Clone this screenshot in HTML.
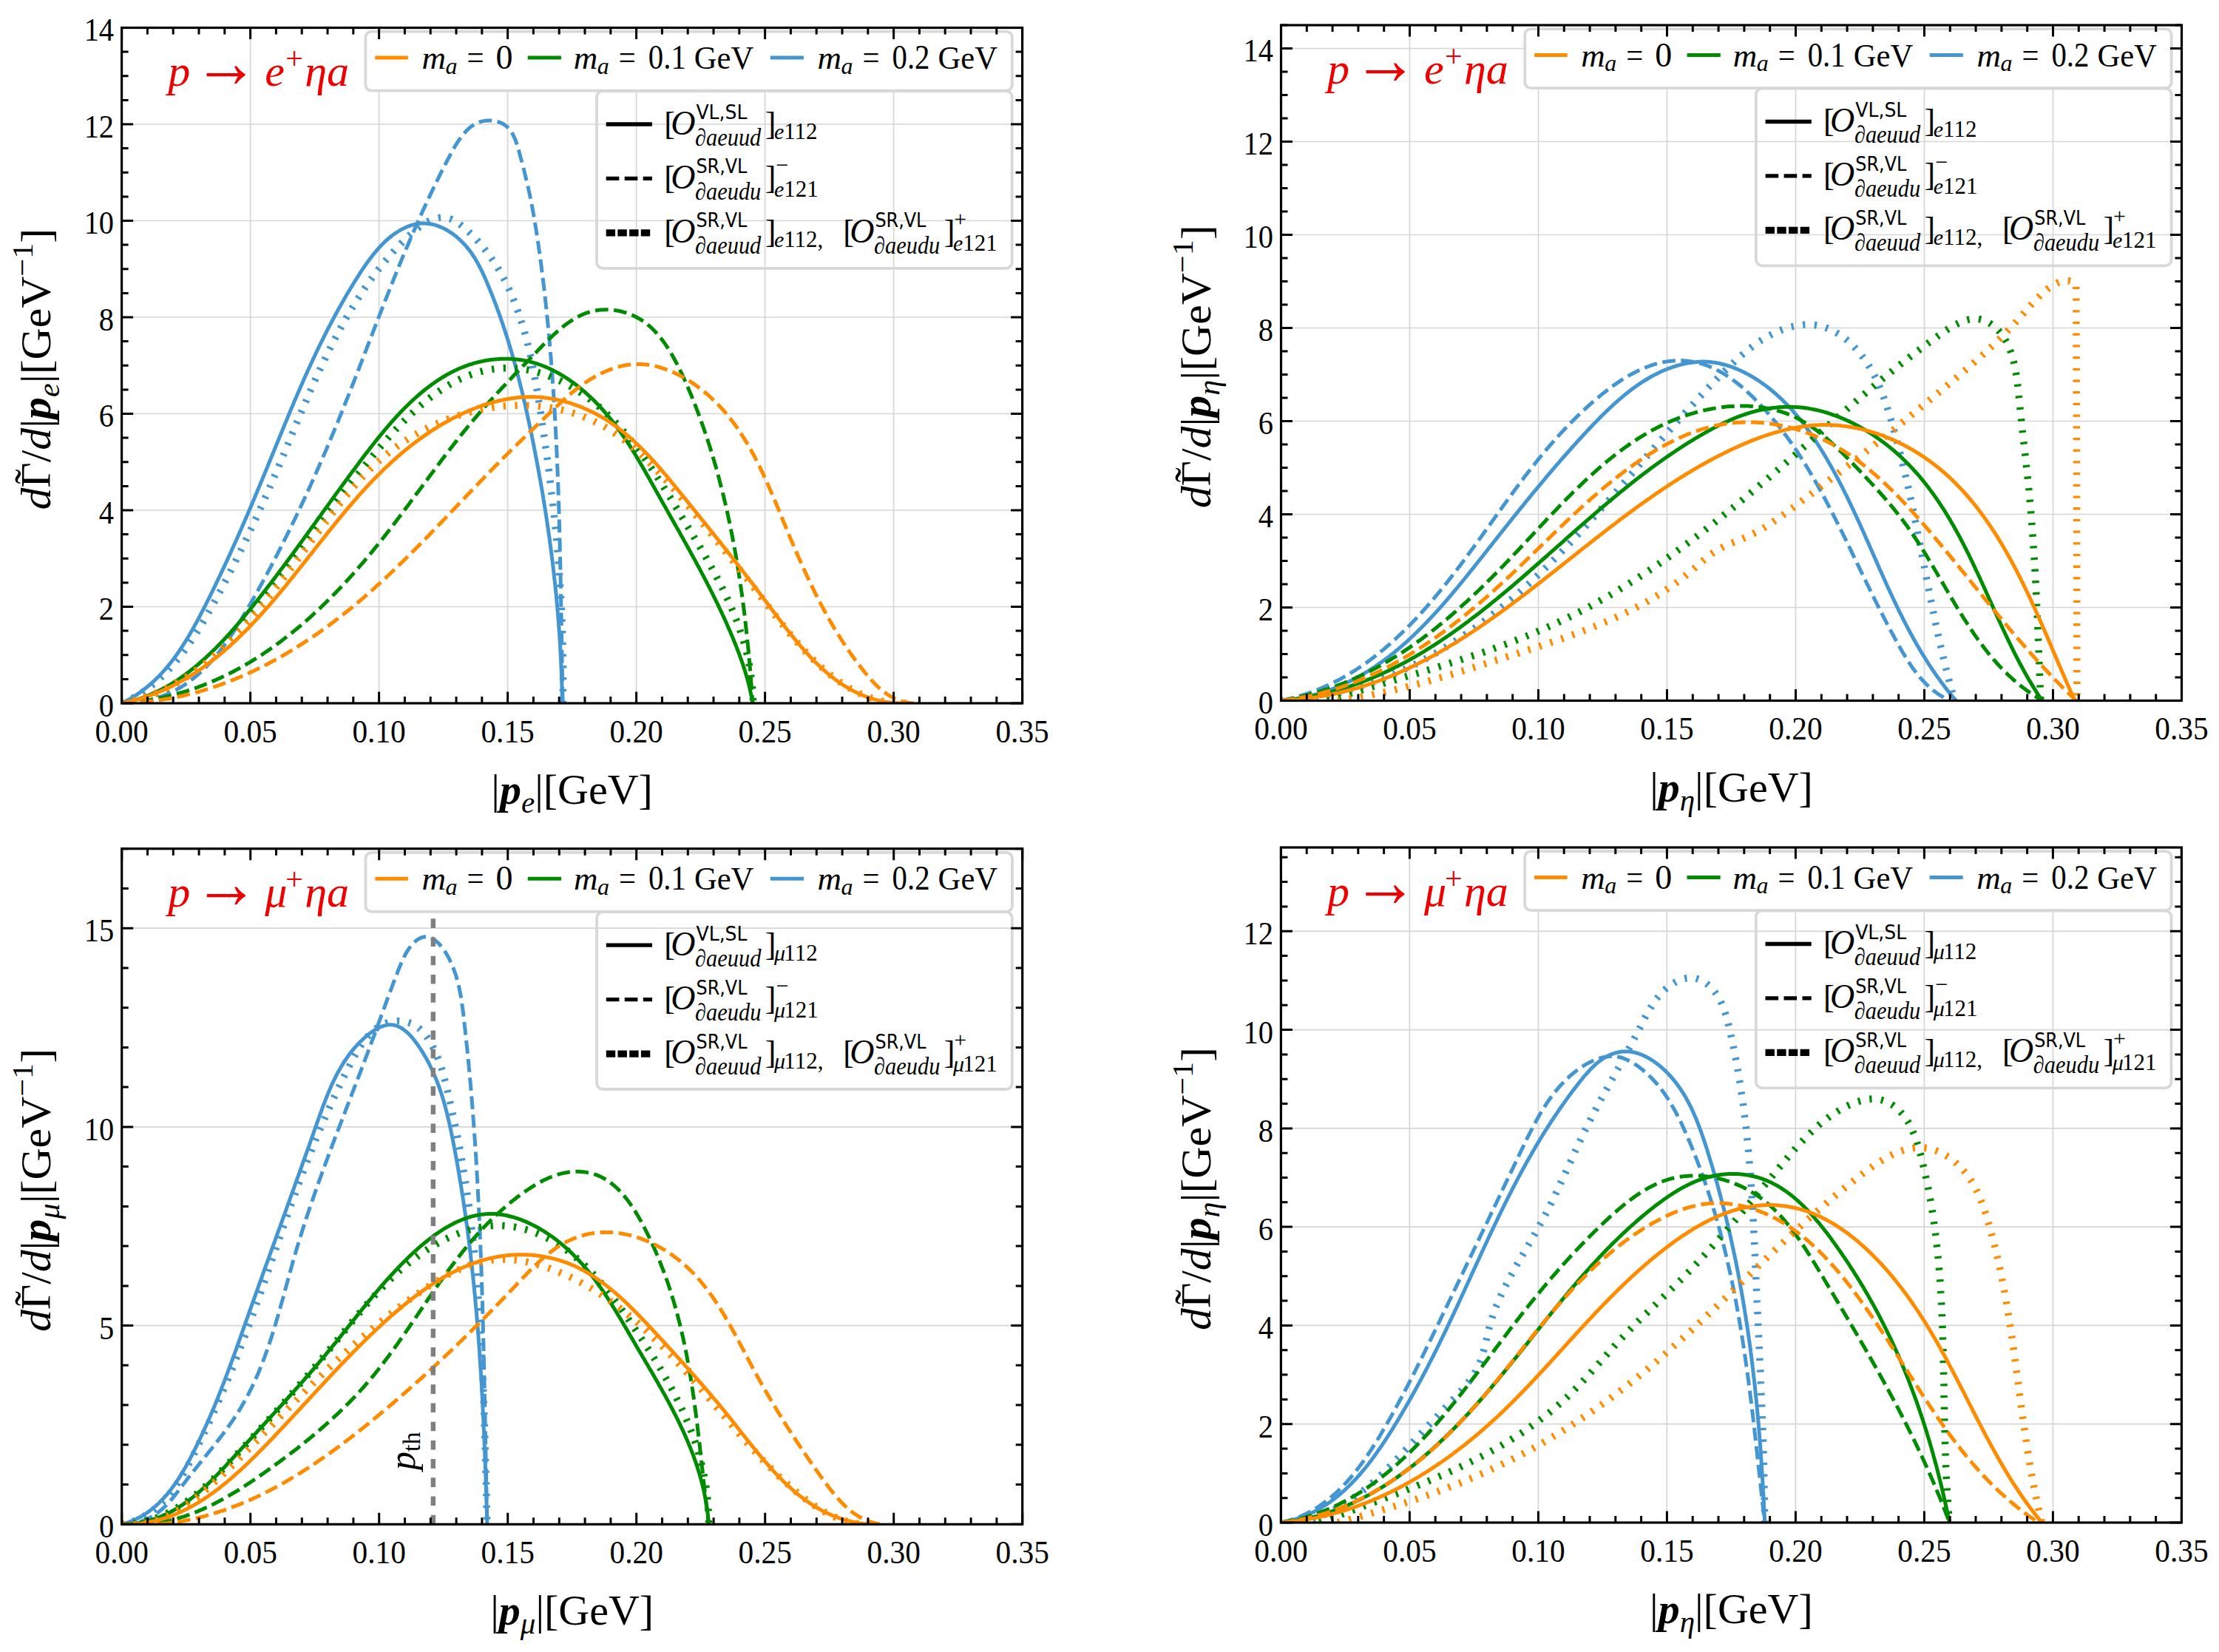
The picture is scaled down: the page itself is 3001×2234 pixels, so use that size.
<!DOCTYPE html><html><head><meta charset="utf-8"><style>html,body{margin:0;padding:0;background:#fff;}svg{display:block;}</style></head><body>
<svg xmlns="http://www.w3.org/2000/svg" width="3001" height="2234" viewBox="0 0 3001 2234">
<rect width="3001" height="2234" fill="#fff"/>
<g stroke="#d6d6d6" stroke-width="1.7"><line x1="338.6" y1="37.5" x2="338.6" y2="951.0"/><line x1="512.6" y1="37.5" x2="512.6" y2="951.0"/><line x1="686.6" y1="37.5" x2="686.6" y2="951.0"/><line x1="860.6" y1="37.5" x2="860.6" y2="951.0"/><line x1="1034.6" y1="37.5" x2="1034.6" y2="951.0"/><line x1="1208.6" y1="37.5" x2="1208.6" y2="951.0"/><line x1="164.6" y1="820.5" x2="1382.6" y2="820.5"/><line x1="164.6" y1="690.0" x2="1382.6" y2="690.0"/><line x1="164.6" y1="559.5" x2="1382.6" y2="559.5"/><line x1="164.6" y1="429.0" x2="1382.6" y2="429.0"/><line x1="164.6" y1="298.5" x2="1382.6" y2="298.5"/><line x1="164.6" y1="168.0" x2="1382.6" y2="168.0"/></g>
<clipPath id="c0"><rect x="164.6" y="37.5" width="1218.0" height="913.5"/></clipPath>
<g clip-path="url(#c0)" fill="none" stroke-linejoin="round">
<path d="M164.6,951.0 167.4,949.6 170.2,948.2 172.9,946.7 175.6,945.2 178.2,943.6 180.8,942.0 183.4,940.4 185.9,938.7 188.4,937.0 190.9,935.2 193.3,933.5 195.6,931.6 198.0,929.8 200.3,927.9 202.5,926.0 204.7,924.1 206.9,922.1 209.1,920.1 211.2,918.0 213.3,916.0 215.4,913.9 217.4,911.7 219.4,909.6 221.4,907.4 223.3,905.2 225.3,903.0 227.2,900.7 229.0,898.4 230.9,896.1 232.7,893.8 234.5,891.4 236.2,889.1 238.0,886.7 239.7,884.3 241.4,881.8 243.1,879.4 244.7,876.9 246.3,874.4 248.0,871.9 249.6,869.4 251.1,866.9 252.7,864.3 254.3,861.8 255.8,859.2 257.3,856.6 258.8,854.0 260.3,851.4 261.8,848.7 263.2,846.1 264.7,843.5 266.1,840.8 267.6,838.1 269.0,835.5 270.4,832.8 271.8,830.1 273.2,827.4 274.6,824.7 276.0,822.0 277.4,819.3 278.7,816.6 280.1,813.9 281.5,811.2 282.8,808.5 284.2,805.8 285.5,803.0 286.9,800.3 288.2,797.6 289.5,794.9 290.9,792.1 292.2,789.4 293.5,786.7 294.8,783.9 296.1,781.2 297.4,778.4 298.7,775.7 300.0,772.9 301.3,770.2 302.6,767.4 303.9,764.7 305.2,761.9 306.5,759.2 307.7,756.4 309.0,753.6 310.3,750.9 311.5,748.1 312.8,745.3 314.0,742.6 315.3,739.8 316.5,737.0 317.8,734.3 319.0,731.5 320.3,728.7 321.5,725.9 322.7,723.2 323.9,720.4 325.2,717.6 326.4,714.8 327.6,712.1 328.8,709.3 330.0,706.5 331.2,703.7 332.4,700.9 333.6,698.2 334.8,695.4 336.0,692.6 337.2,689.8 338.4,687.0 339.6,684.3 340.7,681.5 341.9,678.7 343.1,675.9 344.3,673.2 345.4,670.4 346.6,667.6 347.8,664.8 348.9,662.0 350.1,659.3 351.2,656.5 352.4,653.7 353.5,650.9 354.7,648.2 355.8,645.4 357.0,642.6 358.1,639.9 359.3,637.1 360.4,634.3 361.5,631.6 362.7,628.8 363.8,626.0 364.9,623.3 366.1,620.5 367.2,617.8 368.3,615.0 369.5,612.2 370.6,609.5 371.7,606.7 372.8,604.0 373.9,601.2 375.1,598.5 376.2,595.8 377.3,593.0 378.4,590.3 379.6,587.5 380.7,584.8 381.8,582.1 382.9,579.3 384.0,576.6 385.2,573.8 386.3,571.1 387.4,568.4 388.6,565.7 389.7,562.9 390.8,560.2 392.0,557.5 393.1,554.7 394.2,552.0 395.4,549.3 396.5,546.6 397.7,543.8 398.8,541.1 400.0,538.4 401.2,535.7 402.3,533.0 403.5,530.2 404.7,527.5 405.9,524.8 407.0,522.1 408.2,519.4 409.4,516.7 410.6,514.0 411.8,511.2 413.0,508.5 414.2,505.8 415.5,503.1 416.7,500.4 417.9,497.7 419.2,495.0 420.4,492.3 421.7,489.6 422.9,486.9 424.2,484.2 425.5,481.5 426.7,478.7 428.0,476.0 429.3,473.3 430.6,470.6 431.9,467.9 433.3,465.2 434.6,462.5 435.9,459.8 437.3,457.1 438.6,454.4 440.0,451.7 441.4,449.0 442.7,446.3 444.1,443.6 445.5,440.9 447.0,438.2 448.4,435.5 449.8,432.8 451.3,430.1 452.7,427.4 454.2,424.7 455.7,422.0 457.1,419.3 458.6,416.6 460.2,413.9 461.7,411.2 463.2,408.4 464.8,405.7 466.3,403.0 467.9,400.3 469.5,397.6 471.1,394.9 472.7,392.2 474.3,389.5 476.0,386.8 477.6,384.1 479.3,381.4 481.0,378.7 482.7,376.0 484.4,373.3 486.1,370.6 487.8,367.9 489.6,365.2 491.4,362.6 493.2,359.9 495.0,357.3 496.8,354.7 498.7,352.2 500.6,349.7 502.5,347.2 504.4,344.7 506.4,342.3 508.4,339.9 510.4,337.6 512.4,335.3 514.5,333.0 516.6,330.8 518.7,328.7 520.8,326.6 523.0,324.6 525.2,322.7 527.5,320.8 529.7,319.0 532.1,317.2 534.4,315.6 536.8,314.0 539.2,312.5 541.6,311.0 544.1,309.7 546.7,308.5 549.2,307.3 551.8,306.2 554.4,305.3 557.1,304.4 559.7,303.7 562.4,303.1 565.1,302.6 567.8,302.3 570.6,302.1 573.3,302.1 576.0,302.2 578.7,302.4 581.5,302.8 584.2,303.3 586.9,303.9 589.6,304.7 592.2,305.6 594.9,306.6 597.5,307.7 600.1,308.9 602.7,310.3 605.2,311.7 607.8,313.3 610.2,314.9 612.7,316.6 615.1,318.4 617.5,320.3 619.8,322.3 622.0,324.4 624.2,326.5 626.4,328.7 628.5,330.9 630.5,333.2 632.5,335.6 634.4,338.0 636.3,340.4 638.1,343.0 639.8,345.5 641.5,348.1 643.1,350.7 644.7,353.4 646.2,356.1 647.7,358.8 649.1,361.5 650.5,364.3 651.9,367.1 653.2,369.9 654.5,372.7 655.8,375.5 657.0,378.4 658.2,381.2 659.4,384.1 660.6,387.0 661.8,389.8 663.0,392.7 664.1,395.5 665.3,398.4 666.4,401.3 667.5,404.1 668.6,407.0 669.7,409.9 670.8,412.7 671.9,415.6 672.9,418.5 674.0,421.3 675.0,424.2 676.0,427.1 677.0,430.0 678.0,432.8 679.0,435.7 680.0,438.6 680.9,441.4 681.9,444.3 682.8,447.2 683.8,450.1 684.7,452.9 685.6,455.8 686.5,458.7 687.4,461.6 688.3,464.5 689.2,467.3 690.0,470.2 690.9,473.1 691.7,476.0 692.6,478.9 693.4,481.8 694.2,484.6 695.0,487.5 695.8,490.4 696.6,493.3 697.4,496.2 698.2,499.1 699.0,502.0 699.7,504.9 700.5,507.8 701.2,510.7 702.0,513.6 702.7,516.5 703.4,519.4 704.1,522.3 704.9,525.2 705.6,528.1 706.3,531.0 707.0,533.9 707.7,536.8 708.3,539.7 709.0,542.6 709.7,545.5 710.4,548.4 711.0,551.4 711.7,554.3 712.3,557.2 713.0,560.1 713.6,563.0 714.2,566.0 714.9,568.9 715.5,571.8 716.1,574.7 716.7,577.7 717.4,580.6 718.0,583.5 718.6,586.5 719.2,589.4 719.8,592.3 720.4,595.3 721.0,598.2 721.6,601.1 722.1,604.1 722.7,607.0 723.3,610.0 723.9,612.9 724.4,615.9 725.0,618.8 725.6,621.8 726.1,624.7 726.7,627.7 727.2,630.6 727.8,633.6 728.3,636.6 728.9,639.5 729.4,642.5 729.9,645.4 730.5,648.4 731.0,651.4 731.5,654.3 732.0,657.3 732.5,660.3 733.1,663.2 733.6,666.2 734.1,669.2 734.6,672.2 735.0,675.1 735.5,678.1 736.0,681.1 736.5,684.1 737.0,687.0 737.4,690.0 737.9,693.0 738.4,696.0 738.8,699.0 739.3,701.9 739.7,704.9 740.2,707.9 740.6,710.9 741.1,713.9 741.5,716.9 741.9,719.9 742.3,722.9 742.8,725.8 743.2,728.8 743.6,731.8 744.0,734.8 744.4,737.8 744.8,740.8 745.2,743.8 745.6,746.8 746.0,749.8 746.3,752.8 746.7,755.8 747.1,758.8 747.5,761.8 747.8,764.8 748.2,767.8 748.5,770.8 748.9,773.8 749.2,776.8 749.5,779.8 749.9,782.8 750.2,785.8 750.5,788.8 750.8,791.8 751.2,794.8 751.5,797.8 751.8,800.8 752.1,803.8 752.4,806.8 752.7,809.8 752.9,812.8 753.2,815.8 753.5,818.8 753.8,821.8 754.0,824.8 754.3,827.8 754.5,830.8 754.8,833.9 755.0,836.9 755.3,839.9 755.5,842.9 755.7,845.9 756.0,848.9 756.2,851.9 756.4,854.9 756.6,857.9 756.8,860.9 757.0,863.9 757.2,866.9 757.4,869.9 757.6,872.9 757.7,875.9 757.9,879.0 758.1,882.0 758.2,885.0 758.4,888.0 758.5,891.0 758.7,894.0 758.8,897.0 759.0,900.0 759.1,903.0 759.2,906.0 759.3,909.0 759.4,912.0 759.5,915.0 759.6,918.0 759.7,921.0 759.8,924.0 759.9,927.0 760.0,930.0 760.1,933.0 760.1,936.0 760.2,939.0 760.2,942.0 760.3,945.0 760.3,948.0 760.4,951.0" stroke="#4496d2" stroke-width="5"/>
<path d="M164.6,951.0 167.5,949.8 170.3,948.5 173.1,947.1 175.9,945.8 178.6,944.3 181.3,942.9 183.9,941.4 186.5,939.9 189.1,938.3 191.6,936.7 194.1,935.0 196.6,933.3 199.0,931.6 201.4,929.8 203.8,928.0 206.1,926.2 208.4,924.3 210.7,922.4 212.9,920.5 215.1,918.5 217.3,916.5 219.4,914.5 221.6,912.4 223.7,910.4 225.7,908.2 227.8,906.1 229.8,903.9 231.8,901.7 233.7,899.5 235.7,897.3 237.6,895.0 239.5,892.7 241.4,890.4 243.2,888.1 245.0,885.7 246.8,883.4 248.6,881.0 250.4,878.5 252.1,876.1 253.9,873.7 255.6,871.2 257.3,868.7 258.9,866.2 260.6,863.7 262.2,861.2 263.9,858.6 265.5,856.1 267.1,853.5 268.7,851.0 270.2,848.4 271.8,845.8 273.4,843.2 274.9,840.6 276.4,838.0 277.9,835.3 279.4,832.7 280.9,830.1 282.4,827.4 283.9,824.8 285.4,822.1 286.9,819.5 288.3,816.8 289.8,814.2 291.2,811.5 292.7,808.9 294.1,806.2 295.5,803.5 297.0,800.9 298.4,798.2 299.8,795.5 301.2,792.9 302.6,790.2 304.0,787.5 305.4,784.8 306.8,782.2 308.2,779.5 309.5,776.8 310.9,774.1 312.3,771.4 313.6,768.8 315.0,766.1 316.3,763.4 317.7,760.7 319.0,758.0 320.3,755.3 321.7,752.6 323.0,749.9 324.3,747.2 325.6,744.5 326.9,741.8 328.2,739.1 329.5,736.4 330.8,733.7 332.1,731.0 333.4,728.3 334.7,725.6 336.0,722.8 337.3,720.1 338.5,717.4 339.8,714.7 341.1,712.0 342.3,709.2 343.6,706.5 344.8,703.8 346.1,701.1 347.3,698.3 348.5,695.6 349.8,692.9 351.0,690.1 352.2,687.4 353.5,684.7 354.7,681.9 355.9,679.2 357.1,676.4 358.3,673.7 359.5,670.9 360.8,668.2 362.0,665.5 363.2,662.7 364.4,659.9 365.5,657.2 366.7,654.4 367.9,651.7 369.1,648.9 370.3,646.2 371.5,643.4 372.7,640.6 373.8,637.9 375.0,635.1 376.2,632.3 377.3,629.6 378.5,626.8 379.7,624.0 380.8,621.3 382.0,618.5 383.2,615.7 384.3,612.9 385.5,610.2 386.6,607.4 387.8,604.6 388.9,601.8 390.1,599.0 391.2,596.2 392.4,593.5 393.5,590.7 394.7,587.9 395.8,585.1 397.0,582.3 398.1,579.6 399.3,576.8 400.4,574.0 401.6,571.2 402.8,568.4 403.9,565.7 405.1,562.9 406.2,560.1 407.4,557.3 408.6,554.5 409.7,551.8 410.9,549.0 412.1,546.2 413.3,543.5 414.4,540.7 415.6,537.9 416.8,535.2 418.0,532.4 419.2,529.6 420.4,526.9 421.6,524.1 422.8,521.4 424.0,518.6 425.3,515.9 426.5,513.2 427.7,510.4 429.0,507.7 430.2,504.9 431.4,502.2 432.7,499.5 434.0,496.8 435.2,494.0 436.5,491.3 437.8,488.6 439.1,485.9 440.4,483.2 441.7,480.5 443.0,477.8 444.3,475.1 445.6,472.4 447.0,469.8 448.3,467.1 449.7,464.4 451.0,461.7 452.4,459.1 453.8,456.4 455.1,453.8 456.5,451.1 458.0,448.5 459.4,445.9 460.8,443.2 462.2,440.6 463.7,438.0 465.1,435.4 466.6,432.8 468.1,430.2 469.6,427.6 471.1,425.0 472.6,422.4 474.1,419.9 475.7,417.3 477.2,414.8 478.8,412.2 480.4,409.7 481.9,407.1 483.5,404.6 485.2,402.1 486.8,399.6 488.4,397.1 490.1,394.6 491.8,392.1 493.4,389.6 495.1,387.2 496.8,384.7 498.6,382.2 500.3,379.8 502.1,377.4 503.8,374.9 505.6,372.5 507.4,370.1 509.2,367.7 511.1,365.3 512.9,362.9 514.8,360.6 516.7,358.2 518.6,355.9 520.5,353.5 522.5,351.2 524.5,348.8 526.5,346.5 528.6,344.1 530.6,341.8 532.8,339.4 534.9,337.1 537.1,334.7 539.3,332.4 541.6,330.0 544.0,327.6 546.3,325.3 548.7,322.9 551.2,320.5 553.7,318.2 556.2,315.9 558.8,313.7 561.4,311.5 564.0,309.4 566.6,307.4 569.2,305.4 571.9,303.6 574.6,301.9 577.3,300.3 580.0,298.9 582.7,297.7 585.4,296.6 588.0,295.6 590.7,294.9 593.4,294.4 596.1,294.1 598.7,294.0 601.3,294.2 603.9,294.6 606.5,295.2 609.1,296.0 611.6,297.1 614.1,298.3 616.5,299.7 619.0,301.2 621.4,302.9 623.8,304.7 626.1,306.5 628.4,308.5 630.7,310.5 633.0,312.6 635.2,314.7 637.4,316.8 639.5,319.0 641.6,321.1 643.7,323.3 645.7,325.5 647.7,327.8 649.7,330.0 651.6,332.3 653.5,334.6 655.4,336.9 657.2,339.2 659.0,341.6 660.8,344.0 662.5,346.4 664.3,348.8 665.9,351.2 667.6,353.6 669.2,356.1 670.8,358.6 672.4,361.1 673.9,363.6 675.4,366.1 676.9,368.7 678.3,371.3 679.7,373.8 681.1,376.4 682.5,379.0 683.8,381.7 685.2,384.3 686.5,387.0 687.7,389.6 689.0,392.3 690.2,395.0 691.4,397.7 692.6,400.5 693.7,403.2 694.8,405.9 695.9,408.7 697.0,411.5 698.1,414.3 699.1,417.1 700.1,419.9 701.1,422.7 702.1,425.5 703.1,428.4 704.0,431.2 704.9,434.1 705.8,436.9 706.7,439.8 707.6,442.7 708.4,445.6 709.3,448.5 710.1,451.4 710.9,454.3 711.6,457.3 712.4,460.2 713.2,463.2 713.9,466.1 714.6,469.1 715.3,472.0 716.0,475.0 716.7,478.0 717.4,480.9 718.0,483.9 718.7,486.9 719.3,489.9 719.9,492.9 720.5,495.9 721.1,498.9 721.7,501.9 722.3,504.9 722.8,507.9 723.4,511.0 724.0,514.0 724.5,517.0 725.0,520.0 725.6,523.0 726.1,526.1 726.6,529.1 727.1,532.1 727.6,535.2 728.1,538.2 728.6,541.2 729.0,544.2 729.5,547.3 730.0,550.3 730.5,553.3 730.9,556.3 731.4,559.4 731.8,562.4 732.3,565.4 732.7,568.4 733.2,571.4 733.6,574.4 734.1,577.4 734.5,580.4 735.0,583.4 735.4,586.4 735.8,589.4 736.3,592.4 736.7,595.4 737.1,598.4 737.5,601.4 737.9,604.4 738.4,607.4 738.8,610.4 739.2,613.4 739.6,616.3 740.0,619.3 740.4,622.3 740.8,625.3 741.2,628.3 741.6,631.2 742.0,634.2 742.4,637.2 742.7,640.2 743.1,643.1 743.5,646.1 743.9,649.1 744.2,652.0 744.6,655.0 745.0,658.0 745.3,660.9 745.7,663.9 746.0,666.8 746.4,669.8 746.7,672.8 747.1,675.7 747.4,678.7 747.7,681.6 748.1,684.6 748.4,687.6 748.7,690.5 749.1,693.5 749.4,696.4 749.7,699.4 750.0,702.3 750.3,705.3 750.6,708.2 750.9,711.2 751.2,714.2 751.5,717.1 751.8,720.1 752.1,723.0 752.4,726.0 752.6,728.9 752.9,731.9 753.2,734.8 753.4,737.8 753.7,740.8 754.0,743.7 754.2,746.7 754.5,749.6 754.7,752.6 755.0,755.5 755.2,758.5 755.4,761.4 755.7,764.4 755.9,767.4 756.1,770.3 756.3,773.3 756.5,776.3 756.7,779.2 757.0,782.2 757.2,785.1 757.3,788.1 757.5,791.1 757.7,794.0 757.9,797.0 758.1,800.0 758.3,803.0 758.4,805.9 758.6,808.9 758.8,811.9 758.9,814.9 759.1,817.8 759.2,820.8 759.4,823.8 759.5,826.8 759.6,829.8 759.8,832.8 759.9,835.7 760.0,838.7 760.1,841.7 760.3,844.7 760.4,847.7 760.5,850.7 760.6,853.7 760.7,856.7 760.7,859.7 760.8,862.7 760.9,865.7 761.0,868.7 761.0,871.7 761.1,874.8 761.2,877.8 761.2,880.8 761.3,883.8 761.3,886.8 761.4,889.9 761.4,892.9 761.4,895.9 761.4,899.0 761.5,902.0 761.5,905.0 761.5,908.1 761.5,911.1 761.5,914.2 761.5,917.2 761.5,920.3 761.5,923.3 761.4,926.4 761.4,929.5 761.4,932.5 761.3,935.6 761.3,938.7 761.2,941.8 761.2,944.8 761.1,947.9 761.1,951.0" stroke="#4496d2" stroke-width="9.5" stroke-dasharray="3.3 12.4"/>
<path d="M164.6,951.0 168.2,950.9 171.7,950.8 175.1,950.6 178.5,950.3 181.9,950.0 185.2,949.6 188.5,949.2 191.7,948.7 194.9,948.1 198.0,947.5 201.1,946.8 204.2,946.1 207.2,945.3 210.2,944.4 213.1,943.5 216.0,942.6 218.8,941.6 221.6,940.5 224.4,939.4 227.1,938.3 229.8,937.1 232.4,935.8 235.1,934.5 237.6,933.2 240.2,931.8 242.7,930.4 245.2,928.9 247.6,927.4 250.0,925.8 252.4,924.2 254.7,922.5 257.1,920.9 259.3,919.1 261.6,917.4 263.8,915.6 266.0,913.7 268.2,911.9 270.3,910.0 272.4,908.0 274.5,906.0 276.6,904.0 278.6,902.0 280.6,899.9 282.6,897.8 284.5,895.7 286.5,893.5 288.4,891.4 290.3,889.1 292.2,886.9 294.0,884.6 295.8,882.4 297.6,880.1 299.4,877.7 301.2,875.4 303.0,873.0 304.7,870.6 306.4,868.2 308.1,865.8 309.8,863.3 311.5,860.8 313.2,858.4 314.8,855.9 316.4,853.4 318.1,850.8 319.7,848.3 321.3,845.7 322.8,843.2 324.4,840.6 326.0,838.0 327.6,835.4 329.1,832.8 330.6,830.2 332.2,827.6 333.7,825.0 335.2,822.4 336.7,819.8 338.3,817.1 339.8,814.5 341.3,811.9 342.8,809.2 344.3,806.6 345.7,804.0 347.2,801.3 348.7,798.7 350.2,796.0 351.6,793.4 353.1,790.7 354.6,788.0 356.0,785.4 357.5,782.7 358.9,780.1 360.3,777.4 361.8,774.7 363.2,772.0 364.6,769.4 366.1,766.7 367.5,764.0 368.9,761.3 370.3,758.6 371.7,755.9 373.1,753.3 374.5,750.6 375.9,747.9 377.2,745.2 378.6,742.5 380.0,739.8 381.4,737.1 382.7,734.4 384.1,731.6 385.4,728.9 386.8,726.2 388.1,723.5 389.5,720.8 390.8,718.1 392.2,715.4 393.5,712.6 394.8,709.9 396.1,707.2 397.5,704.5 398.8,701.7 400.1,699.0 401.4,696.3 402.7,693.5 404.0,690.8 405.3,688.1 406.6,685.3 407.9,682.6 409.1,679.8 410.4,677.1 411.7,674.3 413.0,671.6 414.2,668.9 415.5,666.1 416.7,663.4 418.0,660.6 419.2,657.9 420.5,655.1 421.7,652.3 423.0,649.6 424.2,646.8 425.4,644.1 426.7,641.3 427.9,638.6 429.1,635.8 430.3,633.0 431.5,630.3 432.7,627.5 433.9,624.8 435.1,622.0 436.3,619.2 437.5,616.5 438.7,613.7 439.9,610.9 441.1,608.2 442.3,605.4 443.4,602.6 444.6,599.8 445.8,597.1 446.9,594.3 448.1,591.5 449.3,588.8 450.4,586.0 451.6,583.2 452.7,580.5 453.9,577.7 455.0,574.9 456.1,572.1 457.3,569.4 458.4,566.6 459.5,563.8 460.7,561.0 461.8,558.3 462.9,555.5 464.0,552.7 465.1,549.9 466.2,547.2 467.3,544.4 468.5,541.6 469.6,538.9 470.7,536.1 471.8,533.3 472.8,530.5 473.9,527.8 475.0,525.0 476.1,522.2 477.2,519.4 478.3,516.7 479.4,513.9 480.5,511.1 481.5,508.3 482.6,505.6 483.7,502.8 484.8,500.0 485.8,497.3 486.9,494.5 488.0,491.7 489.1,488.9 490.1,486.2 491.2,483.4 492.3,480.6 493.3,477.8 494.4,475.1 495.5,472.3 496.5,469.5 497.6,466.7 498.7,464.0 499.7,461.2 500.8,458.4 501.9,455.6 503.0,452.9 504.0,450.1 505.1,447.3 506.2,444.5 507.2,441.8 508.3,439.0 509.4,436.2 510.5,433.4 511.5,430.7 512.6,427.9 513.7,425.1 514.8,422.3 515.8,419.6 516.9,416.8 518.0,414.0 519.1,411.2 520.2,408.5 521.3,405.7 522.4,402.9 523.5,400.1 524.6,397.3 525.7,394.6 526.8,391.8 527.9,389.0 529.0,386.2 530.1,383.5 531.2,380.7 532.3,377.9 533.4,375.1 534.5,372.3 535.7,369.6 536.8,366.8 537.9,364.0 539.1,361.2 540.2,358.5 541.3,355.7 542.5,352.9 543.6,350.1 544.8,347.3 545.9,344.6 547.1,341.8 548.3,339.0 549.4,336.2 550.6,333.4 551.8,330.7 553.0,327.9 554.2,325.1 555.3,322.3 556.5,319.5 557.7,316.8 559.0,314.0 560.2,311.2 561.4,308.4 562.6,305.6 563.8,302.9 565.1,300.1 566.3,297.3 567.6,294.5 568.8,291.7 570.1,288.9 571.3,286.2 572.6,283.4 573.9,280.6 575.2,277.8 576.5,275.0 577.8,272.2 579.1,269.5 580.4,266.7 581.7,263.9 583.0,261.1 584.3,258.3 585.7,255.5 587.0,252.7 588.4,250.0 589.7,247.2 591.1,244.4 592.5,241.6 593.8,238.8 595.2,236.0 596.6,233.2 598.0,230.4 599.5,227.7 600.9,224.9 602.3,222.1 603.7,219.3 605.2,216.5 606.6,213.7 608.1,210.9 609.6,208.2 611.1,205.4 612.6,202.7 614.1,200.0 615.7,197.3 617.3,194.7 618.9,192.1 620.6,189.6 622.3,187.2 624.0,184.8 625.8,182.6 627.6,180.4 629.5,178.3 631.4,176.3 633.4,174.4 635.4,172.6 637.5,171.0 639.7,169.5 642.0,168.1 644.3,166.9 646.7,165.8 649.1,164.9 651.7,164.1 654.3,163.6 657.0,163.2 659.8,163.0 662.6,162.9 665.5,163.1 668.3,163.5 671.2,164.1 673.9,164.8 676.7,165.8 679.3,167.0 681.8,168.5 684.1,170.1 686.3,172.0 688.4,174.1 690.2,176.4 691.9,178.9 693.5,181.6 694.9,184.4 696.2,187.3 697.4,190.3 698.5,193.4 699.6,196.6 700.5,199.8 701.5,203.0 702.3,206.2 703.2,209.4 704.0,212.6 704.9,215.7 705.7,218.7 706.5,221.8 707.2,224.8 708.0,227.7 708.8,230.7 709.5,233.6 710.2,236.5 710.9,239.4 711.6,242.3 712.3,245.1 713.0,248.0 713.7,250.8 714.3,253.7 714.9,256.5 715.6,259.4 716.2,262.3 716.8,265.1 717.4,268.0 718.0,270.9 718.6,273.8 719.1,276.7 719.7,279.6 720.2,282.5 720.8,285.5 721.3,288.4 721.8,291.3 722.3,294.3 722.9,297.2 723.4,300.2 723.8,303.1 724.3,306.1 724.8,309.1 725.3,312.0 725.7,315.0 726.2,318.0 726.7,321.0 727.1,323.9 727.5,326.9 728.0,329.9 728.4,332.9 728.8,335.9 729.2,338.9 729.7,341.9 730.1,344.8 730.5,347.8 730.9,350.8 731.3,353.8 731.7,356.8 732.1,359.8 732.5,362.8 732.8,365.8 733.2,368.8 733.6,371.8 734.0,374.8 734.3,377.7 734.7,380.7 735.1,383.7 735.4,386.7 735.8,389.7 736.1,392.7 736.5,395.7 736.8,398.7 737.1,401.7 737.5,404.7 737.8,407.7 738.1,410.7 738.4,413.6 738.8,416.6 739.1,419.6 739.4,422.6 739.7,425.6 740.0,428.6 740.3,431.6 740.6,434.6 740.9,437.6 741.2,440.6 741.5,443.6 741.8,446.6 742.0,449.6 742.3,452.6 742.6,455.6 742.9,458.6 743.1,461.6 743.4,464.5 743.7,467.5 743.9,470.5 744.2,473.5 744.4,476.5 744.7,479.5 744.9,482.5 745.2,485.5 745.4,488.5 745.6,491.5 745.9,494.5 746.1,497.5 746.3,500.5 746.6,503.5 746.8,506.5 747.0,509.5 747.2,512.5 747.4,515.5 747.6,518.5 747.8,521.5 748.1,524.5 748.3,527.5 748.5,530.5 748.7,533.5 748.9,536.5 749.0,539.5 749.2,542.5 749.4,545.5 749.6,548.5 749.8,551.5 750.0,554.5 750.1,557.5 750.3,560.5 750.5,563.5 750.7,566.5 750.8,569.5 751.0,572.5 751.2,575.5 751.3,578.5 751.5,581.5 751.6,584.5 751.8,587.5 751.9,590.5 752.1,593.5 752.2,596.5 752.4,599.5 752.5,602.5 752.7,605.5 752.8,608.5 752.9,611.5 753.1,614.5 753.2,617.5 753.3,620.5 753.5,623.5 753.6,626.5 753.7,629.5 753.8,632.5 754.0,635.5 754.1,638.5 754.2,641.5 754.3,644.5 754.4,647.5 754.5,650.5 754.7,653.5 754.8,656.5 754.9,659.5 755.0,662.5 755.1,665.5 755.2,668.5 755.3,671.5 755.4,674.5 755.5,677.5 755.6,680.5 755.7,683.5 755.8,686.5 755.9,689.5 756.0,692.5 756.0,695.5 756.1,698.5 756.2,701.5 756.3,704.5 756.4,707.5 756.5,710.5 756.5,713.5 756.6,716.6 756.7,719.6 756.8,722.6 756.9,725.6 756.9,728.6 757.0,731.6 757.1,734.6 757.2,737.6 757.2,740.6 757.3,743.6 757.4,746.6 757.4,749.6 757.5,752.6 757.6,755.6 757.6,758.6 757.7,761.6 757.8,764.6 757.8,767.6 757.9,770.6 758.0,773.6 758.0,776.6 758.1,779.6 758.1,782.7 758.2,785.7 758.2,788.7 758.3,791.7 758.4,794.7 758.4,797.7 758.5,800.7 758.5,803.7 758.6,806.7 758.6,809.7 758.7,812.7 758.7,815.7 758.8,818.7 758.9,821.7 758.9,824.7 759.0,827.7 759.0,830.7 759.1,833.7 759.1,836.8 759.2,839.8 759.2,842.8 759.3,845.8 759.3,848.8 759.4,851.8 759.4,854.8 759.5,857.8 759.5,860.8 759.6,863.8 759.6,866.8 759.7,869.8 759.7,872.8 759.8,875.8 759.8,878.8 759.9,881.8 759.9,884.9 760.0,887.9 760.0,890.9 760.1,893.9 760.1,896.9 760.2,899.9 760.2,902.9 760.3,905.9 760.3,908.9 760.4,911.9 760.4,914.9 760.5,917.9 760.5,920.9 760.6,923.9 760.6,926.9 760.7,930.0 760.7,933.0 760.8,936.0 760.8,939.0 760.9,942.0 761.0,945.0 761.0,948.0 761.1,951.0" stroke="#4496d2" stroke-width="5" stroke-dasharray="17.7 7.5"/>
<path d="M164.6,951.0 167.6,950.4 170.6,949.8 173.6,949.1 176.6,948.4 179.5,947.6 182.4,946.8 185.3,945.9 188.2,945.0 191.1,944.0 193.9,943.0 196.7,942.0 199.5,940.9 202.3,939.8 205.0,938.6 207.8,937.4 210.5,936.2 213.2,934.9 215.9,933.6 218.5,932.2 221.2,930.8 223.8,929.4 226.4,928.0 229.0,926.5 231.5,924.9 234.1,923.4 236.6,921.8 239.1,920.2 241.6,918.5 244.1,916.8 246.5,915.1 249.0,913.4 251.4,911.6 253.8,909.8 256.2,908.0 258.6,906.1 261.0,904.3 263.3,902.4 265.6,900.4 267.9,898.5 270.2,896.5 272.5,894.5 274.8,892.5 277.1,890.5 279.3,888.4 281.5,886.3 283.8,884.2 286.0,882.1 288.1,880.0 290.3,877.9 292.5,875.7 294.6,873.5 296.8,871.3 298.9,869.1 301.0,866.9 303.1,864.7 305.2,862.4 307.3,860.1 309.3,857.9 311.4,855.6 313.4,853.3 315.5,851.0 317.5,848.7 319.5,846.4 321.5,844.1 323.5,841.7 325.5,839.4 327.4,837.1 329.4,834.7 331.3,832.4 333.3,830.0 335.2,827.7 337.1,825.3 339.0,823.0 341.0,820.6 342.9,818.3 344.7,815.9 346.6,813.6 348.5,811.2 350.4,808.8 352.2,806.5 354.1,804.1 355.9,801.8 357.8,799.4 359.6,797.1 361.4,794.7 363.2,792.4 365.1,790.0 366.9,787.7 368.7,785.3 370.5,782.9 372.3,780.6 374.0,778.2 375.8,775.9 377.6,773.5 379.4,771.1 381.1,768.8 382.9,766.4 384.7,764.1 386.4,761.7 388.2,759.3 389.9,757.0 391.7,754.6 393.4,752.2 395.2,749.9 396.9,747.5 398.6,745.1 400.4,742.8 402.1,740.4 403.8,738.0 405.6,735.6 407.3,733.3 409.0,730.9 410.7,728.5 412.5,726.1 414.2,723.7 415.9,721.4 417.6,719.0 419.4,716.6 421.1,714.2 422.8,711.8 424.5,709.4 426.3,707.0 428.0,704.6 429.7,702.2 431.4,699.8 433.2,697.4 434.9,695.0 436.6,692.6 438.4,690.2 440.1,687.8 441.8,685.4 443.6,683.0 445.3,680.6 447.1,678.1 448.8,675.7 450.6,673.3 452.3,670.9 454.1,668.4 455.9,666.0 457.6,663.6 459.4,661.1 461.2,658.7 463.0,656.3 464.8,653.8 466.6,651.4 468.4,648.9 470.2,646.5 472.0,644.0 473.8,641.6 475.6,639.1 477.4,636.6 479.3,634.2 481.1,631.7 483.0,629.2 484.8,626.8 486.7,624.3 488.5,621.8 490.4,619.3 492.3,616.8 494.2,614.3 496.1,611.9 498.0,609.4 499.9,606.9 501.9,604.4 503.8,601.9 505.7,599.5 507.7,597.0 509.6,594.6 511.6,592.1 513.6,589.7 515.6,587.2 517.6,584.8 519.6,582.4 521.6,580.0 523.7,577.6 525.7,575.2 527.8,572.9 529.8,570.5 531.9,568.2 534.0,565.9 536.1,563.5 538.2,561.3 540.3,559.0 542.5,556.7 544.6,554.5 546.8,552.3 549.0,550.1 551.2,548.0 553.4,545.8 555.6,543.7 557.8,541.6 560.1,539.5 562.3,537.5 564.6,535.5 566.9,533.5 569.2,531.5 571.5,529.6 573.8,527.7 576.2,525.8 578.6,524.0 580.9,522.2 583.3,520.4 585.7,518.7 588.2,517.0 590.6,515.3 593.1,513.7 595.6,512.1 598.1,510.5 600.6,509.0 603.1,507.5 605.6,506.1 608.2,504.7 610.8,503.3 613.4,502.0 616.0,500.8 618.7,499.5 621.3,498.3 624.0,497.2 626.7,496.1 629.4,495.1 632.1,494.1 634.9,493.2 637.7,492.3 640.4,491.4 643.3,490.6 646.1,489.9 648.9,489.2 651.8,488.6 654.6,488.0 657.5,487.5 660.4,487.0 663.3,486.6 666.2,486.2 669.1,485.9 672.0,485.7 674.9,485.5 677.8,485.3 680.8,485.2 683.7,485.2 686.6,485.2 689.5,485.3 692.4,485.5 695.3,485.7 698.2,485.9 701.1,486.3 704.0,486.7 706.9,487.1 709.8,487.6 712.6,488.2 715.5,488.8 718.3,489.6 721.1,490.3 723.9,491.1 726.7,492.0 729.5,493.0 732.3,494.0 735.0,495.0 737.7,496.1 740.5,497.3 743.2,498.5 745.8,499.8 748.5,501.1 751.1,502.5 753.8,503.9 756.4,505.3 759.0,506.9 761.6,508.4 764.1,510.0 766.7,511.6 769.2,513.3 771.7,515.1 774.2,516.8 776.6,518.6 779.1,520.5 781.5,522.3 783.9,524.2 786.2,526.2 788.6,528.2 790.9,530.2 793.2,532.2 795.5,534.3 797.8,536.4 800.0,538.5 802.3,540.6 804.5,542.8 806.6,545.0 808.8,547.2 810.9,549.5 813.0,551.7 815.1,554.0 817.1,556.3 819.1,558.6 821.1,561.0 823.1,563.3 825.0,565.7 827.0,568.1 828.9,570.5 830.7,572.9 832.6,575.3 834.4,577.7 836.2,580.2 838.0,582.6 839.7,585.1 841.5,587.6 843.2,590.1 844.9,592.6 846.6,595.1 848.3,597.6 849.9,600.1 851.6,602.7 853.2,605.2 854.8,607.8 856.4,610.3 858.0,612.9 859.6,615.5 861.1,618.1 862.7,620.7 864.2,623.3 865.8,625.9 867.3,628.5 868.8,631.1 870.3,633.7 871.8,636.3 873.3,639.0 874.8,641.6 876.3,644.2 877.8,646.8 879.3,649.5 880.7,652.1 882.2,654.7 883.7,657.4 885.2,660.0 886.6,662.6 888.1,665.3 889.6,667.9 891.1,670.5 892.6,673.2 894.0,675.8 895.5,678.4 897.0,681.1 898.5,683.7 900.0,686.3 901.4,688.9 902.9,691.6 904.4,694.2 905.9,696.8 907.4,699.4 908.9,702.1 910.4,704.7 911.8,707.3 913.3,709.9 914.8,712.6 916.3,715.2 917.8,717.8 919.2,720.4 920.7,723.1 922.2,725.7 923.7,728.3 925.1,730.9 926.6,733.6 928.1,736.2 929.5,738.8 931.0,741.5 932.4,744.1 933.9,746.7 935.3,749.4 936.8,752.0 938.2,754.6 939.7,757.3 941.1,759.9 942.5,762.6 944.0,765.2 945.4,767.8 946.8,770.5 948.2,773.1 949.6,775.8 951.0,778.4 952.4,781.1 953.8,783.8 955.2,786.4 956.5,789.1 957.9,791.7 959.3,794.4 960.6,797.1 962.0,799.8 963.3,802.4 964.7,805.1 966.0,807.8 967.3,810.5 968.6,813.2 970.0,815.9 971.3,818.6 972.6,821.3 973.8,824.0 975.1,826.7 976.4,829.4 977.6,832.1 978.9,834.8 980.1,837.5 981.4,840.3 982.6,843.0 983.8,845.7 985.0,848.5 986.2,851.2 987.4,853.9 988.5,856.7 989.7,859.5 990.9,862.2 992.0,865.0 993.1,867.8 994.3,870.5 995.4,873.3 996.5,876.1 997.5,878.9 998.6,881.7 999.7,884.5 1000.7,887.3 1001.7,890.1 1002.7,892.9 1003.7,895.8 1004.7,898.6 1005.6,901.4 1006.5,904.3 1007.4,907.1 1008.3,910.0 1009.2,912.9 1010.0,915.8 1010.8,918.6 1011.6,921.5 1012.4,924.4 1013.1,927.4 1013.8,930.3 1014.5,933.2 1015.1,936.2 1015.7,939.1 1016.3,942.1 1016.9,945.0 1017.4,948.0 1017.9,951.0" stroke="#008c00" stroke-width="5"/>
<path d="M164.6,951.0 167.7,950.5 170.8,950.0 173.9,949.5 176.9,948.9 179.9,948.2 182.9,947.5 185.9,946.7 188.8,945.9 191.7,945.1 194.6,944.2 197.5,943.3 200.3,942.3 203.1,941.2 205.9,940.2 208.7,939.1 211.5,937.9 214.2,936.7 216.9,935.5 219.6,934.2 222.3,932.9 225.0,931.5 227.6,930.1 230.2,928.7 232.8,927.2 235.4,925.7 237.9,924.2 240.5,922.6 243.0,921.0 245.5,919.4 248.0,917.7 250.4,916.0 252.9,914.3 255.3,912.5 257.7,910.7 260.1,908.9 262.5,907.1 264.9,905.2 267.2,903.3 269.5,901.4 271.8,899.5 274.1,897.5 276.4,895.5 278.7,893.5 280.9,891.4 283.2,889.4 285.4,887.3 287.6,885.2 289.8,883.1 292.0,881.0 294.2,878.8 296.3,876.6 298.5,874.5 300.6,872.2 302.7,870.0 304.8,867.8 306.9,865.6 309.0,863.3 311.1,861.0 313.1,858.8 315.2,856.5 317.2,854.2 319.2,851.9 321.2,849.5 323.2,847.2 325.2,844.9 327.2,842.5 329.2,840.2 331.2,837.9 333.1,835.5 335.1,833.2 337.0,830.8 339.0,828.4 340.9,826.1 342.8,823.7 344.7,821.4 346.6,819.0 348.5,816.6 350.4,814.3 352.3,811.9 354.2,809.6 356.1,807.2 357.9,804.9 359.8,802.5 361.6,800.2 363.5,797.8 365.3,795.5 367.2,793.1 369.0,790.8 370.8,788.4 372.7,786.1 374.5,783.7 376.3,781.4 378.1,779.0 379.9,776.7 381.7,774.3 383.5,772.0 385.3,769.6 387.1,767.3 388.9,765.0 390.7,762.6 392.5,760.3 394.3,757.9 396.1,755.6 397.9,753.3 399.7,750.9 401.4,748.6 403.2,746.2 405.0,743.9 406.8,741.5 408.6,739.2 410.3,736.9 412.1,734.5 413.9,732.2 415.7,729.8 417.4,727.5 419.2,725.1 421.0,722.8 422.8,720.4 424.5,718.1 426.3,715.8 428.1,713.4 429.9,711.1 431.7,708.7 433.4,706.4 435.2,704.0 437.0,701.7 438.8,699.3 440.6,697.0 442.4,694.6 444.2,692.2 446.0,689.9 447.8,687.5 449.6,685.2 451.4,682.8 453.3,680.5 455.1,678.1 456.9,675.7 458.7,673.4 460.6,671.0 462.4,668.6 464.2,666.3 466.1,663.9 467.9,661.5 469.8,659.1 471.7,656.8 473.5,654.4 475.4,652.0 477.3,649.6 479.2,647.2 481.1,644.9 483.0,642.5 484.9,640.1 486.8,637.7 488.8,635.3 490.7,632.9 492.6,630.5 494.6,628.1 496.5,625.7 498.5,623.3 500.5,620.9 502.5,618.5 504.4,616.1 506.4,613.7 508.4,611.3 510.5,608.9 512.5,606.5 514.5,604.1 516.6,601.7 518.6,599.3 520.7,597.0 522.8,594.6 524.8,592.3 526.9,589.9 529.0,587.6 531.2,585.3 533.3,582.9 535.4,580.6 537.6,578.4 539.7,576.1 541.9,573.8 544.1,571.6 546.3,569.4 548.5,567.2 550.7,565.0 552.9,562.8 555.1,560.7 557.4,558.6 559.7,556.5 561.9,554.4 564.2,552.3 566.5,550.3 568.8,548.3 571.2,546.3 573.5,544.4 575.8,542.4 578.2,540.5 580.6,538.7 583.0,536.8 585.4,535.0 587.8,533.3 590.2,531.5 592.7,529.8 595.1,528.2 597.6,526.5 600.1,524.9 602.6,523.4 605.1,521.8 607.6,520.3 610.2,518.9 612.7,517.5 615.3,516.1 617.9,514.8 620.5,513.5 623.1,512.3 625.8,511.1 628.4,509.9 631.1,508.8 633.8,507.8 636.5,506.8 639.2,505.8 641.9,504.9 644.7,504.0 647.5,503.2 650.2,502.5 653.0,501.8 655.9,501.1 658.7,500.5 661.5,500.0 664.4,499.5 667.3,499.1 670.2,498.7 673.1,498.4 676.1,498.1 679.0,497.9 682.0,497.8 685.0,497.7 688.0,497.7 691.0,497.8 694.0,497.9 697.0,498.1 700.1,498.3 703.1,498.6 706.1,499.0 709.1,499.4 712.1,499.9 715.1,500.5 718.1,501.1 721.1,501.8 724.1,502.5 727.0,503.3 729.9,504.2 732.9,505.1 735.8,506.1 738.6,507.1 741.5,508.2 744.3,509.3 747.2,510.4 749.9,511.6 752.7,512.8 755.4,514.1 758.2,515.3 760.8,516.7 763.5,518.0 766.1,519.4 768.8,520.8 771.4,522.3 773.9,523.8 776.5,525.3 779.0,526.8 781.5,528.4 783.9,530.0 786.4,531.6 788.8,533.3 791.2,535.0 793.6,536.7 796.0,538.5 798.3,540.3 800.6,542.1 803.0,543.9 805.2,545.8 807.5,547.6 809.7,549.6 812.0,551.5 814.2,553.5 816.4,555.4 818.5,557.4 820.7,559.5 822.8,561.5 824.9,563.6 827.0,565.7 829.1,567.8 831.2,570.0 833.2,572.1 835.2,574.3 837.2,576.5 839.2,578.7 841.2,581.0 843.2,583.2 845.1,585.5 847.1,587.8 849.0,590.1 850.9,592.4 852.8,594.8 854.7,597.1 856.6,599.5 858.4,601.9 860.3,604.3 862.1,606.7 863.9,609.1 865.7,611.6 867.5,614.0 869.3,616.5 871.1,619.0 872.9,621.5 874.6,624.0 876.4,626.5 878.1,629.0 879.8,631.6 881.6,634.1 883.3,636.6 885.0,639.2 886.7,641.8 888.4,644.3 890.0,646.9 891.7,649.5 893.4,652.1 895.0,654.7 896.7,657.3 898.3,659.9 900.0,662.5 901.6,665.2 903.2,667.8 904.8,670.4 906.5,673.0 908.1,675.7 909.7,678.3 911.3,680.9 912.9,683.6 914.5,686.2 916.1,688.8 917.7,691.5 919.3,694.1 920.8,696.7 922.4,699.4 924.0,702.0 925.6,704.6 927.2,707.2 928.7,709.9 930.3,712.5 931.9,715.1 933.5,717.7 935.0,720.3 936.6,722.9 938.2,725.5 939.7,728.1 941.3,730.8 942.8,733.4 944.3,736.0 945.9,738.6 947.4,741.2 948.9,743.8 950.4,746.4 951.9,749.0 953.4,751.6 954.9,754.2 956.4,756.9 957.9,759.5 959.3,762.1 960.8,764.7 962.2,767.3 963.7,770.0 965.1,772.6 966.5,775.2 967.9,777.8 969.3,780.5 970.7,783.1 972.0,785.7 973.4,788.4 974.7,791.0 976.1,793.7 977.4,796.3 978.7,799.0 980.0,801.7 981.2,804.3 982.5,807.0 983.7,809.7 984.9,812.4 986.2,815.1 987.3,817.7 988.5,820.4 989.7,823.2 990.8,825.9 991.9,828.6 993.1,831.3 994.1,834.0 995.2,836.8 996.3,839.5 997.3,842.3 998.3,845.0 999.3,847.8 1000.3,850.6 1001.2,853.4 1002.1,856.2 1003.0,859.0 1003.9,861.8 1004.8,864.6 1005.6,867.4 1006.5,870.3 1007.2,873.1 1008.0,876.0 1008.8,878.8 1009.5,881.7 1010.2,884.6 1010.9,887.5 1011.5,890.4 1012.1,893.3 1012.7,896.2 1013.3,899.2 1013.8,902.1 1014.3,905.1 1014.8,908.0 1015.3,911.0 1015.7,914.0 1016.1,917.0 1016.5,920.1 1016.8,923.1 1017.2,926.1 1017.5,929.2 1017.7,932.3 1017.9,935.4 1018.1,938.5 1018.3,941.6 1018.4,944.7 1018.5,947.8 1018.6,951.0" stroke="#008c00" stroke-width="9.5" stroke-dasharray="3.3 12.4"/>
<path d="M164.6,951.0 167.8,950.8 170.9,950.5 174.1,950.3 177.2,950.0 180.4,949.7 183.5,949.3 186.6,948.9 189.7,948.5 192.8,948.1 195.8,947.7 198.9,947.2 201.9,946.7 205.0,946.2 208.0,945.6 211.0,945.1 214.0,944.5 217.0,943.8 220.0,943.2 223.0,942.5 226.0,941.8 228.9,941.1 231.9,940.4 234.8,939.6 237.7,938.8 240.6,938.0 243.5,937.2 246.4,936.3 249.3,935.5 252.2,934.6 255.0,933.6 257.9,932.7 260.7,931.7 263.5,930.8 266.4,929.8 269.2,928.7 272.0,927.7 274.7,926.6 277.5,925.5 280.3,924.4 283.0,923.3 285.8,922.1 288.5,920.9 291.3,919.8 294.0,918.5 296.7,917.3 299.4,916.1 302.1,914.8 304.7,913.5 307.4,912.2 310.1,910.9 312.7,909.5 315.3,908.2 318.0,906.8 320.6,905.4 323.2,904.0 325.8,902.5 328.4,901.1 331.0,899.6 333.5,898.1 336.1,896.6 338.6,895.1 341.2,893.5 343.7,892.0 346.2,890.4 348.7,888.8 351.2,887.2 353.7,885.6 356.2,884.0 358.7,882.3 361.2,880.6 363.6,878.9 366.1,877.2 368.5,875.5 370.9,873.8 373.4,872.1 375.8,870.3 378.2,868.5 380.6,866.7 382.9,864.9 385.3,863.1 387.7,861.3 390.0,859.4 392.4,857.6 394.7,855.7 397.1,853.8 399.4,851.9 401.7,850.0 404.0,848.1 406.3,846.2 408.6,844.2 410.9,842.3 413.1,840.3 415.4,838.3 417.6,836.3 419.9,834.3 422.1,832.3 424.3,830.2 426.6,828.2 428.8,826.2 431.0,824.1 433.2,822.0 435.3,819.9 437.5,817.8 439.7,815.7 441.8,813.6 444.0,811.5 446.1,809.4 448.3,807.2 450.4,805.1 452.5,802.9 454.6,800.7 456.7,798.6 458.8,796.4 460.9,794.2 463.0,792.0 465.1,789.8 467.1,787.5 469.2,785.3 471.2,783.1 473.3,780.8 475.3,778.6 477.3,776.3 479.3,774.0 481.4,771.8 483.4,769.5 485.3,767.2 487.3,764.9 489.3,762.6 491.3,760.3 493.2,758.0 495.2,755.7 497.2,753.4 499.1,751.0 501.0,748.7 503.0,746.4 504.9,744.0 506.8,741.7 508.7,739.3 510.6,737.0 512.5,734.6 514.4,732.2 516.3,729.9 518.1,727.5 520.0,725.1 521.9,722.7 523.7,720.3 525.6,718.0 527.4,715.6 529.3,713.2 531.1,710.8 533.0,708.4 534.8,706.0 536.6,703.6 538.4,701.2 540.3,698.8 542.1,696.3 543.9,693.9 545.7,691.5 547.5,689.1 549.3,686.7 551.1,684.3 552.9,681.9 554.7,679.4 556.5,677.0 558.3,674.6 560.1,672.2 561.9,669.8 563.7,667.3 565.5,664.9 567.3,662.5 569.1,660.1 570.9,657.7 572.7,655.3 574.5,652.8 576.3,650.4 578.1,648.0 579.8,645.6 581.6,643.2 583.4,640.8 585.2,638.4 587.0,636.0 588.8,633.6 590.6,631.2 592.4,628.8 594.2,626.4 596.0,624.0 597.8,621.6 599.6,619.2 601.4,616.8 603.2,614.4 605.1,612.1 606.9,609.7 608.7,607.3 610.5,605.0 612.4,602.6 614.2,600.2 616.0,597.9 617.9,595.6 619.7,593.2 621.6,590.9 623.4,588.5 625.3,586.2 627.1,583.9 629.0,581.6 630.9,579.3 632.8,577.0 634.7,574.7 636.6,572.4 638.5,570.1 640.4,567.8 642.3,565.6 644.2,563.3 646.1,561.1 648.1,558.8 650.0,556.6 651.9,554.3 653.9,552.1 655.9,549.9 657.8,547.7 659.8,545.5 661.8,543.3 663.8,541.1 665.8,538.9 667.8,536.7 669.8,534.5 671.8,532.3 673.8,530.1 675.9,527.9 677.9,525.8 680.0,523.6 682.0,521.4 684.1,519.2 686.1,517.0 688.2,514.9 690.3,512.7 692.4,510.5 694.4,508.3 696.5,506.1 698.6,503.9 700.8,501.7 702.9,499.5 705.0,497.3 707.1,495.1 709.3,492.9 711.4,490.7 713.5,488.4 715.7,486.2 717.8,484.0 720.0,481.7 722.2,479.5 724.4,477.2 726.5,474.9 728.7,472.6 730.9,470.4 733.1,468.1 735.3,465.8 737.6,463.6 739.8,461.4 742.0,459.1 744.3,456.9 746.6,454.8 748.9,452.6 751.2,450.5 753.5,448.5 755.8,446.4 758.2,444.5 760.5,442.5 762.9,440.6 765.3,438.8 767.7,437.0 770.2,435.3 772.7,433.7 775.2,432.1 777.7,430.6 780.2,429.1 782.8,427.8 785.4,426.5 788.0,425.3 790.6,424.2 793.3,423.2 796.0,422.3 798.7,421.5 801.5,420.8 804.3,420.2 807.1,419.7 809.9,419.3 812.8,419.1 815.6,418.9 818.5,418.8 821.4,418.8 824.3,418.9 827.2,419.1 830.0,419.4 832.9,419.8 835.8,420.3 838.6,420.8 841.5,421.5 844.3,422.3 847.1,423.1 849.8,424.1 852.6,425.1 855.3,426.3 857.9,427.5 860.5,428.8 863.1,430.2 865.6,431.6 868.1,433.2 870.6,434.8 872.9,436.6 875.2,438.4 877.5,440.3 879.7,442.2 881.9,444.2 884.0,446.3 886.1,448.5 888.2,450.7 890.2,453.0 892.1,455.3 894.0,457.7 895.9,460.1 897.7,462.6 899.5,465.1 901.3,467.7 903.0,470.3 904.6,472.9 906.3,475.6 907.9,478.3 909.5,481.0 911.0,483.7 912.5,486.5 914.0,489.3 915.5,492.1 916.9,494.9 918.3,497.7 919.7,500.6 921.1,503.4 922.4,506.2 923.7,509.1 925.0,511.9 926.3,514.7 927.6,517.5 928.8,520.3 930.0,523.1 931.2,525.9 932.4,528.7 933.6,531.5 934.7,534.3 935.9,537.1 937.0,539.9 938.1,542.6 939.2,545.4 940.3,548.2 941.4,551.0 942.4,553.8 943.5,556.6 944.5,559.3 945.6,562.1 946.6,564.9 947.6,567.7 948.6,570.6 949.6,573.4 950.6,576.2 951.6,579.0 952.6,581.8 953.6,584.7 954.5,587.5 955.5,590.3 956.4,593.2 957.3,596.0 958.2,598.8 959.2,601.7 960.1,604.5 961.0,607.4 961.8,610.2 962.7,613.1 963.6,616.0 964.4,618.8 965.3,621.7 966.1,624.6 967.0,627.5 967.8,630.3 968.6,633.2 969.4,636.1 970.2,639.0 971.0,641.9 971.8,644.8 972.6,647.7 973.3,650.6 974.1,653.5 974.8,656.4 975.6,659.3 976.3,662.2 977.1,665.1 977.8,668.0 978.5,670.9 979.2,673.9 979.9,676.8 980.6,679.7 981.3,682.6 981.9,685.6 982.6,688.5 983.3,691.4 983.9,694.4 984.6,697.3 985.2,700.3 985.8,703.2 986.5,706.1 987.1,709.1 987.7,712.0 988.3,715.0 988.9,717.9 989.5,720.9 990.1,723.9 990.6,726.8 991.2,729.8 991.8,732.7 992.3,735.7 992.9,738.7 993.4,741.6 994.0,744.6 994.5,747.6 995.0,750.5 995.5,753.5 996.0,756.5 996.5,759.5 997.0,762.4 997.5,765.4 998.0,768.4 998.5,771.4 999.0,774.3 999.4,777.3 999.9,780.3 1000.4,783.3 1000.8,786.3 1001.3,789.3 1001.7,792.3 1002.1,795.2 1002.5,798.2 1003.0,801.2 1003.4,804.2 1003.8,807.2 1004.2,810.2 1004.6,813.2 1005.0,816.2 1005.4,819.2 1005.8,822.2 1006.1,825.2 1006.5,828.2 1006.9,831.2 1007.2,834.2 1007.6,837.2 1008.0,840.2 1008.3,843.2 1008.6,846.2 1009.0,849.2 1009.3,852.2 1009.6,855.2 1010.0,858.2 1010.3,861.2 1010.6,864.2 1010.9,867.2 1011.2,870.2 1011.5,873.2 1011.8,876.1 1012.1,879.1 1012.4,882.1 1012.7,885.1 1012.9,888.1 1013.2,891.1 1013.5,894.1 1013.8,897.1 1014.0,900.1 1014.3,903.1 1014.5,906.1 1014.8,909.1 1015.0,912.1 1015.3,915.1 1015.5,918.1 1015.7,921.1 1016.0,924.1 1016.2,927.1 1016.4,930.1 1016.6,933.1 1016.9,936.1 1017.1,939.1 1017.3,942.0 1017.5,945.0 1017.7,948.0 1017.9,951.0" stroke="#008c00" stroke-width="5" stroke-dasharray="17.7 7.5"/>
<path d="M164.6,951.0 167.7,950.4 170.8,949.7 173.8,949.0 176.8,948.3 179.8,947.5 182.8,946.8 185.8,945.9 188.7,945.1 191.7,944.2 194.6,943.3 197.5,942.3 200.3,941.4 203.2,940.4 206.0,939.3 208.9,938.3 211.7,937.2 214.4,936.0 217.2,934.9 220.0,933.7 222.7,932.5 225.4,931.3 228.1,930.0 230.8,928.7 233.4,927.4 236.1,926.1 238.7,924.7 241.3,923.3 243.9,921.9 246.5,920.4 249.1,919.0 251.6,917.5 254.2,916.0 256.7,914.4 259.2,912.9 261.7,911.3 264.2,909.7 266.7,908.0 269.1,906.4 271.5,904.7 274.0,903.0 276.4,901.3 278.8,899.6 281.2,897.8 283.5,896.0 285.9,894.2 288.2,892.4 290.6,890.6 292.9,888.7 295.2,886.9 297.5,885.0 299.8,883.1 302.0,881.1 304.3,879.2 306.5,877.2 308.8,875.3 311.0,873.3 313.2,871.3 315.4,869.2 317.6,867.2 319.8,865.1 322.0,863.1 324.1,861.0 326.3,858.9 328.4,856.8 330.6,854.6 332.7,852.5 334.8,850.4 336.9,848.2 339.0,846.0 341.1,843.8 343.2,841.6 345.3,839.4 347.3,837.2 349.4,835.0 351.4,832.8 353.5,830.5 355.5,828.2 357.5,826.0 359.5,823.7 361.6,821.4 363.6,819.1 365.6,816.8 367.6,814.5 369.5,812.2 371.5,809.9 373.5,807.5 375.5,805.2 377.4,802.9 379.4,800.5 381.3,798.2 383.3,795.8 385.2,793.5 387.2,791.1 389.1,788.7 391.0,786.3 392.9,784.0 394.9,781.6 396.8,779.2 398.7,776.8 400.6,774.4 402.5,772.0 404.4,769.7 406.3,767.3 408.2,764.9 410.1,762.5 412.0,760.1 413.9,757.7 415.7,755.3 417.6,752.9 419.5,750.5 421.4,748.1 423.3,745.7 425.1,743.4 427.0,741.0 428.9,738.6 430.8,736.2 432.6,733.8 434.5,731.5 436.4,729.1 438.3,726.7 440.2,724.4 442.0,722.0 443.9,719.6 445.8,717.3 447.7,714.9 449.6,712.6 451.5,710.3 453.4,707.9 455.3,705.6 457.2,703.3 459.1,700.9 461.0,698.6 462.9,696.3 464.8,694.0 466.7,691.7 468.6,689.4 470.6,687.1 472.5,684.9 474.4,682.6 476.4,680.3 478.3,678.1 480.3,675.8 482.3,673.6 484.2,671.3 486.2,669.1 488.2,666.9 490.2,664.7 492.2,662.5 494.2,660.3 496.3,658.1 498.3,655.9 500.3,653.8 502.4,651.6 504.4,649.5 506.5,647.3 508.6,645.2 510.7,643.1 512.8,641.0 514.9,638.9 517.0,636.8 519.1,634.7 521.3,632.7 523.4,630.6 525.6,628.6 527.8,626.6 530.0,624.5 532.2,622.5 534.4,620.6 536.6,618.6 538.9,616.6 541.2,614.7 543.4,612.7 545.7,610.8 548.0,608.9 550.4,607.0 552.7,605.1 555.0,603.3 557.4,601.4 559.8,599.6 562.2,597.7 564.6,595.9 567.1,594.1 569.5,592.4 572.0,590.6 574.5,588.9 577.0,587.1 579.5,585.4 582.0,583.7 584.6,582.1 587.1,580.4 589.7,578.8 592.3,577.2 594.9,575.6 597.5,574.0 600.2,572.5 602.8,571.0 605.5,569.5 608.1,568.0 610.8,566.6 613.5,565.1 616.2,563.8 619.0,562.4 621.7,561.1 624.5,559.8 627.2,558.5 630.0,557.2 632.8,556.0 635.6,554.8 638.4,553.7 641.2,552.5 644.0,551.5 646.8,550.4 649.6,549.4 652.5,548.4 655.3,547.4 658.2,546.5 661.1,545.6 664.0,544.8 666.8,544.0 669.7,543.2 672.6,542.5 675.5,541.8 678.5,541.2 681.4,540.5 684.3,540.0 687.2,539.5 690.2,539.0 693.1,538.5 696.0,538.2 699.0,537.8 701.9,537.5 704.9,537.3 707.8,537.1 710.8,536.9 713.8,536.8 716.7,536.8 719.7,536.8 722.7,536.8 725.6,536.9 728.6,537.1 731.6,537.3 734.5,537.6 737.5,537.9 740.4,538.3 743.4,538.7 746.3,539.2 749.3,539.7 752.2,540.3 755.2,540.9 758.1,541.6 761.0,542.3 763.9,543.1 766.8,543.9 769.7,544.7 772.6,545.6 775.4,546.6 778.3,547.6 781.1,548.6 784.0,549.7 786.8,550.8 789.6,552.0 792.3,553.2 795.1,554.4 797.8,555.7 800.6,557.0 803.3,558.3 806.0,559.7 808.6,561.2 811.3,562.6 813.9,564.1 816.5,565.7 819.1,567.2 821.6,568.8 824.1,570.5 826.6,572.1 829.1,573.8 831.6,575.6 834.0,577.3 836.4,579.1 838.8,581.0 841.2,582.8 843.5,584.7 845.9,586.6 848.2,588.5 850.5,590.5 852.7,592.5 855.0,594.5 857.2,596.5 859.4,598.5 861.6,600.6 863.8,602.7 866.0,604.8 868.1,606.9 870.3,609.1 872.4,611.2 874.5,613.4 876.6,615.6 878.7,617.8 880.7,620.1 882.8,622.3 884.8,624.5 886.9,626.8 888.9,629.1 890.9,631.4 892.9,633.7 894.9,636.0 896.8,638.3 898.8,640.6 900.8,642.9 902.7,645.2 904.7,647.6 906.6,649.9 908.5,652.3 910.5,654.6 912.4,657.0 914.3,659.3 916.2,661.6 918.1,664.0 920.0,666.3 921.9,668.7 923.8,671.0 925.7,673.4 927.6,675.7 929.5,678.0 931.3,680.4 933.2,682.7 935.1,685.0 937.0,687.4 938.8,689.7 940.7,692.0 942.6,694.3 944.5,696.6 946.3,699.0 948.2,701.3 950.0,703.6 951.9,705.9 953.8,708.2 955.6,710.5 957.5,712.8 959.3,715.1 961.2,717.5 963.0,719.8 964.9,722.1 966.7,724.4 968.6,726.7 970.4,729.0 972.2,731.3 974.1,733.6 975.9,736.0 977.8,738.3 979.6,740.6 981.4,742.9 983.3,745.3 985.1,747.6 986.9,749.9 988.8,752.2 990.6,754.6 992.4,756.9 994.3,759.2 996.1,761.6 997.9,763.9 999.8,766.3 1001.6,768.6 1003.4,771.0 1005.3,773.4 1007.1,775.7 1008.9,778.1 1010.8,780.5 1012.6,782.9 1014.4,785.2 1016.3,787.6 1018.1,790.0 1019.9,792.4 1021.8,794.8 1023.6,797.2 1025.4,799.7 1027.3,802.1 1029.1,804.5 1030.9,806.9 1032.8,809.4 1034.6,811.8 1036.5,814.3 1038.3,816.8 1040.1,819.2 1042.0,821.7 1043.8,824.2 1045.7,826.6 1047.5,829.1 1049.4,831.6 1051.3,834.1 1053.1,836.5 1055.0,839.0 1056.9,841.5 1058.8,843.9 1060.7,846.4 1062.6,848.9 1064.5,851.3 1066.4,853.7 1068.3,856.2 1070.2,858.6 1072.2,861.0 1074.1,863.4 1076.1,865.8 1078.0,868.1 1080.0,870.5 1082.0,872.8 1084.0,875.2 1086.0,877.5 1088.0,879.8 1090.1,882.0 1092.1,884.3 1094.2,886.5 1096.2,888.7 1098.3,890.9 1100.4,893.1 1102.5,895.2 1104.7,897.3 1106.8,899.4 1109.0,901.4 1111.2,903.5 1113.4,905.5 1115.6,907.4 1117.8,909.4 1120.0,911.3 1122.3,913.2 1124.6,915.0 1126.9,916.8 1129.2,918.6 1131.6,920.3 1133.9,922.0 1136.3,923.7 1138.7,925.3 1141.2,926.9 1143.6,928.4 1146.1,929.9 1148.6,931.4 1151.1,932.8 1153.6,934.1 1156.2,935.4 1158.8,936.7 1161.4,937.9 1164.0,939.1 1166.7,940.2 1169.4,941.3 1172.1,942.3 1174.9,943.3 1177.6,944.2 1180.4,945.1 1183.3,945.9 1186.1,946.7 1189.0,947.4 1191.9,948.0 1194.9,948.6 1197.8,949.1 1200.8,949.6 1203.9,950.0 1206.9,950.3 1210.0,950.6 1213.2,950.8 1216.3,951.0 1219.5,951.0 1222.7,951.1 1226.0,951.0" stroke="#ff8c00" stroke-width="5"/>
<path d="M164.6,951.0 167.7,950.4 170.8,949.8 173.8,949.1 176.9,948.4 179.9,947.7 182.9,946.9 185.8,946.1 188.8,945.2 191.7,944.3 194.6,943.4 197.5,942.4 200.4,941.4 203.2,940.4 206.0,939.3 208.8,938.2 211.6,937.0 214.4,935.9 217.1,934.7 219.8,933.4 222.5,932.2 225.2,930.9 227.9,929.5 230.5,928.2 233.1,926.8 235.7,925.4 238.3,923.9 240.9,922.5 243.5,920.9 246.0,919.4 248.5,917.9 251.0,916.3 253.5,914.7 256.0,913.0 258.4,911.4 260.9,909.7 263.3,908.0 265.7,906.2 268.1,904.5 270.5,902.7 272.8,900.9 275.2,899.1 277.5,897.2 279.8,895.3 282.1,893.5 284.4,891.5 286.6,889.6 288.9,887.7 291.1,885.7 293.4,883.7 295.6,881.7 297.8,879.7 300.0,877.6 302.2,875.6 304.3,873.5 306.5,871.4 308.6,869.3 310.7,867.2 312.9,865.1 315.0,862.9 317.1,860.8 319.2,858.6 321.2,856.4 323.3,854.2 325.3,852.0 327.4,849.8 329.4,847.6 331.4,845.3 333.4,843.1 335.4,840.8 337.4,838.5 339.4,836.3 341.4,834.0 343.4,831.7 345.3,829.4 347.3,827.1 349.2,824.8 351.1,822.4 353.1,820.1 355.0,817.8 356.9,815.5 358.8,813.1 360.7,810.8 362.6,808.4 364.5,806.1 366.4,803.7 368.2,801.4 370.1,799.0 372.0,796.6 373.8,794.2 375.7,791.9 377.5,789.5 379.4,787.1 381.2,784.7 383.1,782.3 384.9,779.9 386.7,777.5 388.5,775.1 390.4,772.7 392.2,770.3 394.0,767.9 395.8,765.5 397.6,763.1 399.4,760.7 401.3,758.3 403.1,755.9 404.9,753.4 406.7,751.0 408.5,748.6 410.3,746.2 412.1,743.8 413.9,741.3 415.7,738.9 417.5,736.5 419.4,734.1 421.2,731.6 423.0,729.2 424.8,726.8 426.6,724.4 428.4,721.9 430.3,719.5 432.1,717.1 433.9,714.7 435.7,712.2 437.6,709.8 439.4,707.4 441.2,705.0 443.1,702.6 444.9,700.1 446.8,697.7 448.7,695.3 450.5,692.9 452.4,690.5 454.3,688.1 456.1,685.7 458.0,683.3 459.9,680.9 461.8,678.5 463.7,676.1 465.7,673.7 467.6,671.3 469.5,669.0 471.5,666.6 473.4,664.3 475.4,661.9 477.4,659.6 479.4,657.3 481.4,655.0 483.4,652.7 485.4,650.4 487.5,648.1 489.5,645.9 491.6,643.7 493.7,641.4 495.8,639.2 498.0,637.1 500.1,634.9 502.3,632.8 504.5,630.6 506.7,628.5 508.9,626.5 511.1,624.4 513.4,622.4 515.7,620.4 518.0,618.4 520.4,616.4 522.7,614.5 525.1,612.6 527.5,610.7 529.9,608.8 532.3,607.0 534.8,605.2 537.2,603.4 539.7,601.7 542.2,599.9 544.8,598.2 547.3,596.5 549.9,594.9 552.4,593.3 555.0,591.7 557.6,590.1 560.3,588.5 562.9,587.0 565.5,585.5 568.2,584.0 570.9,582.6 573.6,581.2 576.3,579.8 579.0,578.4 581.7,577.1 584.5,575.8 587.2,574.5 590.0,573.3 592.8,572.1 595.6,570.9 598.4,569.7 601.2,568.6 604.0,567.5 606.8,566.4 609.7,565.4 612.5,564.4 615.4,563.4 618.3,562.4 621.1,561.5 624.0,560.6 626.9,559.7 629.8,558.9 632.7,558.1 635.6,557.3 638.5,556.6 641.4,555.8 644.3,555.2 647.3,554.5 650.2,553.9 653.1,553.3 656.1,552.7 659.0,552.2 662.0,551.7 664.9,551.2 667.9,550.8 670.8,550.4 673.8,550.0 676.7,549.7 679.7,549.4 682.6,549.1 685.6,548.9 688.5,548.7 691.5,548.5 694.4,548.4 697.4,548.3 700.3,548.2 703.3,548.2 706.2,548.2 709.2,548.2 712.1,548.3 715.0,548.4 718.0,548.5 720.9,548.7 723.8,548.9 726.7,549.1 729.7,549.4 732.6,549.7 735.5,550.0 738.4,550.4 741.3,550.8 744.1,551.3 747.0,551.8 749.9,552.3 752.7,552.9 755.6,553.5 758.4,554.1 761.3,554.7 764.1,555.5 766.9,556.2 769.7,557.0 772.5,557.8 775.3,558.6 778.1,559.5 780.8,560.5 783.6,561.4 786.3,562.4 789.0,563.5 791.8,564.5 794.5,565.7 797.1,566.8 799.8,568.0 802.5,569.2 805.1,570.5 807.7,571.8 810.4,573.2 813.0,574.6 815.5,576.0 818.1,577.4 820.7,579.0 823.2,580.5 825.7,582.1 828.2,583.7 830.7,585.4 833.2,587.0 835.6,588.8 838.1,590.5 840.5,592.3 842.9,594.1 845.3,596.0 847.7,597.9 850.0,599.8 852.4,601.7 854.7,603.7 857.0,605.7 859.3,607.7 861.6,609.7 863.9,611.8 866.2,613.9 868.5,616.0 870.7,618.1 872.9,620.3 875.2,622.4 877.4,624.6 879.6,626.8 881.7,629.0 883.9,631.3 886.1,633.5 888.2,635.8 890.4,638.1 892.5,640.4 894.6,642.7 896.7,645.0 898.8,647.3 900.9,649.6 903.0,651.9 905.1,654.3 907.2,656.6 909.2,659.0 911.3,661.3 913.3,663.7 915.3,666.0 917.3,668.4 919.4,670.7 921.4,673.1 923.4,675.4 925.3,677.8 927.3,680.1 929.3,682.5 931.3,684.8 933.2,687.2 935.2,689.5 937.1,691.8 939.1,694.2 941.0,696.5 942.9,698.8 944.9,701.2 946.8,703.5 948.7,705.8 950.6,708.1 952.5,710.4 954.4,712.8 956.3,715.1 958.2,717.4 960.1,719.7 961.9,722.0 963.8,724.3 965.7,726.7 967.6,729.0 969.4,731.3 971.3,733.6 973.1,735.9 975.0,738.2 976.9,740.5 978.7,742.9 980.6,745.2 982.4,747.5 984.2,749.8 986.1,752.1 987.9,754.5 989.8,756.8 991.6,759.1 993.4,761.4 995.3,763.8 997.1,766.1 998.9,768.4 1000.8,770.8 1002.6,773.1 1004.4,775.4 1006.2,777.8 1008.1,780.1 1009.9,782.5 1011.7,784.8 1013.6,787.2 1015.4,789.5 1017.2,791.9 1019.1,794.2 1020.9,796.6 1022.7,799.0 1024.6,801.4 1026.4,803.7 1028.3,806.1 1030.1,808.5 1031.9,810.9 1033.8,813.3 1035.6,815.7 1037.5,818.1 1039.4,820.5 1041.2,822.9 1043.1,825.4 1044.9,827.8 1046.8,830.2 1048.7,832.6 1050.6,835.0 1052.5,837.4 1054.4,839.8 1056.3,842.2 1058.2,844.6 1060.1,847.0 1062.0,849.4 1063.9,851.8 1065.9,854.2 1067.8,856.5 1069.8,858.9 1071.8,861.2 1073.7,863.5 1075.7,865.9 1077.7,868.2 1079.7,870.5 1081.7,872.7 1083.8,875.0 1085.8,877.3 1087.8,879.5 1089.9,881.7 1092.0,883.9 1094.1,886.1 1096.2,888.2 1098.3,890.4 1100.4,892.5 1102.6,894.6 1104.7,896.6 1106.9,898.7 1109.1,900.7 1111.3,902.7 1113.5,904.7 1115.7,906.6 1118.0,908.5 1120.2,910.4 1122.5,912.3 1124.8,914.1 1127.2,915.9 1129.5,917.7 1131.9,919.4 1134.2,921.1 1136.6,922.7 1139.0,924.4 1141.5,926.0 1143.9,927.5 1146.4,929.0 1148.9,930.5 1151.4,932.0 1154.0,933.3 1156.5,934.7 1159.1,936.0 1161.7,937.3 1164.4,938.5 1167.0,939.6 1169.7,940.8 1172.4,941.8 1175.2,942.8 1177.9,943.8 1180.7,944.7 1183.5,945.5 1186.4,946.3 1189.2,947.1 1192.1,947.8 1195.1,948.4 1198.0,948.9 1201.0,949.4 1204.0,949.9 1207.1,950.2 1210.1,950.5 1213.3,950.8 1216.4,950.9 1219.6,951.0 1222.8,951.0 1226.0,951.0" stroke="#ff8c00" stroke-width="9.5" stroke-dasharray="3.3 12.4"/>
<path d="M164.6,951.0 167.7,950.9 170.8,950.9 173.8,950.7 176.9,950.6 180.0,950.5 183.0,950.3 186.1,950.1 189.1,949.8 192.1,949.6 195.2,949.3 198.2,949.0 201.2,948.7 204.2,948.3 207.3,948.0 210.3,947.6 213.3,947.2 216.3,946.7 219.2,946.3 222.2,945.8 225.2,945.3 228.2,944.8 231.1,944.2 234.1,943.7 237.1,943.1 240.0,942.5 242.9,941.8 245.9,941.2 248.8,940.5 251.7,939.8 254.6,939.1 257.6,938.4 260.5,937.6 263.4,936.9 266.3,936.1 269.1,935.3 272.0,934.4 274.9,933.6 277.8,932.7 280.6,931.8 283.5,930.9 286.3,930.0 289.2,929.0 292.0,928.1 294.9,927.1 297.7,926.1 300.5,925.1 303.3,924.0 306.1,923.0 308.9,921.9 311.7,920.8 314.5,919.7 317.3,918.6 320.1,917.4 322.8,916.3 325.6,915.1 328.4,913.9 331.1,912.7 333.8,911.5 336.6,910.2 339.3,909.0 342.0,907.7 344.7,906.4 347.5,905.1 350.2,903.8 352.9,902.4 355.5,901.1 358.2,899.7 360.9,898.4 363.6,897.0 366.2,895.5 368.9,894.1 371.5,892.7 374.2,891.2 376.8,889.8 379.4,888.3 382.0,886.8 384.7,885.3 387.3,883.8 389.9,882.2 392.5,880.7 395.0,879.1 397.6,877.5 400.2,875.9 402.7,874.3 405.3,872.7 407.8,871.1 410.4,869.5 412.9,867.8 415.4,866.2 418.0,864.5 420.5,862.8 423.0,861.1 425.5,859.4 428.0,857.7 430.5,856.0 432.9,854.2 435.4,852.5 437.9,850.7 440.3,848.9 442.8,847.2 445.2,845.4 447.6,843.6 450.0,841.8 452.5,839.9 454.9,838.1 457.3,836.3 459.6,834.4 462.0,832.6 464.4,830.7 466.8,828.8 469.1,827.0 471.5,825.1 473.8,823.2 476.2,821.3 478.5,819.3 480.8,817.4 483.1,815.5 485.4,813.5 487.7,811.6 490.0,809.6 492.3,807.7 494.6,805.7 496.9,803.7 499.1,801.7 501.4,799.8 503.6,797.8 505.9,795.8 508.1,793.7 510.3,791.7 512.6,789.7 514.8,787.7 517.0,785.6 519.2,783.6 521.4,781.6 523.6,779.5 525.8,777.5 528.0,775.4 530.2,773.3 532.3,771.3 534.5,769.2 536.7,767.1 538.8,765.0 541.0,762.9 543.2,760.8 545.3,758.7 547.4,756.6 549.6,754.5 551.7,752.4 553.9,750.3 556.0,748.2 558.1,746.0 560.2,743.9 562.3,741.8 564.5,739.7 566.6,737.5 568.7,735.4 570.8,733.2 572.9,731.1 575.0,729.0 577.1,726.8 579.2,724.7 581.3,722.5 583.3,720.3 585.4,718.2 587.5,716.0 589.6,713.9 591.7,711.7 593.8,709.5 595.8,707.4 597.9,705.2 600.0,703.0 602.1,700.9 604.1,698.7 606.2,696.5 608.3,694.4 610.3,692.2 612.4,690.0 614.5,687.9 616.5,685.7 618.6,683.5 620.7,681.3 622.7,679.2 624.8,677.0 626.9,674.8 628.9,672.7 631.0,670.5 633.1,668.3 635.1,666.2 637.2,664.0 639.3,661.8 641.4,659.7 643.4,657.5 645.5,655.4 647.6,653.2 649.7,651.1 651.7,648.9 653.8,646.8 655.9,644.6 658.0,642.5 660.0,640.3 662.1,638.2 664.2,636.0 666.3,633.9 668.4,631.8 670.5,629.6 672.6,627.5 674.7,625.4 676.8,623.3 678.9,621.2 681.0,619.1 683.1,616.9 685.2,614.8 687.4,612.7 689.5,610.6 691.6,608.5 693.7,606.4 695.8,604.4 698.0,602.3 700.1,600.2 702.2,598.1 704.4,596.0 706.5,593.9 708.7,591.8 710.8,589.8 712.9,587.7 715.1,585.6 717.2,583.5 719.4,581.5 721.6,579.4 723.7,577.3 725.9,575.2 728.0,573.2 730.2,571.1 732.4,569.0 734.5,567.0 736.7,564.9 738.9,562.8 741.1,560.7 743.2,558.7 745.4,556.6 747.6,554.5 749.8,552.5 752.0,550.4 754.2,548.3 756.4,546.3 758.6,544.2 760.8,542.2 763.1,540.1 765.3,538.1 767.6,536.1 769.9,534.1 772.2,532.2 774.5,530.2 776.9,528.3 779.3,526.4 781.7,524.6 784.1,522.7 786.6,520.9 789.1,519.1 791.6,517.4 794.2,515.7 796.8,514.0 799.4,512.4 802.0,510.8 804.7,509.3 807.4,507.8 810.1,506.4 812.9,505.0 815.6,503.7 818.4,502.5 821.2,501.3 824.0,500.2 826.8,499.1 829.6,498.1 832.5,497.2 835.4,496.3 838.2,495.6 841.1,494.9 844.0,494.3 846.9,493.7 849.8,493.3 852.7,492.9 855.6,492.7 858.5,492.5 861.4,492.4 864.3,492.4 867.2,492.5 870.1,492.7 873.0,493.0 875.9,493.3 878.8,493.7 881.6,494.2 884.5,494.8 887.4,495.4 890.2,496.2 893.1,497.0 895.9,497.8 898.7,498.8 901.5,499.8 904.3,500.8 907.1,501.9 909.9,503.1 912.6,504.4 915.3,505.7 918.0,507.0 920.7,508.4 923.4,509.9 926.1,511.4 928.7,512.9 931.3,514.5 933.9,516.2 936.4,517.9 939.0,519.6 941.5,521.4 943.9,523.2 946.4,525.0 948.8,526.9 951.2,528.8 953.5,530.7 955.9,532.7 958.2,534.7 960.4,536.7 962.6,538.8 964.8,540.8 967.0,542.9 969.1,545.1 971.2,547.2 973.3,549.4 975.3,551.6 977.3,553.8 979.3,556.0 981.2,558.2 983.1,560.5 985.0,562.8 986.9,565.1 988.7,567.5 990.5,569.8 992.3,572.2 994.1,574.6 995.8,577.0 997.5,579.4 999.2,581.9 1000.8,584.3 1002.5,586.8 1004.1,589.3 1005.7,591.8 1007.3,594.4 1008.8,596.9 1010.4,599.5 1011.9,602.0 1013.4,604.6 1014.8,607.2 1016.3,609.8 1017.7,612.5 1019.2,615.1 1020.6,617.8 1022.0,620.4 1023.3,623.1 1024.7,625.8 1026.1,628.5 1027.4,631.2 1028.7,633.9 1030.0,636.6 1031.3,639.3 1032.6,642.1 1033.9,644.8 1035.1,647.6 1036.4,650.3 1037.6,653.1 1038.9,655.9 1040.1,658.7 1041.3,661.5 1042.5,664.2 1043.7,667.0 1044.9,669.8 1046.1,672.7 1047.3,675.5 1048.5,678.3 1049.6,681.1 1050.8,683.9 1052.0,686.7 1053.1,689.5 1054.3,692.4 1055.5,695.2 1056.6,698.0 1057.8,700.8 1058.9,703.7 1060.1,706.5 1061.3,709.3 1062.4,712.1 1063.6,714.9 1064.8,717.8 1065.9,720.6 1067.1,723.4 1068.3,726.2 1069.4,729.0 1070.6,731.8 1071.8,734.6 1073.0,737.4 1074.2,740.2 1075.4,743.0 1076.6,745.8 1077.8,748.5 1079.0,751.3 1080.2,754.1 1081.4,756.9 1082.7,759.6 1083.9,762.4 1085.1,765.2 1086.4,767.9 1087.6,770.7 1088.9,773.4 1090.1,776.2 1091.4,778.9 1092.7,781.6 1094.0,784.3 1095.2,787.1 1096.5,789.8 1097.8,792.5 1099.2,795.2 1100.5,797.9 1101.8,800.6 1103.1,803.3 1104.5,806.0 1105.8,808.6 1107.2,811.3 1108.6,814.0 1110.0,816.6 1111.4,819.3 1112.8,821.9 1114.2,824.6 1115.6,827.2 1117.0,829.8 1118.5,832.4 1119.9,835.1 1121.4,837.7 1122.9,840.2 1124.4,842.8 1125.9,845.4 1127.4,848.0 1128.9,850.6 1130.5,853.1 1132.0,855.7 1133.6,858.2 1135.2,860.7 1136.8,863.3 1138.4,865.8 1140.0,868.3 1141.6,870.8 1143.3,873.3 1144.9,875.7 1146.6,878.2 1148.3,880.7 1150.0,883.1 1151.7,885.6 1153.5,888.0 1155.2,890.4 1157.0,892.8 1158.8,895.2 1160.6,897.6 1162.4,900.0 1164.2,902.4 1166.1,904.8 1168.0,907.1 1169.8,909.5 1171.7,911.8 1173.7,914.1 1175.6,916.4 1177.6,918.6 1179.6,920.9 1181.6,923.0 1183.7,925.2 1185.8,927.3 1188.0,929.3 1190.2,931.3 1192.4,933.2 1194.7,935.1 1197.0,936.8 1199.4,938.5 1201.9,940.1 1204.4,941.6 1206.9,943.1 1209.5,944.4 1212.2,945.6 1215.0,946.7 1217.8,947.7 1220.7,948.6 1223.7,949.3 1226.8,949.9 1230.0,950.4 1233.2,950.8 1236.5,951.0 1239.9,951.0" stroke="#ff8c00" stroke-width="5" stroke-dasharray="17.7 7.5"/>
</g>
<g stroke="#d6d6d6" stroke-width="1.7"><line x1="1906.5" y1="34.0" x2="1906.5" y2="947.5"/><line x1="2080.5" y1="34.0" x2="2080.5" y2="947.5"/><line x1="2254.5" y1="34.0" x2="2254.5" y2="947.5"/><line x1="2428.5" y1="34.0" x2="2428.5" y2="947.5"/><line x1="2602.5" y1="34.0" x2="2602.5" y2="947.5"/><line x1="2776.5" y1="34.0" x2="2776.5" y2="947.5"/><line x1="1732.5" y1="821.5" x2="2950.5" y2="821.5"/><line x1="1732.5" y1="695.5" x2="2950.5" y2="695.5"/><line x1="1732.5" y1="569.5" x2="2950.5" y2="569.5"/><line x1="1732.5" y1="443.5" x2="2950.5" y2="443.5"/><line x1="1732.5" y1="317.5" x2="2950.5" y2="317.5"/><line x1="1732.5" y1="191.5" x2="2950.5" y2="191.5"/><line x1="1732.5" y1="65.5" x2="2950.5" y2="65.5"/></g>
<clipPath id="c1"><rect x="1732.5" y="34.0" width="1218.0" height="913.5"/></clipPath>
<g clip-path="url(#c1)" fill="none" stroke-linejoin="round">
<path d="M1732.5,947.5 1735.7,947.2 1739.0,946.9 1742.2,946.5 1745.4,946.1 1748.5,945.6 1751.7,945.1 1754.8,944.6 1757.9,944.0 1760.9,943.4 1764.0,942.8 1767.0,942.1 1770.1,941.4 1773.1,940.7 1776.0,940.0 1779.0,939.2 1781.9,938.3 1784.9,937.5 1787.8,936.6 1790.6,935.6 1793.5,934.7 1796.3,933.7 1799.2,932.7 1802.0,931.6 1804.8,930.5 1807.5,929.4 1810.3,928.3 1813.0,927.1 1815.8,925.9 1818.5,924.7 1821.2,923.4 1823.8,922.1 1826.5,920.8 1829.1,919.5 1831.7,918.1 1834.3,916.7 1836.9,915.3 1839.5,913.9 1842.1,912.4 1844.6,910.9 1847.1,909.4 1849.7,907.9 1852.2,906.3 1854.6,904.7 1857.1,903.1 1859.6,901.5 1862.0,899.8 1864.4,898.1 1866.8,896.4 1869.2,894.7 1871.6,893.0 1874.0,891.2 1876.4,889.4 1878.7,887.6 1881.0,885.8 1883.4,884.0 1885.7,882.1 1888.0,880.2 1890.2,878.3 1892.5,876.4 1894.8,874.5 1897.0,872.5 1899.3,870.5 1901.5,868.6 1903.7,866.6 1905.9,864.5 1908.1,862.5 1910.3,860.5 1912.4,858.4 1914.6,856.3 1916.7,854.2 1918.9,852.1 1921.0,850.0 1923.1,847.9 1925.3,845.7 1927.4,843.6 1929.4,841.4 1931.5,839.2 1933.6,837.0 1935.7,834.8 1937.7,832.6 1939.8,830.4 1941.8,828.2 1943.9,825.9 1945.9,823.7 1947.9,821.4 1949.9,819.2 1951.9,816.9 1953.9,814.6 1955.9,812.3 1957.9,810.0 1959.9,807.7 1961.8,805.4 1963.8,803.1 1965.8,800.7 1967.7,798.4 1969.7,796.1 1971.6,793.7 1973.5,791.4 1975.5,789.0 1977.4,786.7 1979.3,784.3 1981.2,782.0 1983.1,779.6 1985.0,777.2 1986.9,774.9 1988.8,772.5 1990.7,770.1 1992.6,767.8 1994.5,765.4 1996.4,763.0 1998.3,760.7 2000.2,758.3 2002.0,755.9 2003.9,753.6 2005.8,751.2 2007.6,748.8 2009.5,746.5 2011.4,744.1 2013.2,741.7 2015.1,739.4 2017.0,737.0 2018.8,734.7 2020.7,732.3 2022.5,730.0 2024.4,727.6 2026.2,725.3 2028.1,723.0 2029.9,720.6 2031.8,718.3 2033.6,716.0 2035.5,713.6 2037.3,711.3 2039.2,709.0 2041.0,706.7 2042.9,704.4 2044.7,702.0 2046.6,699.7 2048.4,697.4 2050.3,695.1 2052.2,692.8 2054.0,690.5 2055.9,688.2 2057.7,685.9 2059.6,683.6 2061.5,681.3 2063.3,679.0 2065.2,676.7 2067.1,674.4 2068.9,672.1 2070.8,669.8 2072.7,667.5 2074.6,665.2 2076.5,662.9 2078.4,660.7 2080.3,658.4 2082.2,656.1 2084.1,653.8 2086.0,651.5 2087.9,649.3 2089.8,647.0 2091.7,644.7 2093.6,642.4 2095.5,640.2 2097.5,637.9 2099.4,635.6 2101.3,633.4 2103.3,631.1 2105.2,628.8 2107.2,626.6 2109.2,624.3 2111.1,622.0 2113.1,619.8 2115.1,617.5 2117.1,615.3 2119.1,613.0 2121.1,610.8 2123.1,608.5 2125.1,606.3 2127.1,604.0 2129.1,601.7 2131.2,599.5 2133.2,597.2 2135.2,595.0 2137.3,592.8 2139.4,590.5 2141.4,588.3 2143.5,586.0 2145.6,583.8 2147.7,581.5 2149.8,579.3 2151.9,577.0 2154.0,574.8 2156.2,572.6 2158.3,570.4 2160.5,568.2 2162.6,565.9 2164.8,563.8 2167.0,561.6 2169.2,559.4 2171.4,557.2 2173.6,555.1 2175.9,553.0 2178.1,550.8 2180.4,548.8 2182.6,546.7 2184.9,544.6 2187.2,542.6 2189.5,540.6 2191.8,538.6 2194.2,536.6 2196.5,534.6 2198.9,532.7 2201.3,530.8 2203.7,528.9 2206.1,527.1 2208.5,525.3 2211.0,523.5 2213.4,521.8 2215.9,520.0 2218.4,518.3 2220.9,516.7 2223.4,515.1 2226.0,513.5 2228.5,512.0 2231.1,510.5 2233.7,509.0 2236.3,507.6 2239.0,506.2 2241.6,504.9 2244.3,503.6 2247.0,502.3 2249.7,501.1 2252.5,500.0 2255.2,498.9 2258.0,497.8 2260.8,496.8 2263.6,495.9 2266.4,495.0 2269.3,494.1 2272.1,493.3 2275.0,492.6 2277.9,492.0 2280.8,491.4 2283.7,490.8 2286.6,490.4 2289.5,490.0 2292.4,489.7 2295.4,489.4 2298.3,489.2 2301.2,489.1 2304.2,489.1 2307.1,489.2 2310.0,489.3 2312.9,489.6 2315.9,489.9 2318.8,490.3 2321.7,490.8 2324.6,491.3 2327.5,492.0 2330.3,492.7 2333.2,493.4 2336.1,494.3 2338.9,495.2 2341.7,496.2 2344.6,497.2 2347.4,498.3 2350.1,499.5 2352.9,500.7 2355.7,502.0 2358.4,503.3 2361.1,504.7 2363.8,506.1 2366.4,507.5 2369.1,509.1 2371.7,510.6 2374.3,512.2 2376.8,513.9 2379.4,515.5 2381.9,517.2 2384.3,519.0 2386.8,520.8 2389.2,522.6 2391.6,524.4 2394.0,526.3 2396.3,528.2 2398.6,530.1 2400.9,532.1 2403.1,534.0 2405.4,536.1 2407.6,538.1 2409.8,540.2 2411.9,542.3 2414.0,544.4 2416.2,546.5 2418.2,548.7 2420.3,550.9 2422.3,553.1 2424.4,555.3 2426.3,557.6 2428.3,559.9 2430.3,562.2 2432.2,564.5 2434.1,566.9 2436.0,569.2 2437.8,571.6 2439.7,574.0 2441.5,576.4 2443.3,578.8 2445.1,581.3 2446.9,583.7 2448.6,586.2 2450.4,588.7 2452.1,591.2 2453.8,593.7 2455.5,596.2 2457.1,598.8 2458.8,601.3 2460.4,603.9 2462.0,606.5 2463.6,609.0 2465.2,611.6 2466.8,614.2 2468.3,616.8 2469.9,619.4 2471.4,622.1 2472.9,624.7 2474.4,627.3 2475.9,629.9 2477.4,632.6 2478.9,635.2 2480.3,637.9 2481.8,640.5 2483.2,643.2 2484.6,645.8 2486.0,648.5 2487.4,651.2 2488.8,653.9 2490.2,656.5 2491.6,659.2 2492.9,661.9 2494.3,664.6 2495.6,667.3 2497.0,670.0 2498.3,672.7 2499.6,675.4 2500.9,678.1 2502.2,680.8 2503.5,683.6 2504.8,686.3 2506.1,689.0 2507.4,691.7 2508.6,694.5 2509.9,697.2 2511.2,699.9 2512.4,702.7 2513.7,705.4 2514.9,708.1 2516.2,710.9 2517.4,713.6 2518.6,716.4 2519.9,719.1 2521.1,721.8 2522.3,724.6 2523.5,727.3 2524.8,730.1 2526.0,732.8 2527.2,735.6 2528.4,738.3 2529.6,741.1 2530.8,743.8 2532.0,746.6 2533.2,749.3 2534.5,752.1 2535.7,754.8 2536.9,757.6 2538.1,760.3 2539.3,763.1 2540.5,765.8 2541.7,768.6 2543.0,771.3 2544.2,774.0 2545.4,776.8 2546.6,779.5 2547.8,782.3 2549.1,785.0 2550.3,787.7 2551.5,790.4 2552.8,793.2 2554.0,795.9 2555.3,798.6 2556.5,801.3 2557.8,804.1 2559.1,806.8 2560.3,809.5 2561.6,812.2 2562.9,814.9 2564.2,817.6 2565.5,820.3 2566.8,823.0 2568.1,825.7 2569.4,828.4 2570.8,831.0 2572.1,833.7 2573.4,836.4 2574.8,839.1 2576.2,841.7 2577.5,844.4 2578.9,847.0 2580.3,849.7 2581.7,852.3 2583.1,855.0 2584.5,857.6 2586.0,860.2 2587.4,862.8 2588.9,865.4 2590.4,868.1 2591.8,870.7 2593.3,873.3 2594.8,875.8 2596.4,878.4 2597.9,881.0 2599.4,883.6 2601.0,886.1 2602.6,888.7 2604.2,891.2 2605.8,893.8 2607.4,896.3 2609.0,898.8 2610.7,901.3 2612.3,903.9 2614.0,906.4 2615.7,908.8 2617.4,911.3 2619.1,913.8 2620.9,916.3 2622.7,918.7 2624.4,921.2 2626.2,923.6 2628.1,926.1 2629.9,928.5 2631.8,930.9 2633.6,933.3 2635.5,935.7 2637.4,938.1 2639.4,940.4 2641.3,942.8 2643.3,945.2 2645.3,947.5" stroke="#4496d2" stroke-width="5"/>
<path d="M1732.5,947.5 1735.6,946.9 1738.6,946.2 1741.7,945.5 1744.7,944.8 1747.7,944.0 1750.7,943.2 1753.6,942.4 1756.6,941.5 1759.5,940.6 1762.4,939.7 1765.3,938.8 1768.2,937.8 1771.1,936.8 1773.9,935.8 1776.7,934.7 1779.5,933.6 1782.3,932.5 1785.1,931.4 1787.9,930.2 1790.6,929.0 1793.3,927.8 1796.1,926.6 1798.7,925.3 1801.4,924.0 1804.1,922.7 1806.7,921.3 1809.4,920.0 1812.0,918.6 1814.6,917.2 1817.2,915.7 1819.8,914.3 1822.3,912.8 1824.9,911.3 1827.4,909.7 1829.9,908.2 1832.4,906.6 1834.9,905.0 1837.4,903.4 1839.9,901.7 1842.3,900.1 1844.7,898.4 1847.2,896.7 1849.6,894.9 1852.0,893.2 1854.3,891.4 1856.7,889.7 1859.1,887.8 1861.4,886.0 1863.7,884.2 1866.1,882.3 1868.4,880.4 1870.7,878.6 1873.0,876.6 1875.2,874.7 1877.5,872.8 1879.7,870.8 1882.0,868.8 1884.2,866.8 1886.4,864.8 1888.6,862.8 1890.8,860.7 1893.0,858.7 1895.1,856.6 1897.3,854.5 1899.4,852.4 1901.6,850.3 1903.7,848.2 1905.8,846.0 1907.9,843.9 1910.0,841.7 1912.1,839.5 1914.2,837.4 1916.3,835.2 1918.3,832.9 1920.4,830.7 1922.4,828.5 1924.4,826.2 1926.5,824.0 1928.5,821.7 1930.5,819.4 1932.5,817.1 1934.5,814.8 1936.4,812.5 1938.4,810.2 1940.4,807.9 1942.3,805.5 1944.3,803.2 1946.2,800.9 1948.2,798.5 1950.1,796.1 1952.0,793.8 1953.9,791.4 1955.8,789.0 1957.7,786.6 1959.6,784.2 1961.5,781.8 1963.4,779.4 1965.2,777.0 1967.1,774.6 1969.0,772.1 1970.8,769.7 1972.7,767.3 1974.5,764.9 1976.3,762.4 1978.2,760.0 1980.0,757.5 1981.8,755.1 1983.6,752.6 1985.4,750.2 1987.2,747.7 1989.0,745.3 1990.8,742.8 1992.6,740.4 1994.4,737.9 1996.2,735.5 1998.0,733.0 1999.7,730.6 2001.5,728.1 2003.3,725.6 2005.0,723.2 2006.8,720.7 2008.6,718.3 2010.3,715.8 2012.1,713.4 2013.8,710.9 2015.5,708.5 2017.3,706.1 2019.0,703.6 2020.8,701.2 2022.5,698.8 2024.2,696.3 2026.0,693.9 2027.7,691.5 2029.5,689.0 2031.2,686.6 2032.9,684.2 2034.7,681.8 2036.4,679.4 2038.1,677.0 2039.9,674.6 2041.6,672.2 2043.4,669.8 2045.1,667.4 2046.9,665.0 2048.6,662.6 2050.4,660.2 2052.2,657.8 2053.9,655.5 2055.7,653.1 2057.5,650.7 2059.3,648.4 2061.0,646.0 2062.8,643.6 2064.6,641.3 2066.4,638.9 2068.3,636.6 2070.1,634.3 2071.9,631.9 2073.7,629.6 2075.6,627.3 2077.4,625.0 2079.3,622.7 2081.1,620.3 2083.0,618.0 2084.9,615.8 2086.8,613.5 2088.7,611.2 2090.6,608.9 2092.5,606.6 2094.5,604.4 2096.4,602.1 2098.4,599.8 2100.4,597.6 2102.3,595.3 2104.3,593.1 2106.3,590.9 2108.4,588.6 2110.4,586.4 2112.4,584.2 2114.5,582.0 2116.6,579.8 2118.7,577.6 2120.8,575.4 2122.9,573.2 2125.0,571.1 2127.2,568.9 2129.3,566.7 2131.5,564.6 2133.7,562.4 2135.9,560.3 2138.2,558.2 2140.4,556.1 2142.7,553.9 2145.0,551.8 2147.3,549.7 2149.6,547.7 2151.9,545.6 2154.3,543.5 2156.7,541.4 2159.1,539.4 2161.5,537.4 2163.9,535.4 2166.3,533.4 2168.8,531.4 2171.3,529.5 2173.8,527.5 2176.3,525.7 2178.8,523.8 2181.3,521.9 2183.9,520.1 2186.4,518.4 2189.0,516.6 2191.6,514.9 2194.2,513.2 2196.8,511.6 2199.5,510.0 2202.1,508.4 2204.8,506.9 2207.4,505.5 2210.1,504.0 2212.8,502.7 2215.5,501.3 2218.2,500.1 2220.9,498.9 2223.7,497.7 2226.4,496.6 2229.2,495.5 2231.9,494.5 2234.7,493.6 2237.5,492.7 2240.2,491.9 2243.0,491.2 2245.8,490.5 2248.7,489.9 2251.5,489.3 2254.3,488.9 2257.1,488.5 2260.0,488.2 2262.8,487.9 2265.6,487.7 2268.5,487.6 2271.3,487.6 2274.2,487.6 2277.0,487.8 2279.9,488.0 2282.7,488.2 2285.5,488.6 2288.3,489.0 2291.1,489.5 2293.9,490.0 2296.7,490.7 2299.5,491.4 2302.2,492.2 2304.9,493.1 2307.6,494.0 2310.3,495.0 2313.0,496.1 2315.7,497.2 2318.3,498.4 2320.9,499.7 2323.5,501.1 2326.1,502.5 2328.6,503.9 2331.2,505.4 2333.7,507.0 2336.2,508.6 2338.7,510.3 2341.2,512.0 2343.6,513.8 2346.0,515.6 2348.4,517.4 2350.8,519.3 2353.2,521.2 2355.5,523.2 2357.9,525.2 2360.2,527.2 2362.5,529.3 2364.7,531.4 2367.0,533.5 2369.2,535.6 2371.4,537.8 2373.6,540.0 2375.8,542.2 2377.9,544.4 2380.0,546.6 2382.2,548.9 2384.2,551.1 2386.3,553.4 2388.4,555.7 2390.4,558.0 2392.4,560.3 2394.4,562.6 2396.4,564.9 2398.3,567.3 2400.3,569.6 2402.2,572.0 2404.1,574.4 2406.0,576.8 2407.9,579.2 2409.7,581.6 2411.6,584.0 2413.4,586.4 2415.2,588.9 2417.0,591.3 2418.8,593.8 2420.5,596.2 2422.3,598.7 2424.0,601.2 2425.7,603.7 2427.4,606.2 2429.1,608.7 2430.8,611.2 2432.4,613.7 2434.1,616.3 2435.7,618.8 2437.4,621.4 2439.0,623.9 2440.6,626.5 2442.2,629.1 2443.7,631.6 2445.3,634.2 2446.8,636.8 2448.4,639.4 2449.9,642.0 2451.4,644.6 2453.0,647.2 2454.5,649.9 2456.0,652.5 2457.4,655.1 2458.9,657.8 2460.4,660.4 2461.8,663.0 2463.3,665.7 2464.7,668.3 2466.2,671.0 2467.6,673.7 2469.0,676.3 2470.4,679.0 2471.8,681.7 2473.2,684.3 2474.6,687.0 2476.0,689.7 2477.4,692.4 2478.8,695.1 2480.2,697.8 2481.5,700.4 2482.9,703.1 2484.2,705.8 2485.6,708.5 2486.9,711.2 2488.3,713.9 2489.6,716.6 2491.0,719.3 2492.3,722.0 2493.6,724.7 2495.0,727.4 2496.3,730.1 2497.6,732.9 2498.9,735.6 2500.2,738.3 2501.6,741.0 2502.9,743.7 2504.2,746.4 2505.5,749.1 2506.8,751.8 2508.1,754.5 2509.4,757.2 2510.7,759.9 2512.0,762.7 2513.4,765.4 2514.7,768.1 2516.0,770.8 2517.3,773.5 2518.6,776.2 2519.9,778.9 2521.2,781.6 2522.5,784.3 2523.8,787.0 2525.1,789.7 2526.5,792.4 2527.8,795.1 2529.1,797.8 2530.4,800.5 2531.7,803.2 2533.1,805.9 2534.4,808.6 2535.7,811.3 2537.1,814.0 2538.4,816.7 2539.7,819.3 2541.1,822.0 2542.4,824.7 2543.8,827.4 2545.2,830.0 2546.5,832.7 2547.9,835.4 2549.3,838.1 2550.7,840.7 2552.0,843.4 2553.4,846.0 2554.8,848.7 2556.2,851.3 2557.6,854.0 2559.1,856.6 2560.5,859.2 2561.9,861.9 2563.3,864.5 2564.8,867.1 2566.2,869.8 2567.7,872.4 2569.2,875.0 2570.6,877.6 2572.1,880.2 2573.6,882.8 2575.2,885.3 2576.7,887.9 2578.3,890.4 2579.8,892.9 2581.4,895.4 2583.1,897.9 2584.7,900.4 2586.4,902.8 2588.1,905.2 2589.9,907.6 2591.7,909.9 2593.5,912.2 2595.3,914.5 2597.2,916.8 2599.2,919.0 2601.1,921.1 2603.2,923.2 2605.2,925.3 2607.4,927.4 2609.5,929.3 2611.8,931.3 2614.0,933.2 2616.4,935.0 2618.8,936.8 2621.2,938.5 2623.7,940.1 2626.3,941.7 2629.0,943.3 2631.7,944.8 2634.4,946.2 2637.3,947.5" stroke="#4496d2" stroke-width="5" stroke-dasharray="17.7 7.5"/>
<path d="M1732.5,947.5 1735.5,947.4 1738.6,947.2 1741.6,947.1 1744.7,946.9 1747.7,946.7 1750.7,946.5 1753.7,946.2 1756.7,945.9 1759.7,945.6 1762.7,945.3 1765.7,944.9 1768.7,944.5 1771.7,944.1 1774.7,943.7 1777.7,943.3 1780.6,942.8 1783.6,942.3 1786.6,941.8 1789.5,941.3 1792.5,940.7 1795.4,940.2 1798.3,939.6 1801.3,938.9 1804.2,938.3 1807.1,937.6 1810.0,937.0 1813.0,936.3 1815.9,935.5 1818.8,934.8 1821.7,934.0 1824.5,933.2 1827.4,932.4 1830.3,931.6 1833.2,930.8 1836.0,929.9 1838.9,929.0 1841.7,928.1 1844.6,927.2 1847.4,926.3 1850.3,925.3 1853.1,924.3 1855.9,923.3 1858.7,922.3 1861.5,921.3 1864.4,920.2 1867.2,919.2 1869.9,918.1 1872.7,917.0 1875.5,915.8 1878.3,914.7 1881.0,913.6 1883.8,912.4 1886.6,911.2 1889.3,910.0 1892.0,908.8 1894.8,907.5 1897.5,906.3 1900.2,905.0 1902.9,903.7 1905.7,902.4 1908.4,901.1 1911.0,899.7 1913.7,898.4 1916.4,897.0 1919.1,895.7 1921.8,894.3 1924.4,892.8 1927.1,891.4 1929.7,890.0 1932.4,888.5 1935.0,887.1 1937.6,885.6 1940.2,884.1 1942.8,882.6 1945.4,881.1 1948.0,879.5 1950.6,878.0 1953.2,876.4 1955.8,874.8 1958.3,873.2 1960.9,871.6 1963.5,870.0 1966.0,868.4 1968.5,866.8 1971.1,865.1 1973.6,863.5 1976.1,861.8 1978.6,860.1 1981.1,858.4 1983.6,856.7 1986.1,855.0 1988.6,853.3 1991.0,851.5 1993.5,849.8 1996.0,848.0 1998.4,846.2 2000.8,844.4 2003.3,842.7 2005.7,840.9 2008.1,839.0 2010.5,837.2 2012.9,835.4 2015.3,833.5 2017.7,831.7 2020.0,829.8 2022.4,828.0 2024.8,826.1 2027.1,824.2 2029.5,822.3 2031.8,820.4 2034.1,818.5 2036.4,816.6 2038.7,814.7 2041.0,812.7 2043.3,810.8 2045.6,808.8 2047.9,806.9 2050.1,804.9 2052.4,803.0 2054.6,801.0 2056.9,799.0 2059.1,797.0 2061.3,795.0 2063.6,793.0 2065.8,791.0 2068.0,789.0 2070.2,787.0 2072.4,784.9 2074.6,782.9 2076.7,780.9 2078.9,778.8 2081.1,776.7 2083.2,774.7 2085.4,772.6 2087.5,770.5 2089.6,768.5 2091.8,766.4 2093.9,764.3 2096.0,762.2 2098.1,760.1 2100.2,758.0 2102.3,755.9 2104.4,753.8 2106.5,751.6 2108.6,749.5 2110.7,747.4 2112.8,745.2 2114.8,743.1 2116.9,741.0 2119.0,738.8 2121.0,736.6 2123.1,734.5 2125.1,732.3 2127.2,730.2 2129.2,728.0 2131.2,725.8 2133.3,723.6 2135.3,721.4 2137.3,719.2 2139.3,717.1 2141.4,714.9 2143.4,712.7 2145.4,710.5 2147.4,708.2 2149.4,706.0 2151.4,703.8 2153.4,701.6 2155.4,699.4 2157.4,697.2 2159.4,694.9 2161.4,692.7 2163.4,690.5 2165.3,688.2 2167.3,686.0 2169.3,683.7 2171.3,681.5 2173.3,679.3 2175.2,677.0 2177.2,674.8 2179.2,672.5 2181.2,670.3 2183.1,668.0 2185.1,665.7 2187.1,663.5 2189.0,661.2 2191.0,658.9 2193.0,656.7 2194.9,654.4 2196.9,652.1 2198.8,649.9 2200.8,647.6 2202.8,645.3 2204.7,643.0 2206.7,640.8 2208.7,638.5 2210.6,636.2 2212.6,633.9 2214.6,631.7 2216.5,629.4 2218.5,627.1 2220.5,624.8 2222.4,622.5 2224.4,620.3 2226.4,618.0 2228.3,615.7 2230.3,613.4 2232.3,611.1 2234.3,608.8 2236.3,606.6 2238.2,604.3 2240.2,602.0 2242.2,599.7 2244.2,597.4 2246.2,595.2 2248.2,592.9 2250.2,590.6 2252.2,588.3 2254.2,586.0 2256.2,583.8 2258.2,581.5 2260.2,579.2 2262.2,576.9 2264.2,574.7 2266.2,572.4 2268.2,570.1 2270.3,567.9 2272.3,565.6 2274.3,563.3 2276.4,561.1 2278.4,558.8 2280.5,556.5 2282.5,554.3 2284.6,552.0 2286.6,549.8 2288.7,547.5 2290.8,545.3 2292.8,543.0 2294.9,540.8 2297.0,538.5 2299.1,536.3 2301.2,534.1 2303.3,531.8 2305.4,529.6 2307.5,527.4 2309.6,525.2 2311.7,522.9 2313.9,520.7 2316.0,518.5 2318.1,516.3 2320.3,514.1 2322.4,511.9 2324.6,509.7 2326.7,507.5 2328.9,505.3 2331.1,503.1 2333.3,500.9 2335.5,498.8 2337.7,496.6 2339.9,494.5 2342.1,492.3 2344.4,490.2 2346.6,488.1 2348.9,486.1 2351.2,484.0 2353.5,482.0 2355.8,480.0 2358.1,478.0 2360.4,476.1 2362.8,474.1 2365.1,472.2 2367.5,470.4 2369.9,468.6 2372.3,466.8 2374.8,465.0 2377.2,463.3 2379.7,461.7 2382.2,460.0 2384.8,458.5 2387.3,456.9 2389.9,455.4 2392.5,454.0 2395.1,452.6 2397.7,451.3 2400.4,450.0 2403.1,448.8 2405.8,447.6 2408.5,446.5 2411.3,445.5 2414.1,444.5 2416.8,443.6 2419.6,442.8 2422.4,442.0 2425.3,441.4 2428.1,440.8 2430.9,440.2 2433.7,439.8 2436.5,439.5 2439.3,439.2 2442.2,439.1 2445.0,439.0 2447.7,439.1 2450.5,439.2 2453.3,439.5 2456.0,439.8 2458.7,440.3 2461.4,440.9 2464.1,441.6 2466.8,442.3 2469.4,443.2 2472.0,444.2 2474.6,445.3 2477.1,446.5 2479.7,447.7 2482.2,449.1 2484.6,450.5 2487.1,452.0 2489.5,453.6 2491.8,455.3 2494.2,457.0 2496.5,458.8 2498.7,460.7 2501.0,462.7 2503.2,464.7 2505.3,466.8 2507.5,468.9 2509.5,471.1 2511.6,473.3 2513.6,475.6 2515.5,478.0 2517.4,480.3 2519.3,482.8 2521.1,485.2 2522.9,487.7 2524.6,490.3 2526.3,492.8 2527.9,495.4 2529.5,498.1 2531.1,500.7 2532.5,503.4 2534.0,506.1 2535.4,508.8 2536.8,511.6 2538.1,514.3 2539.4,517.1 2540.6,519.9 2541.8,522.7 2543.0,525.6 2544.2,528.4 2545.3,531.3 2546.4,534.2 2547.5,537.1 2548.5,540.0 2549.5,542.9 2550.5,545.8 2551.5,548.7 2552.4,551.7 2553.4,554.6 2554.3,557.6 2555.2,560.5 2556.1,563.5 2557.0,566.4 2557.9,569.4 2558.7,572.3 2559.6,575.3 2560.4,578.2 2561.2,581.2 2562.1,584.1 2562.9,587.1 2563.7,590.0 2564.5,593.0 2565.3,595.9 2566.1,598.9 2566.9,601.8 2567.6,604.8 2568.4,607.7 2569.1,610.7 2569.9,613.6 2570.6,616.5 2571.4,619.5 2572.1,622.4 2572.8,625.4 2573.5,628.3 2574.2,631.2 2574.9,634.2 2575.6,637.1 2576.3,640.1 2577.0,643.0 2577.7,645.9 2578.4,648.9 2579.0,651.8 2579.7,654.7 2580.4,657.7 2581.0,660.6 2581.7,663.6 2582.3,666.5 2582.9,669.4 2583.6,672.4 2584.2,675.3 2584.8,678.2 2585.4,681.1 2586.1,684.1 2586.7,687.0 2587.3,689.9 2587.9,692.9 2588.5,695.8 2589.1,698.7 2589.7,701.7 2590.3,704.6 2590.9,707.5 2591.5,710.4 2592.1,713.4 2592.6,716.3 2593.2,719.2 2593.8,722.2 2594.4,725.1 2595.0,728.0 2595.5,730.9 2596.1,733.9 2596.7,736.8 2597.3,739.7 2597.8,742.6 2598.4,745.6 2599.0,748.5 2599.5,751.4 2600.1,754.3 2600.7,757.3 2601.2,760.2 2601.8,763.1 2602.4,766.0 2602.9,769.0 2603.5,771.9 2604.1,774.8 2604.7,777.7 2605.2,780.7 2605.8,783.6 2606.4,786.5 2606.9,789.4 2607.5,792.4 2608.1,795.3 2608.7,798.2 2609.2,801.1 2609.8,804.1 2610.4,807.0 2611.0,809.9 2611.6,812.8 2612.2,815.7 2612.8,818.7 2613.4,821.6 2614.0,824.5 2614.6,827.4 2615.2,830.4 2615.8,833.3 2616.4,836.2 2617.0,839.1 2617.6,842.1 2618.2,845.0 2618.9,847.9 2619.5,850.8 2620.1,853.8 2620.8,856.7 2621.4,859.6 2622.1,862.5 2622.7,865.5 2623.4,868.4 2624.0,871.3 2624.7,874.2 2625.4,877.2 2626.1,880.1 2626.8,883.0 2627.4,885.9 2628.1,888.9 2628.8,891.8 2629.6,894.7 2630.3,897.7 2631.0,900.6 2631.7,903.5 2632.5,906.4 2633.2,909.4 2634.0,912.3 2634.7,915.2 2635.5,918.2 2636.2,921.1 2637.0,924.0 2637.8,927.0 2638.6,929.9 2639.4,932.8 2640.2,935.8 2641.0,938.7 2641.9,941.6 2642.7,944.6 2643.6,947.5" stroke="#4496d2" stroke-width="9.5" stroke-dasharray="3.3 12.4"/>
<path d="M1732.5,947.5 1735.7,947.2 1738.8,946.9 1742.0,946.5 1745.1,946.2 1748.3,945.8 1751.4,945.4 1754.5,944.9 1757.6,944.5 1760.7,944.0 1763.7,943.5 1766.8,943.0 1769.8,942.4 1772.9,941.8 1775.9,941.2 1778.9,940.6 1781.9,940.0 1784.9,939.3 1787.9,938.7 1790.8,938.0 1793.8,937.3 1796.7,936.5 1799.7,935.8 1802.6,935.0 1805.5,934.2 1808.4,933.4 1811.3,932.5 1814.2,931.7 1817.0,930.8 1819.9,929.9 1822.7,929.0 1825.6,928.1 1828.4,927.1 1831.2,926.1 1834.0,925.1 1836.8,924.1 1839.6,923.1 1842.4,922.1 1845.2,921.0 1847.9,919.9 1850.7,918.8 1853.4,917.7 1856.2,916.6 1858.9,915.5 1861.6,914.3 1864.3,913.1 1867.0,911.9 1869.7,910.7 1872.4,909.5 1875.1,908.2 1877.7,907.0 1880.4,905.7 1883.0,904.4 1885.7,903.1 1888.3,901.8 1890.9,900.5 1893.5,899.1 1896.1,897.7 1898.8,896.4 1901.3,895.0 1903.9,893.6 1906.5,892.1 1909.1,890.7 1911.6,889.3 1914.2,887.8 1916.7,886.3 1919.3,884.8 1921.8,883.3 1924.4,881.8 1926.9,880.3 1929.4,878.7 1931.9,877.2 1934.4,875.6 1936.9,874.0 1939.4,872.5 1941.9,870.9 1944.4,869.2 1946.8,867.6 1949.3,866.0 1951.8,864.3 1954.2,862.7 1956.7,861.0 1959.1,859.3 1961.5,857.7 1964.0,856.0 1966.4,854.2 1968.8,852.5 1971.3,850.8 1973.7,849.1 1976.1,847.3 1978.5,845.6 1980.9,843.8 1983.3,842.0 1985.7,840.2 1988.0,838.4 1990.4,836.6 1992.8,834.8 1995.2,833.0 1997.5,831.2 1999.9,829.4 2002.3,827.5 2004.6,825.7 2007.0,823.8 2009.3,821.9 2011.7,820.1 2014.0,818.2 2016.4,816.3 2018.7,814.4 2021.0,812.5 2023.4,810.6 2025.7,808.7 2028.0,806.8 2030.3,804.9 2032.6,803.0 2035.0,801.0 2037.3,799.1 2039.6,797.1 2041.9,795.2 2044.2,793.3 2046.5,791.3 2048.8,789.3 2051.1,787.4 2053.4,785.4 2055.7,783.4 2058.0,781.5 2060.3,779.5 2062.6,777.5 2064.9,775.5 2067.2,773.5 2069.4,771.5 2071.7,769.5 2074.0,767.5 2076.3,765.5 2078.6,763.5 2080.9,761.5 2083.1,759.5 2085.4,757.5 2087.7,755.5 2090.0,753.5 2092.3,751.5 2094.5,749.4 2096.8,747.4 2099.1,745.4 2101.4,743.4 2103.7,741.4 2105.9,739.3 2108.2,737.3 2110.5,735.3 2112.8,733.3 2115.1,731.3 2117.3,729.2 2119.6,727.2 2121.9,725.2 2124.2,723.2 2126.5,721.2 2128.7,719.2 2131.0,717.1 2133.3,715.1 2135.6,713.1 2137.9,711.1 2140.2,709.1 2142.5,707.1 2144.8,705.1 2147.1,703.1 2149.4,701.1 2151.7,699.1 2154.0,697.1 2156.3,695.1 2158.6,693.1 2160.9,691.2 2163.2,689.2 2165.5,687.2 2167.8,685.2 2170.2,683.3 2172.5,681.3 2174.8,679.4 2177.1,677.4 2179.5,675.5 2181.8,673.5 2184.1,671.6 2186.5,669.6 2188.8,667.7 2191.2,665.8 2193.5,663.9 2195.9,662.0 2198.2,660.1 2200.6,658.2 2203.0,656.3 2205.3,654.4 2207.7,652.5 2210.1,650.6 2212.5,648.8 2214.9,646.9 2217.3,645.0 2219.6,643.2 2222.0,641.4 2224.5,639.5 2226.9,637.7 2229.3,635.9 2231.7,634.1 2234.1,632.3 2236.6,630.5 2239.0,628.7 2241.4,627.0 2243.9,625.2 2246.3,623.5 2248.8,621.7 2251.3,620.0 2253.7,618.3 2256.2,616.6 2258.7,614.9 2261.2,613.2 2263.7,611.5 2266.2,609.8 2268.7,608.1 2271.2,606.5 2273.7,604.9 2276.2,603.2 2278.8,601.6 2281.3,600.0 2283.8,598.4 2286.4,596.8 2288.9,595.3 2291.5,593.7 2294.1,592.2 2296.7,590.6 2299.3,589.1 2301.9,587.6 2304.5,586.1 2307.1,584.6 2309.7,583.2 2312.3,581.7 2315.0,580.3 2317.6,578.9 2320.2,577.5 2322.9,576.1 2325.6,574.8 2328.3,573.5 2330.9,572.2 2333.6,570.9 2336.3,569.7 2339.0,568.4 2341.8,567.3 2344.5,566.1 2347.2,565.0 2350.0,563.9 2352.7,562.9 2355.5,561.8 2358.3,560.9 2361.1,559.9 2363.9,559.0 2366.7,558.2 2369.5,557.3 2372.3,556.6 2375.1,555.8 2378.0,555.1 2380.8,554.5 2383.6,553.9 2386.5,553.3 2389.4,552.8 2392.2,552.3 2395.1,551.9 2398.0,551.5 2400.9,551.2 2403.8,550.9 2406.6,550.6 2409.5,550.4 2412.4,550.3 2415.3,550.2 2418.2,550.2 2421.1,550.2 2424.0,550.2 2426.9,550.4 2429.8,550.5 2432.7,550.7 2435.6,551.0 2438.5,551.3 2441.4,551.7 2444.3,552.1 2447.2,552.6 2450.1,553.1 2453.0,553.7 2455.8,554.3 2458.7,554.9 2461.6,555.6 2464.4,556.4 2467.3,557.2 2470.2,558.0 2473.0,558.9 2475.8,559.8 2478.7,560.8 2481.5,561.8 2484.3,562.8 2487.1,563.9 2489.9,565.0 2492.7,566.2 2495.4,567.4 2498.2,568.7 2500.9,569.9 2503.7,571.2 2506.4,572.6 2509.1,574.0 2511.8,575.4 2514.5,576.9 2517.1,578.4 2519.8,579.9 2522.4,581.4 2525.0,583.0 2527.7,584.6 2530.2,586.3 2532.8,588.0 2535.4,589.7 2537.9,591.4 2540.4,593.2 2542.9,595.0 2545.4,596.8 2547.9,598.6 2550.3,600.5 2552.7,602.4 2555.1,604.3 2557.5,606.3 2559.9,608.2 2562.2,610.2 2564.5,612.2 2566.8,614.3 2569.1,616.3 2571.3,618.4 2573.5,620.5 2575.7,622.6 2577.9,624.7 2580.0,626.9 2582.1,629.1 2584.2,631.2 2586.3,633.4 2588.3,635.7 2590.4,637.9 2592.4,640.2 2594.3,642.4 2596.3,644.7 2598.2,647.0 2600.2,649.3 2602.1,651.7 2603.9,654.0 2605.8,656.4 2607.6,658.8 2609.4,661.1 2611.2,663.6 2613.0,666.0 2614.8,668.4 2616.5,670.9 2618.3,673.3 2620.0,675.8 2621.7,678.3 2623.3,680.8 2625.0,683.3 2626.6,685.8 2628.3,688.3 2629.9,690.9 2631.5,693.4 2633.0,696.0 2634.6,698.6 2636.2,701.2 2637.7,703.8 2639.2,706.4 2640.7,709.0 2642.2,711.6 2643.7,714.3 2645.2,716.9 2646.7,719.6 2648.1,722.2 2649.6,724.9 2651.0,727.6 2652.4,730.2 2653.8,732.9 2655.2,735.6 2656.6,738.3 2658.0,741.0 2659.3,743.7 2660.7,746.5 2662.1,749.2 2663.4,751.9 2664.7,754.7 2666.1,757.4 2667.4,760.1 2668.7,762.9 2670.0,765.6 2671.3,768.4 2672.6,771.2 2673.9,773.9 2675.2,776.7 2676.5,779.5 2677.8,782.2 2679.0,785.0 2680.3,787.8 2681.6,790.6 2682.8,793.3 2684.1,796.1 2685.4,798.9 2686.6,801.7 2687.9,804.5 2689.1,807.2 2690.4,810.0 2691.6,812.8 2692.9,815.6 2694.1,818.3 2695.4,821.1 2696.6,823.9 2697.9,826.7 2699.1,829.4 2700.4,832.2 2701.7,835.0 2702.9,837.7 2704.2,840.5 2705.4,843.2 2706.7,846.0 2708.0,848.7 2709.2,851.5 2710.5,854.2 2711.8,856.9 2713.1,859.7 2714.4,862.4 2715.7,865.1 2717.0,867.8 2718.3,870.5 2719.6,873.2 2720.9,875.9 2722.2,878.6 2723.6,881.3 2724.9,884.0 2726.3,886.6 2727.6,889.3 2729.0,891.9 2730.4,894.6 2731.8,897.2 2733.2,899.8 2734.6,902.4 2736.0,905.0 2737.4,907.6 2738.8,910.2 2740.3,912.8 2741.7,915.3 2743.2,917.9 2744.7,920.4 2746.2,922.9 2747.7,925.4 2749.2,927.9 2750.7,930.4 2752.3,932.9 2753.9,935.4 2755.4,937.8 2757.0,940.3 2758.6,942.7 2760.2,945.1 2761.9,947.5" stroke="#008c00" stroke-width="5"/>
<path d="M1732.5,947.5 1735.6,947.0 1738.7,946.4 1741.8,945.8 1744.9,945.2 1748.0,944.6 1751.1,944.0 1754.1,943.3 1757.1,942.6 1760.2,941.9 1763.2,941.2 1766.2,940.4 1769.1,939.6 1772.1,938.8 1775.1,938.0 1778.0,937.2 1780.9,936.3 1783.8,935.5 1786.8,934.6 1789.6,933.7 1792.5,932.7 1795.4,931.8 1798.2,930.8 1801.1,929.8 1803.9,928.8 1806.7,927.8 1809.5,926.7 1812.3,925.6 1815.1,924.6 1817.9,923.5 1820.6,922.3 1823.4,921.2 1826.1,920.0 1828.8,918.9 1831.5,917.7 1834.2,916.4 1836.9,915.2 1839.6,914.0 1842.3,912.7 1845.0,911.4 1847.6,910.1 1850.2,908.8 1852.9,907.5 1855.5,906.1 1858.1,904.8 1860.7,903.4 1863.3,902.0 1865.9,900.6 1868.4,899.1 1871.0,897.7 1873.5,896.2 1876.1,894.7 1878.6,893.3 1881.1,891.7 1883.6,890.2 1886.1,888.7 1888.6,887.1 1891.1,885.6 1893.6,884.0 1896.1,882.4 1898.5,880.8 1901.0,879.2 1903.4,877.5 1905.9,875.9 1908.3,874.2 1910.7,872.5 1913.1,870.8 1915.5,869.1 1917.9,867.4 1920.3,865.7 1922.7,864.0 1925.1,862.2 1927.4,860.4 1929.8,858.7 1932.1,856.9 1934.5,855.1 1936.8,853.2 1939.2,851.4 1941.5,849.6 1943.8,847.7 1946.1,845.9 1948.4,844.0 1950.7,842.1 1953.0,840.2 1955.3,838.3 1957.6,836.4 1959.8,834.5 1962.1,832.5 1964.4,830.6 1966.6,828.6 1968.9,826.7 1971.1,824.7 1973.4,822.7 1975.6,820.7 1977.8,818.7 1980.0,816.7 1982.3,814.7 1984.5,812.6 1986.7,810.6 1988.9,808.5 1991.1,806.5 1993.3,804.4 1995.5,802.3 1997.7,800.3 1999.9,798.2 2002.0,796.1 2004.2,794.0 2006.4,791.8 2008.6,789.7 2010.7,787.6 2012.9,785.5 2015.0,783.3 2017.2,781.2 2019.3,779.0 2021.5,776.9 2023.6,774.7 2025.8,772.5 2027.9,770.3 2030.0,768.1 2032.2,765.9 2034.3,763.7 2036.4,761.5 2038.6,759.3 2040.7,757.1 2042.8,754.9 2044.9,752.7 2047.0,750.4 2049.1,748.2 2051.3,746.0 2053.4,743.7 2055.5,741.5 2057.6,739.2 2059.7,737.0 2061.8,734.7 2063.9,732.5 2066.0,730.2 2068.1,728.0 2070.2,725.7 2072.3,723.4 2074.4,721.2 2076.6,718.9 2078.7,716.7 2080.8,714.4 2082.9,712.1 2085.0,709.9 2087.1,707.6 2089.2,705.4 2091.3,703.1 2093.4,700.9 2095.6,698.6 2097.7,696.4 2099.8,694.2 2101.9,691.9 2104.1,689.7 2106.2,687.5 2108.3,685.3 2110.5,683.1 2112.6,680.9 2114.7,678.7 2116.9,676.5 2119.0,674.3 2121.2,672.1 2123.4,669.9 2125.5,667.8 2127.7,665.6 2129.9,663.5 2132.1,661.3 2134.2,659.2 2136.4,657.1 2138.6,655.0 2140.8,652.9 2143.0,650.8 2145.2,648.7 2147.5,646.6 2149.7,644.6 2151.9,642.5 2154.2,640.5 2156.4,638.5 2158.7,636.5 2160.9,634.5 2163.2,632.5 2165.5,630.6 2167.7,628.6 2170.0,626.7 2172.3,624.8 2174.6,622.9 2176.9,621.0 2179.3,619.1 2181.6,617.3 2183.9,615.4 2186.3,613.6 2188.6,611.8 2191.0,610.0 2193.4,608.2 2195.8,606.5 2198.2,604.8 2200.6,603.1 2203.0,601.4 2205.4,599.7 2207.9,598.0 2210.3,596.4 2212.8,594.8 2215.3,593.2 2217.7,591.7 2220.2,590.1 2222.7,588.6 2225.3,587.1 2227.8,585.6 2230.3,584.2 2232.9,582.7 2235.5,581.3 2238.0,580.0 2240.6,578.6 2243.2,577.3 2245.8,576.0 2248.5,574.7 2251.1,573.4 2253.8,572.2 2256.5,571.0 2259.1,569.8 2261.9,568.7 2264.6,567.6 2267.3,566.5 2270.0,565.4 2272.8,564.4 2275.6,563.4 2278.4,562.4 2281.2,561.5 2284.0,560.5 2286.8,559.7 2289.7,558.8 2292.6,558.0 2295.4,557.2 2298.3,556.4 2301.3,555.7 2304.2,555.0 2307.1,554.4 2310.1,553.7 2313.0,553.2 2316.0,552.6 2318.9,552.1 2321.9,551.6 2324.9,551.2 2327.9,550.8 2330.9,550.4 2333.9,550.1 2336.9,549.8 2339.9,549.6 2342.9,549.4 2345.9,549.2 2348.9,549.1 2351.9,549.0 2354.9,549.0 2357.9,549.0 2360.9,549.0 2363.9,549.1 2366.8,549.3 2369.8,549.5 2372.8,549.7 2375.8,550.0 2378.7,550.3 2381.7,550.7 2384.6,551.1 2387.5,551.6 2390.4,552.2 2393.3,552.7 2396.2,553.4 2399.1,554.0 2402.0,554.8 2404.8,555.6 2407.6,556.4 2410.5,557.3 2413.3,558.2 2416.0,559.2 2418.8,560.3 2421.5,561.4 2424.2,562.6 2426.9,563.8 2429.6,565.1 2432.2,566.4 2434.9,567.8 2437.5,569.3 2440.0,570.8 2442.6,572.3 2445.1,573.9 2447.7,575.6 2450.2,577.3 2452.6,579.0 2455.1,580.8 2457.5,582.6 2460.0,584.4 2462.4,586.3 2464.8,588.2 2467.1,590.2 2469.5,592.2 2471.8,594.2 2474.2,596.2 2476.5,598.3 2478.8,600.4 2481.1,602.5 2483.3,604.6 2485.6,606.8 2487.8,608.9 2490.1,611.1 2492.3,613.3 2494.5,615.5 2496.7,617.7 2498.9,619.9 2501.1,622.2 2503.2,624.4 2505.4,626.6 2507.6,628.9 2509.7,631.1 2511.8,633.3 2514.0,635.6 2516.1,637.8 2518.2,640.0 2520.3,642.2 2522.4,644.5 2524.5,646.7 2526.6,648.9 2528.6,651.1 2530.7,653.4 2532.8,655.6 2534.8,657.8 2536.8,660.0 2538.9,662.3 2540.9,664.5 2542.9,666.7 2544.9,669.0 2546.8,671.2 2548.8,673.5 2550.8,675.7 2552.7,678.0 2554.7,680.3 2556.6,682.6 2558.5,684.9 2560.4,687.1 2562.3,689.5 2564.1,691.8 2566.0,694.1 2567.8,696.4 2569.6,698.8 2571.5,701.2 2573.3,703.5 2575.0,705.9 2576.8,708.3 2578.6,710.7 2580.3,713.2 2582.0,715.6 2583.7,718.1 2585.4,720.5 2587.1,723.0 2588.8,725.5 2590.5,728.0 2592.1,730.5 2593.8,733.0 2595.4,735.6 2597.0,738.1 2598.6,740.6 2600.2,743.2 2601.8,745.7 2603.4,748.3 2605.0,750.9 2606.6,753.5 2608.1,756.1 2609.7,758.6 2611.2,761.2 2612.8,763.8 2614.3,766.4 2615.9,769.1 2617.4,771.7 2619.0,774.3 2620.5,776.9 2622.0,779.5 2623.6,782.1 2625.1,784.7 2626.6,787.4 2628.2,790.0 2629.7,792.6 2631.2,795.2 2632.7,797.8 2634.3,800.5 2635.8,803.1 2637.3,805.7 2638.9,808.3 2640.4,810.9 2642.0,813.5 2643.5,816.1 2645.1,818.7 2646.6,821.3 2648.2,823.9 2649.8,826.4 2651.4,829.0 2653.0,831.6 2654.6,834.1 2656.2,836.7 2657.8,839.2 2659.4,841.7 2661.0,844.2 2662.7,846.8 2664.3,849.3 2666.0,851.7 2667.7,854.2 2669.3,856.7 2671.0,859.1 2672.8,861.6 2674.5,864.0 2676.2,866.4 2678.0,868.8 2679.7,871.2 2681.5,873.6 2683.3,876.0 2685.1,878.3 2687.0,880.7 2688.8,883.0 2690.7,885.3 2692.6,887.6 2694.5,889.8 2696.4,892.1 2698.4,894.3 2700.3,896.5 2702.3,898.7 2704.3,900.9 2706.3,903.0 2708.4,905.1 2710.4,907.3 2712.5,909.3 2714.7,911.4 2716.8,913.5 2719.0,915.5 2721.1,917.5 2723.4,919.5 2725.6,921.4 2727.9,923.3 2730.2,925.2 2732.5,927.1 2734.8,929.0 2737.2,930.8 2739.6,932.6 2742.0,934.4 2744.5,936.1 2747.0,937.8 2749.5,939.5 2752.1,941.2 2754.6,942.8 2757.3,944.4 2759.9,946.0 2762.6,947.5" stroke="#008c00" stroke-width="5" stroke-dasharray="17.7 7.5"/>
<path d="M1795.1,947.5 1798.0,946.6 1800.8,945.7 1803.6,944.8 1806.5,943.9 1809.3,943.0 1812.1,942.1 1815.0,941.2 1817.8,940.3 1820.7,939.5 1823.5,938.6 1826.4,937.7 1829.3,936.8 1832.1,935.9 1835.0,935.1 1837.8,934.2 1840.7,933.3 1843.6,932.5 1846.4,931.6 1849.3,930.7 1852.2,929.9 1855.1,929.0 1857.9,928.1 1860.8,927.3 1863.7,926.4 1866.6,925.6 1869.5,924.7 1872.3,923.8 1875.2,923.0 1878.1,922.1 1881.0,921.2 1883.9,920.4 1886.8,919.5 1889.7,918.7 1892.6,917.8 1895.5,916.9 1898.3,916.1 1901.2,915.2 1904.1,914.3 1907.0,913.5 1909.9,912.6 1912.8,911.7 1915.7,910.9 1918.6,910.0 1921.5,909.1 1924.4,908.2 1927.3,907.4 1930.2,906.5 1933.1,905.6 1936.0,904.7 1938.8,903.8 1941.7,902.9 1944.6,902.0 1947.5,901.1 1950.4,900.2 1953.3,899.3 1956.2,898.4 1959.1,897.5 1961.9,896.6 1964.8,895.7 1967.7,894.7 1970.6,893.8 1973.5,892.9 1976.3,892.0 1979.2,891.0 1982.1,890.1 1985.0,889.1 1987.8,888.2 1990.7,887.2 1993.6,886.3 1996.4,885.3 1999.3,884.3 2002.2,883.3 2005.0,882.4 2007.9,881.4 2010.7,880.4 2013.6,879.4 2016.4,878.4 2019.3,877.4 2022.1,876.3 2024.9,875.3 2027.8,874.3 2030.6,873.2 2033.4,872.2 2036.3,871.2 2039.1,870.1 2041.9,869.0 2044.7,868.0 2047.5,866.9 2050.4,865.8 2053.2,864.7 2056.0,863.6 2058.8,862.5 2061.6,861.4 2064.3,860.3 2067.1,859.1 2069.9,858.0 2072.7,856.8 2075.5,855.7 2078.2,854.5 2081.0,853.3 2083.8,852.2 2086.5,851.0 2089.3,849.8 2092.0,848.6 2094.8,847.3 2097.5,846.1 2100.2,844.9 2103.0,843.6 2105.7,842.4 2108.4,841.1 2111.1,839.8 2113.8,838.5 2116.5,837.2 2119.2,835.9 2121.9,834.6 2124.6,833.3 2127.3,831.9 2129.9,830.6 2132.6,829.2 2135.3,827.9 2137.9,826.5 2140.6,825.1 2143.2,823.7 2145.9,822.3 2148.5,820.9 2151.2,819.5 2153.8,818.0 2156.4,816.6 2159.0,815.2 2161.7,813.7 2164.3,812.2 2166.9,810.8 2169.5,809.3 2172.1,807.8 2174.7,806.3 2177.3,804.8 2179.8,803.3 2182.4,801.7 2185.0,800.2 2187.6,798.7 2190.1,797.1 2192.7,795.5 2195.2,794.0 2197.8,792.4 2200.3,790.8 2202.9,789.2 2205.4,787.6 2207.9,786.0 2210.5,784.4 2213.0,782.8 2215.5,781.2 2218.0,779.5 2220.5,777.9 2223.0,776.2 2225.5,774.6 2228.0,772.9 2230.5,771.3 2233.0,769.6 2235.5,767.9 2238.0,766.2 2240.5,764.5 2243.0,762.8 2245.4,761.1 2247.9,759.4 2250.4,757.7 2252.8,755.9 2255.3,754.2 2257.7,752.5 2260.2,750.7 2262.6,749.0 2265.1,747.2 2267.5,745.5 2269.9,743.7 2272.4,741.9 2274.8,740.1 2277.2,738.4 2279.6,736.6 2282.0,734.8 2284.5,733.0 2286.9,731.2 2289.3,729.4 2291.7,727.5 2294.1,725.7 2296.5,723.9 2298.9,722.1 2301.3,720.2 2303.6,718.4 2306.0,716.5 2308.4,714.7 2310.8,712.8 2313.2,711.0 2315.5,709.1 2317.9,707.3 2320.3,705.4 2322.6,703.5 2325.0,701.6 2327.3,699.8 2329.7,697.9 2332.0,696.0 2334.4,694.1 2336.7,692.2 2339.1,690.3 2341.4,688.4 2343.7,686.5 2346.1,684.6 2348.4,682.7 2350.7,680.8 2353.0,678.8 2355.4,676.9 2357.7,675.0 2360.0,673.1 2362.3,671.1 2364.6,669.2 2366.9,667.3 2369.2,665.3 2371.6,663.4 2373.9,661.5 2376.2,659.5 2378.5,657.6 2380.7,655.6 2383.0,653.7 2385.3,651.7 2387.6,649.8 2389.9,647.8 2392.2,645.8 2394.5,643.9 2396.8,641.9 2399.0,640.0 2401.3,638.0 2403.6,636.0 2405.9,634.1 2408.1,632.1 2410.4,630.1 2412.7,628.1 2414.9,626.2 2417.2,624.2 2419.4,622.2 2421.7,620.3 2424.0,618.3 2426.2,616.3 2428.5,614.3 2430.7,612.3 2433.0,610.4 2435.2,608.4 2437.5,606.4 2439.7,604.4 2442.0,602.5 2444.2,600.5 2446.4,598.5 2448.7,596.5 2450.9,594.5 2453.2,592.6 2455.4,590.6 2457.6,588.6 2459.9,586.6 2462.1,584.7 2464.4,582.7 2466.6,580.7 2468.8,578.7 2471.1,576.7 2473.3,574.8 2475.6,572.8 2477.8,570.8 2480.0,568.9 2482.3,566.9 2484.5,564.9 2486.8,562.9 2489.0,561.0 2491.3,559.0 2493.5,557.0 2495.8,555.1 2498.0,553.1 2500.3,551.1 2502.5,549.2 2504.8,547.2 2507.1,545.3 2509.3,543.3 2511.6,541.3 2513.9,539.4 2516.2,537.4 2518.4,535.5 2520.7,533.5 2523.0,531.6 2525.3,529.6 2527.6,527.7 2529.9,525.8 2532.2,523.8 2534.5,521.9 2536.8,519.9 2539.1,518.0 2541.5,516.1 2543.8,514.1 2546.1,512.2 2548.5,510.3 2550.8,508.4 2553.1,506.5 2555.5,504.5 2557.9,502.6 2560.2,500.7 2562.6,498.8 2565.0,496.9 2567.3,495.0 2569.7,493.1 2572.1,491.2 2574.5,489.3 2576.9,487.4 2579.4,485.5 2581.8,483.6 2584.2,481.7 2586.6,479.9 2589.1,478.0 2591.5,476.1 2594.0,474.2 2596.5,472.4 2599.0,470.5 2601.4,468.7 2603.9,466.8 2606.4,465.0 2608.9,463.1 2611.5,461.3 2614.0,459.4 2616.5,457.6 2619.1,455.8 2621.6,453.9 2624.2,452.1 2626.8,450.3 2629.3,448.5 2631.9,446.8 2634.5,445.1 2637.1,443.5 2639.7,441.9 2642.3,440.4 2644.8,439.0 2647.4,437.7 2650.0,436.4 2652.6,435.3 2655.1,434.3 2657.7,433.4 2660.3,432.6 2662.8,432.0 2665.3,431.5 2667.9,431.2 2670.4,431.1 2672.8,431.1 2675.3,431.3 2677.8,431.7 2680.2,432.3 2682.6,433.0 2685.0,434.0 2687.3,435.0 2689.6,436.3 2691.9,437.7 2694.1,439.2 2696.2,440.8 2698.3,442.6 2700.4,444.5 2702.3,446.5 2704.2,448.6 2706.1,450.9 2707.8,453.1 2709.4,455.5 2711.0,458.0 2712.5,460.5 2713.9,463.1 2715.2,465.7 2716.4,468.4 2717.6,471.2 2718.7,474.0 2719.7,476.9 2720.7,479.8 2721.6,482.8 2722.4,485.8 2723.2,488.8 2723.9,491.9 2724.6,495.0 2725.2,498.2 2725.8,501.3 2726.4,504.5 2726.9,507.7 2727.4,510.9 2727.8,514.2 2728.3,517.4 2728.7,520.7 2729.1,523.9 2729.4,527.2 2729.8,530.4 2730.1,533.7 2730.4,536.9 2730.8,540.2 2731.1,543.4 2731.4,546.6 2731.7,549.7 2732.1,552.9 2732.4,556.0 2732.7,559.1 2733.0,562.3 2733.4,565.3 2733.7,568.4 2734.0,571.5 2734.4,574.5 2734.7,577.6 2735.0,580.6 2735.3,583.6 2735.7,586.6 2736.0,589.6 2736.3,592.5 2736.7,595.5 2737.0,598.4 2737.3,601.4 2737.6,604.3 2738.0,607.3 2738.3,610.2 2738.6,613.1 2739.0,616.0 2739.3,618.9 2739.6,621.8 2739.9,624.7 2740.2,627.6 2740.5,630.5 2740.9,633.4 2741.2,636.3 2741.5,639.2 2741.8,642.0 2742.1,644.9 2742.4,647.8 2742.7,650.7 2743.0,653.6 2743.3,656.5 2743.6,659.4 2743.9,662.3 2744.1,665.2 2744.4,668.1 2744.7,671.0 2745.0,673.9 2745.2,676.8 2745.5,679.7 2745.8,682.7 2746.0,685.6 2746.3,688.5 2746.5,691.5 2746.8,694.4 2747.0,697.4 2747.3,700.4 2747.5,703.3 2747.7,706.3 2748.0,709.3 2748.2,712.3 2748.4,715.2 2748.6,718.2 2748.9,721.2 2749.1,724.2 2749.3,727.2 2749.5,730.2 2749.7,733.2 2749.9,736.2 2750.1,739.3 2750.3,742.3 2750.5,745.3 2750.7,748.3 2750.9,751.3 2751.1,754.4 2751.3,757.4 2751.5,760.4 2751.6,763.5 2751.8,766.5 2752.0,769.5 2752.2,772.6 2752.3,775.6 2752.5,778.7 2752.7,781.7 2752.9,784.7 2753.0,787.8 2753.2,790.8 2753.3,793.9 2753.5,796.9 2753.6,800.0 2753.8,803.0 2754.0,806.1 2754.1,809.1 2754.3,812.2 2754.4,815.2 2754.5,818.3 2754.7,821.3 2754.8,824.4 2755.0,827.4 2755.1,830.5 2755.2,833.5 2755.4,836.6 2755.5,839.6 2755.6,842.7 2755.8,845.7 2755.9,848.7 2756.0,851.8 2756.2,854.8 2756.3,857.9 2756.4,860.9 2756.5,863.9 2756.7,867.0 2756.8,870.0 2756.9,873.0 2757.0,876.0 2757.2,879.1 2757.3,882.1 2757.4,885.1 2757.5,888.1 2757.6,891.1 2757.7,894.1 2757.9,897.1 2758.0,900.1 2758.1,903.1 2758.2,906.1 2758.3,909.1 2758.4,912.1 2758.6,915.0 2758.7,918.0 2758.8,921.0 2758.9,924.0 2759.0,926.9 2759.1,929.9 2759.2,932.8 2759.3,935.8 2759.5,938.7 2759.6,941.6 2759.7,944.6 2759.8,947.5" stroke="#008c00" stroke-width="9.5" stroke-dasharray="3.3 12.4"/>
<path d="M1732.5,947.5 1735.7,947.4 1738.9,947.2 1742.1,947.0 1745.3,946.8 1748.4,946.5 1751.6,946.3 1754.8,946.0 1757.9,945.7 1761.0,945.3 1764.1,945.0 1767.2,944.6 1770.3,944.2 1773.4,943.8 1776.5,943.4 1779.5,942.9 1782.6,942.4 1785.6,941.9 1788.6,941.4 1791.6,940.8 1794.6,940.3 1797.6,939.7 1800.6,939.1 1803.6,938.5 1806.6,937.8 1809.5,937.2 1812.5,936.5 1815.4,935.8 1818.3,935.0 1821.2,934.3 1824.1,933.5 1827.0,932.8 1829.9,932.0 1832.8,931.1 1835.7,930.3 1838.5,929.4 1841.4,928.6 1844.2,927.7 1847.1,926.8 1849.9,925.8 1852.7,924.9 1855.5,923.9 1858.3,923.0 1861.1,922.0 1863.9,921.0 1866.7,919.9 1869.4,918.9 1872.2,917.8 1874.9,916.7 1877.7,915.6 1880.4,914.5 1883.2,913.4 1885.9,912.3 1888.6,911.1 1891.3,909.9 1894.0,908.8 1896.7,907.6 1899.4,906.3 1902.0,905.1 1904.7,903.9 1907.4,902.6 1910.0,901.3 1912.7,900.1 1915.3,898.8 1918.0,897.4 1920.6,896.1 1923.2,894.8 1925.8,893.4 1928.4,892.1 1931.0,890.7 1933.6,889.3 1936.2,887.9 1938.8,886.5 1941.4,885.0 1944.0,883.6 1946.5,882.1 1949.1,880.7 1951.7,879.2 1954.2,877.7 1956.8,876.2 1959.3,874.7 1961.8,873.2 1964.4,871.6 1966.9,870.1 1969.4,868.6 1971.9,867.0 1974.4,865.4 1976.9,863.8 1979.4,862.2 1981.9,860.6 1984.4,859.0 1986.9,857.4 1989.4,855.8 1991.9,854.1 1994.4,852.5 1996.8,850.8 1999.3,849.2 2001.8,847.5 2004.2,845.8 2006.7,844.1 2009.1,842.4 2011.6,840.7 2014.0,839.0 2016.5,837.3 2018.9,835.6 2021.4,833.8 2023.8,832.1 2026.2,830.3 2028.7,828.6 2031.1,826.8 2033.5,825.0 2035.9,823.3 2038.4,821.5 2040.8,819.7 2043.2,817.9 2045.6,816.1 2048.0,814.3 2050.4,812.5 2052.8,810.7 2055.2,808.9 2057.6,807.1 2060.0,805.2 2062.4,803.4 2064.8,801.6 2067.2,799.7 2069.6,797.9 2072.0,796.0 2074.4,794.2 2076.8,792.3 2079.2,790.5 2081.5,788.6 2083.9,786.7 2086.3,784.9 2088.7,783.0 2091.1,781.1 2093.5,779.3 2095.8,777.4 2098.2,775.5 2100.6,773.6 2103.0,771.7 2105.4,769.9 2107.7,768.0 2110.1,766.1 2112.5,764.2 2114.9,762.3 2117.3,760.4 2119.7,758.5 2122.0,756.6 2124.4,754.7 2126.8,752.9 2129.2,751.0 2131.6,749.1 2134.0,747.2 2136.3,745.3 2138.7,743.4 2141.1,741.5 2143.5,739.6 2145.9,737.7 2148.3,735.9 2150.7,734.0 2153.1,732.1 2155.5,730.2 2157.9,728.3 2160.3,726.5 2162.7,724.6 2165.1,722.7 2167.5,720.9 2169.9,719.0 2172.3,717.1 2174.7,715.3 2177.1,713.4 2179.5,711.6 2182.0,709.7 2184.4,707.9 2186.8,706.0 2189.2,704.2 2191.7,702.3 2194.1,700.5 2196.5,698.7 2199.0,696.9 2201.4,695.1 2203.9,693.2 2206.3,691.4 2208.8,689.6 2211.2,687.8 2213.7,686.0 2216.1,684.3 2218.6,682.5 2221.1,680.7 2223.6,679.0 2226.0,677.2 2228.5,675.4 2231.0,673.7 2233.5,672.0 2236.0,670.2 2238.5,668.5 2241.0,666.8 2243.5,665.1 2246.0,663.4 2248.5,661.7 2251.1,660.0 2253.6,658.3 2256.1,656.6 2258.7,655.0 2261.2,653.3 2263.8,651.7 2266.3,650.0 2268.9,648.4 2271.4,646.8 2274.0,645.2 2276.6,643.6 2279.2,642.0 2281.8,640.4 2284.4,638.9 2287.0,637.3 2289.6,635.7 2292.2,634.2 2294.8,632.7 2297.4,631.2 2300.0,629.7 2302.7,628.2 2305.3,626.7 2308.0,625.2 2310.6,623.8 2313.3,622.3 2316.0,620.9 2318.7,619.4 2321.3,618.0 2324.0,616.6 2326.7,615.2 2329.5,613.9 2332.2,612.5 2334.9,611.2 2337.6,609.8 2340.4,608.5 2343.1,607.2 2345.8,605.9 2348.6,604.7 2351.4,603.4 2354.1,602.2 2356.9,601.0 2359.7,599.8 2362.5,598.6 2365.3,597.5 2368.1,596.3 2370.9,595.2 2373.7,594.1 2376.5,593.1 2379.3,592.0 2382.1,591.0 2384.9,590.0 2387.8,589.0 2390.6,588.1 2393.5,587.2 2396.3,586.3 2399.1,585.4 2402.0,584.6 2404.8,583.8 2407.7,583.0 2410.6,582.3 2413.4,581.6 2416.3,580.9 2419.2,580.2 2422.0,579.6 2424.9,579.0 2427.8,578.5 2430.7,578.0 2433.6,577.5 2436.5,577.0 2439.3,576.6 2442.2,576.2 2445.1,575.9 2448.0,575.6 2450.9,575.3 2453.8,575.1 2456.7,574.9 2459.6,574.7 2462.5,574.6 2465.4,574.6 2468.3,574.5 2471.2,574.6 2474.1,574.6 2477.0,574.7 2479.9,574.9 2482.8,575.1 2485.8,575.3 2488.7,575.5 2491.6,575.9 2494.5,576.2 2497.3,576.6 2500.2,577.0 2503.1,577.5 2506.0,578.0 2508.9,578.5 2511.8,579.1 2514.6,579.8 2517.5,580.4 2520.4,581.1 2523.2,581.9 2526.1,582.6 2528.9,583.4 2531.7,584.3 2534.6,585.2 2537.4,586.1 2540.2,587.0 2543.0,588.0 2545.8,589.0 2548.6,590.1 2551.3,591.2 2554.1,592.3 2556.8,593.4 2559.6,594.6 2562.3,595.8 2565.0,597.1 2567.7,598.4 2570.4,599.7 2573.1,601.0 2575.7,602.4 2578.4,603.8 2581.0,605.3 2583.6,606.7 2586.2,608.2 2588.8,609.7 2591.4,611.3 2593.9,612.9 2596.5,614.5 2599.0,616.1 2601.5,617.8 2604.0,619.5 2606.4,621.2 2608.9,622.9 2611.3,624.7 2613.7,626.5 2616.1,628.3 2618.4,630.1 2620.8,632.0 2623.1,633.9 2625.4,635.8 2627.7,637.8 2630.0,639.7 2632.2,641.7 2634.4,643.7 2636.6,645.7 2638.8,647.8 2641.0,649.9 2643.1,652.0 2645.2,654.1 2647.3,656.2 2649.4,658.4 2651.5,660.6 2653.6,662.7 2655.6,665.0 2657.6,667.2 2659.6,669.5 2661.6,671.7 2663.5,674.0 2665.5,676.3 2667.4,678.7 2669.3,681.0 2671.2,683.4 2673.1,685.7 2675.0,688.1 2676.8,690.6 2678.6,693.0 2680.4,695.4 2682.2,697.9 2684.0,700.4 2685.8,702.8 2687.5,705.3 2689.3,707.9 2691.0,710.4 2692.7,712.9 2694.4,715.5 2696.1,718.1 2697.8,720.6 2699.4,723.2 2701.1,725.8 2702.7,728.5 2704.3,731.1 2705.9,733.7 2707.5,736.4 2709.1,739.0 2710.6,741.7 2712.2,744.4 2713.7,747.1 2715.2,749.8 2716.8,752.5 2718.3,755.2 2719.8,757.9 2721.2,760.6 2722.7,763.4 2724.2,766.1 2725.6,768.9 2727.1,771.6 2728.5,774.4 2729.9,777.2 2731.3,779.9 2732.7,782.7 2734.1,785.5 2735.5,788.3 2736.9,791.1 2738.2,793.9 2739.6,796.7 2740.9,799.5 2742.3,802.3 2743.6,805.1 2744.9,807.9 2746.2,810.7 2747.5,813.6 2748.8,816.4 2750.1,819.2 2751.4,822.0 2752.7,824.8 2754.0,827.7 2755.2,830.5 2756.5,833.3 2757.7,836.1 2759.0,839.0 2760.2,841.8 2761.5,844.6 2762.7,847.4 2763.9,850.2 2765.1,853.0 2766.3,855.8 2767.6,858.7 2768.8,861.5 2770.0,864.3 2771.2,867.1 2772.3,869.8 2773.5,872.6 2774.7,875.4 2775.9,878.2 2777.1,881.0 2778.3,883.7 2779.4,886.5 2780.6,889.2 2781.8,892.0 2782.9,894.7 2784.1,897.4 2785.3,900.2 2786.4,902.9 2787.6,905.6 2788.7,908.3 2789.9,911.0 2791.1,913.6 2792.2,916.3 2793.4,919.0 2794.5,921.6 2795.7,924.3 2796.8,926.9 2798.0,929.5 2799.1,932.1 2800.3,934.7 2801.4,937.3 2802.6,939.9 2803.8,942.4 2804.9,945.0 2806.1,947.5" stroke="#ff8c00" stroke-width="5"/>
<path d="M1732.5,947.5 1735.6,947.1 1738.7,946.7 1741.8,946.3 1744.8,945.9 1747.9,945.4 1750.9,944.9 1754.0,944.4 1757.0,943.9 1760.0,943.3 1763.0,942.8 1766.0,942.2 1769.0,941.5 1772.0,940.9 1775.0,940.2 1777.9,939.5 1780.9,938.8 1783.8,938.1 1786.7,937.3 1789.6,936.5 1792.5,935.7 1795.4,934.9 1798.3,934.1 1801.2,933.2 1804.1,932.3 1806.9,931.4 1809.8,930.5 1812.6,929.6 1815.5,928.6 1818.3,927.6 1821.1,926.6 1823.9,925.6 1826.7,924.5 1829.5,923.5 1832.3,922.4 1835.0,921.3 1837.8,920.2 1840.5,919.0 1843.3,917.9 1846.0,916.7 1848.7,915.5 1851.5,914.3 1854.2,913.1 1856.9,911.8 1859.6,910.6 1862.2,909.3 1864.9,908.0 1867.6,906.7 1870.2,905.3 1872.9,904.0 1875.5,902.6 1878.2,901.3 1880.8,899.9 1883.4,898.5 1886.0,897.0 1888.6,895.6 1891.2,894.1 1893.8,892.7 1896.4,891.2 1898.9,889.7 1901.5,888.2 1904.1,886.6 1906.6,885.1 1909.1,883.5 1911.7,882.0 1914.2,880.4 1916.7,878.8 1919.2,877.2 1921.7,875.5 1924.2,873.9 1926.7,872.3 1929.2,870.6 1931.7,868.9 1934.2,867.2 1936.6,865.5 1939.1,863.8 1941.5,862.1 1944.0,860.4 1946.4,858.6 1948.8,856.9 1951.3,855.1 1953.7,853.3 1956.1,851.5 1958.5,849.7 1960.9,847.9 1963.3,846.1 1965.7,844.3 1968.0,842.4 1970.4,840.6 1972.8,838.7 1975.1,836.8 1977.5,835.0 1979.8,833.1 1982.2,831.2 1984.5,829.3 1986.9,827.4 1989.2,825.4 1991.5,823.5 1993.8,821.6 1996.1,819.6 1998.4,817.7 2000.7,815.7 2003.0,813.8 2005.3,811.8 2007.6,809.8 2009.9,807.8 2012.1,805.8 2014.4,803.8 2016.7,801.8 2018.9,799.8 2021.2,797.8 2023.4,795.7 2025.7,793.7 2027.9,791.7 2030.1,789.6 2032.4,787.6 2034.6,785.5 2036.8,783.5 2039.0,781.4 2041.2,779.4 2043.5,777.3 2045.7,775.2 2047.9,773.2 2050.0,771.1 2052.2,769.0 2054.4,766.9 2056.6,764.8 2058.8,762.7 2061.0,760.6 2063.1,758.5 2065.3,756.4 2067.5,754.3 2069.7,752.2 2071.8,750.1 2074.0,748.0 2076.2,745.9 2078.3,743.8 2080.5,741.7 2082.7,739.6 2084.8,737.5 2087.0,735.4 2089.2,733.3 2091.3,731.2 2093.5,729.1 2095.7,727.0 2097.9,724.8 2100.0,722.7 2102.2,720.6 2104.4,718.5 2106.6,716.4 2108.7,714.3 2110.9,712.3 2113.1,710.2 2115.3,708.1 2117.5,706.0 2119.7,703.9 2121.9,701.8 2124.1,699.7 2126.3,697.7 2128.6,695.6 2130.8,693.5 2133.0,691.5 2135.2,689.4 2137.5,687.4 2139.7,685.3 2142.0,683.3 2144.2,681.2 2146.5,679.2 2148.8,677.2 2151.1,675.1 2153.3,673.1 2155.6,671.1 2157.9,669.1 2160.3,667.1 2162.6,665.1 2164.9,663.2 2167.2,661.2 2169.6,659.2 2171.9,657.3 2174.3,655.3 2176.7,653.4 2179.1,651.4 2181.5,649.5 2183.9,647.6 2186.3,645.7 2188.7,643.8 2191.2,641.9 2193.6,640.0 2196.1,638.2 2198.5,636.3 2201.0,634.5 2203.5,632.7 2206.0,630.9 2208.5,629.1 2211.0,627.3 2213.6,625.5 2216.1,623.8 2218.6,622.1 2221.2,620.3 2223.8,618.7 2226.3,617.0 2228.9,615.3 2231.5,613.7 2234.1,612.1 2236.7,610.5 2239.3,608.9 2242.0,607.4 2244.6,605.9 2247.2,604.4 2249.9,602.9 2252.6,601.5 2255.2,600.0 2257.9,598.7 2260.6,597.3 2263.3,596.0 2266.0,594.6 2268.7,593.4 2271.4,592.1 2274.1,590.9 2276.9,589.7 2279.6,588.5 2282.4,587.4 2285.1,586.3 2287.9,585.2 2290.6,584.2 2293.4,583.2 2296.2,582.3 2299.0,581.3 2301.8,580.4 2304.6,579.6 2307.4,578.8 2310.2,578.0 2313.1,577.3 2315.9,576.6 2318.7,575.9 2321.6,575.3 2324.4,574.7 2327.3,574.2 2330.1,573.7 2333.0,573.2 2335.9,572.8 2338.8,572.4 2341.6,572.1 2344.5,571.8 2347.4,571.5 2350.3,571.3 2353.2,571.2 2356.1,571.0 2359.0,570.9 2361.9,570.9 2364.8,570.9 2367.7,570.9 2370.6,571.0 2373.5,571.1 2376.4,571.2 2379.4,571.4 2382.3,571.6 2385.2,571.9 2388.1,572.2 2391.0,572.5 2393.8,572.9 2396.7,573.3 2399.6,573.7 2402.5,574.2 2405.4,574.7 2408.3,575.2 2411.1,575.8 2414.0,576.5 2416.8,577.1 2419.7,577.8 2422.5,578.6 2425.4,579.3 2428.2,580.1 2431.0,581.0 2433.8,581.8 2436.6,582.7 2439.4,583.7 2442.2,584.7 2445.0,585.7 2447.7,586.7 2450.5,587.8 2453.2,588.9 2455.9,590.0 2458.7,591.2 2461.4,592.4 2464.0,593.7 2466.7,594.9 2469.4,596.3 2472.0,597.6 2474.7,599.0 2477.3,600.4 2479.9,601.8 2482.5,603.3 2485.0,604.8 2487.6,606.3 2490.2,607.8 2492.7,609.4 2495.2,611.0 2497.7,612.6 2500.2,614.3 2502.7,616.0 2505.2,617.7 2507.6,619.4 2510.1,621.2 2512.5,623.0 2514.9,624.8 2517.3,626.6 2519.7,628.5 2522.1,630.4 2524.5,632.3 2526.8,634.2 2529.2,636.1 2531.5,638.1 2533.8,640.1 2536.1,642.1 2538.5,644.1 2540.7,646.1 2543.0,648.2 2545.3,650.3 2547.6,652.4 2549.8,654.5 2552.0,656.6 2554.3,658.7 2556.5,660.9 2558.7,663.0 2560.9,665.2 2563.1,667.4 2565.3,669.6 2567.4,671.8 2569.6,674.1 2571.8,676.3 2573.9,678.6 2576.0,680.8 2578.2,683.1 2580.3,685.4 2582.4,687.7 2584.5,690.0 2586.6,692.3 2588.7,694.6 2590.7,696.9 2592.8,699.2 2594.9,701.6 2596.9,703.9 2599.0,706.3 2601.0,708.6 2603.0,711.0 2605.1,713.3 2607.1,715.7 2609.1,718.0 2611.1,720.4 2613.1,722.7 2615.1,725.1 2617.1,727.5 2619.0,729.8 2621.0,732.2 2623.0,734.6 2624.9,736.9 2626.9,739.3 2628.9,741.6 2630.8,744.0 2632.7,746.3 2634.7,748.7 2636.6,751.1 2638.5,753.4 2640.5,755.8 2642.4,758.1 2644.3,760.4 2646.2,762.8 2648.1,765.1 2650.0,767.5 2651.9,769.8 2653.8,772.2 2655.7,774.5 2657.6,776.8 2659.5,779.2 2661.4,781.5 2663.3,783.8 2665.2,786.2 2667.0,788.5 2668.9,790.8 2670.8,793.1 2672.7,795.5 2674.6,797.8 2676.4,800.1 2678.3,802.4 2680.2,804.7 2682.1,807.0 2683.9,809.3 2685.8,811.7 2687.7,814.0 2689.6,816.3 2691.4,818.6 2693.3,820.9 2695.2,823.2 2697.1,825.5 2699.0,827.7 2700.9,830.0 2702.7,832.3 2704.6,834.6 2706.5,836.9 2708.4,839.2 2710.3,841.5 2712.2,843.7 2714.1,846.0 2716.0,848.3 2717.9,850.6 2719.8,852.8 2721.7,855.1 2723.7,857.3 2725.6,859.6 2727.5,861.9 2729.4,864.1 2731.4,866.4 2733.3,868.6 2735.3,870.9 2737.2,873.1 2739.2,875.3 2741.1,877.6 2743.1,879.8 2745.1,882.0 2747.0,884.3 2749.0,886.5 2751.0,888.7 2753.0,890.9 2755.0,893.2 2757.0,895.4 2759.0,897.6 2761.1,899.8 2763.1,902.0 2765.1,904.2 2767.2,906.4 2769.2,908.6 2771.3,910.8 2773.4,913.0 2775.5,915.1 2777.5,917.3 2779.6,919.5 2781.8,921.7 2783.9,923.8 2786.0,926.0 2788.1,928.2 2790.3,930.3 2792.4,932.5 2794.6,934.7 2796.8,936.8 2799.0,938.9 2801.2,941.1 2803.4,943.2 2805.6,945.4 2807.8,947.5" stroke="#ff8c00" stroke-width="5" stroke-dasharray="17.7 7.5"/>
<path d="M1809.1,947.5 1812.1,947.1 1815.1,946.7 1818.1,946.2 1821.1,945.8 1824.1,945.3 1827.1,944.8 1830.1,944.3 1833.1,943.8 1836.1,943.3 1839.0,942.8 1842.0,942.2 1845.0,941.7 1848.0,941.1 1850.9,940.6 1853.9,940.0 1856.8,939.4 1859.8,938.8 1862.7,938.2 1865.7,937.5 1868.6,936.9 1871.5,936.3 1874.5,935.6 1877.4,935.0 1880.3,934.3 1883.3,933.6 1886.2,932.9 1889.1,932.2 1892.0,931.5 1894.9,930.8 1897.8,930.1 1900.7,929.3 1903.6,928.6 1906.5,927.9 1909.4,927.1 1912.3,926.3 1915.2,925.6 1918.1,924.8 1921.0,924.0 1923.9,923.2 1926.8,922.4 1929.7,921.6 1932.6,920.8 1935.4,920.0 1938.3,919.2 1941.2,918.4 1944.1,917.5 1946.9,916.7 1949.8,915.8 1952.7,915.0 1955.6,914.1 1958.4,913.3 1961.3,912.4 1964.2,911.6 1967.0,910.7 1969.9,909.8 1972.8,908.9 1975.6,908.0 1978.5,907.2 1981.4,906.3 1984.2,905.4 1987.1,904.5 1989.9,903.6 1992.8,902.7 1995.7,901.8 1998.5,900.9 2001.4,899.9 2004.3,899.0 2007.1,898.1 2010.0,897.2 2012.8,896.3 2015.7,895.4 2018.6,894.4 2021.4,893.5 2024.3,892.6 2027.2,891.7 2030.0,890.8 2032.9,889.8 2035.8,888.9 2038.6,888.0 2041.5,887.1 2044.4,886.1 2047.3,885.2 2050.1,884.3 2053.0,883.4 2055.9,882.4 2058.8,881.5 2061.6,880.6 2064.5,879.7 2067.4,878.7 2070.3,877.8 2073.1,876.9 2076.0,875.9 2078.9,875.0 2081.8,874.0 2084.6,873.1 2087.5,872.1 2090.4,871.2 2093.3,870.2 2096.1,869.3 2099.0,868.3 2101.9,867.3 2104.7,866.3 2107.6,865.4 2110.4,864.4 2113.3,863.4 2116.1,862.4 2119.0,861.4 2121.8,860.4 2124.7,859.3 2127.5,858.3 2130.4,857.3 2133.2,856.2 2136.0,855.2 2138.8,854.1 2141.7,853.0 2144.5,852.0 2147.3,850.9 2150.1,849.8 2152.9,848.7 2155.7,847.6 2158.5,846.4 2161.3,845.3 2164.0,844.2 2166.8,843.0 2169.6,841.8 2172.3,840.7 2175.1,839.5 2177.8,838.3 2180.6,837.1 2183.3,835.8 2186.0,834.6 2188.8,833.3 2191.5,832.1 2194.2,830.8 2196.9,829.5 2199.6,828.2 2202.3,826.9 2204.9,825.6 2207.6,824.2 2210.3,822.8 2212.9,821.5 2215.6,820.1 2218.2,818.7 2220.8,817.2 2223.4,815.8 2226.0,814.3 2228.6,812.9 2231.2,811.4 2233.8,809.8 2236.3,808.3 2238.9,806.8 2241.4,805.2 2244.0,803.6 2246.5,802.0 2249.0,800.4 2251.5,798.8 2254.0,797.1 2256.5,795.4 2259.0,793.7 2261.4,792.0 2263.9,790.3 2266.3,788.5 2268.7,786.7 2271.1,784.9 2273.5,783.1 2275.9,781.3 2278.3,779.4 2280.6,777.5 2283.0,775.6 2285.3,773.7 2287.6,771.7 2289.9,769.8 2292.2,767.8 2294.5,765.8 2296.8,763.8 2299.1,761.8 2301.4,759.8 2303.7,757.8 2306.0,755.9 2308.4,754.0 2310.7,752.1 2313.1,750.3 2315.5,748.5 2318.0,746.8 2320.5,745.2 2323.0,743.6 2325.6,742.1 2328.2,740.7 2330.9,739.4 2333.5,738.1 2336.3,736.9 2339.0,735.7 2341.8,734.5 2344.6,733.4 2347.4,732.3 2350.1,731.2 2352.9,730.1 2355.7,728.9 2358.5,727.7 2361.2,726.5 2364.0,725.3 2366.7,724.0 2369.4,722.7 2372.1,721.3 2374.7,719.9 2377.4,718.4 2380.0,716.9 2382.6,715.4 2385.2,713.9 2387.7,712.3 2390.3,710.7 2392.8,709.1 2395.4,707.4 2397.9,705.7 2400.4,704.0 2402.9,702.3 2405.4,700.6 2407.8,698.8 2410.3,697.1 2412.8,695.3 2415.2,693.5 2417.7,691.7 2420.1,689.9 2422.5,688.1 2425.0,686.3 2427.4,684.5 2429.8,682.7 2432.2,680.9 2434.6,679.0 2437.0,677.2 2439.5,675.4 2441.9,673.6 2444.3,671.8 2446.7,670.0 2449.1,668.2 2451.5,666.4 2453.9,664.6 2456.2,662.8 2458.6,660.9 2461.0,659.1 2463.4,657.3 2465.8,655.5 2468.2,653.7 2470.6,651.9 2472.9,650.1 2475.3,648.2 2477.7,646.4 2480.1,644.6 2482.4,642.8 2484.8,641.0 2487.2,639.1 2489.5,637.3 2491.9,635.5 2494.3,633.7 2496.6,631.8 2499.0,630.0 2501.3,628.2 2503.7,626.3 2506.1,624.5 2508.4,622.7 2510.8,620.8 2513.1,619.0 2515.5,617.1 2517.9,615.3 2520.2,613.4 2522.6,611.6 2524.9,609.7 2527.3,607.8 2529.6,606.0 2532.0,604.1 2534.4,602.3 2536.7,600.4 2539.1,598.5 2541.4,596.6 2543.8,594.8 2546.1,592.9 2548.5,591.0 2550.9,589.1 2553.2,587.2 2555.6,585.3 2557.9,583.4 2560.3,581.5 2562.7,579.6 2565.0,577.7 2567.4,575.8 2569.8,573.8 2572.1,571.9 2574.5,570.0 2576.9,568.1 2579.2,566.1 2581.6,564.2 2584.0,562.3 2586.3,560.3 2588.7,558.4 2591.0,556.4 2593.4,554.5 2595.8,552.6 2598.1,550.6 2600.5,548.7 2602.8,546.7 2605.2,544.8 2607.5,542.9 2609.8,540.9 2612.2,539.0 2614.5,537.0 2616.8,535.1 2619.1,533.2 2621.5,531.2 2623.8,529.3 2626.1,527.4 2628.4,525.5 2630.7,523.5 2633.0,521.6 2635.2,519.7 2637.5,517.8 2639.8,515.9 2642.0,514.0 2644.3,512.1 2646.5,510.2 2648.8,508.3 2651.0,506.4 2653.2,504.5 2655.5,502.6 2657.7,500.7 2659.9,498.8 2662.1,496.9 2664.3,495.0 2666.5,493.1 2668.7,491.2 2670.9,489.3 2673.1,487.3 2675.2,485.4 2677.4,483.5 2679.6,481.5 2681.8,479.5 2683.9,477.6 2686.1,475.6 2688.3,473.6 2690.4,471.5 2692.6,469.5 2694.8,467.5 2696.9,465.4 2699.1,463.3 2701.3,461.2 2703.4,459.1 2705.6,457.0 2707.7,454.8 2709.9,452.6 2712.1,450.4 2714.2,448.2 2716.4,445.9 2718.6,443.7 2720.7,441.4 2722.9,439.1 2725.1,436.7 2727.3,434.3 2729.5,431.9 2731.6,429.5 2733.8,427.0 2736.0,424.6 2738.2,422.1 2740.4,419.6 2742.6,417.1 2744.8,414.6 2747.0,412.2 2749.3,409.8 2751.5,407.4 2753.7,405.1 2755.9,402.8 2758.1,400.6 2760.4,398.4 2762.6,396.4 2764.8,394.4 2767.1,392.5 2769.3,390.7 2771.6,389.0 2773.8,387.4 2776.1,386.0 2778.3,384.6 2780.6,383.5 2782.9,382.4 2785.1,381.5 2787.4,380.8 2789.7,380.3 2792.0,379.9 2794.2,379.7 2796.5,379.7 2798.8,379.9 2801.1,380.4 2803.3,381.3 2805.6,382.5 2807.8,384.3 2807.8,384.3 2808.5,632.5 2808.9,947.5" stroke="#ff8c00" stroke-width="9.5" stroke-dasharray="3.3 12.4"/>
</g>
<g stroke="#d6d6d6" stroke-width="1.7"><line x1="164.7" y1="1792.6" x2="1382.7" y2="1792.6"/><line x1="164.7" y1="1523.9" x2="1382.7" y2="1523.9"/><line x1="164.7" y1="1255.2" x2="1382.7" y2="1255.2"/></g>
<clipPath id="c2"><rect x="164.7" y="1147.7" width="1218.0" height="913.6"/></clipPath>
<g clip-path="url(#c2)" fill="none" stroke-linejoin="round">
<path d="M164.7,2061.3 167.7,2060.5 170.6,2059.6 173.5,2058.7 176.3,2057.6 179.0,2056.5 181.7,2055.4 184.4,2054.1 187.0,2052.8 189.6,2051.5 192.1,2050.0 194.6,2048.5 197.0,2047.0 199.4,2045.3 201.8,2043.7 204.1,2041.9 206.3,2040.1 208.5,2038.3 210.7,2036.4 212.9,2034.5 215.0,2032.5 217.0,2030.4 219.1,2028.4 221.1,2026.2 223.0,2024.0 225.0,2021.8 226.9,2019.6 228.7,2017.3 230.6,2015.0 232.4,2012.6 234.1,2010.2 235.9,2007.8 237.6,2005.3 239.3,2002.8 241.0,2000.3 242.6,1997.8 244.2,1995.2 245.8,1992.6 247.4,1990.0 248.9,1987.3 250.5,1984.7 252.0,1982.0 253.5,1979.3 254.9,1976.6 256.4,1973.9 257.8,1971.2 259.2,1968.5 260.6,1965.7 262.0,1963.0 263.4,1960.2 264.8,1957.5 266.1,1954.7 267.5,1952.0 268.8,1949.2 270.1,1946.5 271.4,1943.7 272.7,1940.9 274.0,1938.2 275.3,1935.4 276.5,1932.6 277.8,1929.8 279.0,1927.1 280.3,1924.3 281.5,1921.5 282.7,1918.7 283.9,1915.9 285.1,1913.1 286.3,1910.3 287.5,1907.5 288.7,1904.8 289.8,1902.0 291.0,1899.2 292.1,1896.4 293.3,1893.6 294.4,1890.8 295.5,1888.0 296.6,1885.2 297.7,1882.4 298.8,1879.5 299.9,1876.7 301.0,1873.9 302.1,1871.1 303.2,1868.3 304.3,1865.5 305.3,1862.7 306.4,1859.9 307.4,1857.1 308.5,1854.3 309.5,1851.4 310.6,1848.6 311.6,1845.8 312.7,1843.0 313.7,1840.2 314.7,1837.4 315.7,1834.5 316.8,1831.7 317.8,1828.9 318.8,1826.1 319.8,1823.3 320.8,1820.5 321.8,1817.6 322.8,1814.8 323.8,1812.0 324.8,1809.2 325.8,1806.4 326.8,1803.6 327.8,1800.7 328.8,1797.9 329.8,1795.1 330.8,1792.3 331.8,1789.5 332.8,1786.7 333.8,1783.9 334.8,1781.1 335.8,1778.2 336.8,1775.4 337.8,1772.6 338.8,1769.8 339.8,1767.0 340.8,1764.2 341.8,1761.4 342.8,1758.6 343.8,1755.8 344.8,1753.0 345.8,1750.2 346.8,1747.4 347.8,1744.6 348.8,1741.8 349.8,1739.0 350.8,1736.2 351.8,1733.4 352.8,1730.6 353.8,1727.8 354.8,1725.0 355.8,1722.2 356.8,1719.4 357.8,1716.6 358.8,1713.8 359.8,1711.0 360.9,1708.2 361.9,1705.4 362.9,1702.6 363.9,1699.8 364.9,1697.0 365.9,1694.2 366.9,1691.4 367.9,1688.6 368.9,1685.8 369.9,1683.0 371.0,1680.2 372.0,1677.3 373.0,1674.5 374.0,1671.7 375.0,1668.9 376.0,1666.1 377.0,1663.3 378.1,1660.5 379.1,1657.7 380.1,1654.9 381.1,1652.1 382.1,1649.2 383.1,1646.4 384.1,1643.6 385.2,1640.8 386.2,1638.0 387.2,1635.2 388.2,1632.3 389.2,1629.5 390.2,1626.7 391.3,1623.9 392.3,1621.0 393.3,1618.2 394.3,1615.4 395.3,1612.6 396.4,1609.7 397.4,1606.9 398.4,1604.0 399.4,1601.2 400.4,1598.4 401.4,1595.5 402.5,1592.7 403.5,1589.8 404.5,1587.0 405.5,1584.1 406.5,1581.3 407.6,1578.4 408.6,1575.6 409.6,1572.7 410.6,1569.9 411.7,1567.0 412.7,1564.1 413.7,1561.3 414.7,1558.4 415.7,1555.5 416.8,1552.6 417.8,1549.8 418.8,1546.9 419.8,1544.0 420.8,1541.1 421.9,1538.2 422.9,1535.3 423.9,1532.4 424.9,1529.5 425.9,1526.6 427.0,1523.7 428.0,1520.8 429.0,1517.9 430.0,1515.0 431.1,1512.1 432.1,1509.2 433.1,1506.3 434.2,1503.4 435.2,1500.5 436.3,1497.6 437.4,1494.7 438.5,1491.8 439.6,1488.9 440.7,1486.1 441.8,1483.2 443.0,1480.4 444.2,1477.5 445.3,1474.7 446.6,1471.9 447.8,1469.1 449.0,1466.3 450.3,1463.6 451.6,1460.8 453.0,1458.1 454.3,1455.4 455.7,1452.7 457.1,1450.0 458.6,1447.4 460.1,1444.8 461.6,1442.2 463.2,1439.6 464.7,1437.0 466.4,1434.5 468.1,1432.0 469.8,1429.6 471.5,1427.1 473.3,1424.7 475.1,1422.3 477.0,1420.0 479.0,1417.7 480.9,1415.4 483.0,1413.2 485.1,1411.0 487.2,1408.8 489.4,1406.7 491.6,1404.6 493.9,1402.6 496.2,1400.6 498.6,1398.6 501.0,1396.8 503.5,1395.1 506.0,1393.4 508.5,1391.9 511.0,1390.5 513.5,1389.3 516.1,1388.2 518.6,1387.3 521.1,1386.6 523.6,1386.1 526.1,1385.8 528.6,1385.7 531.0,1385.9 533.4,1386.3 535.7,1387.0 538.1,1387.8 540.4,1388.9 542.6,1390.1 544.8,1391.6 547.0,1393.2 549.2,1394.9 551.3,1396.8 553.4,1398.8 555.4,1400.9 557.4,1403.2 559.3,1405.5 561.2,1407.9 563.1,1410.4 564.9,1412.9 566.7,1415.5 568.4,1418.1 570.1,1420.7 571.8,1423.3 573.4,1426.0 574.9,1428.7 576.5,1431.3 578.0,1434.0 579.4,1436.7 580.8,1439.5 582.2,1442.2 583.5,1445.0 584.8,1447.7 586.0,1450.5 587.3,1453.3 588.4,1456.1 589.6,1458.9 590.7,1461.7 591.8,1464.5 592.9,1467.4 593.9,1470.2 594.9,1473.1 595.9,1476.0 596.9,1478.9 597.8,1481.7 598.7,1484.6 599.6,1487.5 600.4,1490.5 601.2,1493.4 602.1,1496.3 602.8,1499.2 603.6,1502.2 604.4,1505.1 605.1,1508.1 605.8,1511.0 606.5,1514.0 607.2,1516.9 607.9,1519.9 608.5,1522.9 609.2,1525.8 609.8,1528.8 610.4,1531.8 611.0,1534.8 611.6,1537.7 612.2,1540.7 612.8,1543.7 613.4,1546.7 614.0,1549.7 614.5,1552.7 615.1,1555.6 615.6,1558.6 616.2,1561.6 616.7,1564.6 617.3,1567.6 617.8,1570.5 618.4,1573.5 618.9,1576.5 619.4,1579.5 619.9,1582.5 620.4,1585.4 620.9,1588.4 621.4,1591.4 621.9,1594.4 622.4,1597.4 622.9,1600.3 623.4,1603.3 623.9,1606.3 624.4,1609.3 624.8,1612.3 625.3,1615.2 625.8,1618.2 626.2,1621.2 626.7,1624.2 627.1,1627.2 627.6,1630.1 628.0,1633.1 628.4,1636.1 628.9,1639.1 629.3,1642.1 629.7,1645.0 630.1,1648.0 630.5,1651.0 631.0,1654.0 631.4,1656.9 631.8,1659.9 632.2,1662.9 632.5,1665.9 632.9,1668.9 633.3,1671.8 633.7,1674.8 634.1,1677.8 634.4,1680.8 634.8,1683.8 635.2,1686.7 635.5,1689.7 635.9,1692.7 636.3,1695.7 636.6,1698.7 636.9,1701.6 637.3,1704.6 637.6,1707.6 638.0,1710.6 638.3,1713.5 638.6,1716.5 638.9,1719.5 639.3,1722.5 639.6,1725.5 639.9,1728.4 640.2,1731.4 640.5,1734.4 640.8,1737.4 641.1,1740.4 641.4,1743.3 641.7,1746.3 642.0,1749.3 642.3,1752.3 642.6,1755.3 642.8,1758.3 643.1,1761.2 643.4,1764.2 643.6,1767.2 643.9,1770.2 644.2,1773.2 644.4,1776.1 644.7,1779.1 644.9,1782.1 645.2,1785.1 645.4,1788.1 645.7,1791.1 645.9,1794.0 646.2,1797.0 646.4,1800.0 646.6,1803.0 646.9,1806.0 647.1,1809.0 647.3,1812.0 647.5,1814.9 647.8,1817.9 648.0,1820.9 648.2,1823.9 648.4,1826.9 648.6,1829.9 648.8,1832.9 649.0,1835.9 649.2,1838.8 649.4,1841.8 649.6,1844.8 649.8,1847.8 650.0,1850.8 650.2,1853.8 650.4,1856.8 650.6,1859.8 650.7,1862.8 650.9,1865.8 651.1,1868.7 651.3,1871.7 651.4,1874.7 651.6,1877.7 651.8,1880.7 651.9,1883.7 652.1,1886.7 652.3,1889.7 652.4,1892.7 652.6,1895.7 652.7,1898.7 652.9,1901.7 653.0,1904.7 653.2,1907.7 653.3,1910.7 653.5,1913.7 653.6,1916.7 653.8,1919.7 653.9,1922.7 654.0,1925.7 654.2,1928.7 654.3,1931.7 654.5,1934.7 654.6,1937.7 654.7,1940.7 654.8,1943.7 655.0,1946.7 655.1,1949.7 655.2,1952.7 655.3,1955.7 655.5,1958.7 655.6,1961.7 655.7,1964.7 655.8,1967.7 655.9,1970.7 656.0,1973.8 656.2,1976.8 656.3,1979.8 656.4,1982.8 656.5,1985.8 656.6,1988.8 656.7,1991.8 656.8,1994.8 656.9,1997.9 657.0,2000.9 657.1,2003.9 657.2,2006.9 657.3,2009.9 657.4,2012.9 657.5,2015.9 657.6,2019.0 657.7,2022.0 657.8,2025.0 657.9,2028.0 658.0,2031.0 658.1,2034.1 658.2,2037.1 658.2,2040.1 658.3,2043.1 658.4,2046.2 658.5,2049.2 658.6,2052.2 658.7,2055.2 658.8,2058.3 658.9,2061.3" stroke="#4496d2" stroke-width="5"/>
<path d="M164.7,2061.3 167.8,2060.6 170.9,2059.9 173.9,2059.1 176.8,2058.2 179.7,2057.2 182.5,2056.2 185.2,2055.0 187.9,2053.8 190.6,2052.6 193.2,2051.2 195.7,2049.8 198.2,2048.3 200.7,2046.8 203.0,2045.2 205.4,2043.5 207.7,2041.8 209.9,2040.0 212.1,2038.2 214.3,2036.3 216.4,2034.3 218.5,2032.3 220.5,2030.3 222.5,2028.2 224.4,2026.0 226.4,2023.8 228.2,2021.6 230.1,2019.3 231.9,2017.0 233.7,2014.7 235.4,2012.3 237.2,2009.9 238.9,2007.4 240.5,2004.9 242.2,2002.4 243.8,1999.9 245.4,1997.3 246.9,1994.7 248.5,1992.1 250.0,1989.5 251.5,1986.8 253.0,1984.1 254.4,1981.4 255.9,1978.7 257.3,1976.0 258.7,1973.3 260.1,1970.6 261.5,1967.8 262.9,1965.1 264.3,1962.3 265.7,1959.5 267.0,1956.8 268.4,1954.0 269.7,1951.3 271.0,1948.5 272.4,1945.7 273.7,1943.0 275.0,1940.2 276.3,1937.4 277.6,1934.7 278.9,1931.9 280.2,1929.1 281.5,1926.4 282.8,1923.6 284.0,1920.8 285.3,1918.0 286.6,1915.3 287.8,1912.5 289.1,1909.7 290.3,1906.9 291.5,1904.2 292.8,1901.4 294.0,1898.6 295.2,1895.8 296.4,1893.1 297.6,1890.3 298.8,1887.5 300.0,1884.7 301.2,1881.9 302.4,1879.2 303.5,1876.4 304.7,1873.6 305.9,1870.8 307.0,1868.0 308.2,1865.2 309.3,1862.4 310.5,1859.6 311.6,1856.9 312.7,1854.1 313.9,1851.3 315.0,1848.5 316.1,1845.7 317.2,1842.9 318.3,1840.1 319.4,1837.3 320.5,1834.5 321.6,1831.7 322.7,1828.9 323.8,1826.1 324.9,1823.3 325.9,1820.5 327.0,1817.7 328.1,1814.9 329.1,1812.1 330.2,1809.3 331.3,1806.5 332.3,1803.7 333.4,1800.9 334.4,1798.1 335.4,1795.3 336.5,1792.5 337.5,1789.7 338.5,1786.9 339.6,1784.1 340.6,1781.3 341.6,1778.5 342.6,1775.7 343.6,1772.9 344.6,1770.1 345.6,1767.3 346.6,1764.4 347.6,1761.6 348.6,1758.8 349.6,1756.0 350.6,1753.2 351.6,1750.4 352.6,1747.6 353.6,1744.8 354.6,1741.9 355.5,1739.1 356.5,1736.3 357.5,1733.5 358.5,1730.7 359.5,1727.9 360.4,1725.1 361.4,1722.2 362.4,1719.4 363.4,1716.6 364.3,1713.8 365.3,1711.0 366.3,1708.1 367.2,1705.3 368.2,1702.5 369.2,1699.7 370.2,1696.9 371.1,1694.1 372.1,1691.2 373.1,1688.4 374.0,1685.6 375.0,1682.8 376.0,1680.0 377.0,1677.1 377.9,1674.3 378.9,1671.5 379.9,1668.7 380.9,1665.9 381.8,1663.0 382.8,1660.2 383.8,1657.4 384.8,1654.6 385.8,1651.7 386.8,1648.9 387.7,1646.1 388.7,1643.3 389.7,1640.5 390.7,1637.6 391.7,1634.8 392.7,1632.0 393.7,1629.2 394.7,1626.4 395.7,1623.5 396.8,1620.7 397.8,1617.9 398.8,1615.1 399.8,1612.3 400.8,1609.4 401.9,1606.6 402.9,1603.8 403.9,1601.0 405.0,1598.2 406.0,1595.3 407.1,1592.5 408.1,1589.7 409.2,1586.9 410.2,1584.1 411.3,1581.2 412.4,1578.4 413.4,1575.6 414.5,1572.8 415.6,1570.0 416.7,1567.2 417.8,1564.3 418.9,1561.5 420.0,1558.7 421.1,1555.9 422.2,1553.1 423.3,1550.3 424.5,1547.5 425.6,1544.7 426.7,1541.8 427.9,1539.0 429.0,1536.2 430.2,1533.4 431.4,1530.6 432.5,1527.8 433.7,1525.0 434.9,1522.2 436.1,1519.4 437.3,1516.5 438.5,1513.7 439.7,1510.9 440.9,1508.1 442.2,1505.3 443.4,1502.5 444.7,1499.7 445.9,1496.9 447.2,1494.1 448.4,1491.3 449.7,1488.5 451.0,1485.7 452.3,1482.9 453.6,1480.1 454.9,1477.3 456.2,1474.5 457.6,1471.7 458.9,1468.9 460.2,1466.1 461.6,1463.3 463.0,1460.5 464.3,1457.7 465.7,1454.9 467.1,1452.1 468.5,1449.4 469.9,1446.6 471.4,1443.8 472.8,1441.0 474.2,1438.2 475.7,1435.4 477.2,1432.6 478.7,1429.9 480.2,1427.1 481.7,1424.4 483.2,1421.7 484.8,1419.1 486.4,1416.5 488.1,1413.9 489.7,1411.4 491.5,1408.9 493.2,1406.6 495.0,1404.2 496.9,1402.0 498.8,1399.8 500.7,1397.8 502.7,1395.8 504.8,1393.9 506.9,1392.1 509.1,1390.5 511.3,1388.9 513.6,1387.5 516.0,1386.2 518.5,1385.0 521.0,1384.0 523.6,1383.1 526.2,1382.3 528.9,1381.7 531.6,1381.2 534.4,1380.9 537.1,1380.7 539.8,1380.7 542.6,1380.9 545.3,1381.2 548.0,1381.6 550.7,1382.3 553.3,1383.1 555.9,1384.0 558.5,1385.2 560.9,1386.5 563.3,1388.0 565.6,1389.7 567.9,1391.5 570.0,1393.6 572.1,1395.7 574.0,1398.0 575.9,1400.4 577.8,1402.9 579.5,1405.5 581.2,1408.2 582.8,1410.9 584.4,1413.7 585.8,1416.6 587.2,1419.4 588.6,1422.3 589.9,1425.2 591.1,1428.1 592.3,1431.0 593.4,1433.9 594.5,1436.9 595.5,1439.9 596.5,1442.8 597.5,1445.8 598.4,1448.8 599.3,1451.8 600.1,1454.8 600.9,1457.8 601.7,1460.8 602.5,1463.9 603.2,1466.9 603.9,1469.9 604.7,1472.9 605.4,1475.9 606.0,1478.9 606.7,1481.8 607.4,1484.8 608.1,1487.8 608.7,1490.7 609.4,1493.7 610.1,1496.6 610.7,1499.6 611.4,1502.5 612.0,1505.4 612.7,1508.3 613.3,1511.2 613.9,1514.2 614.6,1517.1 615.2,1520.0 615.8,1522.9 616.4,1525.8 617.0,1528.7 617.6,1531.6 618.2,1534.6 618.8,1537.5 619.3,1540.4 619.9,1543.3 620.5,1546.2 621.0,1549.2 621.6,1552.1 622.1,1555.0 622.7,1558.0 623.2,1560.9 623.7,1563.8 624.2,1566.8 624.7,1569.7 625.3,1572.6 625.8,1575.6 626.3,1578.5 626.7,1581.5 627.2,1584.4 627.7,1587.4 628.2,1590.3 628.7,1593.3 629.1,1596.2 629.6,1599.2 630.0,1602.1 630.5,1605.1 630.9,1608.1 631.4,1611.0 631.8,1614.0 632.2,1616.9 632.6,1619.9 633.0,1622.9 633.5,1625.8 633.9,1628.8 634.3,1631.8 634.7,1634.7 635.0,1637.7 635.4,1640.7 635.8,1643.7 636.2,1646.6 636.6,1649.6 636.9,1652.6 637.3,1655.6 637.6,1658.5 638.0,1661.5 638.3,1664.5 638.7,1667.5 639.0,1670.5 639.3,1673.5 639.7,1676.4 640.0,1679.4 640.3,1682.4 640.6,1685.4 640.9,1688.4 641.3,1691.4 641.6,1694.4 641.9,1697.4 642.1,1700.4 642.4,1703.4 642.7,1706.4 643.0,1709.4 643.3,1712.4 643.6,1715.3 643.8,1718.3 644.1,1721.3 644.4,1724.3 644.6,1727.3 644.9,1730.3 645.1,1733.4 645.4,1736.4 645.6,1739.4 645.9,1742.4 646.1,1745.4 646.3,1748.4 646.6,1751.4 646.8,1754.4 647.0,1757.4 647.2,1760.4 647.4,1763.4 647.7,1766.4 647.9,1769.4 648.1,1772.4 648.3,1775.5 648.5,1778.5 648.7,1781.5 648.9,1784.5 649.1,1787.5 649.2,1790.5 649.4,1793.5 649.6,1796.5 649.8,1799.6 650.0,1802.6 650.1,1805.6 650.3,1808.6 650.5,1811.6 650.6,1814.6 650.8,1817.6 651.0,1820.7 651.1,1823.7 651.3,1826.7 651.4,1829.7 651.6,1832.7 651.7,1835.7 651.9,1838.8 652.0,1841.8 652.2,1844.8 652.3,1847.8 652.4,1850.8 652.6,1853.9 652.7,1856.9 652.8,1859.9 653.0,1862.9 653.1,1865.9 653.2,1868.9 653.3,1872.0 653.5,1875.0 653.6,1878.0 653.7,1881.0 653.8,1884.0 653.9,1887.0 654.0,1890.1 654.1,1893.1 654.2,1896.1 654.4,1899.1 654.5,1902.1 654.6,1905.1 654.7,1908.2 654.8,1911.2 654.9,1914.2 655.0,1917.2 655.1,1920.2 655.2,1923.2 655.2,1926.3 655.3,1929.3 655.4,1932.3 655.5,1935.3 655.6,1938.3 655.7,1941.3 655.8,1944.3 655.9,1947.3 656.0,1950.4 656.0,1953.4 656.1,1956.4 656.2,1959.4 656.3,1962.4 656.4,1965.4 656.5,1968.4 656.5,1971.4 656.6,1974.4 656.7,1977.4 656.8,1980.4 656.9,1983.4 656.9,1986.4 657.0,1989.5 657.1,1992.5 657.2,1995.5 657.2,1998.5 657.3,2001.5 657.4,2004.5 657.5,2007.5 657.6,2010.5 657.6,2013.5 657.7,2016.5 657.8,2019.5 657.9,2022.4 657.9,2025.4 658.0,2028.4 658.1,2031.4 658.2,2034.4 658.2,2037.4 658.3,2040.4 658.4,2043.4 658.5,2046.4 658.5,2049.4 658.6,2052.3 658.7,2055.3 658.8,2058.3 658.9,2061.3" stroke="#4496d2" stroke-width="9.5" stroke-dasharray="3.3 12.4"/>
<path d="M164.7,2061.3 168.4,2061.2 172.1,2061.0 175.6,2060.6 179.0,2060.2 182.2,2059.6 185.4,2058.9 188.5,2058.1 191.5,2057.2 194.3,2056.1 197.1,2055.0 199.8,2053.8 202.5,2052.5 205.0,2051.1 207.5,2049.6 209.9,2048.1 212.2,2046.4 214.5,2044.7 216.7,2042.9 218.9,2041.1 221.0,2039.2 223.1,2037.2 225.1,2035.2 227.0,2033.1 229.0,2031.0 230.9,2028.8 232.8,2026.6 234.7,2024.4 236.5,2022.1 238.3,2019.8 240.1,2017.5 241.9,2015.1 243.7,2012.8 245.5,2010.4 247.3,2008.0 249.1,2005.6 251.0,2003.2 252.8,2000.8 254.6,1998.4 256.5,1996.1 258.4,1993.7 260.3,1991.3 262.2,1988.9 264.1,1986.5 266.0,1984.1 267.9,1981.7 269.8,1979.3 271.7,1976.9 273.7,1974.5 275.6,1972.1 277.5,1969.7 279.5,1967.3 281.4,1964.9 283.3,1962.5 285.3,1960.1 287.2,1957.7 289.1,1955.3 291.0,1952.9 292.9,1950.4 294.8,1948.0 296.7,1945.6 298.6,1943.1 300.4,1940.7 302.3,1938.2 304.1,1935.7 305.9,1933.3 307.7,1930.8 309.5,1928.3 311.3,1925.8 313.0,1923.3 314.7,1920.8 316.4,1918.3 318.1,1915.7 319.8,1913.2 321.4,1910.6 323.0,1908.1 324.6,1905.5 326.1,1902.9 327.6,1900.3 329.1,1897.7 330.6,1895.1 332.1,1892.5 333.5,1889.9 334.9,1887.2 336.3,1884.6 337.6,1881.9 339.0,1879.3 340.3,1876.6 341.6,1873.9 342.8,1871.2 344.1,1868.5 345.3,1865.8 346.5,1863.1 347.7,1860.4 348.9,1857.7 350.1,1854.9 351.2,1852.2 352.3,1849.4 353.4,1846.7 354.5,1843.9 355.6,1841.1 356.6,1838.4 357.7,1835.6 358.7,1832.8 359.7,1830.0 360.7,1827.2 361.7,1824.4 362.7,1821.6 363.7,1818.8 364.6,1816.0 365.5,1813.1 366.5,1810.3 367.4,1807.5 368.3,1804.6 369.2,1801.8 370.1,1798.9 371.0,1796.1 371.8,1793.2 372.7,1790.4 373.5,1787.5 374.4,1784.6 375.2,1781.8 376.1,1778.9 376.9,1776.0 377.7,1773.1 378.5,1770.2 379.3,1767.4 380.1,1764.5 381.0,1761.6 381.8,1758.7 382.6,1755.8 383.4,1752.9 384.1,1750.0 384.9,1747.1 385.7,1744.2 386.5,1741.3 387.3,1738.4 388.1,1735.5 388.9,1732.6 389.7,1729.7 390.5,1726.8 391.3,1723.9 392.1,1721.0 392.9,1718.1 393.7,1715.2 394.5,1712.3 395.3,1709.4 396.1,1706.5 397.0,1703.6 397.8,1700.7 398.6,1697.8 399.5,1694.9 400.3,1692.0 401.2,1689.1 402.0,1686.2 402.9,1683.3 403.8,1680.4 404.7,1677.5 405.6,1674.7 406.5,1671.8 407.4,1668.9 408.3,1666.0 409.2,1663.1 410.1,1660.2 411.0,1657.4 411.9,1654.5 412.9,1651.6 413.8,1648.7 414.8,1645.9 415.7,1643.0 416.7,1640.1 417.6,1637.3 418.6,1634.4 419.6,1631.5 420.5,1628.7 421.5,1625.8 422.5,1623.0 423.5,1620.1 424.5,1617.2 425.5,1614.4 426.5,1611.5 427.5,1608.7 428.5,1605.8 429.5,1603.0 430.5,1600.1 431.5,1597.3 432.5,1594.5 433.6,1591.6 434.6,1588.8 435.6,1585.9 436.7,1583.1 437.7,1580.3 438.7,1577.4 439.8,1574.6 440.8,1571.8 441.9,1568.9 442.9,1566.1 444.0,1563.3 445.0,1560.5 446.1,1557.6 447.1,1554.8 448.2,1552.0 449.2,1549.2 450.3,1546.4 451.4,1543.5 452.4,1540.7 453.5,1537.9 454.6,1535.1 455.6,1532.3 456.7,1529.5 457.8,1526.7 458.8,1523.9 459.9,1521.1 461.0,1518.3 462.1,1515.5 463.1,1512.7 464.2,1509.9 465.3,1507.1 466.4,1504.3 467.4,1501.5 468.5,1498.7 469.6,1495.9 470.7,1493.1 471.7,1490.4 472.8,1487.6 473.9,1484.8 475.0,1482.0 476.0,1479.2 477.1,1476.4 478.2,1473.7 479.2,1470.9 480.3,1468.1 481.4,1465.4 482.4,1462.6 483.5,1459.8 484.5,1457.0 485.6,1454.3 486.7,1451.5 487.7,1448.8 488.8,1446.0 489.8,1443.2 490.9,1440.5 491.9,1437.7 493.0,1435.0 494.0,1432.2 495.0,1429.5 496.1,1426.7 497.1,1424.0 498.1,1421.2 499.2,1418.5 500.2,1415.7 501.2,1413.0 502.2,1410.3 503.2,1407.5 504.3,1404.8 505.3,1402.0 506.3,1399.3 507.3,1396.6 508.3,1393.8 509.3,1391.1 510.3,1388.3 511.3,1385.6 512.3,1382.8 513.3,1380.0 514.3,1377.3 515.3,1374.5 516.4,1371.7 517.4,1368.9 518.4,1366.0 519.5,1363.2 520.5,1360.4 521.6,1357.5 522.6,1354.6 523.7,1351.7 524.8,1348.8 525.9,1345.9 526.9,1342.9 528.1,1340.0 529.2,1337.0 530.3,1334.0 531.4,1330.9 532.6,1327.9 533.8,1324.8 535.0,1321.7 536.2,1318.5 537.4,1315.4 538.6,1312.2 539.9,1309.0 541.2,1305.8 542.5,1302.7 543.9,1299.6 545.3,1296.5 546.7,1293.6 548.2,1290.7 549.8,1287.8 551.5,1285.1 553.2,1282.6 555.0,1280.1 556.8,1277.8 558.8,1275.7 560.8,1273.8 562.9,1272.0 565.0,1270.5 567.1,1269.2 569.3,1268.2 571.5,1267.4 573.7,1267.0 575.9,1266.8 578.1,1266.9 580.2,1267.4 582.3,1268.1 584.4,1269.0 586.5,1270.2 588.5,1271.6 590.5,1273.3 592.4,1275.1 594.3,1277.0 596.2,1279.2 598.0,1281.4 599.8,1283.8 601.5,1286.3 603.1,1288.9 604.7,1291.5 606.2,1294.2 607.6,1296.9 608.9,1299.7 610.2,1302.4 611.5,1305.2 612.6,1308.0 613.7,1310.8 614.7,1313.7 615.7,1316.5 616.7,1319.4 617.5,1322.3 618.4,1325.2 619.1,1328.1 619.9,1331.0 620.6,1334.0 621.2,1336.9 621.8,1339.9 622.4,1342.9 622.9,1345.8 623.5,1348.8 623.9,1351.8 624.4,1354.8 624.8,1357.8 625.3,1360.8 625.7,1363.9 626.1,1366.9 626.4,1369.9 626.8,1372.9 627.2,1376.0 627.5,1379.0 627.8,1382.0 628.2,1385.0 628.5,1388.1 628.9,1391.1 629.2,1394.1 629.5,1397.1 629.9,1400.2 630.2,1403.2 630.5,1406.2 630.8,1409.2 631.1,1412.3 631.5,1415.3 631.8,1418.3 632.1,1421.3 632.4,1424.3 632.7,1427.4 633.0,1430.4 633.3,1433.4 633.6,1436.4 633.9,1439.4 634.1,1442.4 634.4,1445.5 634.7,1448.5 635.0,1451.5 635.3,1454.5 635.5,1457.5 635.8,1460.5 636.1,1463.5 636.4,1466.6 636.6,1469.6 636.9,1472.6 637.1,1475.6 637.4,1478.6 637.7,1481.6 637.9,1484.6 638.1,1487.6 638.4,1490.7 638.6,1493.7 638.9,1496.7 639.1,1499.7 639.4,1502.7 639.6,1505.7 639.8,1508.7 640.0,1511.7 640.3,1514.7 640.5,1517.7 640.7,1520.7 640.9,1523.7 641.2,1526.7 641.4,1529.8 641.6,1532.8 641.8,1535.8 642.0,1538.8 642.2,1541.8 642.4,1544.8 642.6,1547.8 642.8,1550.8 643.0,1553.8 643.2,1556.8 643.4,1559.8 643.6,1562.8 643.8,1565.8 644.0,1568.8 644.2,1571.8 644.3,1574.8 644.5,1577.8 644.7,1580.8 644.9,1583.8 645.0,1586.8 645.2,1589.8 645.4,1592.8 645.6,1595.8 645.7,1598.8 645.9,1601.8 646.1,1604.8 646.2,1607.8 646.4,1610.8 646.5,1613.8 646.7,1616.8 646.8,1619.8 647.0,1622.8 647.1,1625.8 647.3,1628.8 647.4,1631.8 647.6,1634.8 647.7,1637.8 647.9,1640.8 648.0,1643.8 648.2,1646.8 648.3,1649.8 648.4,1652.8 648.6,1655.8 648.7,1658.8 648.8,1661.8 649.0,1664.8 649.1,1667.7 649.2,1670.7 649.3,1673.7 649.5,1676.7 649.6,1679.7 649.7,1682.7 649.8,1685.7 649.9,1688.7 650.0,1691.7 650.2,1694.7 650.3,1697.7 650.4,1700.7 650.5,1703.7 650.6,1706.7 650.7,1709.7 650.8,1712.7 650.9,1715.7 651.0,1718.7 651.1,1721.7 651.2,1724.7 651.3,1727.7 651.4,1730.7 651.5,1733.7 651.6,1736.6 651.7,1739.6 651.8,1742.6 651.9,1745.6 652.0,1748.6 652.1,1751.6 652.2,1754.6 652.3,1757.6 652.4,1760.6 652.5,1763.6 652.5,1766.6 652.6,1769.6 652.7,1772.6 652.8,1775.6 652.9,1778.6 653.0,1781.6 653.0,1784.6 653.1,1787.6 653.2,1790.6 653.3,1793.6 653.4,1796.6 653.4,1799.6 653.5,1802.6 653.6,1805.6 653.7,1808.6 653.7,1811.5 653.8,1814.5 653.9,1817.5 653.9,1820.5 654.0,1823.5 654.1,1826.5 654.2,1829.5 654.2,1832.5 654.3,1835.5 654.4,1838.5 654.4,1841.5 654.5,1844.5 654.6,1847.5 654.6,1850.5 654.7,1853.5 654.8,1856.5 654.8,1859.5 654.9,1862.5 654.9,1865.5 655.0,1868.5 655.1,1871.5 655.1,1874.5 655.2,1877.5 655.3,1880.5 655.3,1883.5 655.4,1886.5 655.4,1889.5 655.5,1892.5 655.6,1895.6 655.6,1898.6 655.7,1901.6 655.7,1904.6 655.8,1907.6 655.8,1910.6 655.9,1913.6 656.0,1916.6 656.0,1919.6 656.1,1922.6 656.1,1925.6 656.2,1928.6 656.2,1931.6 656.3,1934.6 656.4,1937.6 656.4,1940.6 656.5,1943.6 656.5,1946.7 656.6,1949.7 656.6,1952.7 656.7,1955.7 656.8,1958.7 656.8,1961.7 656.9,1964.7 656.9,1967.7 657.0,1970.7 657.0,1973.8 657.1,1976.8 657.2,1979.8 657.2,1982.8 657.3,1985.8 657.3,1988.8 657.4,1991.8 657.5,1994.8 657.5,1997.9 657.6,2000.9 657.6,2003.9 657.7,2006.9 657.8,2009.9 657.8,2012.9 657.9,2016.0 657.9,2019.0 658.0,2022.0 658.1,2025.0 658.1,2028.0 658.2,2031.1 658.3,2034.1 658.3,2037.1 658.4,2040.1 658.5,2043.2 658.5,2046.2 658.6,2049.2 658.7,2052.2 658.7,2055.2 658.8,2058.3 658.9,2061.3" stroke="#4496d2" stroke-width="5" stroke-dasharray="17.7 7.5"/>
<path d="M164.7,2061.3 168.1,2061.2 171.4,2061.1 174.6,2060.9 177.9,2060.6 181.0,2060.3 184.2,2059.8 187.3,2059.4 190.4,2058.8 193.4,2058.2 196.4,2057.5 199.4,2056.8 202.3,2056.0 205.2,2055.2 208.0,2054.3 210.9,2053.3 213.7,2052.3 216.4,2051.2 219.1,2050.1 221.8,2048.9 224.5,2047.7 227.2,2046.4 229.8,2045.1 232.4,2043.7 234.9,2042.3 237.4,2040.8 240.0,2039.3 242.4,2037.8 244.9,2036.2 247.3,2034.6 249.7,2032.9 252.1,2031.2 254.5,2029.5 256.9,2027.7 259.2,2025.9 261.5,2024.1 263.8,2022.2 266.1,2020.4 268.3,2018.4 270.6,2016.5 272.8,2014.5 275.0,2012.5 277.2,2010.5 279.4,2008.5 281.6,2006.4 283.7,2004.3 285.9,2002.2 288.0,2000.1 290.1,1997.9 292.2,1995.8 294.4,1993.6 296.5,1991.5 298.5,1989.3 300.6,1987.1 302.7,1984.9 304.8,1982.7 306.9,1980.4 308.9,1978.2 311.0,1976.0 313.1,1973.7 315.1,1971.5 317.2,1969.3 319.2,1967.0 321.3,1964.8 323.4,1962.6 325.4,1960.3 327.5,1958.1 329.5,1955.9 331.6,1953.7 333.7,1951.4 335.7,1949.2 337.8,1947.0 339.8,1944.8 341.9,1942.5 343.9,1940.3 346.0,1938.1 348.0,1935.8 350.1,1933.6 352.1,1931.4 354.2,1929.2 356.2,1927.0 358.3,1924.7 360.3,1922.5 362.4,1920.3 364.4,1918.0 366.4,1915.8 368.5,1913.6 370.5,1911.4 372.5,1909.1 374.6,1906.9 376.6,1904.7 378.6,1902.4 380.7,1900.2 382.7,1898.0 384.7,1895.8 386.7,1893.5 388.7,1891.3 390.7,1889.0 392.7,1886.8 394.7,1884.6 396.7,1882.3 398.7,1880.1 400.7,1877.8 402.7,1875.6 404.7,1873.3 406.7,1871.1 408.7,1868.8 410.7,1866.6 412.6,1864.3 414.6,1862.1 416.6,1859.8 418.6,1857.6 420.5,1855.3 422.5,1853.0 424.4,1850.8 426.4,1848.5 428.3,1846.2 430.3,1843.9 432.2,1841.6 434.1,1839.4 436.1,1837.1 438.0,1834.8 439.9,1832.5 441.8,1830.2 443.7,1827.9 445.6,1825.6 447.5,1823.3 449.4,1821.0 451.3,1818.7 453.2,1816.4 455.1,1814.1 456.9,1811.7 458.8,1809.4 460.7,1807.1 462.5,1804.8 464.4,1802.4 466.3,1800.1 468.1,1797.8 470.0,1795.4 471.8,1793.1 473.7,1790.8 475.6,1788.4 477.4,1786.1 479.3,1783.7 481.1,1781.4 483.0,1779.1 484.9,1776.7 486.7,1774.4 488.6,1772.1 490.5,1769.7 492.4,1767.4 494.3,1765.1 496.2,1762.7 498.1,1760.4 500.0,1758.1 501.9,1755.8 503.8,1753.4 505.7,1751.1 507.7,1748.8 509.6,1746.5 511.6,1744.2 513.5,1741.9 515.5,1739.6 517.5,1737.3 519.5,1735.0 521.5,1732.7 523.5,1730.5 525.6,1728.2 527.6,1725.9 529.7,1723.7 531.8,1721.4 533.9,1719.2 536.0,1716.9 538.1,1714.7 540.2,1712.5 542.4,1710.3 544.6,1708.1 546.7,1705.9 549.0,1703.7 551.2,1701.5 553.4,1699.3 555.7,1697.2 558.0,1695.0 560.3,1692.9 562.6,1690.8 564.9,1688.7 567.2,1686.7 569.6,1684.6 572.0,1682.6 574.3,1680.7 576.8,1678.7 579.2,1676.8 581.6,1674.9 584.1,1673.0 586.5,1671.2 589.0,1669.4 591.5,1667.7 594.0,1666.0 596.5,1664.4 599.0,1662.7 601.6,1661.2 604.1,1659.6 606.7,1658.2 609.3,1656.8 611.9,1655.4 614.5,1654.1 617.1,1652.8 619.7,1651.6 622.4,1650.5 625.0,1649.4 627.7,1648.3 630.3,1647.4 633.0,1646.5 635.7,1645.7 638.4,1644.9 641.1,1644.2 643.8,1643.6 646.6,1643.1 649.3,1642.6 652.1,1642.2 654.8,1641.9 657.6,1641.7 660.4,1641.5 663.1,1641.4 665.9,1641.5 668.7,1641.6 671.5,1641.8 674.3,1642.0 677.2,1642.4 680.0,1642.8 682.8,1643.3 685.6,1643.8 688.4,1644.5 691.2,1645.2 694.0,1645.9 696.8,1646.8 699.6,1647.7 702.4,1648.7 705.2,1649.7 708.0,1650.8 710.8,1651.9 713.5,1653.1 716.3,1654.4 719.0,1655.7 721.7,1657.1 724.4,1658.5 727.1,1660.0 729.8,1661.5 732.4,1663.1 735.1,1664.7 737.7,1666.3 740.3,1668.0 742.8,1669.7 745.4,1671.5 747.9,1673.3 750.4,1675.1 752.8,1677.0 755.3,1678.9 757.7,1680.9 760.1,1682.8 762.4,1684.8 764.7,1686.8 767.0,1688.9 769.3,1690.9 771.5,1693.0 773.7,1695.1 775.8,1697.2 778.0,1699.4 780.1,1701.6 782.2,1703.8 784.2,1706.0 786.3,1708.2 788.3,1710.5 790.2,1712.8 792.2,1715.1 794.1,1717.4 796.0,1719.7 797.9,1722.1 799.8,1724.4 801.6,1726.8 803.5,1729.2 805.3,1731.6 807.1,1734.1 808.8,1736.5 810.6,1739.0 812.3,1741.4 814.1,1743.9 815.8,1746.4 817.5,1748.9 819.1,1751.4 820.8,1753.9 822.4,1756.5 824.1,1759.0 825.7,1761.6 827.3,1764.1 828.9,1766.7 830.5,1769.3 832.1,1771.9 833.7,1774.5 835.3,1777.1 836.8,1779.7 838.4,1782.3 840.0,1784.9 841.5,1787.5 843.0,1790.1 844.6,1792.7 846.1,1795.4 847.7,1798.0 849.2,1800.6 850.7,1803.3 852.2,1805.9 853.8,1808.5 855.3,1811.1 856.8,1813.8 858.4,1816.4 859.9,1819.0 861.4,1821.6 863.0,1824.2 864.5,1826.9 866.1,1829.5 867.6,1832.1 869.1,1834.7 870.7,1837.3 872.2,1839.9 873.7,1842.5 875.3,1845.1 876.8,1847.7 878.3,1850.4 879.9,1853.0 881.4,1855.6 882.9,1858.2 884.4,1860.8 885.9,1863.4 887.4,1866.0 888.9,1868.6 890.4,1871.3 891.9,1873.9 893.4,1876.5 894.9,1879.1 896.3,1881.7 897.8,1884.4 899.3,1887.0 900.7,1889.6 902.1,1892.2 903.6,1894.9 905.0,1897.5 906.4,1900.2 907.8,1902.8 909.2,1905.5 910.6,1908.1 911.9,1910.8 913.3,1913.4 914.6,1916.1 916.0,1918.7 917.3,1921.4 918.6,1924.1 919.9,1926.8 921.1,1929.5 922.4,1932.2 923.7,1934.9 924.9,1937.6 926.1,1940.3 927.3,1943.0 928.5,1945.7 929.7,1948.4 930.8,1951.2 932.0,1953.9 933.1,1956.6 934.2,1959.4 935.3,1962.1 936.3,1964.9 937.4,1967.7 938.4,1970.5 939.4,1973.3 940.4,1976.1 941.4,1978.9 942.3,1981.7 943.2,1984.5 944.1,1987.3 945.0,1990.2 945.9,1993.0 946.7,1995.9 947.5,1998.7 948.3,2001.6 949.0,2004.5 949.8,2007.4 950.5,2010.3 951.2,2013.2 951.9,2016.1 952.5,2019.1 953.1,2022.0 953.7,2025.0 954.2,2027.9 954.8,2030.9 955.3,2033.9 955.8,2036.9 956.2,2039.9 956.6,2042.9 957.0,2045.9 957.4,2049.0 957.7,2052.1 958.0,2055.1 958.3,2058.2 958.5,2061.3" stroke="#008c00" stroke-width="5"/>
<path d="M164.7,2061.3 168.0,2061.2 171.2,2061.0 174.5,2060.8 177.6,2060.5 180.8,2060.1 183.9,2059.6 187.0,2059.1 190.0,2058.6 193.0,2057.9 196.0,2057.3 198.9,2056.5 201.9,2055.7 204.7,2054.8 207.6,2053.9 210.4,2052.9 213.2,2051.9 216.0,2050.8 218.7,2049.7 221.4,2048.5 224.1,2047.3 226.7,2046.0 229.4,2044.7 232.0,2043.3 234.6,2041.9 237.1,2040.4 239.6,2038.9 242.2,2037.4 244.6,2035.8 247.1,2034.2 249.5,2032.6 252.0,2030.9 254.4,2029.1 256.8,2027.4 259.1,2025.6 261.5,2023.8 263.8,2021.9 266.1,2020.0 268.4,2018.1 270.7,2016.2 272.9,2014.2 275.2,2012.3 277.4,2010.2 279.6,2008.2 281.8,2006.2 284.0,2004.1 286.2,2002.0 288.4,1999.9 290.6,1997.8 292.7,1995.7 294.8,1993.5 297.0,1991.3 299.1,1989.2 301.2,1987.0 303.3,1984.8 305.4,1982.6 307.5,1980.4 309.6,1978.2 311.7,1976.0 313.7,1973.7 315.8,1971.5 317.9,1969.3 319.9,1967.1 322.0,1964.9 324.1,1962.6 326.1,1960.4 328.2,1958.2 330.2,1956.0 332.3,1953.8 334.3,1951.5 336.4,1949.3 338.4,1947.1 340.4,1944.9 342.5,1942.7 344.5,1940.4 346.5,1938.2 348.6,1936.0 350.6,1933.8 352.6,1931.6 354.6,1929.3 356.6,1927.1 358.7,1924.9 360.7,1922.7 362.7,1920.4 364.7,1918.2 366.7,1916.0 368.7,1913.8 370.7,1911.5 372.7,1909.3 374.7,1907.1 376.7,1904.8 378.7,1902.6 380.7,1900.4 382.6,1898.1 384.6,1895.9 386.6,1893.6 388.6,1891.4 390.6,1889.1 392.5,1886.9 394.5,1884.7 396.5,1882.4 398.5,1880.1 400.4,1877.9 402.4,1875.6 404.3,1873.4 406.3,1871.1 408.3,1868.9 410.2,1866.6 412.2,1864.3 414.1,1862.0 416.1,1859.8 418.0,1857.5 420.0,1855.2 421.9,1852.9 423.9,1850.6 425.8,1848.4 427.7,1846.1 429.7,1843.8 431.6,1841.5 433.6,1839.2 435.5,1836.9 437.4,1834.6 439.4,1832.2 441.3,1829.9 443.2,1827.6 445.1,1825.3 447.1,1823.0 449.0,1820.6 450.9,1818.3 452.8,1816.0 454.7,1813.6 456.7,1811.3 458.6,1808.9 460.5,1806.6 462.4,1804.2 464.3,1801.9 466.3,1799.5 468.2,1797.2 470.1,1794.8 472.0,1792.5 474.0,1790.1 475.9,1787.8 477.8,1785.4 479.8,1783.1 481.7,1780.8 483.7,1778.4 485.6,1776.1 487.6,1773.8 489.6,1771.4 491.6,1769.1 493.5,1766.8 495.5,1764.5 497.5,1762.2 499.6,1760.0 501.6,1757.7 503.6,1755.4 505.6,1753.2 507.7,1750.9 509.8,1748.7 511.8,1746.5 513.9,1744.3 516.0,1742.1 518.1,1739.9 520.2,1737.7 522.4,1735.5 524.5,1733.4 526.7,1731.3 528.9,1729.1 531.1,1727.0 533.3,1725.0 535.5,1722.9 537.8,1720.8 540.0,1718.8 542.3,1716.8 544.6,1714.8 546.9,1712.8 549.2,1710.9 551.6,1708.9 553.9,1707.0 556.3,1705.1 558.7,1703.3 561.2,1701.4 563.6,1699.6 566.1,1697.8 568.6,1696.0 571.1,1694.2 573.7,1692.5 576.2,1690.8 578.8,1689.2 581.4,1687.5 584.0,1685.9 586.6,1684.3 589.3,1682.8 591.9,1681.3 594.6,1679.8 597.3,1678.3 600.0,1676.9 602.7,1675.6 605.5,1674.3 608.2,1673.0 611.0,1671.7 613.8,1670.5 616.6,1669.4 619.3,1668.3 622.2,1667.2 625.0,1666.2 627.8,1665.2 630.6,1664.3 633.5,1663.4 636.3,1662.6 639.1,1661.9 642.0,1661.2 644.9,1660.5 647.7,1659.9 650.6,1659.4 653.5,1658.9 656.3,1658.5 659.2,1658.1 662.1,1657.8 665.0,1657.6 667.9,1657.4 670.7,1657.3 673.6,1657.3 676.5,1657.3 679.4,1657.4 682.2,1657.6 685.1,1657.8 688.0,1658.1 690.8,1658.4 693.7,1658.9 696.5,1659.3 699.4,1659.9 702.2,1660.5 705.0,1661.2 707.8,1661.9 710.6,1662.6 713.4,1663.5 716.2,1664.4 719.0,1665.3 721.7,1666.3 724.5,1667.3 727.2,1668.4 729.9,1669.6 732.6,1670.8 735.3,1672.0 737.9,1673.3 740.6,1674.6 743.2,1676.0 745.8,1677.4 748.4,1678.9 751.0,1680.4 753.5,1681.9 756.0,1683.5 758.5,1685.1 761.0,1686.8 763.4,1688.5 765.9,1690.2 768.3,1692.0 770.6,1693.8 773.0,1695.7 775.3,1697.6 777.6,1699.5 779.9,1701.4 782.2,1703.4 784.4,1705.4 786.7,1707.4 788.9,1709.5 791.1,1711.5 793.2,1713.7 795.4,1715.8 797.5,1718.0 799.6,1720.2 801.7,1722.4 803.8,1724.6 805.8,1726.9 807.9,1729.1 809.9,1731.4 811.9,1733.8 813.9,1736.1 815.9,1738.5 817.8,1740.8 819.8,1743.2 821.7,1745.6 823.6,1748.1 825.5,1750.5 827.4,1752.9 829.3,1755.4 831.2,1757.9 833.0,1760.4 834.9,1762.9 836.7,1765.4 838.5,1767.9 840.3,1770.4 842.2,1773.0 843.9,1775.5 845.7,1778.0 847.5,1780.6 849.3,1783.1 851.0,1785.7 852.8,1788.3 854.5,1790.8 856.3,1793.4 858.0,1796.0 859.7,1798.5 861.4,1801.1 863.1,1803.6 864.8,1806.2 866.5,1808.8 868.2,1811.3 869.9,1813.9 871.6,1816.5 873.3,1819.0 874.9,1821.6 876.6,1824.2 878.2,1826.7 879.8,1829.3 881.4,1831.9 883.1,1834.5 884.7,1837.0 886.2,1839.6 887.8,1842.2 889.4,1844.8 891.0,1847.3 892.5,1849.9 894.0,1852.5 895.6,1855.1 897.1,1857.7 898.6,1860.3 900.1,1862.9 901.5,1865.5 903.0,1868.1 904.4,1870.7 905.9,1873.3 907.3,1876.0 908.7,1878.6 910.1,1881.2 911.5,1883.8 912.9,1886.5 914.2,1889.1 915.5,1891.8 916.9,1894.4 918.2,1897.1 919.4,1899.7 920.7,1902.4 922.0,1905.1 923.2,1907.7 924.4,1910.4 925.6,1913.1 926.8,1915.8 928.0,1918.5 929.1,1921.2 930.3,1923.9 931.4,1926.6 932.5,1929.4 933.6,1932.1 934.6,1934.8 935.7,1937.6 936.7,1940.3 937.7,1943.1 938.7,1945.9 939.6,1948.6 940.6,1951.4 941.5,1954.2 942.4,1957.0 943.2,1959.8 944.1,1962.7 944.9,1965.5 945.7,1968.3 946.5,1971.2 947.3,1974.0 948.0,1976.9 948.7,1979.7 949.4,1982.6 950.1,1985.5 950.8,1988.4 951.4,1991.3 952.0,1994.2 952.6,1997.2 953.1,2000.1 953.6,2003.1 954.1,2006.0 954.6,2009.0 955.1,2012.0 955.5,2015.0 955.9,2018.0 956.2,2021.0 956.6,2024.0 956.9,2027.1 957.2,2030.1 957.4,2033.2 957.7,2036.3 957.9,2039.3 958.0,2042.4 958.2,2045.6 958.3,2048.7 958.4,2051.8 958.5,2055.0 958.5,2058.1 958.5,2061.3" stroke="#008c00" stroke-width="9.5" stroke-dasharray="3.3 12.4"/>
<path d="M164.7,2061.3 167.9,2061.5 171.1,2061.7 174.3,2061.8 177.4,2061.9 180.5,2061.9 183.7,2061.9 186.8,2061.8 189.8,2061.7 192.9,2061.5 196.0,2061.3 199.0,2061.1 202.0,2060.8 205.0,2060.5 208.0,2060.1 211.0,2059.7 214.0,2059.2 216.9,2058.7 219.9,2058.2 222.8,2057.6 225.7,2057.0 228.6,2056.3 231.5,2055.6 234.4,2054.9 237.2,2054.2 240.1,2053.4 242.9,2052.5 245.7,2051.7 248.6,2050.8 251.4,2049.8 254.1,2048.9 256.9,2047.9 259.7,2046.8 262.4,2045.8 265.2,2044.7 267.9,2043.6 270.6,2042.4 273.3,2041.3 276.0,2040.1 278.7,2038.8 281.4,2037.6 284.1,2036.3 286.8,2035.0 289.4,2033.7 292.1,2032.3 294.7,2030.9 297.3,2029.5 299.9,2028.1 302.5,2026.7 305.2,2025.2 307.7,2023.7 310.3,2022.2 312.9,2020.7 315.5,2019.2 318.1,2017.6 320.6,2016.1 323.2,2014.5 325.7,2012.9 328.3,2011.3 330.8,2009.6 333.3,2008.0 335.8,2006.3 338.4,2004.7 340.9,2003.0 343.4,2001.3 345.9,1999.6 348.4,1997.9 350.9,1996.1 353.4,1994.4 355.8,1992.7 358.3,1990.9 360.8,1989.2 363.3,1987.4 365.8,1985.6 368.2,1983.9 370.7,1982.1 373.1,1980.3 375.6,1978.5 378.0,1976.7 380.5,1974.9 382.9,1973.1 385.4,1971.3 387.8,1969.5 390.2,1967.6 392.6,1965.8 395.0,1963.9 397.5,1962.1 399.9,1960.2 402.3,1958.4 404.6,1956.5 407.0,1954.6 409.4,1952.7 411.8,1950.8 414.1,1948.9 416.5,1947.0 418.8,1945.1 421.2,1943.1 423.5,1941.2 425.8,1939.3 428.1,1937.3 430.4,1935.3 432.7,1933.4 435.0,1931.4 437.3,1929.4 439.6,1927.4 441.8,1925.4 444.1,1923.4 446.3,1921.4 448.6,1919.3 450.8,1917.3 453.0,1915.2 455.2,1913.2 457.4,1911.1 459.6,1909.0 461.7,1907.0 463.9,1904.9 466.1,1902.7 468.2,1900.6 470.3,1898.5 472.4,1896.4 474.5,1894.2 476.6,1892.1 478.7,1889.9 480.8,1887.7 482.8,1885.5 484.9,1883.3 486.9,1881.1 488.9,1878.9 490.9,1876.7 492.9,1874.5 494.8,1872.2 496.8,1869.9 498.8,1867.7 500.7,1865.4 502.6,1863.1 504.5,1860.8 506.4,1858.5 508.3,1856.2 510.2,1853.8 512.0,1851.5 513.9,1849.2 515.7,1846.8 517.5,1844.4 519.3,1842.1 521.1,1839.7 522.9,1837.3 524.7,1834.9 526.5,1832.5 528.3,1830.1 530.1,1827.7 531.8,1825.3 533.6,1822.9 535.3,1820.4 537.1,1818.0 538.8,1815.6 540.5,1813.1 542.2,1810.7 543.9,1808.2 545.7,1805.8 547.4,1803.3 549.1,1800.8 550.8,1798.4 552.5,1795.9 554.2,1793.4 555.8,1791.0 557.5,1788.5 559.2,1786.0 560.9,1783.5 562.6,1781.1 564.3,1778.6 566.0,1776.1 567.6,1773.6 569.3,1771.1 571.0,1768.7 572.7,1766.2 574.4,1763.7 576.1,1761.2 577.8,1758.7 579.4,1756.3 581.1,1753.8 582.8,1751.3 584.5,1748.8 586.2,1746.4 587.9,1743.9 589.7,1741.4 591.4,1739.0 593.1,1736.5 594.8,1734.1 596.6,1731.6 598.3,1729.2 600.0,1726.7 601.8,1724.3 603.6,1721.9 605.3,1719.5 607.1,1717.0 608.9,1714.6 610.7,1712.2 612.5,1709.8 614.3,1707.4 616.1,1705.0 617.9,1702.6 619.8,1700.3 621.6,1697.9 623.5,1695.6 625.3,1693.2 627.2,1690.9 629.1,1688.5 631.0,1686.2 633.0,1683.9 634.9,1681.6 636.8,1679.3 638.8,1677.0 640.8,1674.7 642.8,1672.5 644.8,1670.2 646.8,1668.0 648.8,1665.7 650.9,1663.5 652.9,1661.3 655.0,1659.1 657.1,1656.9 659.2,1654.8 661.4,1652.6 663.5,1650.5 665.7,1648.3 667.9,1646.2 670.1,1644.1 672.3,1642.0 674.5,1639.9 676.8,1637.9 679.1,1635.8 681.4,1633.8 683.7,1631.8 686.1,1629.8 688.4,1627.8 690.8,1625.8 693.2,1623.9 695.7,1622.0 698.1,1620.0 700.6,1618.1 703.1,1616.3 705.7,1614.4 708.2,1612.6 710.8,1610.8 713.4,1609.0 716.0,1607.3 718.6,1605.6 721.3,1603.9 723.9,1602.3 726.6,1600.7 729.3,1599.2 732.0,1597.8 734.7,1596.3 737.5,1595.0 740.2,1593.7 743.0,1592.5 745.8,1591.4 748.5,1590.3 751.3,1589.3 754.1,1588.4 757.0,1587.6 759.8,1586.9 762.6,1586.2 765.4,1585.7 768.3,1585.2 771.1,1584.8 774.0,1584.6 776.8,1584.4 779.6,1584.3 782.4,1584.3 785.2,1584.5 788.0,1584.7 790.8,1585.0 793.5,1585.4 796.3,1585.9 798.9,1586.5 801.6,1587.2 804.2,1588.0 806.8,1588.9 809.3,1589.9 811.8,1591.0 814.3,1592.2 816.7,1593.5 819.1,1594.9 821.4,1596.4 823.7,1597.9 825.9,1599.6 828.1,1601.3 830.3,1603.1 832.4,1605.0 834.5,1606.9 836.6,1608.9 838.6,1611.0 840.6,1613.1 842.5,1615.3 844.4,1617.6 846.3,1619.9 848.2,1622.3 850.0,1624.7 851.8,1627.2 853.5,1629.7 855.2,1632.2 856.9,1634.8 858.6,1637.4 860.3,1640.1 861.9,1642.7 863.5,1645.5 865.0,1648.2 866.6,1650.9 868.1,1653.7 869.6,1656.5 871.0,1659.3 872.5,1662.1 873.9,1665.0 875.3,1667.8 876.7,1670.6 878.1,1673.4 879.4,1676.3 880.7,1679.1 882.0,1682.0 883.3,1684.8 884.6,1687.6 885.9,1690.5 887.1,1693.3 888.3,1696.2 889.5,1699.0 890.7,1701.9 891.9,1704.7 893.0,1707.6 894.1,1710.5 895.2,1713.3 896.3,1716.2 897.4,1719.0 898.5,1721.9 899.5,1724.8 900.6,1727.6 901.6,1730.5 902.6,1733.4 903.6,1736.3 904.5,1739.1 905.5,1742.0 906.4,1744.9 907.3,1747.8 908.3,1750.7 909.1,1753.6 910.0,1756.4 910.9,1759.3 911.7,1762.2 912.6,1765.1 913.4,1768.0 914.2,1770.9 915.0,1773.8 915.8,1776.7 916.6,1779.6 917.3,1782.5 918.1,1785.4 918.8,1788.3 919.6,1791.2 920.3,1794.2 921.0,1797.1 921.7,1800.0 922.3,1802.9 923.0,1805.8 923.7,1808.7 924.3,1811.7 924.9,1814.6 925.6,1817.5 926.2,1820.4 926.8,1823.4 927.4,1826.3 928.0,1829.2 928.5,1832.1 929.1,1835.1 929.6,1838.0 930.2,1840.9 930.7,1843.9 931.3,1846.8 931.8,1849.8 932.3,1852.7 932.8,1855.6 933.3,1858.6 933.8,1861.5 934.3,1864.5 934.7,1867.4 935.2,1870.4 935.7,1873.3 936.1,1876.3 936.6,1879.2 937.0,1882.2 937.4,1885.1 937.9,1888.1 938.3,1891.1 938.7,1894.0 939.1,1897.0 939.5,1899.9 939.9,1902.9 940.3,1905.9 940.7,1908.8 941.1,1911.8 941.5,1914.8 941.9,1917.7 942.2,1920.7 942.6,1923.7 943.0,1926.6 943.3,1929.6 943.7,1932.6 944.0,1935.6 944.4,1938.5 944.7,1941.5 945.1,1944.5 945.4,1947.5 945.8,1950.5 946.1,1953.4 946.5,1956.4 946.8,1959.4 947.1,1962.4 947.5,1965.4 947.8,1968.4 948.1,1971.3 948.5,1974.3 948.8,1977.3 949.1,1980.3 949.4,1983.3 949.8,1986.3 950.1,1989.3 950.4,1992.3 950.8,1995.3 951.1,1998.3 951.4,2001.3 951.8,2004.2 952.1,2007.2 952.4,2010.2 952.8,2013.2 953.1,2016.2 953.4,2019.2 953.8,2022.2 954.1,2025.2 954.5,2028.2 954.8,2031.2 955.2,2034.2 955.5,2037.2 955.9,2040.3 956.2,2043.3 956.6,2046.3 957.0,2049.3 957.4,2052.3 957.7,2055.3 958.1,2058.3 958.5,2061.3" stroke="#008c00" stroke-width="5" stroke-dasharray="17.7 7.5"/>
<path d="M164.7,2061.3 167.9,2061.4 171.0,2061.4 174.2,2061.3 177.3,2061.2 180.4,2061.1 183.4,2060.8 186.5,2060.6 189.5,2060.3 192.6,2059.9 195.6,2059.4 198.5,2059.0 201.5,2058.4 204.4,2057.8 207.4,2057.2 210.3,2056.5 213.2,2055.8 216.0,2055.0 218.9,2054.2 221.7,2053.3 224.6,2052.4 227.4,2051.4 230.1,2050.4 232.9,2049.4 235.7,2048.3 238.4,2047.2 241.1,2046.0 243.8,2044.8 246.5,2043.6 249.2,2042.3 251.8,2041.0 254.5,2039.6 257.1,2038.2 259.7,2036.8 262.3,2035.3 264.9,2033.8 267.5,2032.3 270.0,2030.8 272.5,2029.2 275.1,2027.6 277.6,2025.9 280.1,2024.2 282.6,2022.5 285.0,2020.8 287.5,2019.1 289.9,2017.3 292.3,2015.5 294.8,2013.7 297.2,2011.8 299.6,2009.9 301.9,2008.0 304.3,2006.1 306.6,2004.2 309.0,2002.2 311.3,2000.3 313.6,1998.3 315.9,1996.3 318.2,1994.2 320.5,1992.2 322.8,1990.2 325.1,1988.1 327.3,1986.0 329.6,1983.9 331.8,1981.8 334.0,1979.7 336.2,1977.6 338.4,1975.5 340.6,1973.3 342.8,1971.2 345.0,1969.0 347.1,1966.9 349.3,1964.7 351.4,1962.5 353.6,1960.4 355.7,1958.2 357.8,1956.0 359.9,1953.9 362.0,1951.7 364.1,1949.5 366.2,1947.3 368.3,1945.2 370.4,1943.0 372.4,1940.8 374.5,1938.6 376.5,1936.5 378.6,1934.3 380.6,1932.1 382.7,1930.0 384.7,1927.8 386.7,1925.6 388.8,1923.5 390.8,1921.3 392.8,1919.1 394.8,1917.0 396.8,1914.8 398.8,1912.6 400.8,1910.5 402.8,1908.3 404.8,1906.2 406.8,1904.0 408.8,1901.8 410.8,1899.7 412.8,1897.5 414.8,1895.4 416.8,1893.2 418.8,1891.0 420.8,1888.9 422.7,1886.7 424.7,1884.6 426.7,1882.4 428.7,1880.3 430.7,1878.1 432.7,1876.0 434.7,1873.8 436.7,1871.6 438.7,1869.5 440.7,1867.3 442.7,1865.2 444.8,1863.0 446.8,1860.9 448.8,1858.7 450.8,1856.6 452.8,1854.4 454.9,1852.3 456.9,1850.1 459.0,1848.0 461.0,1845.8 463.1,1843.7 465.2,1841.5 467.2,1839.4 469.3,1837.2 471.4,1835.1 473.5,1832.9 475.6,1830.8 477.7,1828.6 479.8,1826.5 481.9,1824.4 484.1,1822.2 486.2,1820.1 488.4,1817.9 490.5,1815.8 492.7,1813.6 494.9,1811.5 497.1,1809.3 499.3,1807.2 501.5,1805.0 503.8,1802.9 506.0,1800.8 508.2,1798.6 510.5,1796.5 512.8,1794.4 515.1,1792.2 517.4,1790.1 519.7,1788.0 522.0,1785.9 524.3,1783.8 526.6,1781.7 529.0,1779.7 531.3,1777.6 533.7,1775.5 536.1,1773.5 538.5,1771.5 540.9,1769.4 543.3,1767.4 545.7,1765.4 548.1,1763.5 550.5,1761.5 553.0,1759.6 555.4,1757.6 557.9,1755.7 560.4,1753.8 562.9,1751.9 565.4,1750.1 567.9,1748.3 570.4,1746.4 572.9,1744.6 575.5,1742.9 578.0,1741.1 580.6,1739.4 583.1,1737.7 585.7,1736.0 588.3,1734.4 590.9,1732.7 593.5,1731.2 596.1,1729.6 598.8,1728.0 601.4,1726.5 604.0,1725.0 606.7,1723.6 609.3,1722.2 612.0,1720.8 614.7,1719.4 617.4,1718.1 620.1,1716.8 622.8,1715.5 625.5,1714.3 628.3,1713.1 631.0,1712.0 633.7,1710.8 636.5,1709.8 639.3,1708.7 642.0,1707.7 644.8,1706.8 647.6,1705.8 650.4,1705.0 653.2,1704.1 656.0,1703.3 658.9,1702.6 661.7,1701.9 664.6,1701.2 667.4,1700.6 670.3,1700.0 673.2,1699.5 676.0,1699.0 678.9,1698.6 681.8,1698.2 684.7,1697.8 687.6,1697.5 690.5,1697.3 693.4,1697.1 696.4,1696.9 699.3,1696.8 702.2,1696.7 705.1,1696.7 708.0,1696.7 711.0,1696.8 713.9,1696.9 716.8,1697.1 719.7,1697.3 722.6,1697.6 725.5,1697.9 728.4,1698.3 731.3,1698.7 734.2,1699.1 737.0,1699.6 739.9,1700.2 742.8,1700.7 745.6,1701.4 748.4,1702.1 751.3,1702.8 754.1,1703.6 756.9,1704.4 759.7,1705.3 762.4,1706.2 765.2,1707.2 767.9,1708.2 770.7,1709.3 773.4,1710.4 776.0,1711.6 778.7,1712.8 781.4,1714.1 784.0,1715.4 786.6,1716.7 789.2,1718.1 791.8,1719.5 794.3,1721.0 796.9,1722.5 799.4,1724.1 801.9,1725.7 804.4,1727.3 806.9,1729.0 809.4,1730.7 811.8,1732.4 814.2,1734.2 816.7,1736.0 819.1,1737.8 821.5,1739.7 823.8,1741.6 826.2,1743.5 828.5,1745.4 830.9,1747.4 833.2,1749.4 835.5,1751.4 837.8,1753.4 840.1,1755.5 842.4,1757.6 844.6,1759.7 846.9,1761.8 849.1,1763.9 851.3,1766.1 853.6,1768.3 855.8,1770.4 858.0,1772.6 860.1,1774.8 862.3,1777.0 864.5,1779.3 866.7,1781.5 868.8,1783.7 870.9,1786.0 873.1,1788.2 875.2,1790.5 877.3,1792.7 879.4,1795.0 881.5,1797.3 883.6,1799.5 885.7,1801.8 887.8,1804.0 889.9,1806.3 892.0,1808.6 894.0,1810.8 896.1,1813.0 898.2,1815.3 900.2,1817.5 902.3,1819.8 904.3,1822.0 906.3,1824.2 908.4,1826.4 910.4,1828.6 912.4,1830.9 914.4,1833.1 916.4,1835.3 918.5,1837.5 920.5,1839.7 922.5,1841.9 924.5,1844.2 926.4,1846.4 928.4,1848.6 930.4,1850.8 932.4,1853.0 934.4,1855.2 936.3,1857.4 938.3,1859.7 940.3,1861.9 942.2,1864.1 944.2,1866.3 946.1,1868.6 948.1,1870.8 950.0,1873.0 951.9,1875.3 953.9,1877.5 955.8,1879.8 957.8,1882.0 959.7,1884.3 961.6,1886.5 963.5,1888.8 965.4,1891.1 967.4,1893.4 969.3,1895.7 971.2,1897.9 973.1,1900.2 975.0,1902.6 976.9,1904.9 978.8,1907.2 980.7,1909.5 982.6,1911.9 984.5,1914.2 986.4,1916.6 988.3,1918.9 990.2,1921.3 992.1,1923.7 994.0,1926.1 995.9,1928.5 997.7,1930.9 999.6,1933.3 1001.5,1935.7 1003.4,1938.1 1005.3,1940.5 1007.2,1942.9 1009.1,1945.3 1011.0,1947.7 1012.9,1950.1 1014.9,1952.5 1016.8,1954.9 1018.7,1957.3 1020.6,1959.7 1022.6,1962.0 1024.5,1964.4 1026.5,1966.8 1028.4,1969.1 1030.4,1971.5 1032.4,1973.8 1034.4,1976.1 1036.4,1978.4 1038.4,1980.7 1040.4,1983.0 1042.4,1985.2 1044.4,1987.5 1046.5,1989.7 1048.5,1991.9 1050.6,1994.1 1052.7,1996.3 1054.8,1998.5 1056.9,2000.6 1059.0,2002.7 1061.2,2004.8 1063.3,2006.8 1065.5,2008.9 1067.7,2010.9 1069.9,2012.9 1072.1,2014.9 1074.3,2016.8 1076.6,2018.7 1078.9,2020.6 1081.2,2022.4 1083.5,2024.2 1085.8,2026.0 1088.1,2027.8 1090.5,2029.5 1092.9,2031.2 1095.3,2032.8 1097.7,2034.4 1100.2,2036.0 1102.7,2037.5 1105.2,2039.0 1107.7,2040.5 1110.2,2041.9 1112.8,2043.2 1115.4,2044.6 1118.0,2045.9 1120.7,2047.1 1123.3,2048.3 1126.0,2049.5 1128.8,2050.6 1131.5,2051.6 1134.3,2052.6 1137.1,2053.6 1139.9,2054.5 1142.8,2055.4 1145.7,2056.2 1148.6,2057.0 1151.6,2057.7 1154.6,2058.3 1157.6,2058.9 1160.6,2059.5 1163.7,2059.9 1166.8,2060.4 1169.9,2060.7 1173.1,2061.1 1176.3,2061.3" stroke="#ff8c00" stroke-width="5"/>
<path d="M164.7,2061.3 168.0,2061.6 171.3,2061.8 174.5,2061.9 177.7,2061.9 180.9,2061.8 184.0,2061.7 187.1,2061.4 190.1,2061.1 193.1,2060.7 196.1,2060.2 199.1,2059.6 202.0,2059.0 204.8,2058.2 207.7,2057.5 210.5,2056.6 213.3,2055.7 216.0,2054.7 218.8,2053.7 221.5,2052.6 224.1,2051.4 226.8,2050.2 229.4,2048.9 232.0,2047.6 234.6,2046.2 237.1,2044.7 239.6,2043.3 242.1,2041.8 244.6,2040.2 247.1,2038.6 249.5,2037.0 252.0,2035.3 254.4,2033.6 256.8,2031.8 259.2,2030.1 261.5,2028.3 263.9,2026.4 266.2,2024.6 268.6,2022.7 270.9,2020.8 273.2,2018.9 275.5,2017.0 277.8,2015.0 280.1,2013.1 282.4,2011.1 284.6,2009.1 286.9,2007.1 289.2,2005.1 291.4,2003.1 293.7,2001.0 295.9,1999.0 298.1,1996.9 300.3,1994.9 302.5,1992.8 304.7,1990.7 306.9,1988.6 309.1,1986.5 311.3,1984.4 313.5,1982.3 315.7,1980.2 317.8,1978.0 320.0,1975.9 322.2,1973.8 324.3,1971.6 326.5,1969.5 328.6,1967.3 330.8,1965.2 332.9,1963.0 335.0,1960.8 337.2,1958.7 339.3,1956.5 341.4,1954.4 343.5,1952.2 345.7,1950.0 347.8,1947.9 349.9,1945.7 352.0,1943.6 354.1,1941.4 356.2,1939.2 358.3,1937.1 360.4,1934.9 362.5,1932.8 364.6,1930.6 366.7,1928.5 368.8,1926.3 370.9,1924.1 373.0,1922.0 375.1,1919.8 377.2,1917.7 379.3,1915.5 381.3,1913.4 383.4,1911.2 385.5,1909.1 387.6,1907.0 389.7,1904.8 391.8,1902.7 393.9,1900.5 396.0,1898.4 398.1,1896.3 400.2,1894.1 402.3,1892.0 404.3,1889.9 406.4,1887.8 408.5,1885.6 410.6,1883.5 412.7,1881.4 414.8,1879.3 416.9,1877.2 419.1,1875.1 421.2,1873.0 423.3,1870.9 425.4,1868.8 427.5,1866.7 429.6,1864.6 431.8,1862.5 433.9,1860.4 436.0,1858.3 438.1,1856.2 440.3,1854.2 442.4,1852.1 444.6,1850.0 446.7,1848.0 448.9,1845.9 451.0,1843.8 453.2,1841.8 455.4,1839.7 457.5,1837.7 459.7,1835.7 461.9,1833.6 464.1,1831.6 466.3,1829.6 468.5,1827.5 470.7,1825.5 472.9,1823.5 475.1,1821.5 477.3,1819.5 479.6,1817.5 481.8,1815.5 484.1,1813.5 486.3,1811.6 488.6,1809.6 490.8,1807.6 493.1,1805.7 495.4,1803.7 497.7,1801.7 500.0,1799.8 502.3,1797.9 504.6,1795.9 506.9,1794.0 509.2,1792.1 511.5,1790.1 513.9,1788.2 516.2,1786.3 518.6,1784.4 520.9,1782.5 523.3,1780.6 525.7,1778.7 528.1,1776.9 530.5,1775.0 532.9,1773.1 535.3,1771.3 537.7,1769.4 540.1,1767.6 542.6,1765.7 545.0,1763.9 547.5,1762.0 549.9,1760.2 552.4,1758.4 554.9,1756.6 557.4,1754.8 559.9,1753.0 562.4,1751.2 564.9,1749.4 567.4,1747.7 570.0,1745.9 572.5,1744.2 575.1,1742.4 577.7,1740.7 580.3,1739.0 582.8,1737.4 585.4,1735.7 588.1,1734.1 590.7,1732.5 593.3,1730.9 595.9,1729.4 598.6,1727.9 601.2,1726.4 603.9,1724.9 606.6,1723.5 609.3,1722.1 611.9,1720.8 614.7,1719.5 617.4,1718.2 620.1,1717.0 622.8,1715.8 625.6,1714.6 628.3,1713.5 631.1,1712.5 633.8,1711.5 636.6,1710.5 639.4,1709.6 642.2,1708.8 645.0,1708.0 647.8,1707.2 650.6,1706.5 653.5,1705.9 656.3,1705.3 659.2,1704.8 662.0,1704.4 664.9,1704.0 667.8,1703.7 670.7,1703.4 673.6,1703.2 676.5,1703.1 679.4,1703.1 682.3,1703.1 685.2,1703.2 688.1,1703.3 691.1,1703.5 694.0,1703.7 697.0,1704.0 699.9,1704.4 702.8,1704.8 705.8,1705.3 708.7,1705.8 711.7,1706.3 714.6,1707.0 717.5,1707.6 720.5,1708.3 723.4,1709.1 726.3,1709.9 729.2,1710.7 732.1,1711.6 735.0,1712.5 737.9,1713.4 740.8,1714.4 743.7,1715.4 746.5,1716.5 749.4,1717.6 752.2,1718.7 755.0,1719.8 757.8,1721.0 760.6,1722.2 763.4,1723.4 766.1,1724.6 768.9,1725.9 771.6,1727.2 774.3,1728.5 777.0,1729.9 779.7,1731.2 782.3,1732.6 785.0,1734.0 787.6,1735.5 790.2,1736.9 792.8,1738.4 795.4,1739.9 798.0,1741.4 800.6,1742.9 803.1,1744.5 805.6,1746.1 808.2,1747.6 810.7,1749.3 813.1,1750.9 815.6,1752.6 818.1,1754.2 820.5,1755.9 823.0,1757.6 825.4,1759.4 827.8,1761.1 830.2,1762.9 832.6,1764.6 835.0,1766.4 837.4,1768.2 839.7,1770.1 842.1,1771.9 844.4,1773.8 846.7,1775.7 849.0,1777.6 851.3,1779.5 853.6,1781.4 855.9,1783.3 858.1,1785.3 860.4,1787.2 862.7,1789.2 864.9,1791.2 867.1,1793.2 869.3,1795.2 871.6,1797.3 873.8,1799.3 875.9,1801.4 878.1,1803.4 880.3,1805.5 882.5,1807.6 884.6,1809.7 886.8,1811.8 888.9,1813.9 891.1,1816.1 893.2,1818.2 895.3,1820.4 897.4,1822.5 899.5,1824.7 901.6,1826.9 903.7,1829.0 905.8,1831.2 907.9,1833.4 910.0,1835.7 912.0,1837.9 914.1,1840.1 916.1,1842.3 918.2,1844.6 920.2,1846.8 922.3,1849.1 924.3,1851.3 926.4,1853.6 928.4,1855.9 930.4,1858.1 932.4,1860.4 934.4,1862.7 936.4,1865.0 938.4,1867.3 940.4,1869.6 942.4,1871.9 944.4,1874.2 946.4,1876.5 948.4,1878.8 950.4,1881.1 952.4,1883.4 954.4,1885.7 956.3,1888.0 958.3,1890.4 960.3,1892.7 962.3,1895.0 964.2,1897.3 966.2,1899.6 968.2,1901.9 970.1,1904.3 972.1,1906.6 974.1,1908.9 976.0,1911.2 978.0,1913.5 980.0,1915.8 981.9,1918.2 983.9,1920.5 985.9,1922.8 987.8,1925.1 989.8,1927.4 991.8,1929.7 993.7,1932.0 995.7,1934.3 997.7,1936.5 999.6,1938.8 1001.6,1941.1 1003.6,1943.4 1005.6,1945.6 1007.6,1947.9 1009.5,1950.2 1011.5,1952.4 1013.5,1954.6 1015.5,1956.9 1017.5,1959.1 1019.6,1961.3 1021.6,1963.5 1023.6,1965.7 1025.6,1967.9 1027.7,1970.1 1029.7,1972.3 1031.8,1974.5 1033.8,1976.6 1035.9,1978.8 1038.0,1980.9 1040.0,1983.1 1042.1,1985.2 1044.2,1987.3 1046.3,1989.4 1048.5,1991.5 1050.6,1993.5 1052.7,1995.6 1054.9,1997.7 1057.0,1999.7 1059.2,2001.7 1061.4,2003.7 1063.6,2005.7 1065.8,2007.7 1068.0,2009.7 1070.2,2011.6 1072.5,2013.6 1074.8,2015.5 1077.0,2017.4 1079.3,2019.3 1081.6,2021.2 1083.9,2023.1 1086.3,2024.9 1088.6,2026.7 1091.0,2028.5 1093.4,2030.3 1095.7,2032.1 1098.2,2033.8 1100.6,2035.5 1103.1,2037.2 1105.5,2038.8 1108.0,2040.4 1110.6,2041.9 1113.1,2043.4 1115.7,2044.9 1118.3,2046.3 1120.9,2047.7 1123.5,2049.0 1126.2,2050.2 1128.9,2051.4 1131.6,2052.6 1134.4,2053.7 1137.2,2054.7 1140.0,2055.6 1142.8,2056.5 1145.7,2057.4 1148.6,2058.1 1151.5,2058.8 1154.5,2059.4 1157.5,2059.9 1160.6,2060.4 1163.6,2060.7 1166.8,2061.0 1169.9,2061.2 1173.1,2061.3 1176.3,2061.3" stroke="#ff8c00" stroke-width="9.5" stroke-dasharray="3.3 12.4"/>
<path d="M164.7,2061.3 167.8,2061.5 171.0,2061.7 174.1,2061.8 177.2,2062.0 180.3,2062.1 183.4,2062.1 186.5,2062.1 189.6,2062.1 192.6,2062.1 195.7,2062.1 198.8,2062.0 201.8,2061.9 204.9,2061.7 207.9,2061.6 210.9,2061.4 214.0,2061.1 217.0,2060.9 220.0,2060.6 223.0,2060.3 226.0,2060.0 229.0,2059.6 232.0,2059.2 234.9,2058.8 237.9,2058.4 240.9,2057.9 243.8,2057.5 246.7,2056.9 249.7,2056.4 252.6,2055.8 255.5,2055.3 258.5,2054.7 261.4,2054.0 264.3,2053.4 267.2,2052.7 270.0,2052.0 272.9,2051.3 275.8,2050.5 278.7,2049.7 281.5,2048.9 284.4,2048.1 287.2,2047.3 290.1,2046.4 292.9,2045.5 295.7,2044.6 298.6,2043.7 301.4,2042.8 304.2,2041.8 307.0,2040.8 309.8,2039.8 312.5,2038.8 315.3,2037.7 318.1,2036.7 320.9,2035.6 323.6,2034.5 326.4,2033.4 329.1,2032.2 331.9,2031.1 334.6,2029.9 337.3,2028.7 340.0,2027.5 342.8,2026.2 345.5,2025.0 348.2,2023.7 350.9,2022.4 353.5,2021.1 356.2,2019.8 358.9,2018.5 361.6,2017.1 364.2,2015.8 366.9,2014.4 369.5,2013.0 372.2,2011.6 374.8,2010.1 377.5,2008.7 380.1,2007.2 382.7,2005.8 385.3,2004.3 387.9,2002.8 390.5,2001.3 393.1,1999.7 395.7,1998.2 398.3,1996.6 400.9,1995.1 403.4,1993.5 406.0,1991.9 408.6,1990.3 411.1,1988.7 413.7,1987.0 416.2,1985.4 418.7,1983.8 421.3,1982.1 423.8,1980.4 426.3,1978.7 428.8,1977.0 431.3,1975.3 433.8,1973.6 436.3,1971.9 438.8,1970.2 441.3,1968.4 443.8,1966.7 446.2,1964.9 448.7,1963.1 451.2,1961.3 453.6,1959.6 456.1,1957.8 458.5,1956.0 461.0,1954.1 463.4,1952.3 465.8,1950.5 468.2,1948.7 470.6,1946.8 473.1,1945.0 475.5,1943.1 477.9,1941.3 480.3,1939.4 482.6,1937.5 485.0,1935.6 487.4,1933.8 489.8,1931.9 492.2,1930.0 494.5,1928.1 496.9,1926.2 499.2,1924.3 501.6,1922.4 503.9,1920.5 506.2,1918.5 508.6,1916.6 510.9,1914.7 513.2,1912.8 515.5,1910.8 517.9,1908.9 520.2,1907.0 522.5,1905.0 524.8,1903.1 527.0,1901.1 529.3,1899.2 531.6,1897.3 533.9,1895.3 536.2,1893.4 538.4,1891.4 540.7,1889.5 543.0,1887.5 545.2,1885.5 547.5,1883.6 549.7,1881.6 551.9,1879.6 554.2,1877.7 556.4,1875.7 558.6,1873.7 560.9,1871.7 563.1,1869.7 565.3,1867.8 567.5,1865.8 569.7,1863.8 571.9,1861.8 574.1,1859.8 576.3,1857.8 578.5,1855.8 580.7,1853.8 582.9,1851.8 585.1,1849.8 587.3,1847.7 589.5,1845.7 591.6,1843.7 593.8,1841.7 596.0,1839.7 598.2,1837.6 600.3,1835.6 602.5,1833.5 604.6,1831.5 606.8,1829.5 609.0,1827.4 611.1,1825.4 613.3,1823.3 615.4,1821.2 617.6,1819.2 619.7,1817.1 621.8,1815.0 624.0,1813.0 626.1,1810.9 628.2,1808.8 630.4,1806.7 632.5,1804.6 634.6,1802.5 636.8,1800.4 638.9,1798.3 641.0,1796.2 643.1,1794.1 645.3,1792.0 647.4,1789.9 649.5,1787.8 651.6,1785.6 653.7,1783.5 655.9,1781.4 658.0,1779.2 660.1,1777.1 662.2,1774.9 664.3,1772.8 666.4,1770.6 668.5,1768.5 670.6,1766.3 672.7,1764.1 674.9,1762.0 677.0,1759.8 679.1,1757.6 681.2,1755.4 683.3,1753.2 685.4,1751.0 687.5,1748.8 689.6,1746.6 691.7,1744.4 693.8,1742.2 695.9,1740.0 698.0,1737.7 700.1,1735.5 702.2,1733.3 704.4,1731.0 706.5,1728.8 708.6,1726.6 710.7,1724.4 712.9,1722.1 715.0,1719.9 717.2,1717.8 719.3,1715.6 721.5,1713.4 723.7,1711.3 725.9,1709.2 728.1,1707.1 730.4,1705.1 732.6,1703.0 734.9,1701.0 737.2,1699.1 739.5,1697.1 741.8,1695.3 744.2,1693.4 746.6,1691.6 749.0,1689.9 751.5,1688.1 754.0,1686.5 756.5,1684.9 759.0,1683.3 761.6,1681.8 764.2,1680.4 766.8,1679.0 769.5,1677.7 772.2,1676.5 774.9,1675.3 777.7,1674.2 780.5,1673.2 783.3,1672.2 786.1,1671.3 788.9,1670.5 791.8,1669.7 794.7,1669.0 797.5,1668.4 800.4,1667.9 803.3,1667.5 806.2,1667.1 809.1,1666.8 812.0,1666.6 815.0,1666.5 817.9,1666.4 820.8,1666.4 823.7,1666.5 826.6,1666.6 829.6,1666.8 832.5,1667.1 835.4,1667.4 838.3,1667.8 841.2,1668.3 844.1,1668.8 847.0,1669.4 849.9,1670.0 852.8,1670.7 855.7,1671.5 858.5,1672.3 861.4,1673.2 864.2,1674.1 867.0,1675.1 869.8,1676.2 872.6,1677.3 875.4,1678.4 878.2,1679.6 880.9,1680.9 883.7,1682.2 886.4,1683.5 889.0,1684.9 891.7,1686.4 894.3,1687.8 897.0,1689.4 899.6,1690.9 902.1,1692.6 904.7,1694.2 907.2,1695.9 909.7,1697.6 912.1,1699.4 914.5,1701.2 916.9,1703.1 919.3,1704.9 921.6,1706.9 923.9,1708.8 926.2,1710.8 928.4,1712.8 930.6,1714.8 932.7,1716.9 934.9,1719.0 936.9,1721.1 939.0,1723.3 941.0,1725.5 943.0,1727.7 945.0,1729.9 947.0,1732.2 948.9,1734.5 950.8,1736.8 952.7,1739.1 954.5,1741.5 956.3,1743.8 958.1,1746.2 959.9,1748.7 961.6,1751.1 963.4,1753.5 965.1,1756.0 966.8,1758.5 968.4,1761.0 970.1,1763.5 971.7,1766.1 973.4,1768.6 975.0,1771.2 976.5,1773.8 978.1,1776.4 979.7,1779.0 981.2,1781.6 982.7,1784.3 984.3,1786.9 985.8,1789.5 987.3,1792.2 988.8,1794.9 990.2,1797.5 991.7,1800.2 993.2,1802.9 994.6,1805.6 996.1,1808.3 997.5,1811.0 998.9,1813.7 1000.4,1816.4 1001.8,1819.1 1003.2,1821.8 1004.7,1824.5 1006.1,1827.2 1007.5,1829.9 1008.9,1832.6 1010.3,1835.3 1011.8,1838.0 1013.2,1840.7 1014.6,1843.4 1016.1,1846.1 1017.5,1848.8 1018.9,1851.4 1020.4,1854.1 1021.8,1856.8 1023.3,1859.4 1024.7,1862.1 1026.2,1864.7 1027.7,1867.4 1029.1,1870.0 1030.6,1872.6 1032.1,1875.2 1033.6,1877.8 1035.1,1880.5 1036.6,1883.1 1038.1,1885.7 1039.6,1888.3 1041.1,1890.8 1042.6,1893.4 1044.1,1896.0 1045.7,1898.6 1047.2,1901.2 1048.8,1903.7 1050.3,1906.3 1051.8,1908.8 1053.4,1911.4 1055.0,1913.9 1056.5,1916.5 1058.1,1919.0 1059.7,1921.6 1061.3,1924.1 1062.8,1926.6 1064.4,1929.2 1066.0,1931.7 1067.7,1934.2 1069.3,1936.7 1070.9,1939.2 1072.5,1941.7 1074.1,1944.2 1075.8,1946.7 1077.4,1949.2 1079.1,1951.7 1080.7,1954.2 1082.4,1956.7 1084.0,1959.2 1085.7,1961.7 1087.4,1964.2 1089.1,1966.7 1090.8,1969.1 1092.5,1971.6 1094.2,1974.1 1095.9,1976.6 1097.6,1979.0 1099.3,1981.5 1101.1,1984.0 1102.8,1986.4 1104.6,1988.9 1106.3,1991.4 1108.1,1993.8 1109.8,1996.3 1111.6,1998.7 1113.4,2001.2 1115.2,2003.6 1117.0,2006.1 1118.8,2008.5 1120.6,2010.9 1122.5,2013.4 1124.3,2015.7 1126.2,2018.1 1128.1,2020.5 1130.0,2022.8 1132.0,2025.1 1134.0,2027.3 1136.0,2029.5 1138.0,2031.7 1140.1,2033.8 1142.2,2035.9 1144.3,2037.9 1146.5,2039.9 1148.8,2041.8 1151.0,2043.6 1153.4,2045.4 1155.7,2047.1 1158.2,2048.7 1160.6,2050.3 1163.2,2051.7 1165.8,2053.1 1168.4,2054.4 1171.1,2055.6 1173.9,2056.7 1176.7,2057.8 1179.6,2058.7 1182.6,2059.5 1185.7,2060.2 1188.8,2060.8 1192.0,2061.3" stroke="#ff8c00" stroke-width="5" stroke-dasharray="17.7 7.5"/>
</g>
<g stroke="#d6d6d6" stroke-width="1.7"><line x1="1906.4" y1="1146.0" x2="1906.4" y2="2059.0"/><line x1="2080.4" y1="1146.0" x2="2080.4" y2="2059.0"/><line x1="2254.4" y1="1146.0" x2="2254.4" y2="2059.0"/><line x1="2428.4" y1="1146.0" x2="2428.4" y2="2059.0"/><line x1="2602.4" y1="1146.0" x2="2602.4" y2="2059.0"/><line x1="2776.4" y1="1146.0" x2="2776.4" y2="2059.0"/><line x1="1732.4" y1="1925.7" x2="2950.4" y2="1925.7"/><line x1="1732.4" y1="1792.4" x2="2950.4" y2="1792.4"/><line x1="1732.4" y1="1659.1" x2="2950.4" y2="1659.1"/><line x1="1732.4" y1="1525.9" x2="2950.4" y2="1525.9"/><line x1="1732.4" y1="1392.6" x2="2950.4" y2="1392.6"/><line x1="1732.4" y1="1259.3" x2="2950.4" y2="1259.3"/></g>
<clipPath id="c3"><rect x="1732.4" y="1146.0" width="1218.0" height="913.0"/></clipPath>
<g clip-path="url(#c3)" fill="none" stroke-linejoin="round">
<path d="M1732.4,2059.0 1735.5,2058.5 1738.5,2057.9 1741.5,2057.2 1744.5,2056.5 1747.4,2055.7 1750.4,2054.9 1753.2,2054.0 1756.1,2053.1 1758.9,2052.1 1761.7,2051.1 1764.4,2050.0 1767.2,2048.9 1769.9,2047.7 1772.5,2046.5 1775.2,2045.2 1777.8,2043.9 1780.4,2042.6 1782.9,2041.2 1785.5,2039.7 1788.0,2038.2 1790.5,2036.7 1792.9,2035.1 1795.3,2033.5 1797.7,2031.9 1800.1,2030.2 1802.4,2028.4 1804.8,2026.7 1807.1,2024.9 1809.4,2023.0 1811.6,2021.1 1813.8,2019.2 1816.0,2017.3 1818.2,2015.3 1820.4,2013.3 1822.5,2011.3 1824.7,2009.2 1826.8,2007.1 1828.8,2005.0 1830.9,2002.8 1832.9,2000.7 1835.0,1998.5 1837.0,1996.2 1838.9,1994.0 1840.9,1991.7 1842.8,1989.4 1844.8,1987.1 1846.7,1984.7 1848.6,1982.4 1850.5,1980.0 1852.3,1977.6 1854.2,1975.2 1856.0,1972.7 1857.8,1970.3 1859.6,1967.8 1861.4,1965.3 1863.1,1962.8 1864.9,1960.3 1866.6,1957.8 1868.4,1955.3 1870.1,1952.7 1871.8,1950.2 1873.5,1947.6 1875.2,1945.0 1876.8,1942.4 1878.5,1939.9 1880.1,1937.3 1881.8,1934.7 1883.4,1932.1 1885.0,1929.5 1886.6,1926.8 1888.2,1924.2 1889.8,1921.6 1891.4,1919.0 1892.9,1916.4 1894.5,1913.8 1896.1,1911.1 1897.6,1908.5 1899.1,1905.9 1900.7,1903.3 1902.2,1900.6 1903.7,1898.0 1905.2,1895.4 1906.7,1892.7 1908.2,1890.1 1909.7,1887.5 1911.1,1884.8 1912.6,1882.2 1914.1,1879.5 1915.5,1876.9 1917.0,1874.3 1918.4,1871.6 1919.8,1869.0 1921.3,1866.3 1922.7,1863.6 1924.1,1861.0 1925.5,1858.3 1926.9,1855.7 1928.3,1853.0 1929.7,1850.3 1931.1,1847.7 1932.4,1845.0 1933.8,1842.3 1935.2,1839.7 1936.5,1837.0 1937.9,1834.3 1939.2,1831.7 1940.6,1829.0 1941.9,1826.3 1943.3,1823.6 1944.6,1820.9 1945.9,1818.3 1947.2,1815.6 1948.5,1812.9 1949.9,1810.2 1951.2,1807.5 1952.5,1804.8 1953.8,1802.1 1955.1,1799.4 1956.4,1796.7 1957.6,1794.0 1958.9,1791.3 1960.2,1788.6 1961.5,1785.9 1962.8,1783.2 1964.0,1780.5 1965.3,1777.8 1966.6,1775.1 1967.8,1772.4 1969.1,1769.7 1970.4,1767.0 1971.6,1764.3 1972.9,1761.6 1974.1,1758.9 1975.4,1756.1 1976.6,1753.4 1977.9,1750.7 1979.1,1748.0 1980.4,1745.3 1981.6,1742.6 1982.8,1739.8 1984.1,1737.1 1985.3,1734.4 1986.6,1731.7 1987.8,1729.0 1989.1,1726.3 1990.3,1723.5 1991.5,1720.8 1992.8,1718.1 1994.0,1715.4 1995.3,1712.7 1996.5,1709.9 1997.8,1707.2 1999.0,1704.5 2000.3,1701.8 2001.5,1699.1 2002.8,1696.4 2004.0,1693.6 2005.3,1690.9 2006.5,1688.2 2007.8,1685.5 2009.0,1682.8 2010.3,1680.1 2011.6,1677.3 2012.8,1674.6 2014.1,1671.9 2015.4,1669.2 2016.6,1666.5 2017.9,1663.8 2019.2,1661.1 2020.5,1658.4 2021.8,1655.7 2023.1,1653.0 2024.4,1650.3 2025.7,1647.6 2027.0,1644.9 2028.3,1642.2 2029.6,1639.5 2030.9,1636.8 2032.2,1634.1 2033.6,1631.4 2034.9,1628.7 2036.2,1626.0 2037.6,1623.3 2038.9,1620.6 2040.3,1618.0 2041.6,1615.3 2043.0,1612.6 2044.4,1609.9 2045.7,1607.2 2047.1,1604.6 2048.5,1601.9 2049.9,1599.2 2051.3,1596.6 2052.7,1593.9 2054.1,1591.2 2055.6,1588.6 2057.0,1585.9 2058.4,1583.3 2059.9,1580.6 2061.3,1578.0 2062.8,1575.3 2064.2,1572.7 2065.7,1570.0 2067.2,1567.4 2068.7,1564.8 2070.2,1562.1 2071.7,1559.5 2073.2,1556.9 2074.8,1554.3 2076.3,1551.6 2077.8,1549.0 2079.4,1546.4 2081.0,1543.8 2082.5,1541.2 2084.1,1538.6 2085.7,1536.0 2087.3,1533.4 2088.9,1530.8 2090.6,1528.2 2092.2,1525.6 2093.8,1523.1 2095.5,1520.5 2097.2,1517.9 2098.8,1515.3 2100.5,1512.8 2102.2,1510.2 2104.0,1507.7 2105.7,1505.1 2107.4,1502.6 2109.2,1500.0 2110.9,1497.5 2112.7,1495.0 2114.5,1492.4 2116.3,1489.9 2118.1,1487.4 2119.9,1484.9 2121.7,1482.3 2123.6,1479.8 2125.4,1477.3 2127.3,1474.8 2129.2,1472.4 2131.1,1469.9 2133.0,1467.4 2135.0,1464.9 2136.9,1462.4 2138.9,1460.0 2140.8,1457.5 2142.8,1455.1 2144.9,1452.8 2146.9,1450.5 2149.0,1448.2 2151.1,1445.9 2153.2,1443.8 2155.4,1441.7 2157.6,1439.7 2159.8,1437.7 2162.1,1435.9 2164.4,1434.1 2166.7,1432.5 2169.1,1430.9 2171.5,1429.5 2174.0,1428.1 2176.5,1426.9 2179.1,1425.8 2181.6,1424.9 2184.2,1424.0 2186.8,1423.3 2189.5,1422.8 2192.1,1422.3 2194.8,1422.0 2197.5,1421.9 2200.1,1421.9 2202.8,1422.0 2205.5,1422.3 2208.2,1422.8 2210.9,1423.3 2213.5,1424.0 2216.2,1424.9 2218.8,1425.8 2221.5,1426.9 2224.1,1428.1 2226.7,1429.4 2229.2,1430.8 2231.8,1432.2 2234.3,1433.8 2236.8,1435.5 2239.2,1437.2 2241.6,1439.0 2244.0,1440.9 2246.3,1442.8 2248.6,1444.8 2250.8,1446.9 2253.0,1448.9 2255.2,1451.1 2257.2,1453.2 2259.3,1455.5 2261.2,1457.7 2263.2,1460.0 2265.1,1462.3 2266.9,1464.7 2268.7,1467.0 2270.4,1469.5 2272.1,1471.9 2273.8,1474.4 2275.4,1476.9 2277.0,1479.4 2278.6,1482.0 2280.1,1484.6 2281.5,1487.2 2283.0,1489.9 2284.4,1492.5 2285.7,1495.2 2287.1,1497.9 2288.4,1500.7 2289.7,1503.4 2290.9,1506.2 2292.1,1509.0 2293.3,1511.8 2294.5,1514.6 2295.6,1517.5 2296.7,1520.3 2297.8,1523.2 2298.9,1526.1 2300.0,1528.9 2301.0,1531.8 2302.0,1534.7 2303.0,1537.7 2304.0,1540.6 2305.0,1543.5 2306.0,1546.4 2306.9,1549.4 2307.9,1552.3 2308.8,1555.2 2309.7,1558.2 2310.6,1561.1 2311.5,1564.1 2312.4,1567.0 2313.3,1569.9 2314.2,1572.9 2315.1,1575.8 2316.0,1578.8 2316.8,1581.7 2317.7,1584.6 2318.5,1587.6 2319.4,1590.5 2320.2,1593.4 2321.0,1596.4 2321.9,1599.3 2322.7,1602.2 2323.5,1605.2 2324.3,1608.1 2325.1,1611.0 2325.9,1614.0 2326.7,1616.9 2327.4,1619.8 2328.2,1622.8 2329.0,1625.7 2329.7,1628.6 2330.5,1631.6 2331.2,1634.5 2332.0,1637.4 2332.7,1640.4 2333.4,1643.3 2334.2,1646.2 2334.9,1649.2 2335.6,1652.1 2336.3,1655.0 2337.0,1657.9 2337.7,1660.9 2338.3,1663.8 2339.0,1666.7 2339.7,1669.7 2340.4,1672.6 2341.0,1675.5 2341.7,1678.5 2342.3,1681.4 2342.9,1684.3 2343.6,1687.3 2344.2,1690.2 2344.8,1693.1 2345.5,1696.0 2346.1,1699.0 2346.7,1701.9 2347.3,1704.8 2347.9,1707.8 2348.5,1710.7 2349.0,1713.6 2349.6,1716.6 2350.2,1719.5 2350.8,1722.4 2351.3,1725.4 2351.9,1728.3 2352.4,1731.2 2353.0,1734.2 2353.5,1737.1 2354.0,1740.0 2354.6,1743.0 2355.1,1745.9 2355.6,1748.8 2356.1,1751.8 2356.6,1754.7 2357.1,1757.6 2357.6,1760.6 2358.1,1763.5 2358.6,1766.5 2359.1,1769.4 2359.6,1772.3 2360.0,1775.3 2360.5,1778.2 2361.0,1781.2 2361.4,1784.1 2361.9,1787.0 2362.3,1790.0 2362.8,1792.9 2363.2,1795.9 2363.7,1798.8 2364.1,1801.8 2364.5,1804.7 2364.9,1807.7 2365.3,1810.6 2365.8,1813.5 2366.2,1816.5 2366.6,1819.4 2367.0,1822.4 2367.4,1825.3 2367.7,1828.3 2368.1,1831.2 2368.5,1834.2 2368.9,1837.2 2369.2,1840.1 2369.6,1843.1 2370.0,1846.0 2370.3,1849.0 2370.7,1851.9 2371.0,1854.9 2371.4,1857.9 2371.7,1860.8 2372.1,1863.8 2372.4,1866.7 2372.7,1869.7 2373.1,1872.7 2373.4,1875.6 2373.7,1878.6 2374.0,1881.6 2374.3,1884.5 2374.6,1887.5 2374.9,1890.5 2375.2,1893.4 2375.5,1896.4 2375.8,1899.4 2376.1,1902.4 2376.4,1905.3 2376.7,1908.3 2376.9,1911.3 2377.2,1914.3 2377.5,1917.3 2377.7,1920.2 2378.0,1923.2 2378.3,1926.2 2378.5,1929.2 2378.8,1932.2 2379.0,1935.2 2379.3,1938.2 2379.5,1941.2 2379.7,1944.2 2380.0,1947.1 2380.2,1950.1 2380.4,1953.1 2380.7,1956.1 2380.9,1959.1 2381.1,1962.1 2381.3,1965.1 2381.5,1968.1 2381.7,1971.1 2381.9,1974.2 2382.1,1977.2 2382.3,1980.2 2382.5,1983.2 2382.7,1986.2 2382.9,1989.2 2383.1,1992.2 2383.3,1995.2 2383.5,1998.3 2383.7,2001.3 2383.9,2004.3 2384.0,2007.3 2384.2,2010.4 2384.4,2013.4 2384.5,2016.4 2384.7,2019.4 2384.9,2022.5 2385.0,2025.5 2385.2,2028.5 2385.3,2031.6 2385.5,2034.6 2385.6,2037.7 2385.8,2040.7 2385.9,2043.8 2386.1,2046.8 2386.2,2049.8 2386.4,2052.9 2386.5,2055.9 2386.6,2059.0" stroke="#4496d2" stroke-width="5"/>
<path d="M1732.4,2059.0 1735.4,2058.3 1738.4,2057.5 1741.4,2056.7 1744.3,2055.8 1747.2,2054.9 1750.1,2053.9 1752.9,2052.9 1755.7,2051.8 1758.4,2050.7 1761.1,2049.5 1763.8,2048.2 1766.5,2047.0 1769.1,2045.6 1771.7,2044.2 1774.3,2042.8 1776.8,2041.3 1779.3,2039.8 1781.8,2038.3 1784.2,2036.7 1786.6,2035.0 1789.0,2033.3 1791.4,2031.6 1793.7,2029.9 1796.0,2028.1 1798.3,2026.2 1800.5,2024.3 1802.7,2022.4 1804.9,2020.5 1807.1,2018.5 1809.3,2016.5 1811.4,2014.4 1813.5,2012.4 1815.6,2010.2 1817.6,2008.1 1819.6,2005.9 1821.7,2003.7 1823.6,2001.5 1825.6,1999.3 1827.6,1997.0 1829.5,1994.7 1831.4,1992.4 1833.3,1990.0 1835.1,1987.6 1837.0,1985.2 1838.8,1982.8 1840.6,1980.4 1842.4,1977.9 1844.2,1975.5 1845.9,1973.0 1847.7,1970.5 1849.4,1968.0 1851.1,1965.4 1852.8,1962.9 1854.5,1960.3 1856.2,1957.7 1857.8,1955.1 1859.5,1952.5 1861.1,1949.9 1862.7,1947.3 1864.3,1944.7 1865.9,1942.1 1867.5,1939.4 1869.0,1936.8 1870.6,1934.1 1872.2,1931.5 1873.7,1928.8 1875.2,1926.2 1876.7,1923.5 1878.3,1920.8 1879.8,1918.2 1881.3,1915.5 1882.7,1912.9 1884.2,1910.2 1885.7,1907.5 1887.2,1904.9 1888.6,1902.2 1890.1,1899.5 1891.5,1896.9 1892.9,1894.2 1894.4,1891.5 1895.8,1888.8 1897.2,1886.2 1898.6,1883.5 1900.0,1880.8 1901.4,1878.2 1902.8,1875.5 1904.2,1872.8 1905.6,1870.1 1907.0,1867.5 1908.3,1864.8 1909.7,1862.1 1911.1,1859.4 1912.4,1856.8 1913.8,1854.1 1915.1,1851.4 1916.5,1848.7 1917.8,1846.0 1919.2,1843.4 1920.5,1840.7 1921.8,1838.0 1923.1,1835.3 1924.5,1832.6 1925.8,1830.0 1927.1,1827.3 1928.4,1824.6 1929.7,1821.9 1931.0,1819.2 1932.4,1816.6 1933.7,1813.9 1935.0,1811.2 1936.3,1808.5 1937.6,1805.8 1938.9,1803.2 1940.2,1800.5 1941.5,1797.8 1942.8,1795.1 1944.1,1792.4 1945.4,1789.7 1946.7,1787.1 1948.0,1784.4 1949.2,1781.7 1950.5,1779.0 1951.8,1776.3 1953.1,1773.7 1954.4,1771.0 1955.7,1768.3 1957.0,1765.6 1958.3,1762.9 1959.6,1760.2 1960.9,1757.6 1962.2,1754.9 1963.5,1752.2 1964.8,1749.5 1966.0,1746.8 1967.3,1744.1 1968.6,1741.5 1969.9,1738.8 1971.2,1736.1 1972.5,1733.4 1973.8,1730.7 1975.1,1728.0 1976.4,1725.3 1977.7,1722.6 1978.9,1720.0 1980.2,1717.3 1981.5,1714.6 1982.8,1711.9 1984.1,1709.2 1985.4,1706.5 1986.7,1703.8 1988.0,1701.1 1989.3,1698.4 1990.6,1695.7 1991.9,1693.0 1993.1,1690.3 1994.4,1687.6 1995.7,1684.9 1997.0,1682.2 1998.3,1679.5 1999.6,1676.8 2000.9,1674.1 2002.2,1671.4 2003.5,1668.7 2004.8,1666.0 2006.1,1663.3 2007.4,1660.6 2008.7,1657.9 2010.0,1655.2 2011.3,1652.5 2012.6,1649.7 2013.9,1647.0 2015.2,1644.3 2016.4,1641.6 2017.7,1638.9 2019.0,1636.1 2020.3,1633.4 2021.7,1630.7 2023.0,1628.0 2024.3,1625.2 2025.6,1622.5 2026.9,1619.8 2028.2,1617.0 2029.5,1614.3 2030.8,1611.6 2032.1,1608.8 2033.4,1606.1 2034.7,1603.4 2036.0,1600.6 2037.3,1597.9 2038.6,1595.1 2039.9,1592.4 2041.3,1589.6 2042.6,1586.9 2043.9,1584.1 2045.2,1581.4 2046.5,1578.6 2047.8,1575.8 2049.2,1573.1 2050.5,1570.3 2051.8,1567.5 2053.1,1564.8 2054.4,1562.0 2055.8,1559.2 2057.1,1556.4 2058.4,1553.7 2059.8,1550.9 2061.1,1548.1 2062.4,1545.3 2063.8,1542.6 2065.1,1539.8 2066.5,1537.0 2067.9,1534.3 2069.3,1531.5 2070.7,1528.8 2072.1,1526.1 2073.5,1523.4 2074.9,1520.7 2076.4,1518.0 2077.8,1515.3 2079.3,1512.6 2080.8,1510.0 2082.3,1507.3 2083.9,1504.7 2085.4,1502.1 2087.0,1499.5 2088.6,1497.0 2090.3,1494.4 2091.9,1491.9 2093.6,1489.4 2095.3,1487.0 2097.1,1484.5 2098.8,1482.1 2100.6,1479.8 2102.4,1477.4 2104.3,1475.1 2106.2,1472.8 2108.1,1470.5 2110.1,1468.3 2112.1,1466.1 2114.1,1464.0 2116.2,1461.8 2118.3,1459.7 2120.5,1457.7 2122.6,1455.7 2124.9,1453.7 2127.2,1451.8 2129.5,1449.9 2131.8,1448.1 2134.2,1446.3 2136.7,1444.5 2139.2,1442.9 2141.7,1441.2 2144.3,1439.7 2146.9,1438.2 2149.5,1436.8 2152.2,1435.5 2154.9,1434.2 2157.6,1433.1 2160.3,1432.1 2163.1,1431.2 2165.8,1430.4 2168.6,1429.7 2171.4,1429.2 2174.1,1428.8 2176.9,1428.6 2179.7,1428.5 2182.5,1428.5 2185.2,1428.8 2188.0,1429.2 2190.7,1429.7 2193.5,1430.5 2196.2,1431.4 2198.9,1432.5 2201.5,1433.7 2204.2,1435.0 2206.8,1436.4 2209.3,1438.0 2211.9,1439.6 2214.4,1441.3 2216.8,1443.1 2219.2,1444.9 2221.5,1446.8 2223.8,1448.7 2226.1,1450.6 2228.3,1452.6 2230.4,1454.7 2232.5,1456.7 2234.6,1458.9 2236.6,1461.0 2238.6,1463.2 2240.6,1465.5 2242.5,1467.8 2244.4,1470.1 2246.2,1472.4 2248.0,1474.8 2249.8,1477.2 2251.5,1479.7 2253.2,1482.2 2254.8,1484.7 2256.5,1487.2 2258.1,1489.8 2259.7,1492.3 2261.2,1495.0 2262.7,1497.6 2264.2,1500.2 2265.7,1502.9 2267.1,1505.6 2268.5,1508.3 2269.9,1511.0 2271.3,1513.8 2272.7,1516.5 2274.0,1519.3 2275.3,1522.1 2276.6,1524.9 2277.9,1527.7 2279.1,1530.5 2280.4,1533.3 2281.6,1536.1 2282.8,1538.9 2284.0,1541.8 2285.2,1544.6 2286.4,1547.4 2287.6,1550.3 2288.7,1553.1 2289.9,1556.0 2291.0,1558.8 2292.1,1561.6 2293.2,1564.5 2294.3,1567.3 2295.4,1570.2 2296.5,1573.0 2297.6,1575.9 2298.7,1578.7 2299.7,1581.6 2300.7,1584.4 2301.8,1587.3 2302.8,1590.1 2303.8,1593.0 2304.8,1595.9 2305.8,1598.7 2306.8,1601.6 2307.8,1604.5 2308.7,1607.3 2309.7,1610.2 2310.6,1613.1 2311.6,1615.9 2312.5,1618.8 2313.4,1621.7 2314.3,1624.6 2315.2,1627.4 2316.1,1630.3 2317.0,1633.2 2317.8,1636.1 2318.7,1639.0 2319.6,1641.8 2320.4,1644.7 2321.2,1647.6 2322.1,1650.5 2322.9,1653.4 2323.7,1656.3 2324.5,1659.2 2325.3,1662.1 2326.1,1665.0 2326.9,1667.9 2327.6,1670.8 2328.4,1673.7 2329.1,1676.6 2329.9,1679.5 2330.6,1682.4 2331.4,1685.3 2332.1,1688.2 2332.8,1691.1 2333.5,1694.0 2334.2,1696.9 2334.9,1699.8 2335.6,1702.7 2336.3,1705.6 2336.9,1708.6 2337.6,1711.5 2338.2,1714.4 2338.9,1717.3 2339.5,1720.2 2340.2,1723.1 2340.8,1726.1 2341.4,1729.0 2342.1,1731.9 2342.7,1734.8 2343.3,1737.8 2343.9,1740.7 2344.5,1743.6 2345.0,1746.6 2345.6,1749.5 2346.2,1752.4 2346.8,1755.3 2347.3,1758.3 2347.9,1761.2 2348.4,1764.2 2349.0,1767.1 2349.5,1770.0 2350.1,1773.0 2350.6,1775.9 2351.1,1778.9 2351.6,1781.8 2352.1,1784.7 2352.6,1787.7 2353.1,1790.6 2353.6,1793.6 2354.1,1796.5 2354.6,1799.5 2355.1,1802.4 2355.6,1805.4 2356.1,1808.3 2356.5,1811.3 2357.0,1814.2 2357.4,1817.2 2357.9,1820.1 2358.4,1823.1 2358.8,1826.1 2359.2,1829.0 2359.7,1832.0 2360.1,1834.9 2360.5,1837.9 2361.0,1840.9 2361.4,1843.8 2361.8,1846.8 2362.2,1849.8 2362.6,1852.7 2363.1,1855.7 2363.5,1858.7 2363.9,1861.6 2364.3,1864.6 2364.7,1867.6 2365.0,1870.5 2365.4,1873.5 2365.8,1876.5 2366.2,1879.4 2366.6,1882.4 2367.0,1885.4 2367.3,1888.4 2367.7,1891.3 2368.1,1894.3 2368.5,1897.3 2368.8,1900.3 2369.2,1903.3 2369.5,1906.2 2369.9,1909.2 2370.3,1912.2 2370.6,1915.2 2371.0,1918.2 2371.3,1921.1 2371.7,1924.1 2372.0,1927.1 2372.4,1930.1 2372.7,1933.1 2373.0,1936.1 2373.4,1939.1 2373.7,1942.1 2374.1,1945.0 2374.4,1948.0 2374.7,1951.0 2375.1,1954.0 2375.4,1957.0 2375.7,1960.0 2376.1,1963.0 2376.4,1966.0 2376.7,1969.0 2377.1,1972.0 2377.4,1975.0 2377.7,1978.0 2378.0,1980.9 2378.4,1983.9 2378.7,1986.9 2379.0,1989.9 2379.3,1992.9 2379.7,1995.9 2380.0,1998.9 2380.3,2001.9 2380.7,2004.9 2381.0,2007.9 2381.3,2010.9 2381.6,2013.9 2382.0,2016.9 2382.3,2019.9 2382.6,2022.9 2383.0,2025.9 2383.3,2028.9 2383.6,2032.0 2383.9,2035.0 2384.3,2038.0 2384.6,2041.0 2384.9,2044.0 2385.3,2047.0 2385.6,2050.0 2386.0,2053.0 2386.3,2056.0 2386.6,2059.0" stroke="#4496d2" stroke-width="5" stroke-dasharray="17.7 7.5"/>
<path d="M1760.2,2059.0 1763.3,2058.2 1766.3,2057.3 1769.3,2056.4 1772.3,2055.5 1775.2,2054.5 1778.1,2053.5 1781.0,2052.4 1783.9,2051.3 1786.7,2050.2 1789.5,2049.0 1792.2,2047.8 1795.0,2046.5 1797.7,2045.2 1800.4,2043.9 1803.1,2042.5 1805.7,2041.1 1808.3,2039.7 1810.9,2038.2 1813.5,2036.7 1816.0,2035.2 1818.5,2033.6 1821.0,2032.0 1823.5,2030.4 1826.0,2028.8 1828.4,2027.1 1830.8,2025.4 1833.2,2023.7 1835.6,2021.9 1838.0,2020.1 1840.3,2018.3 1842.7,2016.5 1845.0,2014.6 1847.3,2012.7 1849.6,2010.8 1851.8,2008.9 1854.1,2007.0 1856.3,2005.0 1858.5,2003.0 1860.8,2001.0 1863.0,1999.0 1865.1,1997.0 1867.3,1994.9 1869.5,1992.9 1871.6,1990.8 1873.8,1988.7 1875.9,1986.6 1878.1,1984.5 1880.2,1982.4 1882.3,1980.2 1884.4,1978.1 1886.5,1975.9 1888.6,1973.7 1890.7,1971.5 1892.8,1969.4 1894.8,1967.2 1896.9,1965.0 1899.0,1962.8 1901.0,1960.5 1903.1,1958.3 1905.2,1956.1 1907.2,1953.9 1909.3,1951.7 1911.4,1949.4 1913.4,1947.2 1915.5,1945.0 1917.5,1942.8 1919.6,1940.5 1921.7,1938.3 1923.7,1936.1 1925.8,1933.9 1927.9,1931.7 1929.9,1929.5 1932.0,1927.3 1934.1,1925.1 1936.2,1922.9 1938.3,1920.7 1940.4,1918.5 1942.5,1916.3 1944.6,1914.1 1946.6,1911.9 1948.7,1909.7 1950.8,1907.6 1952.9,1905.4 1955.0,1903.2 1957.1,1901.0 1959.2,1898.8 1961.2,1896.6 1963.3,1894.4 1965.4,1892.2 1967.5,1890.1 1969.5,1887.8 1971.6,1885.6 1973.6,1883.4 1975.6,1881.2 1977.6,1878.9 1979.5,1876.7 1981.4,1874.4 1983.3,1872.1 1985.2,1869.8 1987.0,1867.5 1988.7,1865.1 1990.4,1862.7 1992.0,1860.3 1993.6,1857.8 1995.1,1855.3 1996.5,1852.8 1997.8,1850.2 1999.1,1847.6 2000.3,1845.0 2001.4,1842.3 2002.5,1839.6 2003.4,1836.8 2004.3,1834.0 2005.2,1831.2 2006.0,1828.4 2006.8,1825.5 2007.5,1822.6 2008.2,1819.7 2008.9,1816.8 2009.6,1813.9 2010.3,1811.0 2011.0,1808.0 2011.7,1805.1 2012.3,1802.2 2013.1,1799.2 2013.8,1796.3 2014.6,1793.4 2015.4,1790.5 2016.2,1787.6 2017.1,1784.7 2018.0,1781.9 2019.0,1779.0 2020.0,1776.2 2021.0,1773.4 2022.0,1770.5 2023.1,1767.7 2024.2,1764.9 2025.4,1762.2 2026.6,1759.4 2027.8,1756.6 2029.0,1753.9 2030.2,1751.1 2031.5,1748.4 2032.8,1745.7 2034.1,1743.0 2035.5,1740.3 2036.8,1737.6 2038.2,1734.9 2039.6,1732.2 2041.0,1729.5 2042.4,1726.8 2043.8,1724.2 2045.3,1721.5 2046.8,1718.9 2048.2,1716.2 2049.7,1713.6 2051.2,1710.9 2052.7,1708.3 2054.2,1705.7 2055.7,1703.0 2057.2,1700.4 2058.7,1697.8 2060.3,1695.2 2061.8,1692.6 2063.3,1690.0 2064.8,1687.4 2066.4,1684.8 2067.9,1682.2 2069.4,1679.6 2070.9,1677.0 2072.4,1674.4 2073.9,1671.8 2075.4,1669.2 2076.8,1666.6 2078.3,1664.0 2079.8,1661.4 2081.2,1658.7 2082.6,1656.1 2084.1,1653.5 2085.5,1650.9 2086.9,1648.3 2088.2,1645.7 2089.6,1643.1 2091.0,1640.5 2092.3,1637.8 2093.7,1635.2 2095.0,1632.6 2096.3,1629.9 2097.6,1627.3 2099.0,1624.6 2100.3,1621.9 2101.6,1619.3 2102.9,1616.6 2104.1,1613.9 2105.4,1611.2 2106.7,1608.4 2108.0,1605.7 2109.3,1603.0 2110.5,1600.3 2111.8,1597.5 2113.1,1594.8 2114.3,1592.0 2115.6,1589.3 2116.9,1586.5 2118.1,1583.8 2119.4,1581.0 2120.6,1578.2 2121.9,1575.5 2123.1,1572.7 2124.4,1569.9 2125.7,1567.2 2126.9,1564.4 2128.2,1561.7 2129.4,1558.9 2130.7,1556.1 2132.0,1553.4 2133.3,1550.6 2134.5,1547.9 2135.8,1545.1 2137.1,1542.4 2138.4,1539.7 2139.7,1536.9 2140.9,1534.2 2142.2,1531.5 2143.5,1528.8 2144.9,1526.1 2146.2,1523.4 2147.5,1520.8 2148.8,1518.1 2150.2,1515.4 2151.5,1512.8 2152.8,1510.2 2154.2,1507.5 2155.6,1504.9 2156.9,1502.3 2158.3,1499.7 2159.7,1497.1 2161.0,1494.5 2162.4,1491.9 2163.8,1489.3 2165.2,1486.7 2166.6,1484.2 2168.0,1481.6 2169.4,1479.0 2170.8,1476.4 2172.2,1473.9 2173.7,1471.3 2175.1,1468.7 2176.5,1466.1 2177.9,1463.6 2179.4,1461.0 2180.8,1458.4 2182.2,1455.8 2183.7,1453.3 2185.1,1450.7 2186.5,1448.1 2188.0,1445.5 2189.4,1442.9 2190.8,1440.3 2192.3,1437.7 2193.7,1435.1 2195.2,1432.4 2196.6,1429.8 2198.1,1427.2 2199.5,1424.5 2200.9,1421.8 2202.4,1419.2 2203.8,1416.5 2205.3,1413.8 2206.7,1411.1 2208.1,1408.4 2209.6,1405.6 2211.0,1402.9 2212.5,1400.1 2213.9,1397.3 2215.3,1394.6 2216.7,1391.7 2218.2,1388.9 2219.6,1386.1 2221.0,1383.3 2222.5,1380.4 2223.9,1377.6 2225.4,1374.8 2226.9,1372.0 2228.5,1369.2 2230.0,1366.5 2231.6,1363.8 2233.3,1361.1 2234.9,1358.5 2236.7,1355.9 2238.4,1353.3 2240.3,1350.8 2242.2,1348.4 2244.1,1346.1 2246.1,1343.8 2248.2,1341.6 2250.4,1339.4 2252.6,1337.4 2254.9,1335.4 2257.3,1333.6 2259.7,1331.8 2262.2,1330.2 2264.7,1328.7 2267.2,1327.4 2269.8,1326.2 2272.4,1325.1 2275.0,1324.2 2277.6,1323.5 2280.3,1322.9 2282.9,1322.6 2285.5,1322.4 2288.1,1322.4 2290.6,1322.7 2293.2,1323.1 2295.7,1323.8 2298.1,1324.7 2300.5,1325.7 2302.9,1326.9 2305.2,1328.3 2307.4,1329.8 2309.6,1331.5 2311.7,1333.3 2313.7,1335.3 2315.7,1337.4 2317.6,1339.5 2319.4,1341.8 2321.1,1344.2 2322.7,1346.6 2324.2,1349.1 2325.7,1351.7 2327.0,1354.4 2328.3,1357.1 2329.5,1359.9 2330.6,1362.7 2331.7,1365.5 2332.7,1368.4 2333.7,1371.4 2334.6,1374.3 2335.4,1377.3 2336.3,1380.4 2337.1,1383.4 2337.8,1386.4 2338.5,1389.5 2339.3,1392.6 2340.0,1395.7 2340.7,1398.7 2341.3,1401.8 2342.0,1404.8 2342.7,1407.9 2343.3,1411.0 2344.0,1414.0 2344.6,1417.1 2345.2,1420.1 2345.8,1423.2 2346.4,1426.2 2347.0,1429.3 2347.6,1432.3 2348.2,1435.3 2348.7,1438.4 2349.3,1441.4 2349.8,1444.4 2350.3,1447.5 2350.9,1450.5 2351.4,1453.5 2351.9,1456.6 2352.4,1459.6 2352.9,1462.6 2353.4,1465.6 2353.9,1468.6 2354.3,1471.7 2354.8,1474.7 2355.2,1477.7 2355.7,1480.7 2356.1,1483.7 2356.5,1486.7 2357.0,1489.7 2357.4,1492.7 2357.8,1495.7 2358.2,1498.7 2358.6,1501.7 2359.0,1504.7 2359.3,1507.7 2359.7,1510.7 2360.1,1513.7 2360.4,1516.7 2360.8,1519.7 2361.1,1522.7 2361.5,1525.7 2361.8,1528.6 2362.1,1531.6 2362.4,1534.6 2362.7,1537.6 2363.0,1540.6 2363.3,1543.6 2363.6,1546.5 2363.9,1549.5 2364.2,1552.5 2364.5,1555.5 2364.8,1558.5 2365.0,1561.4 2365.3,1564.4 2365.6,1567.4 2365.8,1570.4 2366.1,1573.3 2366.3,1576.3 2366.5,1579.3 2366.8,1582.3 2367.0,1585.2 2367.2,1588.2 2367.5,1591.2 2367.7,1594.1 2367.9,1597.1 2368.1,1600.1 2368.3,1603.1 2368.5,1606.0 2368.7,1609.0 2368.9,1612.0 2369.1,1614.9 2369.3,1617.9 2369.5,1620.9 2369.7,1623.8 2369.8,1626.8 2370.0,1629.8 2370.2,1632.7 2370.4,1635.7 2370.5,1638.7 2370.7,1641.7 2370.8,1644.6 2371.0,1647.6 2371.2,1650.6 2371.3,1653.5 2371.5,1656.5 2371.6,1659.5 2371.8,1662.5 2371.9,1665.4 2372.1,1668.4 2372.2,1671.4 2372.4,1674.4 2372.5,1677.3 2372.6,1680.3 2372.8,1683.3 2372.9,1686.3 2373.1,1689.2 2373.2,1692.2 2373.3,1695.2 2373.5,1698.2 2373.6,1701.2 2373.7,1704.1 2373.9,1707.1 2374.0,1710.1 2374.1,1713.1 2374.3,1716.1 2374.4,1719.1 2374.5,1722.1 2374.7,1725.0 2374.8,1728.0 2375.0,1731.0 2375.1,1734.0 2375.2,1737.0 2375.4,1740.0 2375.5,1743.0 2375.6,1746.0 2375.8,1749.0 2375.9,1752.0 2376.1,1755.0 2376.2,1758.0 2376.3,1761.0 2376.5,1764.0 2376.6,1767.0 2376.8,1770.0 2376.9,1773.1 2377.0,1776.1 2377.2,1779.1 2377.3,1782.1 2377.5,1785.1 2377.6,1788.1 2377.7,1791.1 2377.9,1794.1 2378.0,1797.2 2378.2,1800.2 2378.3,1803.2 2378.5,1806.2 2378.6,1809.2 2378.7,1812.2 2378.9,1815.3 2379.0,1818.3 2379.2,1821.3 2379.3,1824.3 2379.4,1827.4 2379.6,1830.4 2379.7,1833.4 2379.9,1836.4 2380.0,1839.4 2380.1,1842.5 2380.3,1845.5 2380.4,1848.5 2380.5,1851.5 2380.7,1854.6 2380.8,1857.6 2380.9,1860.6 2381.1,1863.6 2381.2,1866.7 2381.3,1869.7 2381.5,1872.7 2381.6,1875.7 2381.7,1878.8 2381.9,1881.8 2382.0,1884.8 2382.1,1887.8 2382.2,1890.9 2382.4,1893.9 2382.5,1896.9 2382.6,1899.9 2382.7,1903.0 2382.9,1906.0 2383.0,1909.0 2383.1,1912.0 2383.2,1915.0 2383.3,1918.1 2383.4,1921.1 2383.5,1924.1 2383.7,1927.1 2383.8,1930.1 2383.9,1933.2 2384.0,1936.2 2384.1,1939.2 2384.2,1942.2 2384.3,1945.2 2384.4,1948.2 2384.5,1951.3 2384.6,1954.3 2384.7,1957.3 2384.8,1960.3 2384.9,1963.3 2384.9,1966.3 2385.0,1969.3 2385.1,1972.3 2385.2,1975.3 2385.3,1978.3 2385.4,1981.3 2385.4,1984.4 2385.5,1987.4 2385.6,1990.4 2385.7,1993.4 2385.7,1996.4 2385.8,1999.4 2385.9,2002.4 2385.9,2005.3 2386.0,2008.3 2386.0,2011.3 2386.1,2014.3 2386.2,2017.3 2386.2,2020.3 2386.3,2023.3 2386.3,2026.3 2386.3,2029.3 2386.4,2032.2 2386.4,2035.2 2386.5,2038.2 2386.5,2041.2 2386.5,2044.1 2386.6,2047.1 2386.6,2050.1 2386.6,2053.1 2386.6,2056.0 2386.6,2059.0" stroke="#4496d2" stroke-width="9.5" stroke-dasharray="3.3 12.4"/>
<path d="M1732.4,2059.0 1735.5,2058.7 1738.6,2058.4 1741.7,2058.0 1744.7,2057.6 1747.8,2057.1 1750.8,2056.7 1753.8,2056.2 1756.8,2055.6 1759.8,2055.1 1762.8,2054.5 1765.8,2053.9 1768.7,2053.2 1771.7,2052.5 1774.6,2051.8 1777.5,2051.1 1780.5,2050.3 1783.3,2049.5 1786.2,2048.7 1789.1,2047.8 1792.0,2047.0 1794.8,2046.0 1797.7,2045.1 1800.5,2044.1 1803.3,2043.2 1806.1,2042.1 1808.9,2041.1 1811.7,2040.0 1814.5,2038.9 1817.2,2037.8 1820.0,2036.7 1822.7,2035.5 1825.4,2034.3 1828.1,2033.1 1830.8,2031.9 1833.5,2030.6 1836.2,2029.3 1838.9,2028.0 1841.5,2026.7 1844.2,2025.3 1846.8,2023.9 1849.4,2022.5 1852.1,2021.1 1854.7,2019.7 1857.3,2018.2 1859.8,2016.7 1862.4,2015.2 1865.0,2013.7 1867.5,2012.1 1870.0,2010.6 1872.6,2009.0 1875.1,2007.4 1877.6,2005.8 1880.1,2004.1 1882.6,2002.5 1885.1,2000.8 1887.5,1999.1 1890.0,1997.4 1892.4,1995.6 1894.9,1993.9 1897.3,1992.1 1899.7,1990.3 1902.1,1988.5 1904.5,1986.7 1906.9,1984.9 1909.3,1983.0 1911.6,1981.2 1914.0,1979.3 1916.3,1977.4 1918.7,1975.5 1921.0,1973.6 1923.3,1971.6 1925.6,1969.7 1927.9,1967.7 1930.2,1965.8 1932.5,1963.8 1934.7,1961.8 1937.0,1959.8 1939.2,1957.7 1941.5,1955.7 1943.7,1953.7 1945.9,1951.6 1948.1,1949.5 1950.4,1947.4 1952.5,1945.4 1954.7,1943.3 1956.9,1941.1 1959.1,1939.0 1961.2,1936.9 1963.4,1934.8 1965.5,1932.6 1967.7,1930.5 1969.8,1928.3 1971.9,1926.1 1974.0,1923.9 1976.1,1921.8 1978.2,1919.6 1980.3,1917.4 1982.3,1915.2 1984.4,1912.9 1986.5,1910.7 1988.5,1908.5 1990.5,1906.3 1992.6,1904.0 1994.6,1901.8 1996.6,1899.5 1998.6,1897.3 2000.6,1895.0 2002.6,1892.8 2004.6,1890.5 2006.6,1888.2 2008.6,1886.0 2010.5,1883.7 2012.5,1881.4 2014.5,1879.1 2016.4,1876.8 2018.4,1874.5 2020.3,1872.2 2022.2,1869.9 2024.2,1867.6 2026.1,1865.3 2028.0,1863.0 2029.9,1860.7 2031.8,1858.4 2033.7,1856.0 2035.7,1853.7 2037.6,1851.4 2039.5,1849.0 2041.3,1846.7 2043.2,1844.4 2045.1,1842.0 2047.0,1839.7 2048.9,1837.4 2050.8,1835.0 2052.7,1832.7 2054.5,1830.3 2056.4,1828.0 2058.3,1825.6 2060.2,1823.3 2062.0,1821.0 2063.9,1818.6 2065.8,1816.3 2067.6,1813.9 2069.5,1811.6 2071.4,1809.2 2073.2,1806.9 2075.1,1804.5 2077.0,1802.2 2078.8,1799.8 2080.7,1797.5 2082.6,1795.1 2084.4,1792.8 2086.3,1790.4 2088.2,1788.1 2090.1,1785.7 2091.9,1783.4 2093.8,1781.1 2095.7,1778.7 2097.6,1776.4 2099.5,1774.0 2101.3,1771.7 2103.2,1769.4 2105.1,1767.1 2107.0,1764.7 2108.9,1762.4 2110.8,1760.1 2112.7,1757.8 2114.6,1755.5 2116.6,1753.1 2118.5,1750.8 2120.4,1748.5 2122.3,1746.2 2124.3,1743.9 2126.2,1741.6 2128.1,1739.4 2130.1,1737.1 2132.0,1734.8 2134.0,1732.5 2136.0,1730.2 2137.9,1728.0 2139.9,1725.7 2141.9,1723.4 2143.9,1721.2 2145.9,1718.9 2147.9,1716.7 2149.9,1714.5 2151.9,1712.2 2153.9,1710.0 2156.0,1707.8 2158.0,1705.6 2160.1,1703.4 2162.1,1701.2 2164.2,1699.0 2166.3,1696.8 2168.3,1694.6 2170.4,1692.4 2172.5,1690.2 2174.7,1688.1 2176.8,1685.9 2178.9,1683.8 2181.0,1681.6 2183.2,1679.5 2185.4,1677.4 2187.5,1675.3 2189.7,1673.2 2191.9,1671.1 2194.1,1669.0 2196.3,1666.9 2198.6,1664.8 2200.8,1662.7 2203.0,1660.7 2205.3,1658.6 2207.6,1656.6 2209.9,1654.6 2212.2,1652.5 2214.5,1650.5 2216.8,1648.5 2219.1,1646.5 2221.5,1644.5 2223.8,1642.6 2226.2,1640.6 2228.6,1638.6 2231.0,1636.7 2233.4,1634.8 2235.9,1632.9 2238.3,1630.9 2240.8,1629.1 2243.3,1627.2 2245.7,1625.4 2248.3,1623.5 2250.8,1621.7 2253.3,1620.0 2255.8,1618.2 2258.4,1616.5 2261.0,1614.8 2263.5,1613.2 2266.1,1611.6 2268.8,1610.0 2271.4,1608.4 2274.0,1606.9 2276.7,1605.5 2279.3,1604.1 2282.0,1602.7 2284.7,1601.4 2287.4,1600.1 2290.1,1598.9 2292.8,1597.8 2295.6,1596.7 2298.3,1595.6 2301.1,1594.6 2303.9,1593.7 2306.6,1592.9 2309.4,1592.1 2312.3,1591.3 2315.1,1590.7 2317.9,1590.1 2320.7,1589.5 2323.6,1589.0 2326.4,1588.6 2329.3,1588.3 2332.1,1588.0 2335.0,1587.8 2337.8,1587.6 2340.7,1587.5 2343.5,1587.5 2346.4,1587.5 2349.2,1587.6 2352.1,1587.8 2354.9,1588.0 2357.7,1588.3 2360.5,1588.7 2363.3,1589.1 2366.1,1589.6 2368.9,1590.2 2371.6,1590.8 2374.4,1591.5 2377.1,1592.2 2379.8,1593.0 2382.5,1593.9 2385.2,1594.9 2387.8,1595.9 2390.4,1597.0 2393.0,1598.1 2395.6,1599.3 2398.1,1600.6 2400.7,1601.9 2403.2,1603.3 2405.6,1604.7 2408.1,1606.2 2410.5,1607.8 2412.9,1609.4 2415.3,1611.0 2417.7,1612.7 2420.1,1614.5 2422.4,1616.3 2424.7,1618.1 2427.0,1620.0 2429.2,1622.0 2431.5,1624.0 2433.7,1626.0 2435.9,1628.0 2438.1,1630.1 2440.3,1632.3 2442.4,1634.4 2444.5,1636.6 2446.6,1638.9 2448.7,1641.1 2450.8,1643.4 2452.9,1645.7 2454.9,1648.1 2456.9,1650.5 2459.0,1652.8 2461.0,1655.3 2462.9,1657.7 2464.9,1660.1 2466.8,1662.6 2468.8,1665.1 2470.7,1667.6 2472.6,1670.1 2474.5,1672.6 2476.4,1675.1 2478.2,1677.7 2480.1,1680.2 2481.9,1682.8 2483.7,1685.3 2485.5,1687.9 2487.3,1690.4 2489.1,1693.0 2490.9,1695.6 2492.6,1698.1 2494.4,1700.7 2496.1,1703.3 2497.9,1705.8 2499.6,1708.4 2501.3,1711.0 2502.9,1713.6 2504.6,1716.2 2506.3,1718.8 2507.9,1721.4 2509.6,1724.0 2511.2,1726.6 2512.8,1729.2 2514.4,1731.8 2516.0,1734.4 2517.6,1737.0 2519.2,1739.6 2520.7,1742.2 2522.3,1744.9 2523.8,1747.5 2525.3,1750.1 2526.8,1752.7 2528.3,1755.4 2529.8,1758.0 2531.3,1760.7 2532.8,1763.3 2534.2,1765.9 2535.7,1768.6 2537.1,1771.3 2538.6,1773.9 2540.0,1776.6 2541.4,1779.2 2542.8,1781.9 2544.1,1784.6 2545.5,1787.2 2546.9,1789.9 2548.2,1792.6 2549.6,1795.3 2550.9,1798.0 2552.2,1800.6 2553.5,1803.3 2554.8,1806.0 2556.1,1808.7 2557.4,1811.4 2558.7,1814.1 2559.9,1816.8 2561.2,1819.6 2562.4,1822.3 2563.6,1825.0 2564.9,1827.7 2566.1,1830.4 2567.3,1833.1 2568.5,1835.9 2569.7,1838.6 2570.8,1841.3 2572.0,1844.1 2573.1,1846.8 2574.3,1849.6 2575.4,1852.3 2576.6,1855.1 2577.7,1857.8 2578.8,1860.6 2579.9,1863.4 2581.0,1866.1 2582.1,1868.9 2583.1,1871.7 2584.2,1874.4 2585.2,1877.2 2586.3,1880.0 2587.3,1882.8 2588.4,1885.6 2589.4,1888.4 2590.4,1891.2 2591.4,1893.9 2592.4,1896.7 2593.4,1899.6 2594.4,1902.4 2595.3,1905.2 2596.3,1908.0 2597.2,1910.8 2598.2,1913.6 2599.1,1916.5 2600.1,1919.3 2601.0,1922.1 2601.9,1924.9 2602.8,1927.8 2603.7,1930.6 2604.6,1933.5 2605.5,1936.3 2606.4,1939.2 2607.2,1942.0 2608.1,1944.9 2609.0,1947.7 2609.8,1950.6 2610.6,1953.5 2611.5,1956.3 2612.3,1959.2 2613.1,1962.1 2613.9,1965.0 2614.7,1967.9 2615.5,1970.8 2616.3,1973.6 2617.1,1976.5 2617.9,1979.4 2618.7,1982.3 2619.4,1985.2 2620.2,1988.2 2620.9,1991.1 2621.7,1994.0 2622.4,1996.9 2623.1,1999.8 2623.9,2002.7 2624.6,2005.7 2625.3,2008.6 2626.0,2011.5 2626.7,2014.5 2627.4,2017.4 2628.1,2020.4 2628.8,2023.3 2629.4,2026.3 2630.1,2029.2 2630.8,2032.2 2631.4,2035.2 2632.1,2038.1 2632.7,2041.1 2633.4,2044.1 2634.0,2047.1 2634.6,2050.0 2635.3,2053.0 2635.9,2056.0 2636.5,2059.0" stroke="#008c00" stroke-width="5"/>
<path d="M1732.4,2059.0 1735.5,2058.5 1738.6,2058.0 1741.6,2057.4 1744.6,2056.8 1747.7,2056.2 1750.7,2055.5 1753.6,2054.8 1756.6,2054.1 1759.5,2053.4 1762.5,2052.6 1765.4,2051.8 1768.3,2050.9 1771.1,2050.0 1774.0,2049.1 1776.8,2048.2 1779.7,2047.2 1782.5,2046.2 1785.3,2045.2 1788.0,2044.2 1790.8,2043.1 1793.5,2042.0 1796.3,2040.8 1799.0,2039.7 1801.7,2038.5 1804.4,2037.3 1807.0,2036.0 1809.7,2034.7 1812.3,2033.4 1814.9,2032.1 1817.5,2030.8 1820.1,2029.4 1822.7,2028.0 1825.3,2026.6 1827.8,2025.1 1830.3,2023.7 1832.9,2022.2 1835.4,2020.7 1837.9,2019.1 1840.3,2017.6 1842.8,2016.0 1845.3,2014.4 1847.7,2012.7 1850.1,2011.1 1852.5,2009.4 1854.9,2007.7 1857.3,2006.0 1859.7,2004.3 1862.1,2002.5 1864.4,2000.8 1866.7,1999.0 1869.1,1997.2 1871.4,1995.3 1873.7,1993.5 1876.0,1991.6 1878.3,1989.7 1880.5,1987.8 1882.8,1985.9 1885.0,1984.0 1887.3,1982.0 1889.5,1980.0 1891.7,1978.0 1893.9,1976.0 1896.1,1974.0 1898.3,1972.0 1900.5,1969.9 1902.6,1967.9 1904.8,1965.8 1906.9,1963.7 1909.1,1961.6 1911.2,1959.5 1913.3,1957.3 1915.4,1955.2 1917.5,1953.0 1919.6,1950.8 1921.7,1948.6 1923.8,1946.4 1925.8,1944.2 1927.9,1942.0 1930.0,1939.8 1932.0,1937.5 1934.0,1935.3 1936.1,1933.0 1938.1,1930.7 1940.1,1928.5 1942.1,1926.2 1944.1,1923.9 1946.1,1921.5 1948.1,1919.2 1950.0,1916.9 1952.0,1914.6 1954.0,1912.2 1955.9,1909.9 1957.9,1907.5 1959.8,1905.1 1961.8,1902.7 1963.7,1900.4 1965.6,1898.0 1967.6,1895.6 1969.5,1893.2 1971.4,1890.8 1973.3,1888.4 1975.2,1886.0 1977.1,1883.6 1979.0,1881.1 1980.9,1878.7 1982.8,1876.3 1984.6,1873.9 1986.5,1871.4 1988.4,1869.0 1990.3,1866.5 1992.1,1864.1 1994.0,1861.7 1995.9,1859.2 1997.7,1856.8 1999.6,1854.3 2001.4,1851.9 2003.3,1849.4 2005.1,1847.0 2006.9,1844.5 2008.8,1842.1 2010.6,1839.7 2012.4,1837.2 2014.3,1834.8 2016.1,1832.3 2017.9,1829.9 2019.8,1827.5 2021.6,1825.0 2023.4,1822.6 2025.2,1820.2 2027.1,1817.8 2028.9,1815.3 2030.7,1812.9 2032.5,1810.5 2034.3,1808.1 2036.2,1805.7 2038.0,1803.3 2039.8,1800.9 2041.6,1798.5 2043.4,1796.1 2045.3,1793.8 2047.1,1791.4 2048.9,1789.0 2050.7,1786.7 2052.5,1784.3 2054.4,1782.0 2056.2,1779.6 2058.0,1777.3 2059.9,1775.0 2061.7,1772.6 2063.5,1770.3 2065.4,1768.0 2067.2,1765.7 2069.0,1763.4 2070.9,1761.1 2072.7,1758.8 2074.6,1756.5 2076.5,1754.2 2078.3,1751.9 2080.2,1749.6 2082.1,1747.3 2083.9,1745.1 2085.8,1742.8 2087.7,1740.5 2089.6,1738.3 2091.5,1736.0 2093.4,1733.8 2095.3,1731.5 2097.2,1729.3 2099.1,1727.0 2101.0,1724.8 2103.0,1722.6 2104.9,1720.4 2106.9,1718.1 2108.8,1715.9 2110.8,1713.7 2112.7,1711.5 2114.7,1709.3 2116.7,1707.1 2118.7,1704.9 2120.7,1702.7 2122.7,1700.5 2124.7,1698.3 2126.7,1696.1 2128.8,1693.9 2130.8,1691.7 2132.9,1689.6 2134.9,1687.4 2137.0,1685.2 2139.1,1683.1 2141.2,1680.9 2143.3,1678.7 2145.4,1676.6 2147.5,1674.4 2149.6,1672.3 2151.8,1670.1 2154.0,1668.0 2156.1,1665.8 2158.3,1663.7 2160.5,1661.6 2162.7,1659.4 2164.9,1657.3 2167.1,1655.2 2169.4,1653.0 2171.6,1650.9 2173.9,1648.8 2176.2,1646.7 2178.5,1644.6 2180.8,1642.5 2183.1,1640.4 2185.5,1638.4 2187.8,1636.3 2190.2,1634.3 2192.6,1632.3 2194.9,1630.3 2197.4,1628.4 2199.8,1626.5 2202.2,1624.6 2204.7,1622.7 2207.1,1620.9 2209.6,1619.1 2212.1,1617.3 2214.6,1615.6 2217.2,1613.9 2219.7,1612.2 2222.3,1610.6 2224.8,1609.1 2227.4,1607.6 2230.1,1606.1 2232.7,1604.7 2235.3,1603.4 2238.0,1602.1 2240.7,1600.8 2243.4,1599.7 2246.1,1598.5 2248.8,1597.5 2251.6,1596.5 2254.3,1595.6 2257.1,1594.7 2259.9,1593.9 2262.7,1593.2 2265.6,1592.6 2268.4,1592.0 2271.3,1591.5 2274.2,1591.1 2277.1,1590.7 2280.0,1590.4 2282.9,1590.2 2285.8,1590.0 2288.8,1589.9 2291.7,1589.9 2294.6,1589.9 2297.6,1590.0 2300.5,1590.2 2303.4,1590.4 2306.4,1590.7 2309.3,1591.0 2312.2,1591.4 2315.2,1591.9 2318.1,1592.4 2321.0,1593.0 2323.9,1593.6 2326.8,1594.3 2329.6,1595.1 2332.5,1595.9 2335.4,1596.8 2338.2,1597.7 2341.0,1598.7 2343.8,1599.7 2346.6,1600.8 2349.3,1601.9 2352.1,1603.1 2354.8,1604.3 2357.4,1605.6 2360.1,1606.9 2362.7,1608.3 2365.3,1609.8 2367.9,1611.2 2370.4,1612.8 2372.9,1614.3 2375.4,1616.0 2377.8,1617.6 2380.2,1619.3 2382.6,1621.1 2384.9,1622.9 2387.2,1624.7 2389.5,1626.6 2391.8,1628.5 2394.0,1630.4 2396.1,1632.4 2398.3,1634.4 2400.4,1636.5 2402.5,1638.6 2404.6,1640.7 2406.6,1642.9 2408.7,1645.1 2410.7,1647.3 2412.6,1649.5 2414.6,1651.8 2416.5,1654.1 2418.4,1656.4 2420.3,1658.8 2422.2,1661.2 2424.0,1663.6 2425.8,1666.0 2427.7,1668.4 2429.4,1670.9 2431.2,1673.4 2433.0,1675.9 2434.7,1678.4 2436.4,1680.9 2438.2,1683.5 2439.9,1686.0 2441.6,1688.6 2443.2,1691.2 2444.9,1693.8 2446.6,1696.4 2448.2,1699.0 2449.8,1701.6 2451.5,1704.2 2453.1,1706.9 2454.7,1709.5 2456.3,1712.2 2457.9,1714.8 2459.5,1717.5 2461.1,1720.1 2462.7,1722.8 2464.3,1725.4 2465.9,1728.1 2467.4,1730.7 2469.0,1733.3 2470.6,1736.0 2472.2,1738.6 2473.7,1741.3 2475.3,1743.9 2476.9,1746.5 2478.5,1749.1 2480.0,1751.8 2481.6,1754.4 2483.1,1757.0 2484.7,1759.6 2486.3,1762.2 2487.8,1764.9 2489.4,1767.5 2490.9,1770.1 2492.5,1772.7 2494.0,1775.3 2495.6,1777.9 2497.1,1780.5 2498.6,1783.1 2500.2,1785.7 2501.7,1788.3 2503.2,1790.9 2504.8,1793.5 2506.3,1796.1 2507.8,1798.7 2509.3,1801.3 2510.9,1803.9 2512.4,1806.5 2513.9,1809.1 2515.4,1811.7 2516.9,1814.3 2518.4,1816.9 2519.9,1819.5 2521.4,1822.1 2522.9,1824.7 2524.4,1827.3 2525.9,1829.9 2527.4,1832.5 2528.8,1835.1 2530.3,1837.7 2531.8,1840.3 2533.3,1842.9 2534.7,1845.5 2536.2,1848.1 2537.7,1850.7 2539.1,1853.3 2540.6,1855.9 2542.0,1858.5 2543.5,1861.1 2544.9,1863.7 2546.4,1866.3 2547.8,1868.9 2549.2,1871.5 2550.6,1874.1 2552.1,1876.7 2553.5,1879.3 2554.9,1881.9 2556.3,1884.5 2557.7,1887.2 2559.1,1889.8 2560.5,1892.4 2561.9,1895.0 2563.3,1897.6 2564.7,1900.3 2566.1,1902.9 2567.5,1905.5 2568.8,1908.2 2570.2,1910.8 2571.6,1913.4 2572.9,1916.1 2574.3,1918.7 2575.6,1921.4 2577.0,1924.0 2578.3,1926.7 2579.7,1929.3 2581.0,1932.0 2582.3,1934.7 2583.6,1937.3 2585.0,1940.0 2586.3,1942.7 2587.6,1945.3 2588.9,1948.0 2590.2,1950.7 2591.5,1953.4 2592.8,1956.1 2594.0,1958.8 2595.3,1961.5 2596.6,1964.2 2597.9,1966.9 2599.1,1969.6 2600.4,1972.3 2601.6,1975.0 2602.9,1977.7 2604.1,1980.5 2605.4,1983.2 2606.6,1985.9 2607.8,1988.7 2609.0,1991.4 2610.2,1994.2 2611.5,1996.9 2612.7,1999.7 2613.9,2002.5 2615.0,2005.2 2616.2,2008.0 2617.4,2010.8 2618.6,2013.6 2619.7,2016.4 2620.9,2019.2 2622.1,2022.0 2623.2,2024.8 2624.4,2027.6 2625.5,2030.4 2626.6,2033.3 2627.7,2036.1 2628.9,2038.9 2630.0,2041.8 2631.1,2044.6 2632.2,2047.5 2633.3,2050.4 2634.4,2053.2 2635.4,2056.1 2636.5,2059.0" stroke="#008c00" stroke-width="5" stroke-dasharray="17.7 7.5"/>
<path d="M1784.6,2059.0 1787.4,2057.9 1790.1,2056.9 1792.9,2055.9 1795.7,2054.8 1798.5,2053.8 1801.3,2052.7 1804.1,2051.7 1806.9,2050.7 1809.7,2049.6 1812.5,2048.6 1815.3,2047.5 1818.1,2046.5 1820.9,2045.5 1823.7,2044.4 1826.5,2043.4 1829.3,2042.4 1832.1,2041.3 1835.0,2040.3 1837.8,2039.2 1840.6,2038.2 1843.4,2037.2 1846.2,2036.1 1849.1,2035.1 1851.9,2034.0 1854.7,2033.0 1857.5,2031.9 1860.3,2030.9 1863.2,2029.8 1866.0,2028.7 1868.8,2027.7 1871.6,2026.6 1874.5,2025.5 1877.3,2024.5 1880.1,2023.4 1882.9,2022.3 1885.8,2021.2 1888.6,2020.2 1891.4,2019.1 1894.2,2018.0 1897.0,2016.9 1899.8,2015.8 1902.7,2014.7 1905.5,2013.6 1908.3,2012.4 1911.1,2011.3 1913.9,2010.2 1916.7,2009.1 1919.5,2007.9 1922.3,2006.8 1925.1,2005.6 1927.9,2004.5 1930.7,2003.3 1933.4,2002.2 1936.2,2001.0 1939.0,1999.8 1941.8,1998.6 1944.5,1997.4 1947.3,1996.2 1950.1,1995.0 1952.8,1993.8 1955.6,1992.6 1958.3,1991.4 1961.1,1990.1 1963.8,1988.9 1966.6,1987.6 1969.3,1986.3 1972.0,1985.1 1974.7,1983.8 1977.5,1982.5 1980.2,1981.2 1982.9,1979.9 1985.6,1978.6 1988.3,1977.3 1991.0,1975.9 1993.6,1974.6 1996.3,1973.2 1999.0,1971.9 2001.6,1970.5 2004.3,1969.1 2006.9,1967.7 2009.6,1966.3 2012.2,1964.9 2014.8,1963.5 2017.5,1962.0 2020.1,1960.6 2022.7,1959.1 2025.3,1957.6 2027.9,1956.2 2030.4,1954.7 2033.0,1953.1 2035.6,1951.6 2038.1,1950.1 2040.7,1948.5 2043.2,1947.0 2045.8,1945.4 2048.3,1943.8 2050.8,1942.2 2053.3,1940.6 2055.8,1939.0 2058.3,1937.4 2060.7,1935.7 2063.2,1934.0 2065.7,1932.4 2068.1,1930.7 2070.5,1929.0 2073.0,1927.2 2075.4,1925.5 2077.8,1923.7 2080.2,1922.0 2082.5,1920.2 2084.9,1918.4 2087.3,1916.6 2089.6,1914.8 2092.0,1912.9 2094.3,1911.0 2096.6,1909.2 2098.9,1907.3 2101.2,1905.4 2103.5,1903.4 2105.7,1901.5 2108.0,1899.5 2110.2,1897.6 2112.5,1895.6 2114.7,1893.6 2116.9,1891.5 2119.1,1889.5 2121.2,1887.4 2123.4,1885.3 2125.6,1883.2 2127.7,1881.1 2129.8,1879.0 2131.9,1876.8 2134.0,1874.7 2136.1,1872.5 2138.2,1870.3 2140.3,1868.1 2142.4,1865.9 2144.4,1863.7 2146.5,1861.4 2148.5,1859.2 2150.6,1857.0 2152.6,1854.7 2154.6,1852.4 2156.7,1850.2 2158.7,1847.9 2160.7,1845.6 2162.7,1843.4 2164.8,1841.1 2166.8,1838.8 2168.8,1836.5 2170.8,1834.3 2172.9,1832.0 2174.9,1829.7 2176.9,1827.4 2178.9,1825.2 2181.0,1822.9 2183.0,1820.6 2185.1,1818.4 2187.1,1816.2 2189.2,1813.9 2191.2,1811.7 2193.3,1809.5 2195.4,1807.3 2197.5,1805.1 2199.6,1802.9 2201.7,1800.7 2203.8,1798.6 2205.9,1796.4 2208.0,1794.3 2210.1,1792.1 2212.3,1790.0 2214.4,1787.9 2216.5,1785.8 2218.7,1783.6 2220.8,1781.5 2223.0,1779.4 2225.1,1777.3 2227.3,1775.3 2229.4,1773.2 2231.6,1771.1 2233.8,1769.0 2235.9,1766.9 2238.1,1764.9 2240.2,1762.8 2242.4,1760.7 2244.6,1758.6 2246.7,1756.6 2248.9,1754.5 2251.0,1752.4 2253.2,1750.4 2255.3,1748.3 2257.5,1746.2 2259.6,1744.1 2261.7,1742.0 2263.9,1740.0 2266.0,1737.9 2268.1,1735.8 2270.2,1733.7 2272.3,1731.6 2274.4,1729.5 2276.5,1727.4 2278.6,1725.2 2280.7,1723.1 2282.7,1721.0 2284.8,1718.9 2286.8,1716.7 2288.9,1714.6 2290.9,1712.4 2293.0,1710.3 2295.0,1708.1 2297.0,1706.0 2299.1,1703.8 2301.1,1701.6 2303.1,1699.4 2305.1,1697.3 2307.1,1695.1 2309.1,1692.9 2311.1,1690.7 2313.1,1688.5 2315.1,1686.3 2317.1,1684.1 2319.1,1681.9 2321.0,1679.7 2323.0,1677.4 2325.0,1675.2 2326.9,1673.0 2328.9,1670.8 2330.9,1668.5 2332.8,1666.3 2334.8,1664.0 2336.7,1661.8 2338.7,1659.5 2340.6,1657.3 2342.6,1655.0 2344.5,1652.8 2346.5,1650.5 2348.4,1648.2 2350.3,1645.9 2352.3,1643.7 2354.2,1641.4 2356.1,1639.1 2358.1,1636.8 2360.0,1634.5 2361.9,1632.2 2363.9,1629.9 2365.8,1627.6 2367.7,1625.3 2369.7,1623.0 2371.6,1620.7 2373.5,1618.4 2375.5,1616.1 2377.4,1613.8 2379.3,1611.4 2381.3,1609.1 2383.2,1606.8 2385.1,1604.5 2387.1,1602.1 2389.0,1599.8 2390.9,1597.4 2392.9,1595.1 2394.8,1592.8 2396.8,1590.4 2398.7,1588.1 2400.6,1585.7 2402.6,1583.4 2404.5,1581.0 2406.5,1578.6 2408.5,1576.3 2410.4,1573.9 2412.4,1571.6 2414.4,1569.2 2416.3,1566.9 2418.3,1564.5 2420.3,1562.2 2422.3,1559.9 2424.3,1557.5 2426.3,1555.2 2428.4,1552.9 2430.4,1550.6 2432.5,1548.4 2434.6,1546.1 2436.6,1543.9 2438.7,1541.7 2440.8,1539.5 2443.0,1537.3 2445.1,1535.1 2447.3,1533.0 2449.5,1530.9 2451.7,1528.8 2453.9,1526.7 2456.1,1524.7 2458.4,1522.7 2460.7,1520.7 2463.0,1518.8 2465.3,1516.9 2467.7,1515.0 2470.1,1513.2 2472.5,1511.4 2474.9,1509.6 2477.4,1507.9 2479.9,1506.2 2482.4,1504.6 2484.9,1503.0 2487.5,1501.5 2490.1,1500.0 2492.8,1498.5 2495.5,1497.1 2498.2,1495.7 2500.9,1494.4 2503.7,1493.2 2506.5,1492.0 2509.3,1490.9 2512.1,1489.9 2515.0,1489.0 2517.8,1488.2 2520.7,1487.5 2523.5,1486.9 2526.4,1486.5 2529.2,1486.2 2532.1,1486.1 2534.9,1486.1 2537.6,1486.3 2540.4,1486.6 2543.1,1487.2 2545.8,1487.9 2548.5,1488.8 2551.1,1489.8 2553.6,1491.0 2556.1,1492.4 2558.5,1493.8 2560.9,1495.4 2563.1,1497.1 2565.3,1498.9 2567.4,1500.8 2569.5,1502.8 2571.4,1504.9 2573.3,1507.0 2575.0,1509.3 2576.7,1511.5 2578.3,1513.9 2579.9,1516.3 2581.4,1518.8 2582.8,1521.4 2584.1,1524.0 2585.4,1526.6 2586.7,1529.3 2587.8,1532.1 2589.0,1534.9 2590.1,1537.7 2591.1,1540.6 2592.1,1543.4 2593.0,1546.4 2594.0,1549.3 2594.9,1552.3 2595.7,1555.3 2596.5,1558.3 2597.4,1561.3 2598.1,1564.3 2598.9,1567.3 2599.7,1570.4 2600.4,1573.4 2601.1,1576.4 2601.8,1579.4 2602.5,1582.4 2603.2,1585.5 2603.9,1588.5 2604.5,1591.5 2605.2,1594.5 2605.8,1597.5 2606.4,1600.5 2607.1,1603.6 2607.7,1606.6 2608.2,1609.6 2608.8,1612.6 2609.4,1615.6 2609.9,1618.6 2610.5,1621.6 2611.0,1624.6 2611.5,1627.6 2612.0,1630.6 2612.5,1633.6 2613.0,1636.6 2613.5,1639.6 2614.0,1642.6 2614.4,1645.6 2614.9,1648.6 2615.3,1651.6 2615.7,1654.6 2616.1,1657.6 2616.6,1660.6 2616.9,1663.6 2617.3,1666.6 2617.7,1669.6 2618.1,1672.6 2618.4,1675.6 2618.8,1678.6 2619.1,1681.6 2619.5,1684.6 2619.8,1687.6 2620.1,1690.5 2620.4,1693.5 2620.7,1696.5 2621.0,1699.5 2621.3,1702.5 2621.6,1705.5 2621.9,1708.5 2622.1,1711.4 2622.4,1714.4 2622.6,1717.4 2622.9,1720.4 2623.1,1723.4 2623.3,1726.4 2623.6,1729.3 2623.8,1732.3 2624.0,1735.3 2624.2,1738.3 2624.4,1741.3 2624.6,1744.2 2624.7,1747.2 2624.9,1750.2 2625.1,1753.2 2625.3,1756.2 2625.4,1759.1 2625.6,1762.1 2625.7,1765.1 2625.9,1768.1 2626.0,1771.1 2626.2,1774.0 2626.3,1777.0 2626.4,1780.0 2626.5,1783.0 2626.7,1786.0 2626.8,1788.9 2626.9,1791.9 2627.0,1794.9 2627.1,1797.9 2627.2,1800.8 2627.3,1803.8 2627.4,1806.8 2627.5,1809.8 2627.6,1812.8 2627.7,1815.7 2627.7,1818.7 2627.8,1821.7 2627.9,1824.7 2628.0,1827.7 2628.0,1830.6 2628.1,1833.6 2628.2,1836.6 2628.2,1839.6 2628.3,1842.6 2628.4,1845.5 2628.4,1848.5 2628.5,1851.5 2628.5,1854.5 2628.6,1857.5 2628.7,1860.4 2628.7,1863.4 2628.8,1866.4 2628.8,1869.4 2628.9,1872.4 2628.9,1875.4 2629.0,1878.4 2629.0,1881.3 2629.1,1884.3 2629.1,1887.3 2629.2,1890.3 2629.2,1893.3 2629.3,1896.3 2629.3,1899.3 2629.4,1902.3 2629.5,1905.2 2629.5,1908.2 2629.6,1911.2 2629.6,1914.2 2629.7,1917.2 2629.8,1920.2 2629.8,1923.2 2629.9,1926.2 2630.0,1929.2 2630.0,1932.2 2630.1,1935.2 2630.2,1938.2 2630.2,1941.2 2630.3,1944.2 2630.4,1947.2 2630.5,1950.2 2630.6,1953.2 2630.7,1956.2 2630.8,1959.2 2630.9,1962.2 2631.0,1965.2 2631.1,1968.2 2631.2,1971.2 2631.3,1974.2 2631.4,1977.2 2631.5,1980.3 2631.6,1983.3 2631.8,1986.3 2631.9,1989.3 2632.0,1992.3 2632.2,1995.3 2632.3,1998.4 2632.5,2001.4 2632.6,2004.4 2632.8,2007.4 2633.0,2010.4 2633.2,2013.5 2633.3,2016.5 2633.5,2019.5 2633.7,2022.5 2633.9,2025.6 2634.1,2028.6 2634.3,2031.6 2634.5,2034.7 2634.8,2037.7 2635.0,2040.7 2635.2,2043.8 2635.5,2046.8 2635.7,2049.9 2636.0,2052.9 2636.2,2056.0 2636.5,2059.0" stroke="#008c00" stroke-width="9.5" stroke-dasharray="3.3 12.4"/>
<path d="M1732.4,2059.0 1735.5,2058.8 1738.5,2058.5 1741.6,2058.2 1744.6,2057.9 1747.7,2057.6 1750.7,2057.2 1753.7,2056.8 1756.7,2056.4 1759.7,2056.0 1762.7,2055.5 1765.7,2055.0 1768.7,2054.5 1771.7,2054.0 1774.7,2053.4 1777.6,2052.9 1780.6,2052.3 1783.6,2051.7 1786.5,2051.0 1789.4,2050.3 1792.4,2049.7 1795.3,2049.0 1798.2,2048.2 1801.1,2047.5 1804.0,2046.7 1806.9,2045.9 1809.8,2045.1 1812.7,2044.2 1815.5,2043.4 1818.4,2042.5 1821.3,2041.6 1824.1,2040.7 1827.0,2039.7 1829.8,2038.8 1832.6,2037.8 1835.4,2036.8 1838.2,2035.8 1841.0,2034.7 1843.8,2033.7 1846.6,2032.6 1849.4,2031.5 1852.2,2030.4 1855.0,2029.3 1857.7,2028.1 1860.5,2026.9 1863.2,2025.7 1865.9,2024.5 1868.7,2023.3 1871.4,2022.1 1874.1,2020.8 1876.8,2019.5 1879.5,2018.2 1882.2,2016.9 1884.9,2015.6 1887.5,2014.2 1890.2,2012.9 1892.9,2011.5 1895.5,2010.1 1898.2,2008.7 1900.8,2007.2 1903.4,2005.8 1906.0,2004.3 1908.6,2002.8 1911.2,2001.4 1913.8,1999.8 1916.4,1998.3 1919.0,1996.8 1921.6,1995.2 1924.1,1993.7 1926.7,1992.1 1929.2,1990.5 1931.8,1988.9 1934.3,1987.2 1936.8,1985.6 1939.3,1983.9 1941.8,1982.3 1944.3,1980.6 1946.8,1978.9 1949.3,1977.2 1951.8,1975.5 1954.2,1973.7 1956.7,1972.0 1959.1,1970.2 1961.6,1968.5 1964.0,1966.7 1966.4,1964.9 1968.8,1963.1 1971.2,1961.3 1973.6,1959.4 1976.0,1957.6 1978.4,1955.7 1980.8,1953.9 1983.1,1952.0 1985.5,1950.1 1987.8,1948.2 1990.2,1946.3 1992.5,1944.4 1994.8,1942.5 1997.1,1940.5 1999.4,1938.6 2001.7,1936.6 2004.0,1934.6 2006.3,1932.7 2008.5,1930.7 2010.8,1928.7 2013.1,1926.7 2015.3,1924.7 2017.5,1922.6 2019.7,1920.6 2022.0,1918.6 2024.2,1916.5 2026.4,1914.5 2028.6,1912.4 2030.7,1910.3 2032.9,1908.3 2035.1,1906.2 2037.2,1904.1 2039.4,1902.0 2041.5,1899.9 2043.7,1897.8 2045.8,1895.7 2047.9,1893.5 2050.0,1891.4 2052.2,1889.3 2054.3,1887.1 2056.4,1885.0 2058.5,1882.8 2060.5,1880.7 2062.6,1878.5 2064.7,1876.3 2066.8,1874.2 2068.9,1872.0 2070.9,1869.8 2073.0,1867.6 2075.0,1865.4 2077.1,1863.2 2079.1,1861.0 2081.2,1858.8 2083.2,1856.6 2085.3,1854.4 2087.3,1852.2 2089.4,1850.0 2091.4,1847.8 2093.4,1845.6 2095.5,1843.4 2097.5,1841.1 2099.5,1838.9 2101.5,1836.7 2103.6,1834.5 2105.6,1832.3 2107.6,1830.0 2109.6,1827.8 2111.7,1825.6 2113.7,1823.3 2115.7,1821.1 2117.7,1818.9 2119.8,1816.7 2121.8,1814.4 2123.8,1812.2 2125.8,1810.0 2127.9,1807.7 2129.9,1805.5 2131.9,1803.3 2134.0,1801.1 2136.0,1798.9 2138.0,1796.6 2140.1,1794.4 2142.1,1792.2 2144.2,1790.0 2146.2,1787.8 2148.3,1785.6 2150.3,1783.4 2152.4,1781.2 2154.5,1779.0 2156.5,1776.8 2158.6,1774.6 2160.7,1772.4 2162.8,1770.2 2164.9,1768.0 2167.0,1765.8 2169.1,1763.7 2171.2,1761.5 2173.3,1759.3 2175.4,1757.2 2177.5,1755.0 2179.7,1752.9 2181.8,1750.7 2183.9,1748.6 2186.1,1746.5 2188.2,1744.3 2190.4,1742.2 2192.6,1740.1 2194.8,1738.0 2197.0,1735.9 2199.2,1733.8 2201.4,1731.7 2203.6,1729.6 2205.8,1727.6 2208.0,1725.5 2210.3,1723.4 2212.5,1721.4 2214.8,1719.4 2217.0,1717.3 2219.3,1715.3 2221.6,1713.3 2223.9,1711.3 2226.2,1709.3 2228.6,1707.3 2230.9,1705.3 2233.2,1703.4 2235.6,1701.4 2238.0,1699.5 2240.3,1697.5 2242.7,1695.6 2245.1,1693.7 2247.6,1691.8 2250.0,1689.9 2252.4,1688.0 2254.9,1686.1 2257.4,1684.3 2259.8,1682.4 2262.3,1680.6 2264.8,1678.8 2267.3,1677.0 2269.9,1675.2 2272.4,1673.4 2275.0,1671.7 2277.5,1670.0 2280.1,1668.3 2282.7,1666.6 2285.3,1665.0 2287.9,1663.3 2290.5,1661.7 2293.1,1660.2 2295.8,1658.6 2298.4,1657.1 2301.1,1655.6 2303.7,1654.2 2306.4,1652.8 2309.1,1651.4 2311.8,1650.0 2314.5,1648.7 2317.2,1647.4 2319.9,1646.2 2322.6,1645.0 2325.4,1643.8 2328.1,1642.7 2330.9,1641.6 2333.6,1640.6 2336.4,1639.6 2339.2,1638.6 2342.0,1637.7 2344.8,1636.8 2347.6,1636.0 2350.4,1635.2 2353.2,1634.5 2356.0,1633.8 2358.8,1633.2 2361.7,1632.6 2364.5,1632.1 2367.4,1631.6 2370.2,1631.2 2373.1,1630.8 2375.9,1630.5 2378.8,1630.2 2381.6,1630.0 2384.5,1629.8 2387.3,1629.7 2390.2,1629.6 2393.0,1629.6 2395.9,1629.6 2398.7,1629.7 2401.6,1629.8 2404.4,1630.0 2407.2,1630.3 2410.1,1630.5 2412.9,1630.9 2415.7,1631.3 2418.5,1631.7 2421.3,1632.2 2424.1,1632.7 2426.9,1633.3 2429.7,1634.0 2432.4,1634.6 2435.2,1635.4 2437.9,1636.2 2440.7,1637.0 2443.4,1637.9 2446.1,1638.9 2448.8,1639.9 2451.5,1640.9 2454.2,1642.0 2456.8,1643.2 2459.5,1644.3 2462.1,1645.6 2464.7,1646.9 2467.3,1648.2 2469.9,1649.5 2472.5,1650.9 2475.1,1652.4 2477.7,1653.9 2480.2,1655.4 2482.7,1656.9 2485.3,1658.5 2487.8,1660.2 2490.3,1661.9 2492.7,1663.6 2495.2,1665.3 2497.6,1667.1 2500.1,1668.9 2502.5,1670.7 2504.9,1672.6 2507.3,1674.5 2509.7,1676.4 2512.0,1678.4 2514.4,1680.4 2516.7,1682.4 2519.0,1684.5 2521.3,1686.5 2523.6,1688.6 2525.9,1690.8 2528.1,1692.9 2530.4,1695.1 2532.6,1697.3 2534.8,1699.5 2537.0,1701.7 2539.2,1704.0 2541.3,1706.2 2543.5,1708.5 2545.6,1710.8 2547.7,1713.2 2549.8,1715.5 2551.9,1717.9 2553.9,1720.2 2556.0,1722.6 2558.0,1725.0 2560.0,1727.4 2562.0,1729.8 2564.0,1732.3 2565.9,1734.7 2567.8,1737.2 2569.8,1739.6 2571.6,1742.1 2573.5,1744.5 2575.4,1747.0 2577.2,1749.5 2579.1,1752.0 2580.9,1754.5 2582.7,1757.0 2584.4,1759.5 2586.2,1762.0 2587.9,1764.6 2589.7,1767.1 2591.4,1769.6 2593.1,1772.2 2594.8,1774.7 2596.5,1777.3 2598.1,1779.8 2599.8,1782.4 2601.4,1785.0 2603.0,1787.5 2604.6,1790.1 2606.2,1792.7 2607.8,1795.3 2609.4,1797.9 2610.9,1800.5 2612.5,1803.1 2614.0,1805.7 2615.6,1808.3 2617.1,1810.9 2618.6,1813.5 2620.1,1816.1 2621.6,1818.8 2623.1,1821.4 2624.5,1824.0 2626.0,1826.6 2627.4,1829.3 2628.9,1831.9 2630.3,1834.6 2631.8,1837.2 2633.2,1839.8 2634.6,1842.5 2636.0,1845.1 2637.4,1847.8 2638.8,1850.4 2640.2,1853.1 2641.6,1855.8 2643.0,1858.4 2644.4,1861.1 2645.8,1863.7 2647.2,1866.4 2648.5,1869.1 2649.9,1871.7 2651.3,1874.4 2652.6,1877.0 2654.0,1879.7 2655.4,1882.4 2656.7,1885.0 2658.1,1887.7 2659.4,1890.4 2660.8,1893.0 2662.1,1895.7 2663.5,1898.4 2664.8,1901.0 2666.2,1903.7 2667.6,1906.3 2668.9,1909.0 2670.3,1911.7 2671.6,1914.3 2673.0,1917.0 2674.3,1919.6 2675.7,1922.3 2677.1,1924.9 2678.5,1927.6 2679.8,1930.2 2681.2,1932.8 2682.6,1935.5 2684.0,1938.1 2685.4,1940.8 2686.8,1943.4 2688.2,1946.0 2689.6,1948.6 2691.0,1951.3 2692.4,1953.9 2693.8,1956.5 2695.3,1959.1 2696.7,1961.7 2698.1,1964.3 2699.6,1966.9 2701.1,1969.5 2702.5,1972.1 2704.0,1974.7 2705.5,1977.3 2707.0,1979.9 2708.5,1982.4 2710.0,1985.0 2711.5,1987.6 2713.1,1990.1 2714.6,1992.7 2716.2,1995.2 2717.7,1997.7 2719.3,2000.3 2720.9,2002.8 2722.5,2005.3 2724.1,2007.8 2725.8,2010.4 2727.4,2012.9 2729.0,2015.4 2730.7,2017.8 2732.4,2020.3 2734.1,2022.8 2735.8,2025.3 2737.5,2027.7 2739.3,2030.2 2741.0,2032.6 2742.8,2035.1 2744.6,2037.5 2746.4,2039.9 2748.2,2042.3 2750.0,2044.7 2751.9,2047.1 2753.8,2049.5 2755.7,2051.9 2757.6,2054.3 2759.5,2056.6 2761.4,2059.0" stroke="#ff8c00" stroke-width="5"/>
<path d="M1732.4,2059.0 1735.5,2058.6 1738.6,2058.3 1741.7,2057.8 1744.8,2057.4 1747.8,2056.9 1750.9,2056.4 1753.9,2055.9 1756.9,2055.3 1759.9,2054.7 1762.9,2054.1 1765.9,2053.5 1768.9,2052.8 1771.8,2052.1 1774.8,2051.4 1777.7,2050.6 1780.6,2049.8 1783.5,2049.0 1786.4,2048.2 1789.3,2047.3 1792.2,2046.5 1795.0,2045.5 1797.9,2044.6 1800.7,2043.6 1803.5,2042.7 1806.3,2041.6 1809.1,2040.6 1811.9,2039.5 1814.7,2038.5 1817.4,2037.3 1820.2,2036.2 1822.9,2035.1 1825.6,2033.9 1828.4,2032.7 1831.1,2031.4 1833.8,2030.2 1836.4,2028.9 1839.1,2027.6 1841.8,2026.3 1844.4,2025.0 1847.0,2023.6 1849.7,2022.2 1852.3,2020.8 1854.9,2019.4 1857.5,2018.0 1860.0,2016.5 1862.6,2015.0 1865.2,2013.5 1867.7,2012.0 1870.2,2010.5 1872.8,2008.9 1875.3,2007.3 1877.8,2005.7 1880.3,2004.1 1882.8,2002.5 1885.2,2000.8 1887.7,1999.1 1890.1,1997.4 1892.6,1995.7 1895.0,1994.0 1897.4,1992.3 1899.8,1990.5 1902.2,1988.7 1904.6,1986.9 1907.0,1985.1 1909.4,1983.3 1911.7,1981.5 1914.1,1979.6 1916.4,1977.7 1918.8,1975.9 1921.1,1974.0 1923.4,1972.0 1925.7,1970.1 1928.0,1968.2 1930.3,1966.2 1932.5,1964.2 1934.8,1962.3 1937.0,1960.3 1939.3,1958.2 1941.5,1956.2 1943.7,1954.2 1945.9,1952.1 1948.2,1950.1 1950.4,1948.0 1952.5,1945.9 1954.7,1943.8 1956.9,1941.7 1959.0,1939.6 1961.2,1937.5 1963.3,1935.3 1965.5,1933.2 1967.6,1931.0 1969.7,1928.9 1971.8,1926.7 1973.9,1924.5 1976.0,1922.3 1978.1,1920.1 1980.2,1917.9 1982.2,1915.6 1984.3,1913.4 1986.3,1911.2 1988.4,1908.9 1990.4,1906.7 1992.4,1904.4 1994.4,1902.1 1996.5,1899.9 1998.5,1897.6 2000.5,1895.3 2002.4,1893.0 2004.4,1890.7 2006.4,1888.4 2008.4,1886.1 2010.3,1883.7 2012.3,1881.4 2014.2,1879.1 2016.2,1876.7 2018.1,1874.4 2020.1,1872.1 2022.0,1869.7 2023.9,1867.4 2025.9,1865.0 2027.8,1862.7 2029.7,1860.3 2031.6,1857.9 2033.5,1855.6 2035.5,1853.2 2037.4,1850.8 2039.3,1848.5 2041.2,1846.1 2043.1,1843.7 2045.0,1841.4 2046.9,1839.0 2048.8,1836.6 2050.7,1834.2 2052.6,1831.8 2054.5,1829.5 2056.4,1827.1 2058.3,1824.7 2060.1,1822.3 2062.0,1820.0 2063.9,1817.6 2065.8,1815.2 2067.7,1812.9 2069.6,1810.5 2071.5,1808.1 2073.4,1805.8 2075.3,1803.4 2077.2,1801.1 2079.1,1798.7 2081.1,1796.4 2083.0,1794.0 2084.9,1791.7 2086.8,1789.3 2088.7,1787.0 2090.7,1784.7 2092.6,1782.3 2094.5,1780.0 2096.5,1777.7 2098.4,1775.4 2100.4,1773.1 2102.3,1770.8 2104.3,1768.5 2106.2,1766.2 2108.2,1764.0 2110.2,1761.7 2112.2,1759.4 2114.1,1757.2 2116.1,1754.9 2118.1,1752.7 2120.1,1750.5 2122.2,1748.2 2124.2,1746.0 2126.2,1743.8 2128.2,1741.6 2130.3,1739.4 2132.3,1737.3 2134.4,1735.1 2136.5,1732.9 2138.6,1730.8 2140.7,1728.7 2142.8,1726.5 2144.9,1724.4 2147.0,1722.3 2149.1,1720.2 2151.2,1718.1 2153.4,1716.1 2155.6,1714.0 2157.7,1712.0 2159.9,1709.9 2162.1,1707.9 2164.3,1705.9 2166.5,1703.9 2168.8,1701.9 2171.0,1700.0 2173.3,1698.0 2175.5,1696.1 2177.8,1694.2 2180.1,1692.3 2182.4,1690.4 2184.7,1688.5 2187.1,1686.6 2189.4,1684.8 2191.8,1683.0 2194.1,1681.1 2196.5,1679.4 2198.9,1677.6 2201.4,1675.8 2203.8,1674.1 2206.3,1672.3 2208.7,1670.6 2211.2,1668.9 2213.7,1667.3 2216.2,1665.6 2218.8,1664.0 2221.3,1662.3 2223.9,1660.7 2226.5,1659.2 2229.1,1657.6 2231.7,1656.1 2234.3,1654.5 2237.0,1653.0 2239.7,1651.6 2242.4,1650.1 2245.1,1648.7 2247.8,1647.3 2250.5,1645.9 2253.3,1644.6 2256.0,1643.3 2258.8,1642.1 2261.6,1640.8 2264.4,1639.7 2267.2,1638.5 2270.0,1637.4 2272.9,1636.4 2275.7,1635.4 2278.5,1634.4 2281.4,1633.5 2284.3,1632.7 2287.1,1631.9 2290.0,1631.1 2292.9,1630.5 2295.8,1629.8 2298.7,1629.3 2301.6,1628.8 2304.5,1628.3 2307.4,1627.9 2310.3,1627.6 2313.3,1627.4 2316.2,1627.2 2319.1,1627.1 2322.0,1627.0 2324.9,1627.0 2327.9,1627.1 2330.8,1627.2 2333.7,1627.4 2336.6,1627.7 2339.5,1628.0 2342.4,1628.4 2345.3,1628.8 2348.2,1629.2 2351.1,1629.8 2353.9,1630.4 2356.8,1631.0 2359.7,1631.7 2362.5,1632.4 2365.3,1633.2 2368.1,1634.0 2371.0,1634.9 2373.7,1635.8 2376.5,1636.8 2379.3,1637.8 2382.0,1638.9 2384.8,1640.0 2387.5,1641.1 2390.2,1642.3 2392.8,1643.6 2395.5,1644.8 2398.1,1646.2 2400.7,1647.5 2403.3,1648.9 2405.9,1650.3 2408.5,1651.8 2411.0,1653.3 2413.5,1654.8 2416.0,1656.4 2418.5,1658.0 2421.0,1659.6 2423.4,1661.3 2425.8,1663.0 2428.2,1664.7 2430.6,1666.5 2433.0,1668.3 2435.4,1670.1 2437.7,1672.0 2440.0,1673.9 2442.4,1675.8 2444.7,1677.7 2446.9,1679.7 2449.2,1681.7 2451.4,1683.7 2453.7,1685.8 2455.9,1687.8 2458.1,1689.9 2460.3,1692.0 2462.4,1694.2 2464.6,1696.3 2466.7,1698.5 2468.9,1700.7 2471.0,1703.0 2473.1,1705.2 2475.1,1707.5 2477.2,1709.7 2479.3,1712.0 2481.3,1714.4 2483.3,1716.7 2485.4,1719.0 2487.4,1721.4 2489.4,1723.8 2491.3,1726.2 2493.3,1728.6 2495.3,1731.0 2497.2,1733.4 2499.1,1735.9 2501.0,1738.3 2503.0,1740.8 2504.9,1743.3 2506.7,1745.8 2508.6,1748.3 2510.5,1750.8 2512.3,1753.3 2514.2,1755.8 2516.0,1758.3 2517.8,1760.8 2519.6,1763.4 2521.4,1765.9 2523.2,1768.4 2525.0,1771.0 2526.8,1773.5 2528.6,1776.1 2530.3,1778.6 2532.1,1781.2 2533.8,1783.7 2535.5,1786.3 2537.3,1788.9 2539.0,1791.4 2540.7,1794.0 2542.4,1796.5 2544.1,1799.1 2545.8,1801.7 2547.5,1804.2 2549.2,1806.8 2550.8,1809.3 2552.5,1811.9 2554.2,1814.5 2555.8,1817.0 2557.5,1819.6 2559.1,1822.2 2560.8,1824.7 2562.4,1827.3 2564.1,1829.9 2565.7,1832.4 2567.3,1835.0 2568.9,1837.5 2570.6,1840.1 2572.2,1842.7 2573.8,1845.2 2575.4,1847.8 2577.1,1850.3 2578.7,1852.9 2580.3,1855.4 2581.9,1858.0 2583.5,1860.5 2585.2,1863.0 2586.8,1865.6 2588.4,1868.1 2590.0,1870.6 2591.6,1873.2 2593.2,1875.7 2594.9,1878.2 2596.5,1880.7 2598.1,1883.3 2599.7,1885.8 2601.4,1888.3 2603.0,1890.8 2604.6,1893.3 2606.3,1895.8 2607.9,1898.2 2609.6,1900.7 2611.2,1903.2 2612.9,1905.7 2614.5,1908.1 2616.2,1910.6 2617.9,1913.1 2619.5,1915.5 2621.2,1918.0 2622.9,1920.4 2624.6,1922.8 2626.3,1925.3 2628.0,1927.7 2629.7,1930.1 2631.4,1932.5 2633.1,1934.9 2634.9,1937.3 2636.6,1939.7 2638.3,1942.0 2640.1,1944.4 2641.9,1946.8 2643.6,1949.1 2645.4,1951.5 2647.2,1953.8 2649.0,1956.2 2650.8,1958.5 2652.6,1960.8 2654.5,1963.1 2656.3,1965.4 2658.2,1967.7 2660.0,1970.0 2661.9,1972.2 2663.8,1974.5 2665.7,1976.7 2667.6,1979.0 2669.5,1981.2 2671.5,1983.4 2673.4,1985.6 2675.4,1987.8 2677.3,1990.0 2679.3,1992.2 2681.3,1994.4 2683.3,1996.5 2685.4,1998.7 2687.4,2000.8 2689.5,2002.9 2691.6,2005.1 2693.7,2007.2 2695.8,2009.3 2697.9,2011.3 2700.0,2013.4 2702.2,2015.5 2704.3,2017.5 2706.5,2019.5 2708.7,2021.5 2711.0,2023.5 2713.2,2025.5 2715.5,2027.5 2717.8,2029.5 2720.0,2031.4 2722.4,2033.4 2724.7,2035.3 2727.1,2037.2 2729.4,2039.1 2731.8,2041.0 2734.2,2042.9 2736.7,2044.7 2739.1,2046.5 2741.6,2048.4 2744.1,2050.2 2746.6,2052.0 2749.2,2053.8 2751.7,2055.5 2754.3,2057.3 2756.9,2059.0" stroke="#ff8c00" stroke-width="5" stroke-dasharray="17.7 7.5"/>
<path d="M1809.0,2059.0 1811.9,2058.2 1814.9,2057.4 1817.8,2056.6 1820.8,2055.9 1823.7,2055.1 1826.7,2054.3 1829.6,2053.5 1832.5,2052.6 1835.5,2051.8 1838.4,2051.0 1841.3,2050.2 1844.2,2049.4 1847.2,2048.5 1850.1,2047.7 1853.0,2046.9 1855.9,2046.0 1858.8,2045.2 1861.7,2044.3 1864.6,2043.5 1867.5,2042.6 1870.4,2041.7 1873.3,2040.9 1876.2,2040.0 1879.0,2039.1 1881.9,2038.2 1884.8,2037.3 1887.7,2036.4 1890.5,2035.5 1893.4,2034.6 1896.2,2033.7 1899.1,2032.7 1902.0,2031.8 1904.8,2030.9 1907.6,2029.9 1910.5,2029.0 1913.3,2028.0 1916.2,2027.1 1919.0,2026.1 1921.8,2025.1 1924.6,2024.1 1927.5,2023.1 1930.3,2022.1 1933.1,2021.1 1935.9,2020.1 1938.7,2019.1 1941.5,2018.1 1944.3,2017.1 1947.1,2016.0 1949.9,2015.0 1952.7,2013.9 1955.5,2012.9 1958.3,2011.8 1961.0,2010.7 1963.8,2009.7 1966.6,2008.6 1969.3,2007.5 1972.1,2006.4 1974.9,2005.3 1977.6,2004.1 1980.4,2003.0 1983.1,2001.9 1985.9,2000.7 1988.6,1999.6 1991.4,1998.4 1994.1,1997.2 1996.8,1996.1 1999.6,1994.9 2002.3,1993.7 2005.0,1992.5 2007.7,1991.3 2010.4,1990.0 2013.1,1988.8 2015.8,1987.6 2018.6,1986.3 2021.3,1985.1 2023.9,1983.8 2026.6,1982.5 2029.3,1981.2 2032.0,1979.9 2034.7,1978.6 2037.4,1977.3 2040.1,1976.0 2042.7,1974.7 2045.4,1973.3 2048.1,1972.0 2050.7,1970.6 2053.4,1969.2 2056.0,1967.9 2058.7,1966.5 2061.3,1965.1 2064.0,1963.6 2066.6,1962.2 2069.2,1960.8 2071.9,1959.3 2074.5,1957.9 2077.1,1956.4 2079.8,1954.9 2082.4,1953.5 2085.0,1952.0 2087.6,1950.4 2090.2,1948.9 2092.8,1947.4 2095.4,1945.9 2098.0,1944.3 2100.6,1942.7 2103.2,1941.2 2105.8,1939.6 2108.3,1938.0 2110.9,1936.4 2113.5,1934.8 2116.1,1933.2 2118.6,1931.6 2121.2,1929.9 2123.7,1928.3 2126.3,1926.6 2128.8,1925.0 2131.4,1923.3 2133.9,1921.6 2136.4,1919.9 2139.0,1918.2 2141.5,1916.5 2144.0,1914.8 2146.5,1913.1 2149.0,1911.4 2151.5,1909.6 2154.0,1907.9 2156.5,1906.1 2159.0,1904.4 2161.5,1902.6 2164.0,1900.8 2166.5,1899.1 2168.9,1897.3 2171.4,1895.5 2173.8,1893.7 2176.3,1891.9 2178.7,1890.1 2181.2,1888.2 2183.6,1886.4 2186.1,1884.6 2188.5,1882.7 2190.9,1880.9 2193.3,1879.0 2195.7,1877.2 2198.1,1875.3 2200.5,1873.4 2202.9,1871.6 2205.3,1869.7 2207.7,1867.8 2210.1,1865.9 2212.5,1864.0 2214.8,1862.1 2217.2,1860.2 2219.5,1858.3 2221.9,1856.4 2224.2,1854.4 2226.6,1852.5 2228.9,1850.6 2231.2,1848.6 2233.5,1846.7 2235.9,1844.8 2238.2,1842.8 2240.5,1840.9 2242.7,1838.9 2245.0,1836.9 2247.3,1835.0 2249.6,1833.0 2251.9,1831.0 2254.1,1829.1 2256.4,1827.1 2258.6,1825.1 2260.9,1823.1 2263.1,1821.1 2265.3,1819.1 2267.6,1817.1 2269.8,1815.1 2272.0,1813.1 2274.2,1811.1 2276.4,1809.1 2278.6,1807.1 2280.8,1805.1 2283.0,1803.1 2285.2,1801.1 2287.4,1799.1 2289.5,1797.0 2291.7,1795.0 2293.9,1793.0 2296.0,1791.0 2298.2,1788.9 2300.4,1786.9 2302.5,1784.9 2304.7,1782.8 2306.8,1780.8 2309.0,1778.8 2311.1,1776.7 2313.3,1774.7 2315.4,1772.6 2317.5,1770.6 2319.7,1768.5 2321.8,1766.5 2324.0,1764.4 2326.1,1762.4 2328.2,1760.3 2330.3,1758.3 2332.5,1756.2 2334.6,1754.1 2336.7,1752.1 2338.8,1750.0 2341.0,1748.0 2343.1,1745.9 2345.2,1743.8 2347.3,1741.8 2349.5,1739.7 2351.6,1737.6 2353.7,1735.6 2355.8,1733.5 2358.0,1731.4 2360.1,1729.4 2362.2,1727.3 2364.3,1725.2 2366.5,1723.2 2368.6,1721.1 2370.7,1719.0 2372.9,1716.9 2375.0,1714.9 2377.1,1712.8 2379.3,1710.7 2381.4,1708.7 2383.5,1706.6 2385.7,1704.5 2387.8,1702.5 2390.0,1700.4 2392.1,1698.3 2394.3,1696.3 2396.4,1694.2 2398.6,1692.1 2400.8,1690.1 2402.9,1688.0 2405.1,1685.9 2407.3,1683.9 2409.5,1681.8 2411.7,1679.8 2413.9,1677.7 2416.0,1675.6 2418.2,1673.6 2420.4,1671.5 2422.7,1669.5 2424.9,1667.4 2427.1,1665.4 2429.3,1663.3 2431.5,1661.3 2433.8,1659.2 2436.0,1657.2 2438.3,1655.1 2440.5,1653.1 2442.8,1651.1 2445.0,1649.0 2447.3,1647.0 2449.6,1645.0 2451.9,1642.9 2454.2,1640.9 2456.5,1638.9 2458.8,1636.8 2461.1,1634.8 2463.4,1632.8 2465.7,1630.8 2468.1,1628.8 2470.4,1626.8 2472.7,1624.8 2475.1,1622.8 2477.5,1620.7 2479.8,1618.7 2482.2,1616.7 2484.6,1614.8 2487.0,1612.8 2489.4,1610.8 2491.9,1608.8 2494.3,1606.8 2496.7,1604.8 2499.2,1602.9 2501.6,1600.9 2504.1,1598.9 2506.6,1597.0 2509.1,1595.0 2511.6,1593.0 2514.1,1591.1 2516.6,1589.1 2519.1,1587.2 2521.7,1585.3 2524.2,1583.4 2526.8,1581.5 2529.3,1579.7 2531.9,1577.9 2534.5,1576.1 2537.1,1574.4 2539.7,1572.7 2542.3,1571.0 2544.9,1569.4 2547.5,1567.8 2550.1,1566.3 2552.7,1564.8 2555.4,1563.4 2558.0,1562.1 2560.6,1560.8 2563.3,1559.6 2565.9,1558.5 2568.6,1557.5 2571.2,1556.5 2573.9,1555.6 2576.5,1554.8 2579.2,1554.1 2581.9,1553.5 2584.5,1552.9 2587.2,1552.5 2589.9,1552.2 2592.5,1552.0 2595.2,1551.9 2597.9,1551.9 2600.6,1552.0 2603.2,1552.2 2605.9,1552.6 2608.6,1553.1 2611.2,1553.7 2613.9,1554.5 2616.5,1555.3 2619.2,1556.3 2621.8,1557.4 2624.4,1558.6 2627.0,1559.9 2629.5,1561.3 2632.1,1562.8 2634.6,1564.3 2637.0,1566.0 2639.4,1567.8 2641.8,1569.6 2644.1,1571.5 2646.4,1573.5 2648.6,1575.6 2650.8,1577.7 2652.9,1579.9 2655.0,1582.2 2656.9,1584.5 2658.9,1586.8 2660.7,1589.2 2662.5,1591.7 2664.2,1594.2 2665.8,1596.7 2667.4,1599.3 2668.9,1601.9 2670.4,1604.6 2671.8,1607.3 2673.2,1610.0 2674.5,1612.7 2675.8,1615.5 2677.0,1618.3 2678.2,1621.1 2679.3,1624.0 2680.4,1626.9 2681.5,1629.8 2682.5,1632.7 2683.5,1635.6 2684.5,1638.5 2685.5,1641.5 2686.4,1644.4 2687.3,1647.4 2688.2,1650.4 2689.1,1653.3 2689.9,1656.3 2690.8,1659.3 2691.6,1662.2 2692.4,1665.2 2693.2,1668.2 2694.0,1671.1 2694.8,1674.1 2695.6,1677.1 2696.4,1680.0 2697.1,1683.0 2697.9,1686.0 2698.6,1688.9 2699.3,1691.9 2700.0,1694.9 2700.7,1697.8 2701.4,1700.8 2702.1,1703.8 2702.7,1706.7 2703.4,1709.7 2704.0,1712.6 2704.7,1715.6 2705.3,1718.6 2705.9,1721.5 2706.5,1724.5 2707.2,1727.5 2707.7,1730.4 2708.3,1733.4 2708.9,1736.3 2709.5,1739.3 2710.0,1742.3 2710.6,1745.2 2711.1,1748.2 2711.7,1751.2 2712.2,1754.1 2712.7,1757.1 2713.3,1760.0 2713.8,1763.0 2714.3,1766.0 2714.8,1768.9 2715.3,1771.9 2715.8,1774.8 2716.2,1777.8 2716.7,1780.8 2717.2,1783.7 2717.7,1786.7 2718.1,1789.6 2718.6,1792.6 2719.0,1795.6 2719.5,1798.5 2719.9,1801.5 2720.3,1804.4 2720.8,1807.4 2721.2,1810.4 2721.6,1813.3 2722.1,1816.3 2722.5,1819.2 2722.9,1822.2 2723.3,1825.2 2723.7,1828.1 2724.1,1831.1 2724.5,1834.0 2724.9,1837.0 2725.3,1839.9 2725.7,1842.9 2726.1,1845.9 2726.5,1848.8 2726.9,1851.8 2727.3,1854.7 2727.7,1857.7 2728.1,1860.7 2728.5,1863.6 2728.9,1866.6 2729.3,1869.5 2729.7,1872.5 2730.0,1875.4 2730.4,1878.4 2730.8,1881.4 2731.2,1884.3 2731.6,1887.3 2732.0,1890.2 2732.4,1893.2 2732.8,1896.1 2733.2,1899.1 2733.6,1902.1 2734.0,1905.0 2734.4,1908.0 2734.8,1910.9 2735.2,1913.9 2735.6,1916.9 2736.0,1919.8 2736.4,1922.8 2736.8,1925.7 2737.3,1928.7 2737.7,1931.7 2738.1,1934.6 2738.5,1937.6 2739.0,1940.5 2739.4,1943.5 2739.8,1946.4 2740.3,1949.4 2740.7,1952.4 2741.2,1955.3 2741.7,1958.3 2742.1,1961.2 2742.6,1964.2 2743.1,1967.2 2743.6,1970.1 2744.0,1973.1 2744.5,1976.0 2745.0,1979.0 2745.5,1982.0 2746.0,1984.9 2746.6,1987.9 2747.1,1990.8 2747.6,1993.8 2748.2,1996.8 2748.7,1999.7 2749.3,2002.7 2749.8,2005.7 2750.4,2008.6 2751.0,2011.6 2751.6,2014.5 2752.1,2017.5 2752.7,2020.5 2753.4,2023.4 2754.0,2026.4 2754.6,2029.4 2755.2,2032.3 2755.9,2035.3 2756.6,2038.2 2757.2,2041.2 2757.9,2044.2 2758.6,2047.1 2759.3,2050.1 2760.0,2053.1 2760.7,2056.0 2761.4,2059.0" stroke="#ff8c00" stroke-width="9.5" stroke-dasharray="3.3 12.4"/>
</g>
<g font-family="'Liberation Serif', 'DejaVu Serif', serif">
<text x="227.2" y="116.2" font-size="60" font-style="italic" fill="#ee0000" >p</text>
<text transform="translate(261.8,117.8) scale(0.88,1)" font-size="100" fill="#ee0000">→</text>
<text x="358.2" y="116.2" font-size="60" font-style="italic" fill="#ee0000" >e</text>
<text x="386.2" y="93.2" font-size="42" fill="#ee0000" >+</text>
<text x="412.2" y="116.2" font-size="60" font-style="italic" fill="#ee0000" >ηa</text>
<rect x="494.4" y="42.6" width="874.4" height="80.1" rx="8" ry="8" fill="#fff" stroke="#d8d8d8" stroke-width="3.8"/>
<line x1="507.3" y1="78.0" x2="551.8" y2="78.0" stroke="#ff8c00" stroke-width="5"/>
<text x="570.4" y="93.0" font-size="45" font-style="italic" >m</text>
<text x="602.4" y="99.5" font-size="32" font-style="italic" >a</text>
<text x="631.4" y="93.0" font-size="46" textLength="23.0" lengthAdjust="spacingAndGlyphs" >=</text>
<text x="670.4" y="93.0" font-size="46"  >0</text>
<line x1="713.7" y1="78.0" x2="758.9" y2="78.0" stroke="#008c00" stroke-width="5"/>
<text x="775.8" y="93.0" font-size="45" font-style="italic" >m</text>
<text x="807.8" y="99.5" font-size="32" font-style="italic" >a</text>
<text x="836.8" y="93.0" font-size="46" textLength="23.0" lengthAdjust="spacingAndGlyphs" >=</text>
<text x="876.8" y="93.0" font-size="46" textLength="51.0" lengthAdjust="spacingAndGlyphs" >0.1</text>
<text x="938.8" y="93.0" font-size="45" textLength="80.5" lengthAdjust="spacingAndGlyphs" >GeV</text>
<line x1="1041.8" y1="78.0" x2="1086.9" y2="78.0" stroke="#4496d2" stroke-width="5"/>
<text x="1105.5" y="93.0" font-size="45" font-style="italic" >m</text>
<text x="1137.5" y="99.5" font-size="32" font-style="italic" >a</text>
<text x="1166.5" y="93.0" font-size="46" textLength="23.0" lengthAdjust="spacingAndGlyphs" >=</text>
<text x="1206.5" y="93.0" font-size="46" textLength="51.0" lengthAdjust="spacingAndGlyphs" >0.2</text>
<text x="1268.5" y="93.0" font-size="45" textLength="80.5" lengthAdjust="spacingAndGlyphs" >GeV</text>
<rect x="807.0" y="123.0" width="561.7" height="239.8" rx="8" ry="8" fill="none" stroke="#d8d8d8" stroke-width="3.8"/>
<line x1="819.7" y1="168.0" x2="881.9" y2="168.0" stroke="#000" stroke-width="5.3"/>
<line x1="819.7" y1="241.4" x2="881.9" y2="241.4" stroke="#000" stroke-width="5.2" stroke-dasharray="17.6 7.4"/>
<line x1="819.7" y1="314.9" x2="879.9" y2="314.9" stroke="#000" stroke-width="9.3" stroke-dasharray="12.4 3.3"/>
<text x="898.2" y="181.7" font-size="44"  >[</text>
<text x="907.2" y="181.7" font-size="46" font-style="italic" >O</text>
<text x="941.4" y="161.4" font-size="26" font-family="'DejaVu Sans Condensed', 'DejaVu Sans', sans-serif" textLength="69.0" lengthAdjust="spacingAndGlyphs" >VL,SL</text>
<text x="940.0" y="196.5" font-size="33" font-style="italic" textLength="89.3" lengthAdjust="spacingAndGlyphs" >∂aeuud</text>
<text x="1034.7" y="181.7" font-size="44"  >]</text>
<text x="1046.9" y="188.4" font-size="30" font-style="italic" >e</text>
<text x="1060.2" y="188.4" font-size="31"  >112</text>
<text x="898.2" y="254.7" font-size="44"  >[</text>
<text x="907.2" y="254.7" font-size="46" font-style="italic" >O</text>
<text x="941.4" y="234.4" font-size="26" font-family="'DejaVu Sans Condensed', 'DejaVu Sans', sans-serif" textLength="69.0" lengthAdjust="spacingAndGlyphs" >SR,VL</text>
<text x="940.0" y="269.5" font-size="33" font-style="italic" textLength="89.3" lengthAdjust="spacingAndGlyphs" >∂aeudu</text>
<text x="1034.7" y="254.7" font-size="44"  >]</text>
<text x="1049.6" y="232.7" font-size="30"  >−</text>
<text x="1046.9" y="265.5" font-size="30" font-style="italic" >e</text>
<text x="1060.2" y="265.5" font-size="31"  >121</text>
<text x="898.2" y="327.7" font-size="44"  >[</text>
<text x="907.2" y="327.7" font-size="46" font-style="italic" >O</text>
<text x="941.4" y="307.4" font-size="26" font-family="'DejaVu Sans Condensed', 'DejaVu Sans', sans-serif" textLength="69.0" lengthAdjust="spacingAndGlyphs" >SR,VL</text>
<text x="940.0" y="342.5" font-size="33" font-style="italic" textLength="89.3" lengthAdjust="spacingAndGlyphs" >∂aeuud</text>
<text x="1034.7" y="327.7" font-size="44"  >]</text>
<text x="1046.9" y="334.4" font-size="30" font-style="italic" >e</text>
<text x="1060.2" y="334.4" font-size="31"  >112,</text>
<text x="1140.2" y="327.7" font-size="44"  >[</text>
<text x="1149.2" y="327.7" font-size="46" font-style="italic" >O</text>
<text x="1183.4" y="307.4" font-size="26" font-family="'DejaVu Sans Condensed', 'DejaVu Sans', sans-serif" textLength="69.0" lengthAdjust="spacingAndGlyphs" >SR,VL</text>
<text x="1182.0" y="342.5" font-size="33" font-style="italic" textLength="89.3" lengthAdjust="spacingAndGlyphs" >∂aeudu</text>
<text x="1276.7" y="327.7" font-size="44"  >]</text>
<text x="1290.2" y="305.7" font-size="30"  >+</text>
<text x="1289.0" y="338.5" font-size="30" font-style="italic" >e</text>
<text x="1302.2" y="338.5" font-size="31"  >121</text>
<text x="773.6" y="1087.0" font-size="58" text-anchor="middle">|<tspan font-weight="bold" font-style="italic">p</tspan><tspan font-style="italic" font-size="41" dy="12">e</tspan><tspan dy="-12">|[GeV]</tspan></text>
<text transform="translate(68.0,499.2) rotate(-90) scale(1.03,1)" x="0" y="0" font-size="58" text-anchor="middle"><tspan font-style="italic">d</tspan>Γ<tspan dx="-28.5" dy="-9">˜</tspan><tspan dx="9" dy="9">/</tspan><tspan font-style="italic">d</tspan>|<tspan font-weight="bold" font-style="italic">p</tspan><tspan font-style="italic" font-size="41" dy="12">e</tspan><tspan dy="-12">|[GeV</tspan><tspan font-size="41" dy="-24">−1</tspan><tspan dy="24">]</tspan></text>
<text x="1795.1" y="112.7" font-size="60" font-style="italic" fill="#ee0000" >p</text>
<text transform="translate(1829.7,114.3) scale(0.88,1)" font-size="100" fill="#ee0000">→</text>
<text x="1926.1" y="112.7" font-size="60" font-style="italic" fill="#ee0000" >e</text>
<text x="1954.1" y="89.7" font-size="42" fill="#ee0000" >+</text>
<text x="1980.1" y="112.7" font-size="60" font-style="italic" fill="#ee0000" >ηa</text>
<rect x="2062.3" y="39.1" width="874.4" height="80.1" rx="8" ry="8" fill="#fff" stroke="#d8d8d8" stroke-width="3.8"/>
<line x1="2075.2" y1="74.5" x2="2119.7" y2="74.5" stroke="#ff8c00" stroke-width="5"/>
<text x="2138.3" y="89.5" font-size="45" font-style="italic" >m</text>
<text x="2170.3" y="96.0" font-size="32" font-style="italic" >a</text>
<text x="2199.3" y="89.5" font-size="46" textLength="23.0" lengthAdjust="spacingAndGlyphs" >=</text>
<text x="2238.3" y="89.5" font-size="46"  >0</text>
<line x1="2281.6" y1="74.5" x2="2326.8" y2="74.5" stroke="#008c00" stroke-width="5"/>
<text x="2343.7" y="89.5" font-size="45" font-style="italic" >m</text>
<text x="2375.7" y="96.0" font-size="32" font-style="italic" >a</text>
<text x="2404.7" y="89.5" font-size="46" textLength="23.0" lengthAdjust="spacingAndGlyphs" >=</text>
<text x="2444.7" y="89.5" font-size="46" textLength="51.0" lengthAdjust="spacingAndGlyphs" >0.1</text>
<text x="2506.7" y="89.5" font-size="45" textLength="80.5" lengthAdjust="spacingAndGlyphs" >GeV</text>
<line x1="2609.7" y1="74.5" x2="2654.8" y2="74.5" stroke="#4496d2" stroke-width="5"/>
<text x="2673.4" y="89.5" font-size="45" font-style="italic" >m</text>
<text x="2705.4" y="96.0" font-size="32" font-style="italic" >a</text>
<text x="2734.4" y="89.5" font-size="46" textLength="23.0" lengthAdjust="spacingAndGlyphs" >=</text>
<text x="2774.4" y="89.5" font-size="46" textLength="51.0" lengthAdjust="spacingAndGlyphs" >0.2</text>
<text x="2836.4" y="89.5" font-size="45" textLength="80.5" lengthAdjust="spacingAndGlyphs" >GeV</text>
<rect x="2374.9" y="119.5" width="561.7" height="239.8" rx="8" ry="8" fill="none" stroke="#d8d8d8" stroke-width="3.8"/>
<line x1="2387.6" y1="164.5" x2="2449.8" y2="164.5" stroke="#000" stroke-width="5.3"/>
<line x1="2387.6" y1="237.9" x2="2449.8" y2="237.9" stroke="#000" stroke-width="5.2" stroke-dasharray="17.6 7.4"/>
<line x1="2387.6" y1="311.4" x2="2447.8" y2="311.4" stroke="#000" stroke-width="9.3" stroke-dasharray="12.4 3.3"/>
<text x="2466.1" y="178.2" font-size="44"  >[</text>
<text x="2475.1" y="178.2" font-size="46" font-style="italic" >O</text>
<text x="2509.3" y="157.9" font-size="26" font-family="'DejaVu Sans Condensed', 'DejaVu Sans', sans-serif" textLength="69.0" lengthAdjust="spacingAndGlyphs" >VL,SL</text>
<text x="2507.9" y="193.0" font-size="33" font-style="italic" textLength="89.3" lengthAdjust="spacingAndGlyphs" >∂aeuud</text>
<text x="2602.6" y="178.2" font-size="44"  >]</text>
<text x="2614.8" y="184.9" font-size="30" font-style="italic" >e</text>
<text x="2628.1" y="184.9" font-size="31"  >112</text>
<text x="2466.1" y="251.2" font-size="44"  >[</text>
<text x="2475.1" y="251.2" font-size="46" font-style="italic" >O</text>
<text x="2509.3" y="230.9" font-size="26" font-family="'DejaVu Sans Condensed', 'DejaVu Sans', sans-serif" textLength="69.0" lengthAdjust="spacingAndGlyphs" >SR,VL</text>
<text x="2507.9" y="266.0" font-size="33" font-style="italic" textLength="89.3" lengthAdjust="spacingAndGlyphs" >∂aeudu</text>
<text x="2602.6" y="251.2" font-size="44"  >]</text>
<text x="2617.5" y="229.2" font-size="30"  >−</text>
<text x="2614.8" y="262.0" font-size="30" font-style="italic" >e</text>
<text x="2628.1" y="262.0" font-size="31"  >121</text>
<text x="2466.1" y="324.2" font-size="44"  >[</text>
<text x="2475.1" y="324.2" font-size="46" font-style="italic" >O</text>
<text x="2509.3" y="303.9" font-size="26" font-family="'DejaVu Sans Condensed', 'DejaVu Sans', sans-serif" textLength="69.0" lengthAdjust="spacingAndGlyphs" >SR,VL</text>
<text x="2507.9" y="339.0" font-size="33" font-style="italic" textLength="89.3" lengthAdjust="spacingAndGlyphs" >∂aeuud</text>
<text x="2602.6" y="324.2" font-size="44"  >]</text>
<text x="2614.8" y="330.9" font-size="30" font-style="italic" >e</text>
<text x="2628.1" y="330.9" font-size="31"  >112,</text>
<text x="2708.1" y="324.2" font-size="44"  >[</text>
<text x="2717.1" y="324.2" font-size="46" font-style="italic" >O</text>
<text x="2751.3" y="303.9" font-size="26" font-family="'DejaVu Sans Condensed', 'DejaVu Sans', sans-serif" textLength="69.0" lengthAdjust="spacingAndGlyphs" >SR,VL</text>
<text x="2749.9" y="339.0" font-size="33" font-style="italic" textLength="89.3" lengthAdjust="spacingAndGlyphs" >∂aeudu</text>
<text x="2844.6" y="324.2" font-size="44"  >]</text>
<text x="2858.1" y="302.2" font-size="30"  >+</text>
<text x="2856.9" y="335.0" font-size="30" font-style="italic" >e</text>
<text x="2870.1" y="335.0" font-size="31"  >121</text>
<text x="2341.5" y="1083.5" font-size="58" text-anchor="middle">|<tspan font-weight="bold" font-style="italic">p</tspan><tspan font-style="italic" font-size="41" dy="12">η</tspan><tspan dy="-12">|[GeV]</tspan></text>
<text transform="translate(1637.0,495.8) rotate(-90) scale(1.03,1)" x="0" y="0" font-size="58" text-anchor="middle"><tspan font-style="italic">d</tspan>Γ<tspan dx="-28.5" dy="-9">˜</tspan><tspan dx="9" dy="9">/</tspan><tspan font-style="italic">d</tspan>|<tspan font-weight="bold" font-style="italic">p</tspan><tspan font-style="italic" font-size="41" dy="12">η</tspan><tspan dy="-12">|[GeV</tspan><tspan font-size="41" dy="-24">−1</tspan><tspan dy="24">]</tspan></text>
<text x="227.3" y="1226.4" font-size="60" font-style="italic" fill="#ee0000" >p</text>
<text transform="translate(261.9,1228.0) scale(0.88,1)" font-size="100" fill="#ee0000">→</text>
<text x="358.3" y="1226.4" font-size="60" font-style="italic" fill="#ee0000" >μ</text>
<text x="386.3" y="1203.4" font-size="42" fill="#ee0000" >+</text>
<text x="412.3" y="1226.4" font-size="60" font-style="italic" fill="#ee0000" >ηa</text>
<rect x="494.5" y="1152.8" width="874.4" height="80.1" rx="8" ry="8" fill="#fff" stroke="#d8d8d8" stroke-width="3.8"/>
<line x1="507.4" y1="1188.2" x2="551.9" y2="1188.2" stroke="#ff8c00" stroke-width="5"/>
<text x="570.5" y="1203.2" font-size="45" font-style="italic" >m</text>
<text x="602.5" y="1209.7" font-size="32" font-style="italic" >a</text>
<text x="631.5" y="1203.2" font-size="46" textLength="23.0" lengthAdjust="spacingAndGlyphs" >=</text>
<text x="670.5" y="1203.2" font-size="46"  >0</text>
<line x1="713.8" y1="1188.2" x2="759.0" y2="1188.2" stroke="#008c00" stroke-width="5"/>
<text x="775.9" y="1203.2" font-size="45" font-style="italic" >m</text>
<text x="807.9" y="1209.7" font-size="32" font-style="italic" >a</text>
<text x="836.9" y="1203.2" font-size="46" textLength="23.0" lengthAdjust="spacingAndGlyphs" >=</text>
<text x="876.9" y="1203.2" font-size="46" textLength="51.0" lengthAdjust="spacingAndGlyphs" >0.1</text>
<text x="938.9" y="1203.2" font-size="45" textLength="80.5" lengthAdjust="spacingAndGlyphs" >GeV</text>
<line x1="1041.9" y1="1188.2" x2="1087.0" y2="1188.2" stroke="#4496d2" stroke-width="5"/>
<text x="1105.6" y="1203.2" font-size="45" font-style="italic" >m</text>
<text x="1137.6" y="1209.7" font-size="32" font-style="italic" >a</text>
<text x="1166.6" y="1203.2" font-size="46" textLength="23.0" lengthAdjust="spacingAndGlyphs" >=</text>
<text x="1206.6" y="1203.2" font-size="46" textLength="51.0" lengthAdjust="spacingAndGlyphs" >0.2</text>
<text x="1268.6" y="1203.2" font-size="45" textLength="80.5" lengthAdjust="spacingAndGlyphs" >GeV</text>
<rect x="807.1" y="1233.2" width="561.7" height="239.8" rx="8" ry="8" fill="none" stroke="#d8d8d8" stroke-width="3.8"/>
<line x1="819.8" y1="1278.2" x2="882.0" y2="1278.2" stroke="#000" stroke-width="5.3"/>
<line x1="819.8" y1="1351.6" x2="882.0" y2="1351.6" stroke="#000" stroke-width="5.2" stroke-dasharray="17.6 7.4"/>
<line x1="819.8" y1="1425.1" x2="880.0" y2="1425.1" stroke="#000" stroke-width="9.3" stroke-dasharray="12.4 3.3"/>
<text x="898.3" y="1291.9" font-size="44"  >[</text>
<text x="907.3" y="1291.9" font-size="46" font-style="italic" >O</text>
<text x="941.5" y="1271.6" font-size="26" font-family="'DejaVu Sans Condensed', 'DejaVu Sans', sans-serif" textLength="69.0" lengthAdjust="spacingAndGlyphs" >VL,SL</text>
<text x="940.1" y="1306.7" font-size="33" font-style="italic" textLength="89.3" lengthAdjust="spacingAndGlyphs" >∂aeuud</text>
<text x="1034.8" y="1291.9" font-size="44"  >]</text>
<text x="1047.0" y="1298.6" font-size="30" font-style="italic" >μ</text>
<text x="1060.3" y="1298.6" font-size="31"  >112</text>
<text x="898.3" y="1364.9" font-size="44"  >[</text>
<text x="907.3" y="1364.9" font-size="46" font-style="italic" >O</text>
<text x="941.5" y="1344.6" font-size="26" font-family="'DejaVu Sans Condensed', 'DejaVu Sans', sans-serif" textLength="69.0" lengthAdjust="spacingAndGlyphs" >SR,VL</text>
<text x="940.1" y="1379.7" font-size="33" font-style="italic" textLength="89.3" lengthAdjust="spacingAndGlyphs" >∂aeudu</text>
<text x="1034.8" y="1364.9" font-size="44"  >]</text>
<text x="1049.7" y="1342.9" font-size="30"  >−</text>
<text x="1047.0" y="1375.7" font-size="30" font-style="italic" >μ</text>
<text x="1060.3" y="1375.7" font-size="31"  >121</text>
<text x="898.3" y="1437.9" font-size="44"  >[</text>
<text x="907.3" y="1437.9" font-size="46" font-style="italic" >O</text>
<text x="941.5" y="1417.6" font-size="26" font-family="'DejaVu Sans Condensed', 'DejaVu Sans', sans-serif" textLength="69.0" lengthAdjust="spacingAndGlyphs" >SR,VL</text>
<text x="940.1" y="1452.7" font-size="33" font-style="italic" textLength="89.3" lengthAdjust="spacingAndGlyphs" >∂aeuud</text>
<text x="1034.8" y="1437.9" font-size="44"  >]</text>
<text x="1047.0" y="1444.6" font-size="30" font-style="italic" >μ</text>
<text x="1060.3" y="1444.6" font-size="31"  >112,</text>
<text x="1140.3" y="1437.9" font-size="44"  >[</text>
<text x="1149.3" y="1437.9" font-size="46" font-style="italic" >O</text>
<text x="1183.5" y="1417.6" font-size="26" font-family="'DejaVu Sans Condensed', 'DejaVu Sans', sans-serif" textLength="69.0" lengthAdjust="spacingAndGlyphs" >SR,VL</text>
<text x="1182.1" y="1452.7" font-size="33" font-style="italic" textLength="89.3" lengthAdjust="spacingAndGlyphs" >∂aeudu</text>
<text x="1276.8" y="1437.9" font-size="44"  >]</text>
<text x="1290.3" y="1415.9" font-size="30"  >+</text>
<text x="1289.1" y="1448.7" font-size="30" font-style="italic" >μ</text>
<text x="1302.3" y="1448.7" font-size="31"  >121</text>
<text x="773.7" y="2197.3" font-size="58" text-anchor="middle">|<tspan font-weight="bold" font-style="italic">p</tspan><tspan font-style="italic" font-size="41" dy="12">μ</tspan><tspan dy="-12">|[GeV]</tspan></text>
<text transform="translate(68.1,1609.5) rotate(-90) scale(1.03,1)" x="0" y="0" font-size="58" text-anchor="middle"><tspan font-style="italic">d</tspan>Γ<tspan dx="-28.5" dy="-9">˜</tspan><tspan dx="9" dy="9">/</tspan><tspan font-style="italic">d</tspan>|<tspan font-weight="bold" font-style="italic">p</tspan><tspan font-style="italic" font-size="41" dy="12">μ</tspan><tspan dy="-12">|[GeV</tspan><tspan font-size="41" dy="-24">−1</tspan><tspan dy="24">]</tspan></text>
<text x="1795.0" y="1224.7" font-size="60" font-style="italic" fill="#ee0000" >p</text>
<text transform="translate(1829.6,1226.3) scale(0.88,1)" font-size="100" fill="#ee0000">→</text>
<text x="1926.0" y="1224.7" font-size="60" font-style="italic" fill="#ee0000" >μ</text>
<text x="1954.0" y="1201.7" font-size="42" fill="#ee0000" >+</text>
<text x="1980.0" y="1224.7" font-size="60" font-style="italic" fill="#ee0000" >ηa</text>
<rect x="2062.2" y="1151.1" width="874.4" height="80.1" rx="8" ry="8" fill="#fff" stroke="#d8d8d8" stroke-width="3.8"/>
<line x1="2075.1" y1="1186.5" x2="2119.6" y2="1186.5" stroke="#ff8c00" stroke-width="5"/>
<text x="2138.2" y="1201.5" font-size="45" font-style="italic" >m</text>
<text x="2170.2" y="1208.0" font-size="32" font-style="italic" >a</text>
<text x="2199.2" y="1201.5" font-size="46" textLength="23.0" lengthAdjust="spacingAndGlyphs" >=</text>
<text x="2238.2" y="1201.5" font-size="46"  >0</text>
<line x1="2281.5" y1="1186.5" x2="2326.7" y2="1186.5" stroke="#008c00" stroke-width="5"/>
<text x="2343.6" y="1201.5" font-size="45" font-style="italic" >m</text>
<text x="2375.6" y="1208.0" font-size="32" font-style="italic" >a</text>
<text x="2404.6" y="1201.5" font-size="46" textLength="23.0" lengthAdjust="spacingAndGlyphs" >=</text>
<text x="2444.6" y="1201.5" font-size="46" textLength="51.0" lengthAdjust="spacingAndGlyphs" >0.1</text>
<text x="2506.6" y="1201.5" font-size="45" textLength="80.5" lengthAdjust="spacingAndGlyphs" >GeV</text>
<line x1="2609.6" y1="1186.5" x2="2654.7" y2="1186.5" stroke="#4496d2" stroke-width="5"/>
<text x="2673.3" y="1201.5" font-size="45" font-style="italic" >m</text>
<text x="2705.3" y="1208.0" font-size="32" font-style="italic" >a</text>
<text x="2734.3" y="1201.5" font-size="46" textLength="23.0" lengthAdjust="spacingAndGlyphs" >=</text>
<text x="2774.3" y="1201.5" font-size="46" textLength="51.0" lengthAdjust="spacingAndGlyphs" >0.2</text>
<text x="2836.3" y="1201.5" font-size="45" textLength="80.5" lengthAdjust="spacingAndGlyphs" >GeV</text>
<rect x="2374.8" y="1231.5" width="561.7" height="239.8" rx="8" ry="8" fill="none" stroke="#d8d8d8" stroke-width="3.8"/>
<line x1="2387.5" y1="1276.5" x2="2449.7" y2="1276.5" stroke="#000" stroke-width="5.3"/>
<line x1="2387.5" y1="1349.9" x2="2449.7" y2="1349.9" stroke="#000" stroke-width="5.2" stroke-dasharray="17.6 7.4"/>
<line x1="2387.5" y1="1423.4" x2="2447.7" y2="1423.4" stroke="#000" stroke-width="9.3" stroke-dasharray="12.4 3.3"/>
<text x="2466.0" y="1290.2" font-size="44"  >[</text>
<text x="2475.0" y="1290.2" font-size="46" font-style="italic" >O</text>
<text x="2509.2" y="1269.9" font-size="26" font-family="'DejaVu Sans Condensed', 'DejaVu Sans', sans-serif" textLength="69.0" lengthAdjust="spacingAndGlyphs" >VL,SL</text>
<text x="2507.8" y="1305.0" font-size="33" font-style="italic" textLength="89.3" lengthAdjust="spacingAndGlyphs" >∂aeuud</text>
<text x="2602.5" y="1290.2" font-size="44"  >]</text>
<text x="2614.7" y="1296.9" font-size="30" font-style="italic" >μ</text>
<text x="2628.0" y="1296.9" font-size="31"  >112</text>
<text x="2466.0" y="1363.2" font-size="44"  >[</text>
<text x="2475.0" y="1363.2" font-size="46" font-style="italic" >O</text>
<text x="2509.2" y="1342.9" font-size="26" font-family="'DejaVu Sans Condensed', 'DejaVu Sans', sans-serif" textLength="69.0" lengthAdjust="spacingAndGlyphs" >SR,VL</text>
<text x="2507.8" y="1378.0" font-size="33" font-style="italic" textLength="89.3" lengthAdjust="spacingAndGlyphs" >∂aeudu</text>
<text x="2602.5" y="1363.2" font-size="44"  >]</text>
<text x="2617.4" y="1341.2" font-size="30"  >−</text>
<text x="2614.7" y="1374.0" font-size="30" font-style="italic" >μ</text>
<text x="2628.0" y="1374.0" font-size="31"  >121</text>
<text x="2466.0" y="1436.2" font-size="44"  >[</text>
<text x="2475.0" y="1436.2" font-size="46" font-style="italic" >O</text>
<text x="2509.2" y="1415.9" font-size="26" font-family="'DejaVu Sans Condensed', 'DejaVu Sans', sans-serif" textLength="69.0" lengthAdjust="spacingAndGlyphs" >SR,VL</text>
<text x="2507.8" y="1451.0" font-size="33" font-style="italic" textLength="89.3" lengthAdjust="spacingAndGlyphs" >∂aeuud</text>
<text x="2602.5" y="1436.2" font-size="44"  >]</text>
<text x="2614.7" y="1442.9" font-size="30" font-style="italic" >μ</text>
<text x="2628.0" y="1442.9" font-size="31"  >112,</text>
<text x="2708.0" y="1436.2" font-size="44"  >[</text>
<text x="2717.0" y="1436.2" font-size="46" font-style="italic" >O</text>
<text x="2751.2" y="1415.9" font-size="26" font-family="'DejaVu Sans Condensed', 'DejaVu Sans', sans-serif" textLength="69.0" lengthAdjust="spacingAndGlyphs" >SR,VL</text>
<text x="2749.8" y="1451.0" font-size="33" font-style="italic" textLength="89.3" lengthAdjust="spacingAndGlyphs" >∂aeudu</text>
<text x="2844.5" y="1436.2" font-size="44"  >]</text>
<text x="2858.0" y="1414.2" font-size="30"  >+</text>
<text x="2856.8" y="1447.0" font-size="30" font-style="italic" >μ</text>
<text x="2870.0" y="1447.0" font-size="31"  >121</text>
<text x="2341.4" y="2195.0" font-size="58" text-anchor="middle">|<tspan font-weight="bold" font-style="italic">p</tspan><tspan font-style="italic" font-size="41" dy="12">η</tspan><tspan dy="-12">|[GeV]</tspan></text>
<text transform="translate(1636.9,1607.5) rotate(-90) scale(1.03,1)" x="0" y="0" font-size="58" text-anchor="middle"><tspan font-style="italic">d</tspan>Γ<tspan dx="-28.5" dy="-9">˜</tspan><tspan dx="9" dy="9">/</tspan><tspan font-style="italic">d</tspan>|<tspan font-weight="bold" font-style="italic">p</tspan><tspan font-style="italic" font-size="41" dy="12">η</tspan><tspan dy="-12">|[GeV</tspan><tspan font-size="41" dy="-24">−1</tspan><tspan dy="24">]</tspan></text>
<line x1="585.8" y1="2061.3" x2="585.8" y2="1242.3" stroke="#808080" stroke-width="6.4" stroke-dasharray="12.6 12.6"/>
<text transform="translate(561.2,1988) rotate(-90)" font-size="50"><tspan font-style="italic">p</tspan><tspan font-size="34" dy="7">th</tspan></text>
</g>
<path d="M164.6 951.0v-15.5M164.6 37.5v15.5M199.4 951.0v-9.0M199.4 37.5v9.0M234.2 951.0v-9.0M234.2 37.5v9.0M269.0 951.0v-9.0M269.0 37.5v9.0M303.8 951.0v-9.0M303.8 37.5v9.0M338.6 951.0v-15.5M338.6 37.5v15.5M373.4 951.0v-9.0M373.4 37.5v9.0M408.2 951.0v-9.0M408.2 37.5v9.0M443.0 951.0v-9.0M443.0 37.5v9.0M477.8 951.0v-9.0M477.8 37.5v9.0M512.6 951.0v-15.5M512.6 37.5v15.5M547.4 951.0v-9.0M547.4 37.5v9.0M582.2 951.0v-9.0M582.2 37.5v9.0M617.0 951.0v-9.0M617.0 37.5v9.0M651.8 951.0v-9.0M651.8 37.5v9.0M686.6 951.0v-15.5M686.6 37.5v15.5M721.4 951.0v-9.0M721.4 37.5v9.0M756.2 951.0v-9.0M756.2 37.5v9.0M791.0 951.0v-9.0M791.0 37.5v9.0M825.8 951.0v-9.0M825.8 37.5v9.0M860.6 951.0v-15.5M860.6 37.5v15.5M895.4 951.0v-9.0M895.4 37.5v9.0M930.2 951.0v-9.0M930.2 37.5v9.0M965.0 951.0v-9.0M965.0 37.5v9.0M999.8 951.0v-9.0M999.8 37.5v9.0M1034.6 951.0v-15.5M1034.6 37.5v15.5M1069.4 951.0v-9.0M1069.4 37.5v9.0M1104.2 951.0v-9.0M1104.2 37.5v9.0M1139.0 951.0v-9.0M1139.0 37.5v9.0M1173.8 951.0v-9.0M1173.8 37.5v9.0M1208.6 951.0v-15.5M1208.6 37.5v15.5M1243.4 951.0v-9.0M1243.4 37.5v9.0M1278.2 951.0v-9.0M1278.2 37.5v9.0M1313.0 951.0v-9.0M1313.0 37.5v9.0M1347.8 951.0v-9.0M1347.8 37.5v9.0M1382.6 951.0v-15.5M1382.6 37.5v15.5M164.6 951.0h15.5M1382.6 951.0h-15.5M164.6 918.4h9.0M1382.6 918.4h-9.0M164.6 885.8h9.0M1382.6 885.8h-9.0M164.6 853.1h9.0M1382.6 853.1h-9.0M164.6 820.5h15.5M1382.6 820.5h-15.5M164.6 787.9h9.0M1382.6 787.9h-9.0M164.6 755.2h9.0M1382.6 755.2h-9.0M164.6 722.6h9.0M1382.6 722.6h-9.0M164.6 690.0h15.5M1382.6 690.0h-15.5M164.6 657.4h9.0M1382.6 657.4h-9.0M164.6 624.8h9.0M1382.6 624.8h-9.0M164.6 592.1h9.0M1382.6 592.1h-9.0M164.6 559.5h15.5M1382.6 559.5h-15.5M164.6 526.9h9.0M1382.6 526.9h-9.0M164.6 494.2h9.0M1382.6 494.2h-9.0M164.6 461.6h9.0M1382.6 461.6h-9.0M164.6 429.0h15.5M1382.6 429.0h-15.5M164.6 396.4h9.0M1382.6 396.4h-9.0M164.6 363.8h9.0M1382.6 363.8h-9.0M164.6 331.1h9.0M1382.6 331.1h-9.0M164.6 298.5h15.5M1382.6 298.5h-15.5M164.6 265.9h9.0M1382.6 265.9h-9.0M164.6 233.2h9.0M1382.6 233.2h-9.0M164.6 200.6h9.0M1382.6 200.6h-9.0M164.6 168.0h15.5M1382.6 168.0h-15.5M164.6 135.4h9.0M1382.6 135.4h-9.0M164.6 102.8h9.0M1382.6 102.8h-9.0M164.6 70.1h9.0M1382.6 70.1h-9.0M164.6 37.5h15.5M1382.6 37.5h-15.5" stroke="#000" stroke-width="3" fill="none"/>
<rect x="164.6" y="37.5" width="1218.0" height="913.5" fill="none" stroke="#000" stroke-width="3.2"/>
<g font-family="'Liberation Serif', 'DejaVu Serif', serif" font-size="44" fill="#000"><text transform="translate(164.6,1003.7) scale(0.94,1)" text-anchor="middle">0.00</text><text transform="translate(338.6,1003.7) scale(0.94,1)" text-anchor="middle">0.05</text><text transform="translate(512.6,1003.7) scale(0.94,1)" text-anchor="middle">0.10</text><text transform="translate(686.6,1003.7) scale(0.94,1)" text-anchor="middle">0.15</text><text transform="translate(860.6,1003.7) scale(0.94,1)" text-anchor="middle">0.20</text><text transform="translate(1034.6,1003.7) scale(0.94,1)" text-anchor="middle">0.25</text><text transform="translate(1208.6,1003.7) scale(0.94,1)" text-anchor="middle">0.30</text><text transform="translate(1382.6,1003.7) scale(0.94,1)" text-anchor="middle">0.35</text><text transform="translate(154.1,968.9) scale(0.92,1)" text-anchor="end">0</text><text transform="translate(154.1,838.4) scale(0.92,1)" text-anchor="end">2</text><text transform="translate(154.1,707.9) scale(0.92,1)" text-anchor="end">4</text><text transform="translate(154.1,577.4) scale(0.92,1)" text-anchor="end">6</text><text transform="translate(154.1,446.9) scale(0.92,1)" text-anchor="end">8</text><text transform="translate(154.1,316.4) scale(0.92,1)" text-anchor="end">10</text><text transform="translate(154.1,185.9) scale(0.92,1)" text-anchor="end">12</text><text transform="translate(154.1,55.4) scale(0.92,1)" text-anchor="end">14</text></g>
<path d="M1732.5 947.5v-15.5M1732.5 34.0v15.5M1767.3 947.5v-9.0M1767.3 34.0v9.0M1802.1 947.5v-9.0M1802.1 34.0v9.0M1836.9 947.5v-9.0M1836.9 34.0v9.0M1871.7 947.5v-9.0M1871.7 34.0v9.0M1906.5 947.5v-15.5M1906.5 34.0v15.5M1941.3 947.5v-9.0M1941.3 34.0v9.0M1976.1 947.5v-9.0M1976.1 34.0v9.0M2010.9 947.5v-9.0M2010.9 34.0v9.0M2045.7 947.5v-9.0M2045.7 34.0v9.0M2080.5 947.5v-15.5M2080.5 34.0v15.5M2115.3 947.5v-9.0M2115.3 34.0v9.0M2150.1 947.5v-9.0M2150.1 34.0v9.0M2184.9 947.5v-9.0M2184.9 34.0v9.0M2219.7 947.5v-9.0M2219.7 34.0v9.0M2254.5 947.5v-15.5M2254.5 34.0v15.5M2289.3 947.5v-9.0M2289.3 34.0v9.0M2324.1 947.5v-9.0M2324.1 34.0v9.0M2358.9 947.5v-9.0M2358.9 34.0v9.0M2393.7 947.5v-9.0M2393.7 34.0v9.0M2428.5 947.5v-15.5M2428.5 34.0v15.5M2463.3 947.5v-9.0M2463.3 34.0v9.0M2498.1 947.5v-9.0M2498.1 34.0v9.0M2532.9 947.5v-9.0M2532.9 34.0v9.0M2567.7 947.5v-9.0M2567.7 34.0v9.0M2602.5 947.5v-15.5M2602.5 34.0v15.5M2637.3 947.5v-9.0M2637.3 34.0v9.0M2672.1 947.5v-9.0M2672.1 34.0v9.0M2706.9 947.5v-9.0M2706.9 34.0v9.0M2741.7 947.5v-9.0M2741.7 34.0v9.0M2776.5 947.5v-15.5M2776.5 34.0v15.5M2811.3 947.5v-9.0M2811.3 34.0v9.0M2846.1 947.5v-9.0M2846.1 34.0v9.0M2880.9 947.5v-9.0M2880.9 34.0v9.0M2915.7 947.5v-9.0M2915.7 34.0v9.0M2950.5 947.5v-15.5M2950.5 34.0v15.5M1732.5 947.5h15.5M2950.5 947.5h-15.5M1732.5 916.0h9.0M2950.5 916.0h-9.0M1732.5 884.5h9.0M2950.5 884.5h-9.0M1732.5 853.0h9.0M2950.5 853.0h-9.0M1732.5 821.5h15.5M2950.5 821.5h-15.5M1732.5 790.0h9.0M2950.5 790.0h-9.0M1732.5 758.5h9.0M2950.5 758.5h-9.0M1732.5 727.0h9.0M2950.5 727.0h-9.0M1732.5 695.5h15.5M2950.5 695.5h-15.5M1732.5 664.0h9.0M2950.5 664.0h-9.0M1732.5 632.5h9.0M2950.5 632.5h-9.0M1732.5 601.0h9.0M2950.5 601.0h-9.0M1732.5 569.5h15.5M2950.5 569.5h-15.5M1732.5 538.0h9.0M2950.5 538.0h-9.0M1732.5 506.5h9.0M2950.5 506.5h-9.0M1732.5 475.0h9.0M2950.5 475.0h-9.0M1732.5 443.5h15.5M2950.5 443.5h-15.5M1732.5 412.0h9.0M2950.5 412.0h-9.0M1732.5 380.5h9.0M2950.5 380.5h-9.0M1732.5 349.0h9.0M2950.5 349.0h-9.0M1732.5 317.5h15.5M2950.5 317.5h-15.5M1732.5 286.0h9.0M2950.5 286.0h-9.0M1732.5 254.5h9.0M2950.5 254.5h-9.0M1732.5 223.0h9.0M2950.5 223.0h-9.0M1732.5 191.5h15.5M2950.5 191.5h-15.5M1732.5 160.0h9.0M2950.5 160.0h-9.0M1732.5 128.5h9.0M2950.5 128.5h-9.0M1732.5 97.0h9.0M2950.5 97.0h-9.0M1732.5 65.5h15.5M2950.5 65.5h-15.5M1732.5 34.0h9.0M2950.5 34.0h-9.0" stroke="#000" stroke-width="3" fill="none"/>
<rect x="1732.5" y="34.0" width="1218.0" height="913.5" fill="none" stroke="#000" stroke-width="3.2"/>
<g font-family="'Liberation Serif', 'DejaVu Serif', serif" font-size="44" fill="#000"><text transform="translate(1732.5,1000.2) scale(0.94,1)" text-anchor="middle">0.00</text><text transform="translate(1906.5,1000.2) scale(0.94,1)" text-anchor="middle">0.05</text><text transform="translate(2080.5,1000.2) scale(0.94,1)" text-anchor="middle">0.10</text><text transform="translate(2254.5,1000.2) scale(0.94,1)" text-anchor="middle">0.15</text><text transform="translate(2428.5,1000.2) scale(0.94,1)" text-anchor="middle">0.20</text><text transform="translate(2602.5,1000.2) scale(0.94,1)" text-anchor="middle">0.25</text><text transform="translate(2776.5,1000.2) scale(0.94,1)" text-anchor="middle">0.30</text><text transform="translate(2950.5,1000.2) scale(0.94,1)" text-anchor="middle">0.35</text><text transform="translate(1722.0,965.4) scale(0.92,1)" text-anchor="end">0</text><text transform="translate(1722.0,839.4) scale(0.92,1)" text-anchor="end">2</text><text transform="translate(1722.0,713.4) scale(0.92,1)" text-anchor="end">4</text><text transform="translate(1722.0,587.4) scale(0.92,1)" text-anchor="end">6</text><text transform="translate(1722.0,461.4) scale(0.92,1)" text-anchor="end">8</text><text transform="translate(1722.0,335.4) scale(0.92,1)" text-anchor="end">10</text><text transform="translate(1722.0,209.4) scale(0.92,1)" text-anchor="end">12</text><text transform="translate(1722.0,83.4) scale(0.92,1)" text-anchor="end">14</text></g>
<path d="M164.7 2061.3v-15.5M164.7 1147.7v15.5M199.5 2061.3v-9.0M199.5 1147.7v9.0M234.3 2061.3v-9.0M234.3 1147.7v9.0M269.1 2061.3v-9.0M269.1 1147.7v9.0M303.9 2061.3v-9.0M303.9 1147.7v9.0M338.7 2061.3v-15.5M338.7 1147.7v15.5M373.5 2061.3v-9.0M373.5 1147.7v9.0M408.3 2061.3v-9.0M408.3 1147.7v9.0M443.1 2061.3v-9.0M443.1 1147.7v9.0M477.9 2061.3v-9.0M477.9 1147.7v9.0M512.7 2061.3v-15.5M512.7 1147.7v15.5M547.5 2061.3v-9.0M547.5 1147.7v9.0M582.3 2061.3v-9.0M582.3 1147.7v9.0M617.1 2061.3v-9.0M617.1 1147.7v9.0M651.9 2061.3v-9.0M651.9 1147.7v9.0M686.7 2061.3v-15.5M686.7 1147.7v15.5M721.5 2061.3v-9.0M721.5 1147.7v9.0M756.3 2061.3v-9.0M756.3 1147.7v9.0M791.1 2061.3v-9.0M791.1 1147.7v9.0M825.9 2061.3v-9.0M825.9 1147.7v9.0M860.7 2061.3v-15.5M860.7 1147.7v15.5M895.5 2061.3v-9.0M895.5 1147.7v9.0M930.3 2061.3v-9.0M930.3 1147.7v9.0M965.1 2061.3v-9.0M965.1 1147.7v9.0M999.9 2061.3v-9.0M999.9 1147.7v9.0M1034.7 2061.3v-15.5M1034.7 1147.7v15.5M1069.5 2061.3v-9.0M1069.5 1147.7v9.0M1104.3 2061.3v-9.0M1104.3 1147.7v9.0M1139.1 2061.3v-9.0M1139.1 1147.7v9.0M1173.9 2061.3v-9.0M1173.9 1147.7v9.0M1208.7 2061.3v-15.5M1208.7 1147.7v15.5M1243.5 2061.3v-9.0M1243.5 1147.7v9.0M1278.3 2061.3v-9.0M1278.3 1147.7v9.0M1313.1 2061.3v-9.0M1313.1 1147.7v9.0M1347.9 2061.3v-9.0M1347.9 1147.7v9.0M1382.7 2061.3v-15.5M1382.7 1147.7v15.5M164.7 2061.3h15.5M1382.7 2061.3h-15.5M164.7 2007.6h9.0M1382.7 2007.6h-9.0M164.7 1953.8h9.0M1382.7 1953.8h-9.0M164.7 1900.1h9.0M1382.7 1900.1h-9.0M164.7 1846.3h9.0M1382.7 1846.3h-9.0M164.7 1792.6h15.5M1382.7 1792.6h-15.5M164.7 1738.9h9.0M1382.7 1738.9h-9.0M164.7 1685.1h9.0M1382.7 1685.1h-9.0M164.7 1631.4h9.0M1382.7 1631.4h-9.0M164.7 1577.6h9.0M1382.7 1577.6h-9.0M164.7 1523.9h15.5M1382.7 1523.9h-15.5M164.7 1470.1h9.0M1382.7 1470.1h-9.0M164.7 1416.4h9.0M1382.7 1416.4h-9.0M164.7 1362.7h9.0M1382.7 1362.7h-9.0M164.7 1308.9h9.0M1382.7 1308.9h-9.0M164.7 1255.2h15.5M1382.7 1255.2h-15.5M164.7 1201.4h9.0M1382.7 1201.4h-9.0M164.7 1147.7h9.0M1382.7 1147.7h-9.0" stroke="#000" stroke-width="3" fill="none"/>
<rect x="164.7" y="1147.7" width="1218.0" height="913.6" fill="none" stroke="#000" stroke-width="3.2"/>
<g font-family="'Liberation Serif', 'DejaVu Serif', serif" font-size="44" fill="#000"><text transform="translate(164.7,2114.0) scale(0.94,1)" text-anchor="middle">0.00</text><text transform="translate(338.7,2114.0) scale(0.94,1)" text-anchor="middle">0.05</text><text transform="translate(512.7,2114.0) scale(0.94,1)" text-anchor="middle">0.10</text><text transform="translate(686.7,2114.0) scale(0.94,1)" text-anchor="middle">0.15</text><text transform="translate(860.7,2114.0) scale(0.94,1)" text-anchor="middle">0.20</text><text transform="translate(1034.7,2114.0) scale(0.94,1)" text-anchor="middle">0.25</text><text transform="translate(1208.7,2114.0) scale(0.94,1)" text-anchor="middle">0.30</text><text transform="translate(1382.7,2114.0) scale(0.94,1)" text-anchor="middle">0.35</text><text transform="translate(154.2,2079.2) scale(0.92,1)" text-anchor="end">0</text><text transform="translate(154.2,1810.5) scale(0.92,1)" text-anchor="end">5</text><text transform="translate(154.2,1541.8) scale(0.92,1)" text-anchor="end">10</text><text transform="translate(154.2,1273.1) scale(0.92,1)" text-anchor="end">15</text></g>
<path d="M1732.4 2059.0v-15.5M1732.4 1146.0v15.5M1767.2 2059.0v-9.0M1767.2 1146.0v9.0M1802.0 2059.0v-9.0M1802.0 1146.0v9.0M1836.8 2059.0v-9.0M1836.8 1146.0v9.0M1871.6 2059.0v-9.0M1871.6 1146.0v9.0M1906.4 2059.0v-15.5M1906.4 1146.0v15.5M1941.2 2059.0v-9.0M1941.2 1146.0v9.0M1976.0 2059.0v-9.0M1976.0 1146.0v9.0M2010.8 2059.0v-9.0M2010.8 1146.0v9.0M2045.6 2059.0v-9.0M2045.6 1146.0v9.0M2080.4 2059.0v-15.5M2080.4 1146.0v15.5M2115.2 2059.0v-9.0M2115.2 1146.0v9.0M2150.0 2059.0v-9.0M2150.0 1146.0v9.0M2184.8 2059.0v-9.0M2184.8 1146.0v9.0M2219.6 2059.0v-9.0M2219.6 1146.0v9.0M2254.4 2059.0v-15.5M2254.4 1146.0v15.5M2289.2 2059.0v-9.0M2289.2 1146.0v9.0M2324.0 2059.0v-9.0M2324.0 1146.0v9.0M2358.8 2059.0v-9.0M2358.8 1146.0v9.0M2393.6 2059.0v-9.0M2393.6 1146.0v9.0M2428.4 2059.0v-15.5M2428.4 1146.0v15.5M2463.2 2059.0v-9.0M2463.2 1146.0v9.0M2498.0 2059.0v-9.0M2498.0 1146.0v9.0M2532.8 2059.0v-9.0M2532.8 1146.0v9.0M2567.6 2059.0v-9.0M2567.6 1146.0v9.0M2602.4 2059.0v-15.5M2602.4 1146.0v15.5M2637.2 2059.0v-9.0M2637.2 1146.0v9.0M2672.0 2059.0v-9.0M2672.0 1146.0v9.0M2706.8 2059.0v-9.0M2706.8 1146.0v9.0M2741.6 2059.0v-9.0M2741.6 1146.0v9.0M2776.4 2059.0v-15.5M2776.4 1146.0v15.5M2811.2 2059.0v-9.0M2811.2 1146.0v9.0M2846.0 2059.0v-9.0M2846.0 1146.0v9.0M2880.8 2059.0v-9.0M2880.8 1146.0v9.0M2915.6 2059.0v-9.0M2915.6 1146.0v9.0M2950.4 2059.0v-15.5M2950.4 1146.0v15.5M1732.4 2059.0h15.5M2950.4 2059.0h-15.5M1732.4 2025.7h9.0M2950.4 2025.7h-9.0M1732.4 1992.4h9.0M2950.4 1992.4h-9.0M1732.4 1959.0h9.0M2950.4 1959.0h-9.0M1732.4 1925.7h15.5M2950.4 1925.7h-15.5M1732.4 1892.4h9.0M2950.4 1892.4h-9.0M1732.4 1859.1h9.0M2950.4 1859.1h-9.0M1732.4 1825.8h9.0M2950.4 1825.8h-9.0M1732.4 1792.4h15.5M2950.4 1792.4h-15.5M1732.4 1759.1h9.0M2950.4 1759.1h-9.0M1732.4 1725.8h9.0M2950.4 1725.8h-9.0M1732.4 1692.5h9.0M2950.4 1692.5h-9.0M1732.4 1659.1h15.5M2950.4 1659.1h-15.5M1732.4 1625.8h9.0M2950.4 1625.8h-9.0M1732.4 1592.5h9.0M2950.4 1592.5h-9.0M1732.4 1559.2h9.0M2950.4 1559.2h-9.0M1732.4 1525.9h15.5M2950.4 1525.9h-15.5M1732.4 1492.5h9.0M2950.4 1492.5h-9.0M1732.4 1459.2h9.0M2950.4 1459.2h-9.0M1732.4 1425.9h9.0M2950.4 1425.9h-9.0M1732.4 1392.6h15.5M2950.4 1392.6h-15.5M1732.4 1359.3h9.0M2950.4 1359.3h-9.0M1732.4 1325.9h9.0M2950.4 1325.9h-9.0M1732.4 1292.6h9.0M2950.4 1292.6h-9.0M1732.4 1259.3h15.5M2950.4 1259.3h-15.5M1732.4 1226.0h9.0M2950.4 1226.0h-9.0M1732.4 1192.6h9.0M2950.4 1192.6h-9.0M1732.4 1159.3h9.0M2950.4 1159.3h-9.0" stroke="#000" stroke-width="3" fill="none"/>
<rect x="1732.4" y="1146.0" width="1218.0" height="913.0" fill="none" stroke="#000" stroke-width="3.2"/>
<g font-family="'Liberation Serif', 'DejaVu Serif', serif" font-size="44" fill="#000"><text transform="translate(1732.4,2111.7) scale(0.94,1)" text-anchor="middle">0.00</text><text transform="translate(1906.4,2111.7) scale(0.94,1)" text-anchor="middle">0.05</text><text transform="translate(2080.4,2111.7) scale(0.94,1)" text-anchor="middle">0.10</text><text transform="translate(2254.4,2111.7) scale(0.94,1)" text-anchor="middle">0.15</text><text transform="translate(2428.4,2111.7) scale(0.94,1)" text-anchor="middle">0.20</text><text transform="translate(2602.4,2111.7) scale(0.94,1)" text-anchor="middle">0.25</text><text transform="translate(2776.4,2111.7) scale(0.94,1)" text-anchor="middle">0.30</text><text transform="translate(2950.4,2111.7) scale(0.94,1)" text-anchor="middle">0.35</text><text transform="translate(1721.9,2076.9) scale(0.92,1)" text-anchor="end">0</text><text transform="translate(1721.9,1943.6) scale(0.92,1)" text-anchor="end">2</text><text transform="translate(1721.9,1810.3) scale(0.92,1)" text-anchor="end">4</text><text transform="translate(1721.9,1677.0) scale(0.92,1)" text-anchor="end">6</text><text transform="translate(1721.9,1543.8) scale(0.92,1)" text-anchor="end">8</text><text transform="translate(1721.9,1410.5) scale(0.92,1)" text-anchor="end">10</text><text transform="translate(1721.9,1277.2) scale(0.92,1)" text-anchor="end">12</text></g>
</svg></body></html>
